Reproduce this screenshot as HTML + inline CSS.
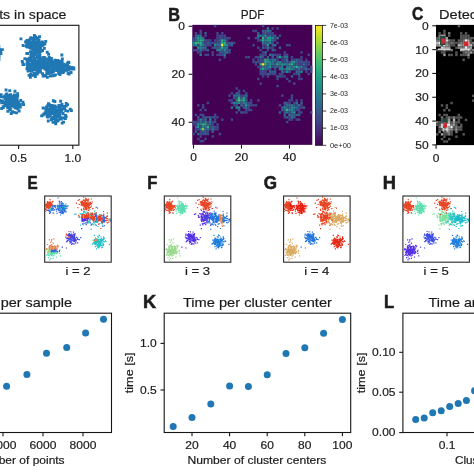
<!DOCTYPE html><html><head><meta charset="utf-8"><style>html,body{margin:0;padding:0;background:#fff;width:474px;height:474px;overflow:hidden}svg{display:block;filter:blur(0.35px);font-family:"Liberation Sans",sans-serif}text{fill:#1c1c1c}</style></head><body><svg width="474" height="474" viewBox="0 0 474 474">
<rect width="474" height="474" fill="#fff"/>
<clipPath id="clipA"><rect x="-40.3" y="25.3" width="119.20" height="119.90"/></clipPath>
<path clip-path="url(#clipA)" fill="#1f77b4" d="M-30.7 49.9h2.9v2.9h-2.9zM-29.4 47.1h2.9v2.9h-2.9zM-31.9 49.0h2.9v2.9h-2.9zM-34.7 41.4h2.9v2.9h-2.9zM-32.8 44.9h2.9v2.9h-2.9zM-35.2 51.0h2.9v2.9h-2.9zM-30.4 40.9h2.9v2.9h-2.9zM-24.7 52.9h2.9v2.9h-2.9zM-32.9 42.4h2.9v2.9h-2.9zM-33.5 52.6h2.9v2.9h-2.9zM-28.5 46.1h2.9v2.9h-2.9zM-29.1 52.7h2.9v2.9h-2.9zM-30.2 50.0h2.9v2.9h-2.9zM-34.9 43.3h2.9v2.9h-2.9zM-30.8 54.6h2.9v2.9h-2.9zM-27.6 55.3h2.9v2.9h-2.9zM-36.8 49.2h2.9v2.9h-2.9zM-32.8 48.4h2.9v2.9h-2.9zM-39.3 48.8h2.9v2.9h-2.9zM-36.5 45.5h2.9v2.9h-2.9zM-39.0 54.0h2.9v2.9h-2.9zM-31.8 47.3h2.9v2.9h-2.9zM-36.4 49.3h2.9v2.9h-2.9zM-29.5 46.3h2.9v2.9h-2.9zM-30.0 47.0h2.9v2.9h-2.9zM-31.6 44.3h2.9v2.9h-2.9zM-33.1 48.9h2.9v2.9h-2.9zM-30.9 53.4h2.9v2.9h-2.9zM-30.2 49.6h2.9v2.9h-2.9zM-37.6 46.7h2.9v2.9h-2.9zM-32.9 48.2h2.9v2.9h-2.9zM-35.1 47.2h2.9v2.9h-2.9zM-34.4 49.5h2.9v2.9h-2.9zM-25.9 48.0h2.9v2.9h-2.9zM-34.4 48.3h2.9v2.9h-2.9zM-30.9 43.9h2.9v2.9h-2.9zM-26.7 46.2h2.9v2.9h-2.9zM-33.3 56.2h2.9v2.9h-2.9zM-31.2 46.8h2.9v2.9h-2.9zM-30.2 45.2h2.9v2.9h-2.9zM-30.4 50.9h2.9v2.9h-2.9zM-36.2 55.2h2.9v2.9h-2.9zM-30.4 43.6h2.9v2.9h-2.9zM-24.6 48.7h2.9v2.9h-2.9zM-37.7 46.9h2.9v2.9h-2.9zM-26.8 42.4h2.9v2.9h-2.9zM-30.2 52.5h2.9v2.9h-2.9zM-33.6 49.4h2.9v2.9h-2.9zM-21.7 49.8h2.9v2.9h-2.9zM-27.3 46.4h2.9v2.9h-2.9zM-36.1 51.3h2.9v2.9h-2.9zM-30.4 47.3h2.9v2.9h-2.9zM-28.1 48.9h2.9v2.9h-2.9zM-31.6 45.0h2.9v2.9h-2.9zM-27.6 44.6h2.9v2.9h-2.9zM-31.0 54.9h2.9v2.9h-2.9zM-27.7 47.4h2.9v2.9h-2.9zM-24.2 50.7h2.9v2.9h-2.9zM-33.8 49.4h2.9v2.9h-2.9zM-29.8 47.7h2.9v2.9h-2.9zM-32.8 47.4h2.9v2.9h-2.9zM-30.1 52.1h2.9v2.9h-2.9zM-36.1 48.3h2.9v2.9h-2.9zM-33.3 48.9h2.9v2.9h-2.9zM-31.6 49.6h2.9v2.9h-2.9zM-26.7 54.3h2.9v2.9h-2.9zM-25.5 52.3h2.9v2.9h-2.9zM-36.7 51.0h2.9v2.9h-2.9zM-34.3 47.2h2.9v2.9h-2.9zM-27.8 43.9h2.9v2.9h-2.9zM-39.7 53.4h2.9v2.9h-2.9zM-32.8 53.4h2.9v2.9h-2.9zM-31.2 48.9h2.9v2.9h-2.9zM-25.0 51.7h2.9v2.9h-2.9zM-27.6 52.7h2.9v2.9h-2.9zM-32.2 52.9h2.9v2.9h-2.9zM-32.4 53.2h2.9v2.9h-2.9zM-31.8 47.6h2.9v2.9h-2.9zM-23.8 55.6h2.9v2.9h-2.9zM-32.6 44.4h2.9v2.9h-2.9zM-32.1 53.0h2.9v2.9h-2.9zM-29.1 51.5h2.9v2.9h-2.9zM-31.3 53.0h2.9v2.9h-2.9zM-31.6 57.1h2.9v2.9h-2.9zM-35.7 55.5h2.9v2.9h-2.9zM-30.8 44.8h2.9v2.9h-2.9zM-32.7 42.6h2.9v2.9h-2.9zM-25.5 52.8h2.9v2.9h-2.9zM-27.8 45.4h2.9v2.9h-2.9zM-30.8 49.4h2.9v2.9h-2.9zM-27.7 52.9h2.9v2.9h-2.9zM-32.2 42.8h2.9v2.9h-2.9zM-26.0 40.9h2.9v2.9h-2.9zM-30.7 50.5h2.9v2.9h-2.9zM-28.1 49.7h2.9v2.9h-2.9zM-36.5 48.5h2.9v2.9h-2.9zM-29.1 49.7h2.9v2.9h-2.9zM-38.3 46.0h2.9v2.9h-2.9zM-39.9 43.4h2.9v2.9h-2.9zM-32.1 48.8h2.9v2.9h-2.9zM-34.8 45.6h2.9v2.9h-2.9zM-30.0 42.8h2.9v2.9h-2.9zM-20.6 51.5h2.9v2.9h-2.9zM-34.5 49.2h2.9v2.9h-2.9zM-33.5 51.1h2.9v2.9h-2.9zM-29.8 45.5h2.9v2.9h-2.9zM-28.5 46.8h2.9v2.9h-2.9zM-31.5 45.4h2.9v2.9h-2.9zM-31.6 45.9h2.9v2.9h-2.9zM-27.5 50.3h2.9v2.9h-2.9zM-28.4 46.3h2.9v2.9h-2.9zM-35.4 50.9h2.9v2.9h-2.9zM-31.1 50.9h2.9v2.9h-2.9zM-30.6 57.7h2.9v2.9h-2.9zM-35.5 43.8h2.9v2.9h-2.9zM-29.5 53.1h2.9v2.9h-2.9zM-34.6 49.1h2.9v2.9h-2.9zM-26.3 49.4h2.9v2.9h-2.9zM-29.8 43.6h2.9v2.9h-2.9zM-34.0 49.4h2.9v2.9h-2.9zM-25.4 40.9h2.9v2.9h-2.9zM-30.1 59.0h2.9v2.9h-2.9zM-32.8 46.5h2.9v2.9h-2.9zM-22.4 54.5h2.9v2.9h-2.9zM-30.9 52.0h2.9v2.9h-2.9zM-35.7 51.1h2.9v2.9h-2.9zM-34.5 42.5h2.9v2.9h-2.9zM-21.1 47.7h2.9v2.9h-2.9zM-30.4 48.3h2.9v2.9h-2.9zM-39.2 57.2h2.9v2.9h-2.9zM-37.5 51.7h2.9v2.9h-2.9zM-22.6 49.5h2.9v2.9h-2.9zM-29.6 59.4h2.9v2.9h-2.9zM-30.4 45.9h2.9v2.9h-2.9zM-31.1 47.0h2.9v2.9h-2.9zM-26.7 55.8h2.9v2.9h-2.9zM-29.2 55.5h2.9v2.9h-2.9zM-38.2 53.8h2.9v2.9h-2.9zM-27.0 50.2h2.9v2.9h-2.9zM-35.6 50.9h2.9v2.9h-2.9zM-22.8 47.9h2.9v2.9h-2.9zM-39.9 48.2h2.9v2.9h-2.9zM-31.7 49.8h2.9v2.9h-2.9zM-2.5 58.2h2.9v2.9h-2.9zM-6.8 50.8h2.9v2.9h-2.9zM-9.6 51.2h2.9v2.9h-2.9zM-11.9 47.7h2.9v2.9h-2.9zM-12.2 63.3h2.9v2.9h-2.9zM-2.1 51.7h2.9v2.9h-2.9zM-7.0 59.3h2.9v2.9h-2.9zM-9.0 49.7h2.9v2.9h-2.9zM-10.9 53.2h2.9v2.9h-2.9zM-14.3 45.3h2.9v2.9h-2.9zM-9.6 50.9h2.9v2.9h-2.9zM-5.4 56.7h2.9v2.9h-2.9zM-11.1 47.1h2.9v2.9h-2.9zM-10.3 57.1h2.9v2.9h-2.9zM-10.3 53.9h2.9v2.9h-2.9zM-8.8 48.0h2.9v2.9h-2.9zM-16.5 50.3h2.9v2.9h-2.9zM-10.4 50.5h2.9v2.9h-2.9zM-13.2 52.3h2.9v2.9h-2.9zM-5.3 50.2h2.9v2.9h-2.9zM-12.8 49.0h2.9v2.9h-2.9zM-6.7 51.2h2.9v2.9h-2.9zM-2.4 48.1h2.9v2.9h-2.9zM-10.7 47.0h2.9v2.9h-2.9zM-12.0 52.3h2.9v2.9h-2.9zM-8.4 56.3h2.9v2.9h-2.9zM-9.3 46.0h2.9v2.9h-2.9zM-13.8 52.5h2.9v2.9h-2.9zM-7.2 49.7h2.9v2.9h-2.9zM-0.2 48.3h2.9v2.9h-2.9zM-10.5 56.1h2.9v2.9h-2.9zM-10.2 50.3h2.9v2.9h-2.9zM-14.0 58.9h2.9v2.9h-2.9zM-7.9 49.2h2.9v2.9h-2.9zM-14.9 54.1h2.9v2.9h-2.9zM-14.3 51.5h2.9v2.9h-2.9zM-3.5 49.3h2.9v2.9h-2.9zM-13.4 55.0h2.9v2.9h-2.9zM-4.4 51.8h2.9v2.9h-2.9zM-2.4 55.1h2.9v2.9h-2.9zM-8.1 52.3h2.9v2.9h-2.9zM-6.8 47.8h2.9v2.9h-2.9zM-0.5 52.1h2.9v2.9h-2.9zM-10.2 52.7h2.9v2.9h-2.9zM-12.0 56.6h2.9v2.9h-2.9zM-15.4 48.6h2.9v2.9h-2.9zM-9.1 52.3h2.9v2.9h-2.9zM-2.6 45.1h2.9v2.9h-2.9zM-5.0 55.3h2.9v2.9h-2.9zM-13.5 47.9h2.9v2.9h-2.9zM-13.2 44.8h2.9v2.9h-2.9zM-11.6 52.2h2.9v2.9h-2.9zM-8.0 57.2h2.9v2.9h-2.9zM-10.2 46.0h2.9v2.9h-2.9zM-8.3 47.8h2.9v2.9h-2.9zM-8.0 49.3h2.9v2.9h-2.9zM-10.6 47.7h2.9v2.9h-2.9zM-9.5 54.1h2.9v2.9h-2.9zM-8.4 49.0h2.9v2.9h-2.9zM-9.7 49.4h2.9v2.9h-2.9zM-7.0 55.0h2.9v2.9h-2.9zM-0.9 49.3h2.9v2.9h-2.9zM-6.6 54.3h2.9v2.9h-2.9zM-9.0 48.3h2.9v2.9h-2.9zM-16.9 47.3h2.9v2.9h-2.9zM-7.5 44.6h2.9v2.9h-2.9zM-18.1 60.4h2.9v2.9h-2.9zM-15.7 51.1h2.9v2.9h-2.9zM-5.4 53.5h2.9v2.9h-2.9zM-6.1 52.4h2.9v2.9h-2.9zM-10.0 53.2h2.9v2.9h-2.9zM-17.0 52.7h2.9v2.9h-2.9zM-11.0 60.6h2.9v2.9h-2.9zM-12.4 48.0h2.9v2.9h-2.9zM-6.4 45.8h2.9v2.9h-2.9zM0.9 48.2h2.9v2.9h-2.9zM-8.3 46.8h2.9v2.9h-2.9zM-12.8 55.7h2.9v2.9h-2.9zM-14.6 56.0h2.9v2.9h-2.9zM-9.6 48.4h2.9v2.9h-2.9zM-10.1 46.5h2.9v2.9h-2.9zM-14.5 51.0h2.9v2.9h-2.9zM-8.8 58.4h2.9v2.9h-2.9zM-4.3 54.7h2.9v2.9h-2.9zM-4.5 47.9h2.9v2.9h-2.9zM-4.4 56.9h2.9v2.9h-2.9zM-11.4 47.9h2.9v2.9h-2.9zM-7.0 51.3h2.9v2.9h-2.9zM-9.9 46.1h2.9v2.9h-2.9zM-11.1 48.3h2.9v2.9h-2.9zM-10.8 58.4h2.9v2.9h-2.9zM-15.2 56.0h2.9v2.9h-2.9zM-15.8 50.8h2.9v2.9h-2.9zM-5.7 48.8h2.9v2.9h-2.9zM-10.2 44.4h2.9v2.9h-2.9zM-8.3 50.8h2.9v2.9h-2.9zM-4.8 52.4h2.9v2.9h-2.9zM-17.1 52.1h2.9v2.9h-2.9zM-12.8 52.1h2.9v2.9h-2.9zM-8.5 47.7h2.9v2.9h-2.9zM-7.5 52.2h2.9v2.9h-2.9zM-11.0 52.3h2.9v2.9h-2.9zM-4.7 58.0h2.9v2.9h-2.9zM-8.4 60.5h2.9v2.9h-2.9zM-14.8 51.9h2.9v2.9h-2.9zM-13.5 49.2h2.9v2.9h-2.9zM-5.7 52.2h2.9v2.9h-2.9zM-7.2 49.9h2.9v2.9h-2.9zM-17.9 49.3h2.9v2.9h-2.9zM-3.2 52.2h2.9v2.9h-2.9zM-6.6 48.0h2.9v2.9h-2.9zM-4.9 51.5h2.9v2.9h-2.9zM-10.0 49.5h2.9v2.9h-2.9zM-7.5 56.3h2.9v2.9h-2.9zM-10.6 41.1h2.9v2.9h-2.9zM-14.5 55.6h2.9v2.9h-2.9zM-16.1 54.1h2.9v2.9h-2.9zM-11.0 54.4h2.9v2.9h-2.9zM-13.3 55.1h2.9v2.9h-2.9zM-7.6 48.0h2.9v2.9h-2.9zM-9.3 50.7h2.9v2.9h-2.9zM-19.1 56.8h2.9v2.9h-2.9zM-8.8 55.4h2.9v2.9h-2.9zM-19.0 53.9h2.9v2.9h-2.9zM-13.7 42.1h2.9v2.9h-2.9zM-11.4 56.2h2.9v2.9h-2.9zM-8.6 59.4h2.9v2.9h-2.9zM-8.2 54.1h2.9v2.9h-2.9zM-10.4 41.8h2.9v2.9h-2.9zM-12.4 58.9h2.9v2.9h-2.9zM-12.0 51.5h2.9v2.9h-2.9zM-16.3 35.2h2.9v2.9h-2.9zM-11.2 55.1h2.9v2.9h-2.9zM-13.3 42.3h2.9v2.9h-2.9zM-8.6 43.6h2.9v2.9h-2.9zM-18.0 48.1h2.9v2.9h-2.9zM-7.6 61.2h2.9v2.9h-2.9zM-8.3 50.0h2.9v2.9h-2.9zM34.5 42.9h2.9v2.9h-2.9zM41.9 42.3h2.9v2.9h-2.9zM41.1 49.0h2.9v2.9h-2.9zM32.7 46.0h2.9v2.9h-2.9zM32.0 46.7h2.9v2.9h-2.9zM26.9 41.7h2.9v2.9h-2.9zM29.8 52.1h2.9v2.9h-2.9zM35.3 51.2h2.9v2.9h-2.9zM35.2 46.3h2.9v2.9h-2.9zM33.7 46.8h2.9v2.9h-2.9zM38.1 35.2h2.9v2.9h-2.9zM29.4 46.6h2.9v2.9h-2.9zM32.9 43.0h2.9v2.9h-2.9zM36.8 45.7h2.9v2.9h-2.9zM36.1 46.8h2.9v2.9h-2.9zM38.5 42.4h2.9v2.9h-2.9zM35.2 36.6h2.9v2.9h-2.9zM31.7 45.4h2.9v2.9h-2.9zM35.0 40.7h2.9v2.9h-2.9zM28.2 42.4h2.9v2.9h-2.9zM25.1 41.3h2.9v2.9h-2.9zM36.1 42.4h2.9v2.9h-2.9zM32.9 34.0h2.9v2.9h-2.9zM34.7 49.1h2.9v2.9h-2.9zM24.8 44.9h2.9v2.9h-2.9zM31.4 48.6h2.9v2.9h-2.9zM30.2 52.3h2.9v2.9h-2.9zM28.9 43.9h2.9v2.9h-2.9zM31.5 40.0h2.9v2.9h-2.9zM37.6 38.7h2.9v2.9h-2.9zM35.1 41.7h2.9v2.9h-2.9zM30.2 44.2h2.9v2.9h-2.9zM33.1 35.3h2.9v2.9h-2.9zM37.0 45.3h2.9v2.9h-2.9zM19.5 37.4h2.9v2.9h-2.9zM32.6 45.1h2.9v2.9h-2.9zM35.9 43.4h2.9v2.9h-2.9zM36.6 42.5h2.9v2.9h-2.9zM41.6 43.5h2.9v2.9h-2.9zM38.8 41.5h2.9v2.9h-2.9zM34.8 41.2h2.9v2.9h-2.9zM34.7 36.7h2.9v2.9h-2.9zM37.1 43.7h2.9v2.9h-2.9zM30.5 51.7h2.9v2.9h-2.9zM33.0 52.3h2.9v2.9h-2.9zM37.7 49.5h2.9v2.9h-2.9zM42.9 46.9h2.9v2.9h-2.9zM32.4 41.0h2.9v2.9h-2.9zM33.0 50.0h2.9v2.9h-2.9zM34.2 43.6h2.9v2.9h-2.9zM39.9 43.6h2.9v2.9h-2.9zM33.0 42.6h2.9v2.9h-2.9zM40.5 44.2h2.9v2.9h-2.9zM28.4 42.0h2.9v2.9h-2.9zM32.3 43.5h2.9v2.9h-2.9zM32.2 39.2h2.9v2.9h-2.9zM37.1 42.3h2.9v2.9h-2.9zM38.4 53.6h2.9v2.9h-2.9zM25.7 43.6h2.9v2.9h-2.9zM28.7 42.8h2.9v2.9h-2.9zM34.9 46.1h2.9v2.9h-2.9zM29.9 46.9h2.9v2.9h-2.9zM25.7 39.1h2.9v2.9h-2.9zM38.3 43.0h2.9v2.9h-2.9zM35.6 47.8h2.9v2.9h-2.9zM35.6 45.0h2.9v2.9h-2.9zM30.8 44.4h2.9v2.9h-2.9zM38.3 50.5h2.9v2.9h-2.9zM32.0 41.0h2.9v2.9h-2.9zM38.6 44.2h2.9v2.9h-2.9zM28.7 41.6h2.9v2.9h-2.9zM29.0 50.2h2.9v2.9h-2.9zM34.2 35.5h2.9v2.9h-2.9zM29.7 41.0h2.9v2.9h-2.9zM36.5 41.6h2.9v2.9h-2.9zM34.5 46.7h2.9v2.9h-2.9zM28.6 46.4h2.9v2.9h-2.9zM33.6 49.8h2.9v2.9h-2.9zM31.5 37.1h2.9v2.9h-2.9zM37.7 47.1h2.9v2.9h-2.9zM30.1 42.6h2.9v2.9h-2.9zM31.0 41.0h2.9v2.9h-2.9zM39.2 46.2h2.9v2.9h-2.9zM44.3 39.9h2.9v2.9h-2.9zM33.5 42.3h2.9v2.9h-2.9zM34.3 37.5h2.9v2.9h-2.9zM40.8 41.1h2.9v2.9h-2.9zM32.6 45.4h2.9v2.9h-2.9zM28.4 45.2h2.9v2.9h-2.9zM33.8 50.6h2.9v2.9h-2.9zM35.4 43.0h2.9v2.9h-2.9zM29.1 37.3h2.9v2.9h-2.9zM25.0 40.6h2.9v2.9h-2.9zM26.1 39.9h2.9v2.9h-2.9zM36.5 38.6h2.9v2.9h-2.9zM29.4 45.7h2.9v2.9h-2.9zM32.5 41.1h2.9v2.9h-2.9zM34.3 35.4h2.9v2.9h-2.9zM36.3 46.8h2.9v2.9h-2.9zM31.5 43.4h2.9v2.9h-2.9zM35.7 45.4h2.9v2.9h-2.9zM28.8 44.3h2.9v2.9h-2.9zM31.4 46.6h2.9v2.9h-2.9zM28.1 44.0h2.9v2.9h-2.9zM38.8 49.1h2.9v2.9h-2.9zM33.1 45.7h2.9v2.9h-2.9zM29.5 45.5h2.9v2.9h-2.9zM31.5 45.6h2.9v2.9h-2.9zM32.1 37.6h2.9v2.9h-2.9zM36.7 43.1h2.9v2.9h-2.9zM25.3 42.7h2.9v2.9h-2.9zM28.1 44.7h2.9v2.9h-2.9zM31.3 38.0h2.9v2.9h-2.9zM45.8 50.8h2.9v2.9h-2.9zM37.9 44.3h2.9v2.9h-2.9zM32.6 38.7h2.9v2.9h-2.9zM36.7 36.6h2.9v2.9h-2.9zM43.4 42.7h2.9v2.9h-2.9zM32.5 48.2h2.9v2.9h-2.9zM27.5 39.9h2.9v2.9h-2.9zM33.9 35.9h2.9v2.9h-2.9zM28.1 38.4h2.9v2.9h-2.9zM37.6 53.8h2.9v2.9h-2.9zM27.5 45.4h2.9v2.9h-2.9zM32.9 51.8h2.9v2.9h-2.9zM41.0 40.6h2.9v2.9h-2.9zM25.2 39.7h2.9v2.9h-2.9zM29.5 42.8h2.9v2.9h-2.9zM39.4 49.1h2.9v2.9h-2.9zM24.1 40.4h2.9v2.9h-2.9zM29.4 43.3h2.9v2.9h-2.9zM33.0 46.1h2.9v2.9h-2.9zM25.4 52.1h2.9v2.9h-2.9zM25.6 40.5h2.9v2.9h-2.9zM21.7 44.0h2.9v2.9h-2.9zM29.9 44.6h2.9v2.9h-2.9zM34.4 52.9h2.9v2.9h-2.9zM31.7 46.0h2.9v2.9h-2.9zM29.5 36.3h2.9v2.9h-2.9zM39.5 49.8h2.9v2.9h-2.9zM32.6 49.1h2.9v2.9h-2.9zM26.2 45.6h2.9v2.9h-2.9zM32.8 66.0h2.9v2.9h-2.9zM40.9 66.1h2.9v2.9h-2.9zM27.5 62.3h2.9v2.9h-2.9zM31.5 73.8h2.9v2.9h-2.9zM34.3 66.0h2.9v2.9h-2.9zM35.7 72.6h2.9v2.9h-2.9zM29.9 68.8h2.9v2.9h-2.9zM33.6 61.2h2.9v2.9h-2.9zM30.7 62.5h2.9v2.9h-2.9zM32.6 66.3h2.9v2.9h-2.9zM31.4 64.6h2.9v2.9h-2.9zM26.4 64.5h2.9v2.9h-2.9zM31.9 62.9h2.9v2.9h-2.9zM36.4 55.8h2.9v2.9h-2.9zM27.3 63.2h2.9v2.9h-2.9zM30.9 53.9h2.9v2.9h-2.9zM35.3 66.0h2.9v2.9h-2.9zM26.7 60.9h2.9v2.9h-2.9zM33.0 60.9h2.9v2.9h-2.9zM26.8 63.3h2.9v2.9h-2.9zM37.7 65.6h2.9v2.9h-2.9zM42.1 56.1h2.9v2.9h-2.9zM31.0 59.3h2.9v2.9h-2.9zM35.7 54.7h2.9v2.9h-2.9zM32.6 59.8h2.9v2.9h-2.9zM32.6 71.8h2.9v2.9h-2.9zM39.7 59.3h2.9v2.9h-2.9zM25.5 67.4h2.9v2.9h-2.9zM37.3 57.8h2.9v2.9h-2.9zM31.8 65.7h2.9v2.9h-2.9zM39.0 62.8h2.9v2.9h-2.9zM33.0 64.0h2.9v2.9h-2.9zM28.7 67.0h2.9v2.9h-2.9zM33.4 72.5h2.9v2.9h-2.9zM35.7 65.2h2.9v2.9h-2.9zM32.2 64.9h2.9v2.9h-2.9zM34.5 59.7h2.9v2.9h-2.9zM29.5 67.0h2.9v2.9h-2.9zM21.5 63.1h2.9v2.9h-2.9zM36.5 68.2h2.9v2.9h-2.9zM35.5 64.1h2.9v2.9h-2.9zM32.8 72.5h2.9v2.9h-2.9zM32.4 55.0h2.9v2.9h-2.9zM37.2 62.9h2.9v2.9h-2.9zM29.8 68.4h2.9v2.9h-2.9zM28.5 62.6h2.9v2.9h-2.9zM31.1 60.6h2.9v2.9h-2.9zM37.9 63.0h2.9v2.9h-2.9zM25.2 57.8h2.9v2.9h-2.9zM38.0 64.9h2.9v2.9h-2.9zM28.9 75.8h2.9v2.9h-2.9zM26.6 69.7h2.9v2.9h-2.9zM38.3 59.1h2.9v2.9h-2.9zM31.6 60.2h2.9v2.9h-2.9zM25.6 62.4h2.9v2.9h-2.9zM30.3 69.0h2.9v2.9h-2.9zM36.7 60.4h2.9v2.9h-2.9zM38.0 61.1h2.9v2.9h-2.9zM29.9 68.5h2.9v2.9h-2.9zM34.1 68.4h2.9v2.9h-2.9zM35.6 62.5h2.9v2.9h-2.9zM28.9 59.0h2.9v2.9h-2.9zM33.8 57.0h2.9v2.9h-2.9zM31.9 61.0h2.9v2.9h-2.9zM29.4 53.8h2.9v2.9h-2.9zM29.6 67.8h2.9v2.9h-2.9zM32.4 61.3h2.9v2.9h-2.9zM32.2 66.6h2.9v2.9h-2.9zM29.2 73.1h2.9v2.9h-2.9zM29.9 69.8h2.9v2.9h-2.9zM37.6 58.9h2.9v2.9h-2.9zM33.1 68.4h2.9v2.9h-2.9zM36.4 69.7h2.9v2.9h-2.9zM38.0 60.8h2.9v2.9h-2.9zM35.0 59.8h2.9v2.9h-2.9zM43.3 63.8h2.9v2.9h-2.9zM28.0 56.8h2.9v2.9h-2.9zM36.1 71.2h2.9v2.9h-2.9zM30.5 53.0h2.9v2.9h-2.9zM41.3 59.1h2.9v2.9h-2.9zM40.5 63.0h2.9v2.9h-2.9zM22.4 63.2h2.9v2.9h-2.9zM27.2 65.1h2.9v2.9h-2.9zM35.3 65.6h2.9v2.9h-2.9zM36.0 63.3h2.9v2.9h-2.9zM35.7 69.6h2.9v2.9h-2.9zM31.7 54.2h2.9v2.9h-2.9zM34.3 64.3h2.9v2.9h-2.9zM35.3 60.9h2.9v2.9h-2.9zM31.7 64.9h2.9v2.9h-2.9zM37.1 65.3h2.9v2.9h-2.9zM20.8 60.0h2.9v2.9h-2.9zM35.2 61.3h2.9v2.9h-2.9zM26.9 68.0h2.9v2.9h-2.9zM36.8 65.9h2.9v2.9h-2.9zM30.9 61.1h2.9v2.9h-2.9zM27.6 73.9h2.9v2.9h-2.9zM33.9 75.1h2.9v2.9h-2.9zM27.5 57.4h2.9v2.9h-2.9zM27.5 65.7h2.9v2.9h-2.9zM31.9 68.0h2.9v2.9h-2.9zM34.5 65.3h2.9v2.9h-2.9zM37.1 63.3h2.9v2.9h-2.9zM31.3 61.8h2.9v2.9h-2.9zM37.2 63.3h2.9v2.9h-2.9zM32.1 61.7h2.9v2.9h-2.9zM31.6 67.8h2.9v2.9h-2.9zM34.9 62.4h2.9v2.9h-2.9zM37.3 62.2h2.9v2.9h-2.9zM30.4 58.6h2.9v2.9h-2.9zM30.8 64.1h2.9v2.9h-2.9zM31.3 60.1h2.9v2.9h-2.9zM32.5 63.4h2.9v2.9h-2.9zM27.6 69.2h2.9v2.9h-2.9zM37.1 66.0h2.9v2.9h-2.9zM30.1 66.7h2.9v2.9h-2.9zM34.3 66.0h2.9v2.9h-2.9zM28.0 64.6h2.9v2.9h-2.9zM31.0 59.7h2.9v2.9h-2.9zM29.6 56.3h2.9v2.9h-2.9zM38.1 64.7h2.9v2.9h-2.9zM23.4 57.2h2.9v2.9h-2.9zM42.7 63.8h2.9v2.9h-2.9zM32.3 65.0h2.9v2.9h-2.9zM28.2 57.9h2.9v2.9h-2.9zM26.7 63.4h2.9v2.9h-2.9zM33.3 63.1h2.9v2.9h-2.9zM26.4 67.6h2.9v2.9h-2.9zM41.1 72.2h2.9v2.9h-2.9zM25.8 60.6h2.9v2.9h-2.9zM26.2 52.0h2.9v2.9h-2.9zM31.7 68.3h2.9v2.9h-2.9zM40.5 64.6h2.9v2.9h-2.9zM37.2 56.7h2.9v2.9h-2.9zM21.4 61.5h2.9v2.9h-2.9zM26.0 64.5h2.9v2.9h-2.9zM34.6 59.8h2.9v2.9h-2.9zM32.1 62.4h2.9v2.9h-2.9zM33.2 47.8h2.9v2.9h-2.9zM34.9 61.8h2.9v2.9h-2.9zM36.9 65.9h2.9v2.9h-2.9zM44.2 61.2h2.9v2.9h-2.9zM42.2 65.3h2.9v2.9h-2.9zM45.6 63.5h2.9v2.9h-2.9zM45.9 75.9h2.9v2.9h-2.9zM45.5 60.8h2.9v2.9h-2.9zM37.4 69.8h2.9v2.9h-2.9zM45.2 63.6h2.9v2.9h-2.9zM42.0 63.3h2.9v2.9h-2.9zM43.4 66.9h2.9v2.9h-2.9zM46.9 67.7h2.9v2.9h-2.9zM48.8 69.3h2.9v2.9h-2.9zM49.9 65.3h2.9v2.9h-2.9zM43.6 61.3h2.9v2.9h-2.9zM50.0 61.6h2.9v2.9h-2.9zM51.2 66.0h2.9v2.9h-2.9zM51.0 66.3h2.9v2.9h-2.9zM52.1 69.8h2.9v2.9h-2.9zM45.2 65.7h2.9v2.9h-2.9zM45.1 68.4h2.9v2.9h-2.9zM49.6 70.3h2.9v2.9h-2.9zM39.7 64.6h2.9v2.9h-2.9zM46.8 57.5h2.9v2.9h-2.9zM43.5 58.8h2.9v2.9h-2.9zM44.2 57.7h2.9v2.9h-2.9zM38.0 70.7h2.9v2.9h-2.9zM41.9 60.2h2.9v2.9h-2.9zM45.8 69.1h2.9v2.9h-2.9zM49.9 66.4h2.9v2.9h-2.9zM50.3 71.2h2.9v2.9h-2.9zM45.5 68.2h2.9v2.9h-2.9zM45.0 63.4h2.9v2.9h-2.9zM42.1 63.0h2.9v2.9h-2.9zM47.7 64.2h2.9v2.9h-2.9zM44.8 64.6h2.9v2.9h-2.9zM48.6 61.6h2.9v2.9h-2.9zM53.8 63.7h2.9v2.9h-2.9zM45.7 70.7h2.9v2.9h-2.9zM39.1 56.6h2.9v2.9h-2.9zM42.0 65.0h2.9v2.9h-2.9zM39.3 60.0h2.9v2.9h-2.9zM40.5 64.7h2.9v2.9h-2.9zM51.8 67.5h2.9v2.9h-2.9zM46.9 63.6h2.9v2.9h-2.9zM39.0 67.2h2.9v2.9h-2.9zM48.8 57.1h2.9v2.9h-2.9zM51.6 68.6h2.9v2.9h-2.9zM44.3 61.3h2.9v2.9h-2.9zM42.8 66.5h2.9v2.9h-2.9zM44.4 64.6h2.9v2.9h-2.9zM47.2 52.8h2.9v2.9h-2.9zM48.8 60.6h2.9v2.9h-2.9zM51.2 64.8h2.9v2.9h-2.9zM51.3 70.5h2.9v2.9h-2.9zM51.2 65.1h2.9v2.9h-2.9zM52.0 65.0h2.9v2.9h-2.9zM48.9 57.8h2.9v2.9h-2.9zM39.0 70.0h2.9v2.9h-2.9zM45.3 71.6h2.9v2.9h-2.9zM47.3 64.0h2.9v2.9h-2.9zM44.1 62.9h2.9v2.9h-2.9zM50.0 57.0h2.9v2.9h-2.9zM44.3 67.6h2.9v2.9h-2.9zM52.4 66.9h2.9v2.9h-2.9zM48.9 69.3h2.9v2.9h-2.9zM46.9 66.2h2.9v2.9h-2.9zM50.1 59.7h2.9v2.9h-2.9zM50.7 69.6h2.9v2.9h-2.9zM47.4 58.6h2.9v2.9h-2.9zM34.8 63.0h2.9v2.9h-2.9zM42.8 65.1h2.9v2.9h-2.9zM43.8 67.6h2.9v2.9h-2.9zM41.4 65.6h2.9v2.9h-2.9zM46.8 65.5h2.9v2.9h-2.9zM51.2 60.6h2.9v2.9h-2.9zM43.7 58.4h2.9v2.9h-2.9zM40.8 64.1h2.9v2.9h-2.9zM55.0 60.8h2.9v2.9h-2.9zM43.8 58.3h2.9v2.9h-2.9zM40.3 58.5h2.9v2.9h-2.9zM46.9 61.8h2.9v2.9h-2.9zM47.8 56.0h2.9v2.9h-2.9zM42.7 58.1h2.9v2.9h-2.9zM49.4 56.9h2.9v2.9h-2.9zM43.7 64.6h2.9v2.9h-2.9zM41.7 65.6h2.9v2.9h-2.9zM46.7 72.4h2.9v2.9h-2.9zM49.3 57.5h2.9v2.9h-2.9zM41.0 61.9h2.9v2.9h-2.9zM52.5 69.0h2.9v2.9h-2.9zM44.3 74.7h2.9v2.9h-2.9zM43.4 56.2h2.9v2.9h-2.9zM37.5 70.4h2.9v2.9h-2.9zM48.3 70.6h2.9v2.9h-2.9zM48.1 64.9h2.9v2.9h-2.9zM36.0 55.9h2.9v2.9h-2.9zM38.8 68.1h2.9v2.9h-2.9zM49.7 59.0h2.9v2.9h-2.9zM50.4 68.7h2.9v2.9h-2.9zM33.0 57.6h2.9v2.9h-2.9zM43.6 73.9h2.9v2.9h-2.9zM48.9 74.7h2.9v2.9h-2.9zM41.7 74.5h2.9v2.9h-2.9zM30.4 63.7h2.9v2.9h-2.9zM51.5 68.9h2.9v2.9h-2.9zM57.1 71.4h2.9v2.9h-2.9zM46.1 65.1h2.9v2.9h-2.9zM48.8 68.6h2.9v2.9h-2.9zM52.7 61.6h2.9v2.9h-2.9zM57.1 70.3h2.9v2.9h-2.9zM57.4 72.2h2.9v2.9h-2.9zM68.5 67.5h2.9v2.9h-2.9zM65.0 68.8h2.9v2.9h-2.9zM57.8 70.6h2.9v2.9h-2.9zM64.6 63.6h2.9v2.9h-2.9zM53.8 67.5h2.9v2.9h-2.9zM56.2 62.8h2.9v2.9h-2.9zM62.9 63.5h2.9v2.9h-2.9zM51.3 63.7h2.9v2.9h-2.9zM56.5 65.5h2.9v2.9h-2.9zM50.9 66.5h2.9v2.9h-2.9zM58.7 67.7h2.9v2.9h-2.9zM66.9 60.7h2.9v2.9h-2.9zM54.0 73.4h2.9v2.9h-2.9zM59.2 70.3h2.9v2.9h-2.9zM53.2 68.7h2.9v2.9h-2.9zM51.8 64.7h2.9v2.9h-2.9zM51.3 65.7h2.9v2.9h-2.9zM65.9 68.0h2.9v2.9h-2.9zM70.8 67.5h2.9v2.9h-2.9zM60.6 59.8h2.9v2.9h-2.9zM54.2 68.8h2.9v2.9h-2.9zM56.2 59.1h2.9v2.9h-2.9zM62.4 69.7h2.9v2.9h-2.9zM59.6 67.4h2.9v2.9h-2.9zM59.5 65.6h2.9v2.9h-2.9zM61.3 71.1h2.9v2.9h-2.9zM54.9 61.6h2.9v2.9h-2.9zM55.8 66.6h2.9v2.9h-2.9zM48.7 71.5h2.9v2.9h-2.9zM55.6 65.3h2.9v2.9h-2.9zM50.3 64.4h2.9v2.9h-2.9zM57.2 66.4h2.9v2.9h-2.9zM52.8 64.3h2.9v2.9h-2.9zM58.6 71.8h2.9v2.9h-2.9zM60.5 62.6h2.9v2.9h-2.9zM50.3 69.3h2.9v2.9h-2.9zM53.6 61.3h2.9v2.9h-2.9zM52.9 68.5h2.9v2.9h-2.9zM62.1 65.6h2.9v2.9h-2.9zM62.6 66.0h2.9v2.9h-2.9zM56.1 62.0h2.9v2.9h-2.9zM66.0 64.3h2.9v2.9h-2.9zM49.8 71.7h2.9v2.9h-2.9zM66.1 61.8h2.9v2.9h-2.9zM54.5 62.0h2.9v2.9h-2.9zM72.4 66.4h2.9v2.9h-2.9zM66.6 71.8h2.9v2.9h-2.9zM52.4 67.2h2.9v2.9h-2.9zM58.9 62.7h2.9v2.9h-2.9zM56.9 65.8h2.9v2.9h-2.9zM58.6 70.6h2.9v2.9h-2.9zM50.0 69.5h2.9v2.9h-2.9zM54.3 66.0h2.9v2.9h-2.9zM60.6 66.2h2.9v2.9h-2.9zM59.2 65.6h2.9v2.9h-2.9zM64.5 63.8h2.9v2.9h-2.9zM58.5 73.2h2.9v2.9h-2.9zM70.7 66.0h2.9v2.9h-2.9zM54.2 61.8h2.9v2.9h-2.9zM59.4 64.2h2.9v2.9h-2.9zM47.7 68.7h2.9v2.9h-2.9zM51.2 68.4h2.9v2.9h-2.9zM65.2 65.5h2.9v2.9h-2.9zM52.9 63.5h2.9v2.9h-2.9zM60.9 66.1h2.9v2.9h-2.9zM57.7 59.8h2.9v2.9h-2.9zM52.4 61.1h2.9v2.9h-2.9zM56.1 69.0h2.9v2.9h-2.9zM55.2 64.2h2.9v2.9h-2.9zM55.4 67.4h2.9v2.9h-2.9zM62.1 70.6h2.9v2.9h-2.9zM61.6 68.4h2.9v2.9h-2.9zM54.9 66.1h2.9v2.9h-2.9zM53.1 73.9h2.9v2.9h-2.9zM59.6 68.5h2.9v2.9h-2.9zM57.5 64.7h2.9v2.9h-2.9zM63.6 68.7h2.9v2.9h-2.9zM72.4 67.5h2.9v2.9h-2.9zM62.6 62.8h2.9v2.9h-2.9zM57.8 66.3h2.9v2.9h-2.9zM57.1 65.4h2.9v2.9h-2.9zM53.4 58.7h2.9v2.9h-2.9zM53.1 65.4h2.9v2.9h-2.9zM52.6 64.9h2.9v2.9h-2.9zM55.9 64.4h2.9v2.9h-2.9zM55.7 59.9h2.9v2.9h-2.9zM62.0 64.7h2.9v2.9h-2.9zM55.9 65.9h2.9v2.9h-2.9zM57.0 66.4h2.9v2.9h-2.9zM51.4 61.8h2.9v2.9h-2.9zM66.9 68.4h2.9v2.9h-2.9zM60.8 61.5h2.9v2.9h-2.9zM67.7 65.2h2.9v2.9h-2.9zM69.6 71.1h2.9v2.9h-2.9zM51.9 61.1h2.9v2.9h-2.9zM53.5 64.8h2.9v2.9h-2.9zM67.6 72.6h2.9v2.9h-2.9zM54.6 63.0h2.9v2.9h-2.9zM55.4 67.1h2.9v2.9h-2.9zM60.0 59.9h2.9v2.9h-2.9zM67.4 61.1h2.9v2.9h-2.9zM49.1 63.6h2.9v2.9h-2.9zM48.4 62.9h2.9v2.9h-2.9zM50.4 62.7h2.9v2.9h-2.9zM50.6 65.0h2.9v2.9h-2.9zM60.7 69.8h2.9v2.9h-2.9zM50.1 67.1h2.9v2.9h-2.9zM61.6 67.2h2.9v2.9h-2.9zM51.6 74.4h2.9v2.9h-2.9zM59.2 67.6h2.9v2.9h-2.9zM60.9 57.6h2.9v2.9h-2.9zM52.4 65.3h2.9v2.9h-2.9zM57.5 65.6h2.9v2.9h-2.9zM49.9 64.6h2.9v2.9h-2.9zM60.4 53.5h2.9v2.9h-2.9zM14.7 94.1h2.9v2.9h-2.9zM8.4 102.3h2.9v2.9h-2.9zM8.2 107.5h2.9v2.9h-2.9zM9.1 97.9h2.9v2.9h-2.9zM9.2 96.4h2.9v2.9h-2.9zM12.4 105.7h2.9v2.9h-2.9zM4.0 101.1h2.9v2.9h-2.9zM5.7 94.7h2.9v2.9h-2.9zM11.8 98.4h2.9v2.9h-2.9zM11.1 96.5h2.9v2.9h-2.9zM8.5 101.9h2.9v2.9h-2.9zM7.5 101.0h2.9v2.9h-2.9zM6.2 106.3h2.9v2.9h-2.9zM10.0 104.1h2.9v2.9h-2.9zM16.2 92.3h2.9v2.9h-2.9zM5.1 102.5h2.9v2.9h-2.9zM17.9 105.0h2.9v2.9h-2.9zM14.5 102.8h2.9v2.9h-2.9zM8.1 105.7h2.9v2.9h-2.9zM14.2 97.6h2.9v2.9h-2.9zM3.1 95.5h2.9v2.9h-2.9zM1.7 105.2h2.9v2.9h-2.9zM3.9 94.9h2.9v2.9h-2.9zM8.3 89.2h2.9v2.9h-2.9zM8.7 105.7h2.9v2.9h-2.9zM7.8 96.7h2.9v2.9h-2.9zM10.8 98.8h2.9v2.9h-2.9zM-0.3 93.2h2.9v2.9h-2.9zM12.8 93.6h2.9v2.9h-2.9zM3.3 94.4h2.9v2.9h-2.9zM7.1 98.5h2.9v2.9h-2.9zM8.3 102.3h2.9v2.9h-2.9zM4.6 88.5h2.9v2.9h-2.9zM3.5 104.3h2.9v2.9h-2.9zM5.3 94.3h2.9v2.9h-2.9zM10.3 94.9h2.9v2.9h-2.9zM13.3 103.9h2.9v2.9h-2.9zM13.1 100.0h2.9v2.9h-2.9zM5.4 92.5h2.9v2.9h-2.9zM6.4 109.9h2.9v2.9h-2.9zM5.8 96.0h2.9v2.9h-2.9zM12.6 101.7h2.9v2.9h-2.9zM0.2 101.4h2.9v2.9h-2.9zM16.5 107.7h2.9v2.9h-2.9zM7.9 98.0h2.9v2.9h-2.9zM6.4 105.6h2.9v2.9h-2.9zM12.0 96.6h2.9v2.9h-2.9zM15.5 106.2h2.9v2.9h-2.9zM12.0 96.5h2.9v2.9h-2.9zM15.6 98.5h2.9v2.9h-2.9zM11.0 110.2h2.9v2.9h-2.9zM16.4 102.0h2.9v2.9h-2.9zM16.5 101.0h2.9v2.9h-2.9zM9.8 112.0h2.9v2.9h-2.9zM17.5 102.3h2.9v2.9h-2.9zM11.1 96.2h2.9v2.9h-2.9zM10.8 104.2h2.9v2.9h-2.9zM5.8 94.3h2.9v2.9h-2.9zM8.9 106.2h2.9v2.9h-2.9zM14.2 106.6h2.9v2.9h-2.9zM3.8 97.4h2.9v2.9h-2.9zM13.6 97.2h2.9v2.9h-2.9zM12.1 101.3h2.9v2.9h-2.9zM11.7 100.5h2.9v2.9h-2.9zM-0.6 95.3h2.9v2.9h-2.9zM9.8 103.3h2.9v2.9h-2.9zM13.5 89.8h2.9v2.9h-2.9zM6.5 98.2h2.9v2.9h-2.9zM10.8 98.3h2.9v2.9h-2.9zM-1.5 99.0h2.9v2.9h-2.9zM13.7 102.0h2.9v2.9h-2.9zM7.0 94.1h2.9v2.9h-2.9zM14.7 103.4h2.9v2.9h-2.9zM1.2 99.5h2.9v2.9h-2.9zM13.8 97.0h2.9v2.9h-2.9zM9.2 93.3h2.9v2.9h-2.9zM14.3 94.3h2.9v2.9h-2.9zM5.7 102.3h2.9v2.9h-2.9zM7.3 95.4h2.9v2.9h-2.9zM21.5 100.7h2.9v2.9h-2.9zM6.2 105.9h2.9v2.9h-2.9zM6.8 105.7h2.9v2.9h-2.9zM9.0 108.5h2.9v2.9h-2.9zM5.3 98.9h2.9v2.9h-2.9zM16.2 94.8h2.9v2.9h-2.9zM18.9 105.7h2.9v2.9h-2.9zM6.8 102.0h2.9v2.9h-2.9zM1.8 106.2h2.9v2.9h-2.9zM16.1 100.5h2.9v2.9h-2.9zM15.8 106.6h2.9v2.9h-2.9zM14.4 104.8h2.9v2.9h-2.9zM16.1 104.1h2.9v2.9h-2.9zM6.0 103.0h2.9v2.9h-2.9zM9.5 102.5h2.9v2.9h-2.9zM3.5 101.6h2.9v2.9h-2.9zM3.3 101.6h2.9v2.9h-2.9zM15.2 105.5h2.9v2.9h-2.9zM7.0 97.8h2.9v2.9h-2.9zM10.7 99.9h2.9v2.9h-2.9zM7.2 105.5h2.9v2.9h-2.9zM14.3 99.9h2.9v2.9h-2.9zM19.3 99.1h2.9v2.9h-2.9zM12.7 110.9h2.9v2.9h-2.9zM7.9 96.1h2.9v2.9h-2.9zM0.2 107.1h2.9v2.9h-2.9zM4.7 98.4h2.9v2.9h-2.9zM7.8 99.9h2.9v2.9h-2.9zM12.0 100.4h2.9v2.9h-2.9zM17.7 109.6h2.9v2.9h-2.9zM2.4 101.4h2.9v2.9h-2.9zM13.1 99.1h2.9v2.9h-2.9zM15.7 98.1h2.9v2.9h-2.9zM4.8 93.0h2.9v2.9h-2.9zM15.1 96.2h2.9v2.9h-2.9zM12.7 100.0h2.9v2.9h-2.9zM2.2 95.7h2.9v2.9h-2.9zM10.2 99.4h2.9v2.9h-2.9zM8.2 95.4h2.9v2.9h-2.9zM15.1 111.4h2.9v2.9h-2.9zM14.6 104.1h2.9v2.9h-2.9zM6.8 100.0h2.9v2.9h-2.9zM22.1 103.1h2.9v2.9h-2.9zM12.4 99.7h2.9v2.9h-2.9zM18.4 102.9h2.9v2.9h-2.9zM21.5 102.9h2.9v2.9h-2.9zM62.3 116.6h2.9v2.9h-2.9zM53.8 107.7h2.9v2.9h-2.9zM66.4 109.7h2.9v2.9h-2.9zM48.7 110.7h2.9v2.9h-2.9zM58.0 112.7h2.9v2.9h-2.9zM48.0 103.3h2.9v2.9h-2.9zM64.7 115.2h2.9v2.9h-2.9zM52.0 117.0h2.9v2.9h-2.9zM53.6 105.1h2.9v2.9h-2.9zM59.4 104.1h2.9v2.9h-2.9zM61.4 112.3h2.9v2.9h-2.9zM47.4 107.5h2.9v2.9h-2.9zM51.9 99.3h2.9v2.9h-2.9zM45.7 114.5h2.9v2.9h-2.9zM54.8 111.4h2.9v2.9h-2.9zM53.3 108.4h2.9v2.9h-2.9zM51.9 120.8h2.9v2.9h-2.9zM49.9 111.3h2.9v2.9h-2.9zM51.7 107.0h2.9v2.9h-2.9zM49.5 111.1h2.9v2.9h-2.9zM57.1 105.7h2.9v2.9h-2.9zM62.9 107.0h2.9v2.9h-2.9zM42.5 112.5h2.9v2.9h-2.9zM53.3 108.0h2.9v2.9h-2.9zM51.5 108.5h2.9v2.9h-2.9zM56.9 118.7h2.9v2.9h-2.9zM48.3 114.8h2.9v2.9h-2.9zM53.1 114.5h2.9v2.9h-2.9zM47.8 113.2h2.9v2.9h-2.9zM58.1 113.0h2.9v2.9h-2.9zM54.5 117.7h2.9v2.9h-2.9zM53.0 110.6h2.9v2.9h-2.9zM56.1 119.6h2.9v2.9h-2.9zM52.5 106.1h2.9v2.9h-2.9zM44.7 109.4h2.9v2.9h-2.9zM57.5 104.0h2.9v2.9h-2.9zM55.6 109.0h2.9v2.9h-2.9zM53.0 113.1h2.9v2.9h-2.9zM59.8 117.6h2.9v2.9h-2.9zM61.1 107.5h2.9v2.9h-2.9zM47.5 110.7h2.9v2.9h-2.9zM49.3 108.9h2.9v2.9h-2.9zM63.1 107.1h2.9v2.9h-2.9zM62.3 104.9h2.9v2.9h-2.9zM49.6 110.9h2.9v2.9h-2.9zM47.0 102.3h2.9v2.9h-2.9zM50.2 111.2h2.9v2.9h-2.9zM51.0 110.8h2.9v2.9h-2.9zM44.6 107.5h2.9v2.9h-2.9zM54.1 105.8h2.9v2.9h-2.9zM46.4 104.0h2.9v2.9h-2.9zM46.8 119.6h2.9v2.9h-2.9zM59.4 104.2h2.9v2.9h-2.9zM49.9 118.1h2.9v2.9h-2.9zM53.5 113.5h2.9v2.9h-2.9zM57.7 108.9h2.9v2.9h-2.9zM58.8 105.1h2.9v2.9h-2.9zM51.9 115.7h2.9v2.9h-2.9zM54.2 119.0h2.9v2.9h-2.9zM49.1 106.2h2.9v2.9h-2.9zM64.3 109.2h2.9v2.9h-2.9zM57.8 115.7h2.9v2.9h-2.9zM47.4 112.3h2.9v2.9h-2.9zM54.0 120.3h2.9v2.9h-2.9zM58.2 107.9h2.9v2.9h-2.9zM56.8 113.3h2.9v2.9h-2.9zM64.8 104.6h2.9v2.9h-2.9zM62.1 120.7h2.9v2.9h-2.9zM50.7 107.1h2.9v2.9h-2.9zM53.4 100.0h2.9v2.9h-2.9zM46.4 110.0h2.9v2.9h-2.9zM55.4 110.0h2.9v2.9h-2.9zM54.8 119.9h2.9v2.9h-2.9zM69.9 109.0h2.9v2.9h-2.9zM54.5 110.6h2.9v2.9h-2.9zM41.6 113.5h2.9v2.9h-2.9zM50.0 118.3h2.9v2.9h-2.9zM54.6 110.3h2.9v2.9h-2.9zM46.5 115.6h2.9v2.9h-2.9zM48.8 113.1h2.9v2.9h-2.9zM51.8 109.2h2.9v2.9h-2.9zM56.0 111.0h2.9v2.9h-2.9zM53.0 110.8h2.9v2.9h-2.9zM48.7 106.2h2.9v2.9h-2.9zM58.6 116.5h2.9v2.9h-2.9zM50.7 104.0h2.9v2.9h-2.9zM51.0 116.3h2.9v2.9h-2.9zM45.8 115.2h2.9v2.9h-2.9zM49.3 110.2h2.9v2.9h-2.9zM57.8 107.0h2.9v2.9h-2.9zM44.4 109.6h2.9v2.9h-2.9zM53.5 112.9h2.9v2.9h-2.9zM58.2 114.2h2.9v2.9h-2.9zM51.7 112.0h2.9v2.9h-2.9zM55.4 115.4h2.9v2.9h-2.9zM47.3 108.0h2.9v2.9h-2.9zM61.7 111.8h2.9v2.9h-2.9zM60.5 103.1h2.9v2.9h-2.9zM55.3 114.3h2.9v2.9h-2.9zM43.6 111.4h2.9v2.9h-2.9zM47.8 108.7h2.9v2.9h-2.9zM59.7 116.2h2.9v2.9h-2.9zM64.1 114.0h2.9v2.9h-2.9zM54.3 122.3h2.9v2.9h-2.9zM40.2 114.4h2.9v2.9h-2.9zM64.0 117.2h2.9v2.9h-2.9zM51.6 120.5h2.9v2.9h-2.9zM57.3 108.6h2.9v2.9h-2.9zM60.0 108.5h2.9v2.9h-2.9zM66.1 103.2h2.9v2.9h-2.9zM68.8 107.7h2.9v2.9h-2.9zM45.1 105.4h2.9v2.9h-2.9zM56.6 114.5h2.9v2.9h-2.9zM60.7 121.7h2.9v2.9h-2.9zM45.1 112.7h2.9v2.9h-2.9zM47.3 108.7h2.9v2.9h-2.9zM49.6 105.2h2.9v2.9h-2.9zM53.5 104.6h2.9v2.9h-2.9zM64.8 102.0h2.9v2.9h-2.9zM41.7 106.5h2.9v2.9h-2.9zM58.4 110.7h2.9v2.9h-2.9zM59.7 109.3h2.9v2.9h-2.9zM59.2 99.8h2.9v2.9h-2.9zM58.4 108.6h2.9v2.9h-2.9zM-31.3 123.3h2.9v2.9h-2.9zM-26.1 122.5h2.9v2.9h-2.9zM-17.6 119.4h2.9v2.9h-2.9zM-28.4 122.8h2.9v2.9h-2.9zM-34.9 112.2h2.9v2.9h-2.9zM-33.9 123.6h2.9v2.9h-2.9zM-35.2 128.4h2.9v2.9h-2.9zM-23.3 123.8h2.9v2.9h-2.9zM-30.7 120.3h2.9v2.9h-2.9zM-26.6 121.4h2.9v2.9h-2.9zM-30.0 121.6h2.9v2.9h-2.9zM-26.4 119.4h2.9v2.9h-2.9zM-19.9 119.2h2.9v2.9h-2.9zM-30.3 117.4h2.9v2.9h-2.9zM-28.6 128.7h2.9v2.9h-2.9zM-30.9 122.3h2.9v2.9h-2.9zM-22.5 127.4h2.9v2.9h-2.9zM-32.0 121.0h2.9v2.9h-2.9zM-32.5 122.7h2.9v2.9h-2.9zM-33.8 121.4h2.9v2.9h-2.9zM-33.9 124.8h2.9v2.9h-2.9zM-24.5 126.7h2.9v2.9h-2.9zM-14.1 123.6h2.9v2.9h-2.9zM-31.8 118.7h2.9v2.9h-2.9zM-22.2 118.2h2.9v2.9h-2.9zM-25.6 131.2h2.9v2.9h-2.9zM-32.3 120.8h2.9v2.9h-2.9zM-28.3 120.8h2.9v2.9h-2.9zM-28.0 130.2h2.9v2.9h-2.9zM-30.3 128.1h2.9v2.9h-2.9zM-17.3 125.2h2.9v2.9h-2.9zM-36.3 120.2h2.9v2.9h-2.9zM-25.0 134.9h2.9v2.9h-2.9zM-25.2 124.4h2.9v2.9h-2.9zM-29.8 125.3h2.9v2.9h-2.9zM-26.1 121.4h2.9v2.9h-2.9zM-22.5 114.8h2.9v2.9h-2.9zM-26.1 115.2h2.9v2.9h-2.9zM-24.8 124.5h2.9v2.9h-2.9zM-23.4 124.4h2.9v2.9h-2.9zM-37.0 121.1h2.9v2.9h-2.9zM-19.5 116.1h2.9v2.9h-2.9zM-15.6 114.6h2.9v2.9h-2.9zM-22.0 120.6h2.9v2.9h-2.9zM-21.9 114.6h2.9v2.9h-2.9zM-33.9 127.1h2.9v2.9h-2.9zM-27.5 128.5h2.9v2.9h-2.9zM-29.8 127.0h2.9v2.9h-2.9zM-22.1 119.2h2.9v2.9h-2.9zM-30.9 117.7h2.9v2.9h-2.9zM-36.3 119.2h2.9v2.9h-2.9zM-27.7 121.4h2.9v2.9h-2.9zM-26.4 127.5h2.9v2.9h-2.9zM-30.4 125.6h2.9v2.9h-2.9zM-30.4 125.5h2.9v2.9h-2.9zM-17.5 123.5h2.9v2.9h-2.9zM-32.9 125.9h2.9v2.9h-2.9zM-32.1 130.1h2.9v2.9h-2.9zM-30.9 116.6h2.9v2.9h-2.9zM-20.9 119.9h2.9v2.9h-2.9zM-16.5 114.9h2.9v2.9h-2.9zM-25.2 131.0h2.9v2.9h-2.9zM-30.4 129.3h2.9v2.9h-2.9zM-29.0 126.4h2.9v2.9h-2.9zM-21.6 115.9h2.9v2.9h-2.9zM-31.4 123.3h2.9v2.9h-2.9zM-19.7 121.1h2.9v2.9h-2.9zM-19.9 122.8h2.9v2.9h-2.9zM-26.5 121.3h2.9v2.9h-2.9zM-23.7 125.1h2.9v2.9h-2.9zM-23.2 120.2h2.9v2.9h-2.9zM-19.2 126.9h2.9v2.9h-2.9zM-32.1 123.6h2.9v2.9h-2.9zM-21.0 120.8h2.9v2.9h-2.9zM-28.7 121.7h2.9v2.9h-2.9zM-30.7 120.0h2.9v2.9h-2.9zM-26.4 126.7h2.9v2.9h-2.9zM-27.9 120.9h2.9v2.9h-2.9zM-31.8 123.9h2.9v2.9h-2.9zM-34.8 120.2h2.9v2.9h-2.9zM-31.6 114.4h2.9v2.9h-2.9zM-19.7 127.2h2.9v2.9h-2.9zM-17.1 116.7h2.9v2.9h-2.9zM-23.7 126.0h2.9v2.9h-2.9zM-21.0 124.6h2.9v2.9h-2.9zM-29.4 113.5h2.9v2.9h-2.9zM-27.3 117.3h2.9v2.9h-2.9zM-25.5 119.6h2.9v2.9h-2.9zM-32.2 118.0h2.9v2.9h-2.9zM-31.8 116.0h2.9v2.9h-2.9zM-26.4 126.3h2.9v2.9h-2.9zM-28.5 121.1h2.9v2.9h-2.9zM-32.2 124.4h2.9v2.9h-2.9zM-25.0 120.0h2.9v2.9h-2.9zM-28.2 124.0h2.9v2.9h-2.9zM-21.8 118.3h2.9v2.9h-2.9zM-26.9 122.2h2.9v2.9h-2.9zM-28.4 125.4h2.9v2.9h-2.9zM-26.2 122.6h2.9v2.9h-2.9zM-27.7 119.9h2.9v2.9h-2.9zM-30.2 116.5h2.9v2.9h-2.9zM-28.9 123.2h2.9v2.9h-2.9zM-23.2 124.2h2.9v2.9h-2.9zM-23.7 121.0h2.9v2.9h-2.9zM-20.5 118.2h2.9v2.9h-2.9zM-35.3 125.2h2.9v2.9h-2.9zM-28.8 135.6h2.9v2.9h-2.9zM-28.9 120.7h2.9v2.9h-2.9zM-26.0 124.1h2.9v2.9h-2.9zM-29.1 124.4h2.9v2.9h-2.9zM-29.4 108.6h2.9v2.9h-2.9zM-23.0 123.0h2.9v2.9h-2.9zM-26.0 118.6h2.9v2.9h-2.9zM-32.7 129.7h2.9v2.9h-2.9zM-20.3 121.0h2.9v2.9h-2.9zM-21.9 118.2h2.9v2.9h-2.9zM-29.7 121.2h2.9v2.9h-2.9zM-22.8 123.2h2.9v2.9h-2.9zM-30.5 119.3h2.9v2.9h-2.9zM-21.3 122.1h2.9v2.9h-2.9zM-28.0 115.1h2.9v2.9h-2.9zM-30.9 121.1h2.9v2.9h-2.9zM-28.7 126.5h2.9v2.9h-2.9zM-30.7 132.9h2.9v2.9h-2.9zM-25.9 126.1h2.9v2.9h-2.9zM-24.7 109.9h2.9v2.9h-2.9zM-17.5 113.4h2.9v2.9h-2.9zM-18.8 127.3h2.9v2.9h-2.9zM-13.7 121.7h2.9v2.9h-2.9zM-18.3 125.6h2.9v2.9h-2.9zM-27.8 106.2h2.9v2.9h-2.9zM-24.8 115.6h2.9v2.9h-2.9zM-25.5 117.6h2.9v2.9h-2.9zM-24.5 122.6h2.9v2.9h-2.9zM-25.3 117.3h2.9v2.9h-2.9zM-33.1 130.3h2.9v2.9h-2.9zM-43.6 121.8h2.9v2.9h-2.9zM-32.2 122.5h2.9v2.9h-2.9zM-26.3 128.4h2.9v2.9h-2.9zM-26.8 118.3h2.9v2.9h-2.9zM-40.2 131.9h2.9v2.9h-2.9zM-21.4 126.3h2.9v2.9h-2.9zM-20.0 123.7h2.9v2.9h-2.9zM-26.1 122.7h2.9v2.9h-2.9zM-36.4 130.4h2.9v2.9h-2.9zM-18.7 125.5h2.9v2.9h-2.9zM-23.4 129.8h2.9v2.9h-2.9zM-23.6 123.3h2.9v2.9h-2.9zM-19.5 133.0h2.9v2.9h-2.9zM-32.6 122.1h2.9v2.9h-2.9zM-31.6 104.6h2.9v2.9h-2.9zM-33.4 133.8h2.9v2.9h-2.9zM-32.9 123.3h2.9v2.9h-2.9zM-27.7 112.3h2.9v2.9h-2.9z"/>
<rect x="-40.30" y="25.30" width="119.20" height="119.90" fill="none" stroke="#151515" stroke-width="1.1"/>
<line x1="-35.60" y1="145.20" x2="-35.60" y2="148.90" stroke="#151515" stroke-width="1.1"/>
<text x="-35.60" y="161.60" font-size="11.08" text-anchor="middle" textLength="16.70" lengthAdjust="spacingAndGlyphs" stroke="#1c1c1c" stroke-width="0.2">0.0</text>
<line x1="18.60" y1="145.20" x2="18.60" y2="148.90" stroke="#151515" stroke-width="1.1"/>
<text x="18.60" y="161.60" font-size="11.08" text-anchor="middle" textLength="16.70" lengthAdjust="spacingAndGlyphs" stroke="#1c1c1c" stroke-width="0.2">0.5</text>
<line x1="72.80" y1="145.20" x2="72.80" y2="148.90" stroke="#151515" stroke-width="1.1"/>
<text x="72.80" y="161.60" font-size="11.08" text-anchor="middle" textLength="16.70" lengthAdjust="spacingAndGlyphs" stroke="#1c1c1c" stroke-width="0.2">1.0</text>
<text x="18.70" y="18.90" font-size="13.45" text-anchor="middle" textLength="95.43" lengthAdjust="spacingAndGlyphs" stroke="#1c1c1c" stroke-width="0.2">Points in space</text>
<rect x="192.3" y="24.85" width="120.00" height="120.00" fill="#440154"/>
<rect x="192.3" y="36.9" width="2.45" height="2.45" fill="#3f4889"/>
<rect x="192.3" y="39.2" width="2.45" height="2.45" fill="#34608d"/>
<rect x="192.3" y="41.7" width="2.45" height="2.45" fill="#228b8d"/>
<rect x="192.3" y="44.0" width="2.45" height="2.45" fill="#2a768e"/>
<rect x="192.3" y="48.9" width="2.45" height="2.45" fill="#3f4889"/>
<rect x="192.3" y="120.8" width="2.45" height="2.45" fill="#34608d"/>
<rect x="192.3" y="123.2" width="2.45" height="2.45" fill="#3f4889"/>
<rect x="192.3" y="132.8" width="2.45" height="2.45" fill="#3f4889"/>
<rect x="194.7" y="32.0" width="2.45" height="2.45" fill="#3f4889"/>
<rect x="194.7" y="34.5" width="2.45" height="2.45" fill="#34608d"/>
<rect x="194.7" y="36.9" width="2.45" height="2.45" fill="#34608d"/>
<rect x="194.7" y="39.2" width="2.45" height="2.45" fill="#34608d"/>
<rect x="194.7" y="41.7" width="2.45" height="2.45" fill="#2fb47c"/>
<rect x="194.7" y="44.0" width="2.45" height="2.45" fill="#228b8d"/>
<rect x="194.7" y="48.9" width="2.45" height="2.45" fill="#3f4889"/>
<rect x="194.7" y="113.7" width="2.45" height="2.45" fill="#3f4889"/>
<rect x="194.7" y="120.8" width="2.45" height="2.45" fill="#3f4889"/>
<rect x="194.7" y="123.2" width="2.45" height="2.45" fill="#3f4889"/>
<rect x="194.7" y="125.7" width="2.45" height="2.45" fill="#34608d"/>
<rect x="194.7" y="128.1" width="2.45" height="2.45" fill="#3f4889"/>
<rect x="194.7" y="130.4" width="2.45" height="2.45" fill="#34608d"/>
<rect x="197.1" y="34.5" width="2.45" height="2.45" fill="#2a768e"/>
<rect x="197.1" y="36.9" width="2.45" height="2.45" fill="#1fa088"/>
<rect x="197.1" y="39.2" width="2.45" height="2.45" fill="#1fa088"/>
<rect x="197.1" y="41.7" width="2.45" height="2.45" fill="#2fb47c"/>
<rect x="197.1" y="44.0" width="2.45" height="2.45" fill="#3f4889"/>
<rect x="197.1" y="46.5" width="2.45" height="2.45" fill="#1fa088"/>
<rect x="197.1" y="48.9" width="2.45" height="2.45" fill="#3f4889"/>
<rect x="197.1" y="51.2" width="2.45" height="2.45" fill="#3f4889"/>
<rect x="197.1" y="104.1" width="2.45" height="2.45" fill="#3f4889"/>
<rect x="197.1" y="116.1" width="2.45" height="2.45" fill="#34608d"/>
<rect x="197.1" y="118.4" width="2.45" height="2.45" fill="#3f4889"/>
<rect x="197.1" y="120.8" width="2.45" height="2.45" fill="#3f4889"/>
<rect x="197.1" y="123.2" width="2.45" height="2.45" fill="#1fa088"/>
<rect x="197.1" y="125.7" width="2.45" height="2.45" fill="#1fa088"/>
<rect x="197.1" y="128.1" width="2.45" height="2.45" fill="#3f4889"/>
<rect x="197.1" y="132.8" width="2.45" height="2.45" fill="#2a768e"/>
<rect x="197.1" y="137.7" width="2.45" height="2.45" fill="#3f4889"/>
<rect x="199.5" y="29.7" width="2.45" height="2.45" fill="#3f4889"/>
<rect x="199.5" y="32.0" width="2.45" height="2.45" fill="#3f4889"/>
<rect x="199.5" y="34.5" width="2.45" height="2.45" fill="#2a768e"/>
<rect x="199.5" y="36.9" width="2.45" height="2.45" fill="#228b8d"/>
<rect x="199.5" y="39.2" width="2.45" height="2.45" fill="#2fb47c"/>
<rect x="199.5" y="41.7" width="2.45" height="2.45" fill="#2fb47c"/>
<rect x="199.5" y="44.0" width="2.45" height="2.45" fill="#1fa088"/>
<rect x="199.5" y="46.5" width="2.45" height="2.45" fill="#228b8d"/>
<rect x="199.5" y="48.9" width="2.45" height="2.45" fill="#2a768e"/>
<rect x="199.5" y="51.2" width="2.45" height="2.45" fill="#3f4889"/>
<rect x="199.5" y="53.6" width="2.45" height="2.45" fill="#2a768e"/>
<rect x="199.5" y="108.8" width="2.45" height="2.45" fill="#3f4889"/>
<rect x="199.5" y="113.7" width="2.45" height="2.45" fill="#3f4889"/>
<rect x="199.5" y="118.4" width="2.45" height="2.45" fill="#228b8d"/>
<rect x="199.5" y="120.8" width="2.45" height="2.45" fill="#2a768e"/>
<rect x="199.5" y="123.2" width="2.45" height="2.45" fill="#228b8d"/>
<rect x="199.5" y="125.7" width="2.45" height="2.45" fill="#3f4889"/>
<rect x="199.5" y="128.1" width="2.45" height="2.45" fill="#228b8d"/>
<rect x="199.5" y="130.4" width="2.45" height="2.45" fill="#3f4889"/>
<rect x="199.5" y="132.8" width="2.45" height="2.45" fill="#3f4889"/>
<rect x="199.5" y="135.2" width="2.45" height="2.45" fill="#3f4889"/>
<rect x="199.5" y="140.0" width="2.45" height="2.45" fill="#3f4889"/>
<rect x="201.9" y="36.9" width="2.45" height="2.45" fill="#2a768e"/>
<rect x="201.9" y="39.2" width="2.45" height="2.45" fill="#1fa088"/>
<rect x="201.9" y="41.7" width="2.45" height="2.45" fill="#34608d"/>
<rect x="201.9" y="44.0" width="2.45" height="2.45" fill="#2a768e"/>
<rect x="201.9" y="46.5" width="2.45" height="2.45" fill="#2a768e"/>
<rect x="201.9" y="48.9" width="2.45" height="2.45" fill="#3f4889"/>
<rect x="201.9" y="104.1" width="2.45" height="2.45" fill="#3f4889"/>
<rect x="201.9" y="106.4" width="2.45" height="2.45" fill="#3f4889"/>
<rect x="201.9" y="113.7" width="2.45" height="2.45" fill="#3f4889"/>
<rect x="201.9" y="116.1" width="2.45" height="2.45" fill="#3f4889"/>
<rect x="201.9" y="118.4" width="2.45" height="2.45" fill="#3f4889"/>
<rect x="201.9" y="120.8" width="2.45" height="2.45" fill="#3f4889"/>
<rect x="201.9" y="123.2" width="2.45" height="2.45" fill="#2fb47c"/>
<rect x="201.9" y="125.7" width="2.45" height="2.45" fill="#228b8d"/>
<rect x="201.9" y="128.1" width="2.45" height="2.45" fill="#8bd646"/>
<rect x="201.9" y="130.4" width="2.45" height="2.45" fill="#34608d"/>
<rect x="201.9" y="132.8" width="2.45" height="2.45" fill="#3f4889"/>
<rect x="201.9" y="140.0" width="2.45" height="2.45" fill="#3f4889"/>
<rect x="204.3" y="32.0" width="2.45" height="2.45" fill="#34608d"/>
<rect x="204.3" y="34.5" width="2.45" height="2.45" fill="#3f4889"/>
<rect x="204.3" y="39.2" width="2.45" height="2.45" fill="#34608d"/>
<rect x="204.3" y="41.7" width="2.45" height="2.45" fill="#3f4889"/>
<rect x="204.3" y="44.0" width="2.45" height="2.45" fill="#34608d"/>
<rect x="204.3" y="46.5" width="2.45" height="2.45" fill="#2a768e"/>
<rect x="204.3" y="48.9" width="2.45" height="2.45" fill="#3f4889"/>
<rect x="204.3" y="53.6" width="2.45" height="2.45" fill="#3f4889"/>
<rect x="204.3" y="108.8" width="2.45" height="2.45" fill="#3f4889"/>
<rect x="204.3" y="116.1" width="2.45" height="2.45" fill="#34608d"/>
<rect x="204.3" y="118.4" width="2.45" height="2.45" fill="#2a768e"/>
<rect x="204.3" y="120.8" width="2.45" height="2.45" fill="#228b8d"/>
<rect x="204.3" y="123.2" width="2.45" height="2.45" fill="#2fb47c"/>
<rect x="204.3" y="125.7" width="2.45" height="2.45" fill="#2a768e"/>
<rect x="204.3" y="128.1" width="2.45" height="2.45" fill="#2a768e"/>
<rect x="204.3" y="130.4" width="2.45" height="2.45" fill="#34608d"/>
<rect x="204.3" y="132.8" width="2.45" height="2.45" fill="#34608d"/>
<rect x="204.3" y="137.7" width="2.45" height="2.45" fill="#3f4889"/>
<rect x="206.7" y="39.2" width="2.45" height="2.45" fill="#3f4889"/>
<rect x="206.7" y="41.7" width="2.45" height="2.45" fill="#34608d"/>
<rect x="206.7" y="44.0" width="2.45" height="2.45" fill="#3f4889"/>
<rect x="206.7" y="48.9" width="2.45" height="2.45" fill="#34608d"/>
<rect x="206.7" y="53.6" width="2.45" height="2.45" fill="#3f4889"/>
<rect x="206.7" y="101.7" width="2.45" height="2.45" fill="#3f4889"/>
<rect x="206.7" y="116.1" width="2.45" height="2.45" fill="#3f4889"/>
<rect x="206.7" y="120.8" width="2.45" height="2.45" fill="#3f4889"/>
<rect x="206.7" y="123.2" width="2.45" height="2.45" fill="#34608d"/>
<rect x="206.7" y="125.7" width="2.45" height="2.45" fill="#2fb47c"/>
<rect x="206.7" y="128.1" width="2.45" height="2.45" fill="#2a768e"/>
<rect x="206.7" y="130.4" width="2.45" height="2.45" fill="#3f4889"/>
<rect x="206.7" y="132.8" width="2.45" height="2.45" fill="#3f4889"/>
<rect x="209.1" y="39.2" width="2.45" height="2.45" fill="#3f4889"/>
<rect x="209.1" y="41.7" width="2.45" height="2.45" fill="#3f4889"/>
<rect x="209.1" y="44.0" width="2.45" height="2.45" fill="#3f4889"/>
<rect x="209.1" y="116.1" width="2.45" height="2.45" fill="#34608d"/>
<rect x="209.1" y="118.4" width="2.45" height="2.45" fill="#228b8d"/>
<rect x="209.1" y="120.8" width="2.45" height="2.45" fill="#2a768e"/>
<rect x="209.1" y="123.2" width="2.45" height="2.45" fill="#2a768e"/>
<rect x="209.1" y="125.7" width="2.45" height="2.45" fill="#3f4889"/>
<rect x="209.1" y="128.1" width="2.45" height="2.45" fill="#3f4889"/>
<rect x="211.5" y="41.7" width="2.45" height="2.45" fill="#3f4889"/>
<rect x="211.5" y="46.5" width="2.45" height="2.45" fill="#3f4889"/>
<rect x="211.5" y="51.2" width="2.45" height="2.45" fill="#3f4889"/>
<rect x="211.5" y="53.6" width="2.45" height="2.45" fill="#3f4889"/>
<rect x="211.5" y="116.1" width="2.45" height="2.45" fill="#3f4889"/>
<rect x="211.5" y="120.8" width="2.45" height="2.45" fill="#3f4889"/>
<rect x="211.5" y="123.2" width="2.45" height="2.45" fill="#3f4889"/>
<rect x="211.5" y="125.7" width="2.45" height="2.45" fill="#34608d"/>
<rect x="211.5" y="128.1" width="2.45" height="2.45" fill="#2a768e"/>
<rect x="211.5" y="130.4" width="2.45" height="2.45" fill="#34608d"/>
<rect x="211.5" y="135.2" width="2.45" height="2.45" fill="#3f4889"/>
<rect x="213.9" y="24.9" width="2.45" height="2.45" fill="#3f4889"/>
<rect x="213.9" y="39.2" width="2.45" height="2.45" fill="#3f4889"/>
<rect x="213.9" y="41.7" width="2.45" height="2.45" fill="#3f4889"/>
<rect x="213.9" y="44.0" width="2.45" height="2.45" fill="#228b8d"/>
<rect x="213.9" y="46.5" width="2.45" height="2.45" fill="#34608d"/>
<rect x="213.9" y="113.7" width="2.45" height="2.45" fill="#3f4889"/>
<rect x="213.9" y="116.1" width="2.45" height="2.45" fill="#3f4889"/>
<rect x="213.9" y="118.4" width="2.45" height="2.45" fill="#3f4889"/>
<rect x="213.9" y="120.8" width="2.45" height="2.45" fill="#3f4889"/>
<rect x="213.9" y="125.7" width="2.45" height="2.45" fill="#3f4889"/>
<rect x="213.9" y="128.1" width="2.45" height="2.45" fill="#3f4889"/>
<rect x="216.3" y="32.0" width="2.45" height="2.45" fill="#3f4889"/>
<rect x="216.3" y="34.5" width="2.45" height="2.45" fill="#3f4889"/>
<rect x="216.3" y="36.9" width="2.45" height="2.45" fill="#3f4889"/>
<rect x="216.3" y="39.2" width="2.45" height="2.45" fill="#3f4889"/>
<rect x="216.3" y="41.7" width="2.45" height="2.45" fill="#34608d"/>
<rect x="216.3" y="44.0" width="2.45" height="2.45" fill="#2a768e"/>
<rect x="216.3" y="46.5" width="2.45" height="2.45" fill="#34608d"/>
<rect x="216.3" y="48.9" width="2.45" height="2.45" fill="#228b8d"/>
<rect x="216.3" y="53.6" width="2.45" height="2.45" fill="#3f4889"/>
<rect x="216.3" y="116.1" width="2.45" height="2.45" fill="#3f4889"/>
<rect x="216.3" y="123.2" width="2.45" height="2.45" fill="#3f4889"/>
<rect x="216.3" y="125.7" width="2.45" height="2.45" fill="#3f4889"/>
<rect x="216.3" y="128.1" width="2.45" height="2.45" fill="#3f4889"/>
<rect x="218.7" y="34.5" width="2.45" height="2.45" fill="#3f4889"/>
<rect x="218.7" y="36.9" width="2.45" height="2.45" fill="#3f4889"/>
<rect x="218.7" y="39.2" width="2.45" height="2.45" fill="#34608d"/>
<rect x="218.7" y="41.7" width="2.45" height="2.45" fill="#34608d"/>
<rect x="218.7" y="44.0" width="2.45" height="2.45" fill="#2a768e"/>
<rect x="218.7" y="46.5" width="2.45" height="2.45" fill="#34608d"/>
<rect x="218.7" y="48.9" width="2.45" height="2.45" fill="#228b8d"/>
<rect x="218.7" y="51.2" width="2.45" height="2.45" fill="#3f4889"/>
<rect x="218.7" y="53.6" width="2.45" height="2.45" fill="#3f4889"/>
<rect x="218.7" y="58.5" width="2.45" height="2.45" fill="#3f4889"/>
<rect x="218.7" y="132.8" width="2.45" height="2.45" fill="#3f4889"/>
<rect x="221.1" y="32.0" width="2.45" height="2.45" fill="#3f4889"/>
<rect x="221.1" y="34.5" width="2.45" height="2.45" fill="#3f4889"/>
<rect x="221.1" y="36.9" width="2.45" height="2.45" fill="#3f4889"/>
<rect x="221.1" y="39.2" width="2.45" height="2.45" fill="#2fb47c"/>
<rect x="221.1" y="41.7" width="2.45" height="2.45" fill="#2fb47c"/>
<rect x="221.1" y="44.0" width="2.45" height="2.45" fill="#fde725"/>
<rect x="221.1" y="46.5" width="2.45" height="2.45" fill="#2fb47c"/>
<rect x="221.1" y="48.9" width="2.45" height="2.45" fill="#34608d"/>
<rect x="221.1" y="51.2" width="2.45" height="2.45" fill="#34608d"/>
<rect x="221.1" y="53.6" width="2.45" height="2.45" fill="#3f4889"/>
<rect x="221.1" y="118.4" width="2.45" height="2.45" fill="#3f4889"/>
<rect x="223.5" y="34.5" width="2.45" height="2.45" fill="#3f4889"/>
<rect x="223.5" y="36.9" width="2.45" height="2.45" fill="#3f4889"/>
<rect x="223.5" y="39.2" width="2.45" height="2.45" fill="#228b8d"/>
<rect x="223.5" y="41.7" width="2.45" height="2.45" fill="#2fb47c"/>
<rect x="223.5" y="44.0" width="2.45" height="2.45" fill="#1fa088"/>
<rect x="223.5" y="46.5" width="2.45" height="2.45" fill="#2a768e"/>
<rect x="223.5" y="48.9" width="2.45" height="2.45" fill="#228b8d"/>
<rect x="223.5" y="51.2" width="2.45" height="2.45" fill="#34608d"/>
<rect x="223.5" y="53.6" width="2.45" height="2.45" fill="#2a768e"/>
<rect x="223.5" y="56.0" width="2.45" height="2.45" fill="#3f4889"/>
<rect x="225.9" y="36.9" width="2.45" height="2.45" fill="#3f4889"/>
<rect x="225.9" y="39.2" width="2.45" height="2.45" fill="#3f4889"/>
<rect x="225.9" y="41.7" width="2.45" height="2.45" fill="#3f4889"/>
<rect x="225.9" y="44.0" width="2.45" height="2.45" fill="#228b8d"/>
<rect x="225.9" y="46.5" width="2.45" height="2.45" fill="#2a768e"/>
<rect x="225.9" y="48.9" width="2.45" height="2.45" fill="#3f4889"/>
<rect x="225.9" y="51.2" width="2.45" height="2.45" fill="#2a768e"/>
<rect x="228.3" y="36.9" width="2.45" height="2.45" fill="#3f4889"/>
<rect x="228.3" y="41.7" width="2.45" height="2.45" fill="#34608d"/>
<rect x="228.3" y="44.0" width="2.45" height="2.45" fill="#3f4889"/>
<rect x="228.3" y="48.9" width="2.45" height="2.45" fill="#34608d"/>
<rect x="228.3" y="51.2" width="2.45" height="2.45" fill="#3f4889"/>
<rect x="228.3" y="94.4" width="2.45" height="2.45" fill="#3f4889"/>
<rect x="228.3" y="99.2" width="2.45" height="2.45" fill="#3f4889"/>
<rect x="230.7" y="41.7" width="2.45" height="2.45" fill="#34608d"/>
<rect x="230.7" y="44.0" width="2.45" height="2.45" fill="#34608d"/>
<rect x="230.7" y="92.1" width="2.45" height="2.45" fill="#3f4889"/>
<rect x="230.7" y="99.2" width="2.45" height="2.45" fill="#3f4889"/>
<rect x="230.7" y="101.7" width="2.45" height="2.45" fill="#3f4889"/>
<rect x="230.7" y="106.4" width="2.45" height="2.45" fill="#2a768e"/>
<rect x="230.7" y="118.4" width="2.45" height="2.45" fill="#3f4889"/>
<rect x="233.1" y="41.7" width="2.45" height="2.45" fill="#3f4889"/>
<rect x="233.1" y="94.4" width="2.45" height="2.45" fill="#2a768e"/>
<rect x="233.1" y="96.8" width="2.45" height="2.45" fill="#34608d"/>
<rect x="233.1" y="101.7" width="2.45" height="2.45" fill="#228b8d"/>
<rect x="233.1" y="104.1" width="2.45" height="2.45" fill="#3f4889"/>
<rect x="235.5" y="87.2" width="2.45" height="2.45" fill="#3f4889"/>
<rect x="235.5" y="92.1" width="2.45" height="2.45" fill="#34608d"/>
<rect x="235.5" y="94.4" width="2.45" height="2.45" fill="#2a768e"/>
<rect x="235.5" y="96.8" width="2.45" height="2.45" fill="#3f4889"/>
<rect x="235.5" y="99.2" width="2.45" height="2.45" fill="#228b8d"/>
<rect x="235.5" y="101.7" width="2.45" height="2.45" fill="#2a768e"/>
<rect x="235.5" y="104.1" width="2.45" height="2.45" fill="#3f4889"/>
<rect x="235.5" y="106.4" width="2.45" height="2.45" fill="#228b8d"/>
<rect x="235.5" y="111.2" width="2.45" height="2.45" fill="#3f4889"/>
<rect x="237.9" y="89.7" width="2.45" height="2.45" fill="#3f4889"/>
<rect x="237.9" y="92.1" width="2.45" height="2.45" fill="#3f4889"/>
<rect x="237.9" y="94.4" width="2.45" height="2.45" fill="#2a768e"/>
<rect x="237.9" y="96.8" width="2.45" height="2.45" fill="#2fb47c"/>
<rect x="237.9" y="99.2" width="2.45" height="2.45" fill="#58c765"/>
<rect x="237.9" y="101.7" width="2.45" height="2.45" fill="#228b8d"/>
<rect x="237.9" y="106.4" width="2.45" height="2.45" fill="#228b8d"/>
<rect x="237.9" y="108.8" width="2.45" height="2.45" fill="#34608d"/>
<rect x="240.3" y="94.4" width="2.45" height="2.45" fill="#3f4889"/>
<rect x="240.3" y="96.8" width="2.45" height="2.45" fill="#34608d"/>
<rect x="240.3" y="99.2" width="2.45" height="2.45" fill="#1fa088"/>
<rect x="240.3" y="101.7" width="2.45" height="2.45" fill="#34608d"/>
<rect x="240.3" y="104.1" width="2.45" height="2.45" fill="#2a768e"/>
<rect x="240.3" y="111.2" width="2.45" height="2.45" fill="#34608d"/>
<rect x="242.7" y="89.7" width="2.45" height="2.45" fill="#3f4889"/>
<rect x="242.7" y="94.4" width="2.45" height="2.45" fill="#3f4889"/>
<rect x="242.7" y="96.8" width="2.45" height="2.45" fill="#1fa088"/>
<rect x="242.7" y="99.2" width="2.45" height="2.45" fill="#2fb47c"/>
<rect x="242.7" y="101.7" width="2.45" height="2.45" fill="#2a768e"/>
<rect x="242.7" y="104.1" width="2.45" height="2.45" fill="#3f4889"/>
<rect x="242.7" y="106.4" width="2.45" height="2.45" fill="#34608d"/>
<rect x="242.7" y="111.2" width="2.45" height="2.45" fill="#3f4889"/>
<rect x="245.1" y="56.0" width="2.45" height="2.45" fill="#3f4889"/>
<rect x="245.1" y="92.1" width="2.45" height="2.45" fill="#3f4889"/>
<rect x="245.1" y="94.4" width="2.45" height="2.45" fill="#2a768e"/>
<rect x="245.1" y="96.8" width="2.45" height="2.45" fill="#3f4889"/>
<rect x="245.1" y="99.2" width="2.45" height="2.45" fill="#34608d"/>
<rect x="245.1" y="101.7" width="2.45" height="2.45" fill="#2a768e"/>
<rect x="245.1" y="104.1" width="2.45" height="2.45" fill="#1fa088"/>
<rect x="245.1" y="106.4" width="2.45" height="2.45" fill="#2a768e"/>
<rect x="245.1" y="108.8" width="2.45" height="2.45" fill="#3f4889"/>
<rect x="245.1" y="111.2" width="2.45" height="2.45" fill="#3f4889"/>
<rect x="247.5" y="36.9" width="2.45" height="2.45" fill="#3f4889"/>
<rect x="247.5" y="56.0" width="2.45" height="2.45" fill="#3f4889"/>
<rect x="247.5" y="101.7" width="2.45" height="2.45" fill="#3f4889"/>
<rect x="247.5" y="104.1" width="2.45" height="2.45" fill="#34608d"/>
<rect x="247.5" y="106.4" width="2.45" height="2.45" fill="#3f4889"/>
<rect x="247.5" y="108.8" width="2.45" height="2.45" fill="#3f4889"/>
<rect x="249.9" y="99.2" width="2.45" height="2.45" fill="#3f4889"/>
<rect x="249.9" y="101.7" width="2.45" height="2.45" fill="#3f4889"/>
<rect x="249.9" y="104.1" width="2.45" height="2.45" fill="#3f4889"/>
<rect x="249.9" y="108.8" width="2.45" height="2.45" fill="#3f4889"/>
<rect x="252.3" y="29.7" width="2.45" height="2.45" fill="#3f4889"/>
<rect x="252.3" y="44.0" width="2.45" height="2.45" fill="#3f4889"/>
<rect x="252.3" y="58.5" width="2.45" height="2.45" fill="#3f4889"/>
<rect x="252.3" y="60.9" width="2.45" height="2.45" fill="#3f4889"/>
<rect x="252.3" y="104.1" width="2.45" height="2.45" fill="#3f4889"/>
<rect x="254.7" y="29.7" width="2.45" height="2.45" fill="#3f4889"/>
<rect x="254.7" y="36.9" width="2.45" height="2.45" fill="#3f4889"/>
<rect x="254.7" y="56.0" width="2.45" height="2.45" fill="#3f4889"/>
<rect x="254.7" y="60.9" width="2.45" height="2.45" fill="#3f4889"/>
<rect x="254.7" y="63.2" width="2.45" height="2.45" fill="#3f4889"/>
<rect x="254.7" y="104.1" width="2.45" height="2.45" fill="#3f4889"/>
<rect x="257.1" y="32.0" width="2.45" height="2.45" fill="#34608d"/>
<rect x="257.1" y="34.5" width="2.45" height="2.45" fill="#228b8d"/>
<rect x="257.1" y="36.9" width="2.45" height="2.45" fill="#34608d"/>
<rect x="257.1" y="39.2" width="2.45" height="2.45" fill="#3f4889"/>
<rect x="257.1" y="46.5" width="2.45" height="2.45" fill="#3f4889"/>
<rect x="257.1" y="56.0" width="2.45" height="2.45" fill="#3f4889"/>
<rect x="257.1" y="58.5" width="2.45" height="2.45" fill="#3f4889"/>
<rect x="257.1" y="60.9" width="2.45" height="2.45" fill="#3f4889"/>
<rect x="257.1" y="65.7" width="2.45" height="2.45" fill="#3f4889"/>
<rect x="257.1" y="77.7" width="2.45" height="2.45" fill="#3f4889"/>
<rect x="257.1" y="99.2" width="2.45" height="2.45" fill="#3f4889"/>
<rect x="259.5" y="34.5" width="2.45" height="2.45" fill="#2a768e"/>
<rect x="259.5" y="39.2" width="2.45" height="2.45" fill="#34608d"/>
<rect x="259.5" y="48.9" width="2.45" height="2.45" fill="#3f4889"/>
<rect x="259.5" y="53.6" width="2.45" height="2.45" fill="#3f4889"/>
<rect x="259.5" y="56.0" width="2.45" height="2.45" fill="#2a768e"/>
<rect x="259.5" y="58.5" width="2.45" height="2.45" fill="#3f4889"/>
<rect x="259.5" y="60.9" width="2.45" height="2.45" fill="#3f4889"/>
<rect x="259.5" y="63.2" width="2.45" height="2.45" fill="#2fb47c"/>
<rect x="259.5" y="65.7" width="2.45" height="2.45" fill="#3f4889"/>
<rect x="259.5" y="68.0" width="2.45" height="2.45" fill="#2a768e"/>
<rect x="259.5" y="70.5" width="2.45" height="2.45" fill="#3f4889"/>
<rect x="259.5" y="72.8" width="2.45" height="2.45" fill="#3f4889"/>
<rect x="259.5" y="82.4" width="2.45" height="2.45" fill="#3f4889"/>
<rect x="261.9" y="24.9" width="2.45" height="2.45" fill="#3f4889"/>
<rect x="261.9" y="29.7" width="2.45" height="2.45" fill="#34608d"/>
<rect x="261.9" y="32.0" width="2.45" height="2.45" fill="#3f4889"/>
<rect x="261.9" y="34.5" width="2.45" height="2.45" fill="#34608d"/>
<rect x="261.9" y="36.9" width="2.45" height="2.45" fill="#2fb47c"/>
<rect x="261.9" y="39.2" width="2.45" height="2.45" fill="#2fb47c"/>
<rect x="261.9" y="41.7" width="2.45" height="2.45" fill="#2a768e"/>
<rect x="261.9" y="44.0" width="2.45" height="2.45" fill="#3f4889"/>
<rect x="261.9" y="46.5" width="2.45" height="2.45" fill="#34608d"/>
<rect x="261.9" y="51.2" width="2.45" height="2.45" fill="#3f4889"/>
<rect x="261.9" y="53.6" width="2.45" height="2.45" fill="#3f4889"/>
<rect x="261.9" y="56.0" width="2.45" height="2.45" fill="#3f4889"/>
<rect x="261.9" y="58.5" width="2.45" height="2.45" fill="#3f4889"/>
<rect x="261.9" y="60.9" width="2.45" height="2.45" fill="#3f4889"/>
<rect x="261.9" y="63.2" width="2.45" height="2.45" fill="#fde725"/>
<rect x="261.9" y="65.7" width="2.45" height="2.45" fill="#2a768e"/>
<rect x="261.9" y="68.0" width="2.45" height="2.45" fill="#1fa088"/>
<rect x="261.9" y="70.5" width="2.45" height="2.45" fill="#3f4889"/>
<rect x="261.9" y="72.8" width="2.45" height="2.45" fill="#3f4889"/>
<rect x="261.9" y="75.2" width="2.45" height="2.45" fill="#3f4889"/>
<rect x="264.3" y="29.7" width="2.45" height="2.45" fill="#34608d"/>
<rect x="264.3" y="32.0" width="2.45" height="2.45" fill="#34608d"/>
<rect x="264.3" y="34.5" width="2.45" height="2.45" fill="#1fa088"/>
<rect x="264.3" y="36.9" width="2.45" height="2.45" fill="#34608d"/>
<rect x="264.3" y="39.2" width="2.45" height="2.45" fill="#228b8d"/>
<rect x="264.3" y="41.7" width="2.45" height="2.45" fill="#2a768e"/>
<rect x="264.3" y="44.0" width="2.45" height="2.45" fill="#3f4889"/>
<rect x="264.3" y="46.5" width="2.45" height="2.45" fill="#3f4889"/>
<rect x="264.3" y="51.2" width="2.45" height="2.45" fill="#2a768e"/>
<rect x="264.3" y="53.6" width="2.45" height="2.45" fill="#3f4889"/>
<rect x="264.3" y="58.5" width="2.45" height="2.45" fill="#2fb47c"/>
<rect x="264.3" y="60.9" width="2.45" height="2.45" fill="#2fb47c"/>
<rect x="264.3" y="63.2" width="2.45" height="2.45" fill="#2fb47c"/>
<rect x="264.3" y="65.7" width="2.45" height="2.45" fill="#2a768e"/>
<rect x="264.3" y="68.0" width="2.45" height="2.45" fill="#2a768e"/>
<rect x="264.3" y="70.5" width="2.45" height="2.45" fill="#3f4889"/>
<rect x="264.3" y="72.8" width="2.45" height="2.45" fill="#3f4889"/>
<rect x="266.7" y="27.2" width="2.45" height="2.45" fill="#228b8d"/>
<rect x="266.7" y="29.7" width="2.45" height="2.45" fill="#2a768e"/>
<rect x="266.7" y="32.0" width="2.45" height="2.45" fill="#3f4889"/>
<rect x="266.7" y="34.5" width="2.45" height="2.45" fill="#3f4889"/>
<rect x="266.7" y="36.9" width="2.45" height="2.45" fill="#1fa088"/>
<rect x="266.7" y="39.2" width="2.45" height="2.45" fill="#1fa088"/>
<rect x="266.7" y="41.7" width="2.45" height="2.45" fill="#34608d"/>
<rect x="266.7" y="44.0" width="2.45" height="2.45" fill="#1fa088"/>
<rect x="266.7" y="46.5" width="2.45" height="2.45" fill="#2a768e"/>
<rect x="266.7" y="48.9" width="2.45" height="2.45" fill="#3f4889"/>
<rect x="266.7" y="56.0" width="2.45" height="2.45" fill="#34608d"/>
<rect x="266.7" y="58.5" width="2.45" height="2.45" fill="#228b8d"/>
<rect x="266.7" y="60.9" width="2.45" height="2.45" fill="#228b8d"/>
<rect x="266.7" y="63.2" width="2.45" height="2.45" fill="#2a768e"/>
<rect x="266.7" y="65.7" width="2.45" height="2.45" fill="#2a768e"/>
<rect x="266.7" y="68.0" width="2.45" height="2.45" fill="#34608d"/>
<rect x="266.7" y="72.8" width="2.45" height="2.45" fill="#34608d"/>
<rect x="266.7" y="75.2" width="2.45" height="2.45" fill="#3f4889"/>
<rect x="269.1" y="29.7" width="2.45" height="2.45" fill="#34608d"/>
<rect x="269.1" y="32.0" width="2.45" height="2.45" fill="#3f4889"/>
<rect x="269.1" y="34.5" width="2.45" height="2.45" fill="#2a768e"/>
<rect x="269.1" y="36.9" width="2.45" height="2.45" fill="#1fa088"/>
<rect x="269.1" y="39.2" width="2.45" height="2.45" fill="#1fa088"/>
<rect x="269.1" y="41.7" width="2.45" height="2.45" fill="#228b8d"/>
<rect x="269.1" y="46.5" width="2.45" height="2.45" fill="#3f4889"/>
<rect x="269.1" y="53.6" width="2.45" height="2.45" fill="#2a768e"/>
<rect x="269.1" y="58.5" width="2.45" height="2.45" fill="#34608d"/>
<rect x="269.1" y="60.9" width="2.45" height="2.45" fill="#228b8d"/>
<rect x="269.1" y="63.2" width="2.45" height="2.45" fill="#1fa088"/>
<rect x="269.1" y="65.7" width="2.45" height="2.45" fill="#1fa088"/>
<rect x="269.1" y="68.0" width="2.45" height="2.45" fill="#3f4889"/>
<rect x="269.1" y="70.5" width="2.45" height="2.45" fill="#2a768e"/>
<rect x="269.1" y="72.8" width="2.45" height="2.45" fill="#3f4889"/>
<rect x="271.5" y="27.2" width="2.45" height="2.45" fill="#3f4889"/>
<rect x="271.5" y="32.0" width="2.45" height="2.45" fill="#3f4889"/>
<rect x="271.5" y="34.5" width="2.45" height="2.45" fill="#3f4889"/>
<rect x="271.5" y="36.9" width="2.45" height="2.45" fill="#228b8d"/>
<rect x="271.5" y="39.2" width="2.45" height="2.45" fill="#2a768e"/>
<rect x="271.5" y="41.7" width="2.45" height="2.45" fill="#3f4889"/>
<rect x="271.5" y="44.0" width="2.45" height="2.45" fill="#34608d"/>
<rect x="271.5" y="46.5" width="2.45" height="2.45" fill="#3f4889"/>
<rect x="271.5" y="48.9" width="2.45" height="2.45" fill="#34608d"/>
<rect x="271.5" y="53.6" width="2.45" height="2.45" fill="#34608d"/>
<rect x="271.5" y="56.0" width="2.45" height="2.45" fill="#34608d"/>
<rect x="271.5" y="58.5" width="2.45" height="2.45" fill="#2a768e"/>
<rect x="271.5" y="60.9" width="2.45" height="2.45" fill="#2a768e"/>
<rect x="271.5" y="63.2" width="2.45" height="2.45" fill="#2a768e"/>
<rect x="271.5" y="65.7" width="2.45" height="2.45" fill="#3f4889"/>
<rect x="271.5" y="70.5" width="2.45" height="2.45" fill="#34608d"/>
<rect x="271.5" y="72.8" width="2.45" height="2.45" fill="#3f4889"/>
<rect x="273.9" y="34.5" width="2.45" height="2.45" fill="#34608d"/>
<rect x="273.9" y="36.9" width="2.45" height="2.45" fill="#3f4889"/>
<rect x="273.9" y="39.2" width="2.45" height="2.45" fill="#3f4889"/>
<rect x="273.9" y="44.0" width="2.45" height="2.45" fill="#2a768e"/>
<rect x="273.9" y="48.9" width="2.45" height="2.45" fill="#3f4889"/>
<rect x="273.9" y="53.6" width="2.45" height="2.45" fill="#3f4889"/>
<rect x="273.9" y="58.5" width="2.45" height="2.45" fill="#2a768e"/>
<rect x="273.9" y="60.9" width="2.45" height="2.45" fill="#3f4889"/>
<rect x="273.9" y="63.2" width="2.45" height="2.45" fill="#34608d"/>
<rect x="273.9" y="65.7" width="2.45" height="2.45" fill="#34608d"/>
<rect x="273.9" y="68.0" width="2.45" height="2.45" fill="#3f4889"/>
<rect x="273.9" y="70.5" width="2.45" height="2.45" fill="#34608d"/>
<rect x="273.9" y="72.8" width="2.45" height="2.45" fill="#3f4889"/>
<rect x="276.3" y="27.2" width="2.45" height="2.45" fill="#3f4889"/>
<rect x="276.3" y="36.9" width="2.45" height="2.45" fill="#2a768e"/>
<rect x="276.3" y="41.7" width="2.45" height="2.45" fill="#3f4889"/>
<rect x="276.3" y="53.6" width="2.45" height="2.45" fill="#3f4889"/>
<rect x="276.3" y="56.0" width="2.45" height="2.45" fill="#34608d"/>
<rect x="276.3" y="58.5" width="2.45" height="2.45" fill="#3f4889"/>
<rect x="276.3" y="60.9" width="2.45" height="2.45" fill="#2a768e"/>
<rect x="276.3" y="63.2" width="2.45" height="2.45" fill="#2fb47c"/>
<rect x="276.3" y="65.7" width="2.45" height="2.45" fill="#34608d"/>
<rect x="276.3" y="75.2" width="2.45" height="2.45" fill="#34608d"/>
<rect x="276.3" y="77.7" width="2.45" height="2.45" fill="#3f4889"/>
<rect x="276.3" y="84.8" width="2.45" height="2.45" fill="#3f4889"/>
<rect x="278.7" y="34.5" width="2.45" height="2.45" fill="#3f4889"/>
<rect x="278.7" y="46.5" width="2.45" height="2.45" fill="#34608d"/>
<rect x="278.7" y="53.6" width="2.45" height="2.45" fill="#3f4889"/>
<rect x="278.7" y="56.0" width="2.45" height="2.45" fill="#1fa088"/>
<rect x="278.7" y="60.9" width="2.45" height="2.45" fill="#228b8d"/>
<rect x="278.7" y="63.2" width="2.45" height="2.45" fill="#2a768e"/>
<rect x="278.7" y="65.7" width="2.45" height="2.45" fill="#34608d"/>
<rect x="278.7" y="68.0" width="2.45" height="2.45" fill="#2a768e"/>
<rect x="278.7" y="72.8" width="2.45" height="2.45" fill="#3f4889"/>
<rect x="278.7" y="75.2" width="2.45" height="2.45" fill="#3f4889"/>
<rect x="278.7" y="104.1" width="2.45" height="2.45" fill="#3f4889"/>
<rect x="278.7" y="111.2" width="2.45" height="2.45" fill="#34608d"/>
<rect x="281.1" y="56.0" width="2.45" height="2.45" fill="#3f4889"/>
<rect x="281.1" y="58.5" width="2.45" height="2.45" fill="#3f4889"/>
<rect x="281.1" y="60.9" width="2.45" height="2.45" fill="#3f4889"/>
<rect x="281.1" y="63.2" width="2.45" height="2.45" fill="#1fa088"/>
<rect x="281.1" y="65.7" width="2.45" height="2.45" fill="#2a768e"/>
<rect x="281.1" y="68.0" width="2.45" height="2.45" fill="#228b8d"/>
<rect x="281.1" y="70.5" width="2.45" height="2.45" fill="#2a768e"/>
<rect x="281.1" y="72.8" width="2.45" height="2.45" fill="#3f4889"/>
<rect x="281.1" y="75.2" width="2.45" height="2.45" fill="#3f4889"/>
<rect x="281.1" y="94.4" width="2.45" height="2.45" fill="#3f4889"/>
<rect x="281.1" y="106.4" width="2.45" height="2.45" fill="#34608d"/>
<rect x="281.1" y="108.8" width="2.45" height="2.45" fill="#34608d"/>
<rect x="283.5" y="51.2" width="2.45" height="2.45" fill="#3f4889"/>
<rect x="283.5" y="53.6" width="2.45" height="2.45" fill="#3f4889"/>
<rect x="283.5" y="56.0" width="2.45" height="2.45" fill="#2a768e"/>
<rect x="283.5" y="58.5" width="2.45" height="2.45" fill="#3f4889"/>
<rect x="283.5" y="60.9" width="2.45" height="2.45" fill="#3f4889"/>
<rect x="283.5" y="63.2" width="2.45" height="2.45" fill="#228b8d"/>
<rect x="283.5" y="68.0" width="2.45" height="2.45" fill="#34608d"/>
<rect x="283.5" y="70.5" width="2.45" height="2.45" fill="#3f4889"/>
<rect x="283.5" y="75.2" width="2.45" height="2.45" fill="#3f4889"/>
<rect x="283.5" y="101.7" width="2.45" height="2.45" fill="#34608d"/>
<rect x="283.5" y="104.1" width="2.45" height="2.45" fill="#3f4889"/>
<rect x="283.5" y="106.4" width="2.45" height="2.45" fill="#228b8d"/>
<rect x="283.5" y="108.8" width="2.45" height="2.45" fill="#34608d"/>
<rect x="283.5" y="111.2" width="2.45" height="2.45" fill="#34608d"/>
<rect x="283.5" y="113.7" width="2.45" height="2.45" fill="#34608d"/>
<rect x="283.5" y="116.1" width="2.45" height="2.45" fill="#3f4889"/>
<rect x="285.9" y="44.0" width="2.45" height="2.45" fill="#3f4889"/>
<rect x="285.9" y="53.6" width="2.45" height="2.45" fill="#3f4889"/>
<rect x="285.9" y="56.0" width="2.45" height="2.45" fill="#2a768e"/>
<rect x="285.9" y="58.5" width="2.45" height="2.45" fill="#2a768e"/>
<rect x="285.9" y="60.9" width="2.45" height="2.45" fill="#34608d"/>
<rect x="285.9" y="63.2" width="2.45" height="2.45" fill="#2a768e"/>
<rect x="285.9" y="65.7" width="2.45" height="2.45" fill="#2a768e"/>
<rect x="285.9" y="68.0" width="2.45" height="2.45" fill="#228b8d"/>
<rect x="285.9" y="70.5" width="2.45" height="2.45" fill="#228b8d"/>
<rect x="285.9" y="77.7" width="2.45" height="2.45" fill="#3f4889"/>
<rect x="285.9" y="101.7" width="2.45" height="2.45" fill="#3f4889"/>
<rect x="285.9" y="104.1" width="2.45" height="2.45" fill="#2a768e"/>
<rect x="285.9" y="106.4" width="2.45" height="2.45" fill="#34608d"/>
<rect x="285.9" y="108.8" width="2.45" height="2.45" fill="#2fb47c"/>
<rect x="285.9" y="111.2" width="2.45" height="2.45" fill="#2a768e"/>
<rect x="285.9" y="116.1" width="2.45" height="2.45" fill="#34608d"/>
<rect x="285.9" y="120.8" width="2.45" height="2.45" fill="#3f4889"/>
<rect x="288.3" y="44.0" width="2.45" height="2.45" fill="#3f4889"/>
<rect x="288.3" y="60.9" width="2.45" height="2.45" fill="#3f4889"/>
<rect x="288.3" y="63.2" width="2.45" height="2.45" fill="#1fa088"/>
<rect x="288.3" y="65.7" width="2.45" height="2.45" fill="#228b8d"/>
<rect x="288.3" y="68.0" width="2.45" height="2.45" fill="#1fa088"/>
<rect x="288.3" y="70.5" width="2.45" height="2.45" fill="#34608d"/>
<rect x="288.3" y="80.0" width="2.45" height="2.45" fill="#3f4889"/>
<rect x="288.3" y="99.2" width="2.45" height="2.45" fill="#3f4889"/>
<rect x="288.3" y="101.7" width="2.45" height="2.45" fill="#3f4889"/>
<rect x="288.3" y="104.1" width="2.45" height="2.45" fill="#2a768e"/>
<rect x="288.3" y="106.4" width="2.45" height="2.45" fill="#34608d"/>
<rect x="288.3" y="108.8" width="2.45" height="2.45" fill="#228b8d"/>
<rect x="288.3" y="111.2" width="2.45" height="2.45" fill="#34608d"/>
<rect x="288.3" y="113.7" width="2.45" height="2.45" fill="#2a768e"/>
<rect x="288.3" y="116.1" width="2.45" height="2.45" fill="#3f4889"/>
<rect x="288.3" y="118.4" width="2.45" height="2.45" fill="#3f4889"/>
<rect x="290.7" y="56.0" width="2.45" height="2.45" fill="#3f4889"/>
<rect x="290.7" y="58.5" width="2.45" height="2.45" fill="#3f4889"/>
<rect x="290.7" y="60.9" width="2.45" height="2.45" fill="#228b8d"/>
<rect x="290.7" y="63.2" width="2.45" height="2.45" fill="#2fb47c"/>
<rect x="290.7" y="65.7" width="2.45" height="2.45" fill="#34608d"/>
<rect x="290.7" y="68.0" width="2.45" height="2.45" fill="#2a768e"/>
<rect x="290.7" y="75.2" width="2.45" height="2.45" fill="#34608d"/>
<rect x="290.7" y="94.4" width="2.45" height="2.45" fill="#3f4889"/>
<rect x="290.7" y="96.8" width="2.45" height="2.45" fill="#3f4889"/>
<rect x="290.7" y="99.2" width="2.45" height="2.45" fill="#3f4889"/>
<rect x="290.7" y="104.1" width="2.45" height="2.45" fill="#2a768e"/>
<rect x="290.7" y="106.4" width="2.45" height="2.45" fill="#228b8d"/>
<rect x="290.7" y="108.8" width="2.45" height="2.45" fill="#228b8d"/>
<rect x="290.7" y="111.2" width="2.45" height="2.45" fill="#2a768e"/>
<rect x="290.7" y="113.7" width="2.45" height="2.45" fill="#34608d"/>
<rect x="290.7" y="116.1" width="2.45" height="2.45" fill="#2a768e"/>
<rect x="290.7" y="118.4" width="2.45" height="2.45" fill="#3f4889"/>
<rect x="293.1" y="58.5" width="2.45" height="2.45" fill="#3f4889"/>
<rect x="293.1" y="60.9" width="2.45" height="2.45" fill="#1fa088"/>
<rect x="293.1" y="63.2" width="2.45" height="2.45" fill="#34608d"/>
<rect x="293.1" y="65.7" width="2.45" height="2.45" fill="#228b8d"/>
<rect x="293.1" y="68.0" width="2.45" height="2.45" fill="#34608d"/>
<rect x="293.1" y="72.8" width="2.45" height="2.45" fill="#3f4889"/>
<rect x="293.1" y="82.4" width="2.45" height="2.45" fill="#3f4889"/>
<rect x="293.1" y="101.7" width="2.45" height="2.45" fill="#3f4889"/>
<rect x="293.1" y="104.1" width="2.45" height="2.45" fill="#34608d"/>
<rect x="293.1" y="106.4" width="2.45" height="2.45" fill="#228b8d"/>
<rect x="293.1" y="108.8" width="2.45" height="2.45" fill="#34608d"/>
<rect x="293.1" y="111.2" width="2.45" height="2.45" fill="#1fa088"/>
<rect x="293.1" y="113.7" width="2.45" height="2.45" fill="#34608d"/>
<rect x="293.1" y="116.1" width="2.45" height="2.45" fill="#34608d"/>
<rect x="295.5" y="58.5" width="2.45" height="2.45" fill="#34608d"/>
<rect x="295.5" y="60.9" width="2.45" height="2.45" fill="#34608d"/>
<rect x="295.5" y="63.2" width="2.45" height="2.45" fill="#34608d"/>
<rect x="295.5" y="65.7" width="2.45" height="2.45" fill="#2fb47c"/>
<rect x="295.5" y="68.0" width="2.45" height="2.45" fill="#3f4889"/>
<rect x="295.5" y="70.5" width="2.45" height="2.45" fill="#2a768e"/>
<rect x="295.5" y="72.8" width="2.45" height="2.45" fill="#3f4889"/>
<rect x="295.5" y="99.2" width="2.45" height="2.45" fill="#3f4889"/>
<rect x="295.5" y="101.7" width="2.45" height="2.45" fill="#2a768e"/>
<rect x="295.5" y="104.1" width="2.45" height="2.45" fill="#3f4889"/>
<rect x="295.5" y="106.4" width="2.45" height="2.45" fill="#2a768e"/>
<rect x="295.5" y="108.8" width="2.45" height="2.45" fill="#3f4889"/>
<rect x="295.5" y="113.7" width="2.45" height="2.45" fill="#34608d"/>
<rect x="295.5" y="118.4" width="2.45" height="2.45" fill="#3f4889"/>
<rect x="297.9" y="58.5" width="2.45" height="2.45" fill="#3f4889"/>
<rect x="297.9" y="60.9" width="2.45" height="2.45" fill="#3f4889"/>
<rect x="297.9" y="63.2" width="2.45" height="2.45" fill="#3f4889"/>
<rect x="297.9" y="65.7" width="2.45" height="2.45" fill="#2a768e"/>
<rect x="297.9" y="68.0" width="2.45" height="2.45" fill="#2a768e"/>
<rect x="297.9" y="70.5" width="2.45" height="2.45" fill="#34608d"/>
<rect x="297.9" y="72.8" width="2.45" height="2.45" fill="#34608d"/>
<rect x="297.9" y="75.2" width="2.45" height="2.45" fill="#3f4889"/>
<rect x="297.9" y="77.7" width="2.45" height="2.45" fill="#3f4889"/>
<rect x="297.9" y="104.1" width="2.45" height="2.45" fill="#2a768e"/>
<rect x="297.9" y="106.4" width="2.45" height="2.45" fill="#3f4889"/>
<rect x="297.9" y="108.8" width="2.45" height="2.45" fill="#3f4889"/>
<rect x="297.9" y="111.2" width="2.45" height="2.45" fill="#3f4889"/>
<rect x="297.9" y="113.7" width="2.45" height="2.45" fill="#34608d"/>
<rect x="297.9" y="118.4" width="2.45" height="2.45" fill="#3f4889"/>
<rect x="300.3" y="51.2" width="2.45" height="2.45" fill="#3f4889"/>
<rect x="300.3" y="56.0" width="2.45" height="2.45" fill="#3f4889"/>
<rect x="300.3" y="58.5" width="2.45" height="2.45" fill="#3f4889"/>
<rect x="300.3" y="60.9" width="2.45" height="2.45" fill="#34608d"/>
<rect x="300.3" y="63.2" width="2.45" height="2.45" fill="#3f4889"/>
<rect x="300.3" y="65.7" width="2.45" height="2.45" fill="#228b8d"/>
<rect x="300.3" y="68.0" width="2.45" height="2.45" fill="#3f4889"/>
<rect x="300.3" y="70.5" width="2.45" height="2.45" fill="#228b8d"/>
<rect x="300.3" y="77.7" width="2.45" height="2.45" fill="#3f4889"/>
<rect x="300.3" y="99.2" width="2.45" height="2.45" fill="#3f4889"/>
<rect x="300.3" y="101.7" width="2.45" height="2.45" fill="#34608d"/>
<rect x="300.3" y="104.1" width="2.45" height="2.45" fill="#3f4889"/>
<rect x="300.3" y="106.4" width="2.45" height="2.45" fill="#3f4889"/>
<rect x="300.3" y="111.2" width="2.45" height="2.45" fill="#3f4889"/>
<rect x="302.7" y="60.9" width="2.45" height="2.45" fill="#3f4889"/>
<rect x="302.7" y="63.2" width="2.45" height="2.45" fill="#2a768e"/>
<rect x="302.7" y="65.7" width="2.45" height="2.45" fill="#3f4889"/>
<rect x="302.7" y="68.0" width="2.45" height="2.45" fill="#3f4889"/>
<rect x="302.7" y="106.4" width="2.45" height="2.45" fill="#34608d"/>
<rect x="305.1" y="58.5" width="2.45" height="2.45" fill="#3f4889"/>
<rect x="305.1" y="60.9" width="2.45" height="2.45" fill="#3f4889"/>
<rect x="305.1" y="63.2" width="2.45" height="2.45" fill="#3f4889"/>
<rect x="305.1" y="65.7" width="2.45" height="2.45" fill="#3f4889"/>
<rect x="305.1" y="68.0" width="2.45" height="2.45" fill="#2a768e"/>
<rect x="305.1" y="70.5" width="2.45" height="2.45" fill="#3f4889"/>
<rect x="307.5" y="53.6" width="2.45" height="2.45" fill="#3f4889"/>
<rect x="307.5" y="60.9" width="2.45" height="2.45" fill="#3f4889"/>
<rect x="307.5" y="63.2" width="2.45" height="2.45" fill="#3f4889"/>
<rect x="307.5" y="68.0" width="2.45" height="2.45" fill="#3f4889"/>
<rect x="307.5" y="72.8" width="2.45" height="2.45" fill="#3f4889"/>
<rect x="309.9" y="65.7" width="2.45" height="2.45" fill="#3f4889"/>
<rect x="309.9" y="68.0" width="2.45" height="2.45" fill="#3f4889"/>
<rect x="309.9" y="70.5" width="2.45" height="2.45" fill="#3f4889"/>
<rect x="309.9" y="111.2" width="2.45" height="2.45" fill="#3f4889"/>
<line x1="188.60" y1="26.25" x2="192.30" y2="26.25" stroke="#151515" stroke-width="1.1"/>
<text x="184.90" y="30.13" font-size="11.08" text-anchor="end" textLength="6.68" lengthAdjust="spacingAndGlyphs" stroke="#1c1c1c" stroke-width="0.2">0</text>
<line x1="193.50" y1="144.85" x2="193.50" y2="148.55" stroke="#151515" stroke-width="1.1"/>
<text x="193.50" y="161.25" font-size="11.08" text-anchor="middle" textLength="6.68" lengthAdjust="spacingAndGlyphs" stroke="#1c1c1c" stroke-width="0.2">0</text>
<line x1="188.60" y1="74.25" x2="192.30" y2="74.25" stroke="#151515" stroke-width="1.1"/>
<text x="184.90" y="78.13" font-size="11.08" text-anchor="end" textLength="13.36" lengthAdjust="spacingAndGlyphs" stroke="#1c1c1c" stroke-width="0.2">20</text>
<line x1="241.50" y1="144.85" x2="241.50" y2="148.55" stroke="#151515" stroke-width="1.1"/>
<text x="241.50" y="161.25" font-size="11.08" text-anchor="middle" textLength="13.36" lengthAdjust="spacingAndGlyphs" stroke="#1c1c1c" stroke-width="0.2">20</text>
<line x1="188.60" y1="122.25" x2="192.30" y2="122.25" stroke="#151515" stroke-width="1.1"/>
<text x="184.90" y="126.13" font-size="11.08" text-anchor="end" textLength="13.36" lengthAdjust="spacingAndGlyphs" stroke="#1c1c1c" stroke-width="0.2">40</text>
<line x1="289.50" y1="144.85" x2="289.50" y2="148.55" stroke="#151515" stroke-width="1.1"/>
<text x="289.50" y="161.25" font-size="11.08" text-anchor="middle" textLength="13.36" lengthAdjust="spacingAndGlyphs" stroke="#1c1c1c" stroke-width="0.2">40</text>
<defs><linearGradient id="vir" x1="0" y1="1" x2="0" y2="0">
<stop offset="0.00" stop-color="#440154"/>
<stop offset="0.10" stop-color="#482475"/>
<stop offset="0.20" stop-color="#414487"/>
<stop offset="0.30" stop-color="#355f8d"/>
<stop offset="0.40" stop-color="#2a788e"/>
<stop offset="0.50" stop-color="#21918c"/>
<stop offset="0.60" stop-color="#22a884"/>
<stop offset="0.70" stop-color="#44bf70"/>
<stop offset="0.80" stop-color="#7ad151"/>
<stop offset="0.90" stop-color="#bddf26"/>
<stop offset="1.00" stop-color="#fde725"/>
</linearGradient></defs>
<rect x="315.5" y="25.4" width="7.00" height="119.90" fill="url(#vir)"/>
<rect x="315.50" y="25.40" width="7.00" height="119.90" fill="none" stroke="#151515" stroke-width="0.8"/>
<line x1="322.50" y1="145.30" x2="326.20" y2="145.30" stroke="#151515" stroke-width="0.8"/>
<text x="329.90" y="147.60" font-size="6.65" text-anchor="start" textLength="21.18" lengthAdjust="spacingAndGlyphs">0e+00</text>
<line x1="322.50" y1="128.17" x2="326.20" y2="128.17" stroke="#151515" stroke-width="0.8"/>
<text x="329.90" y="130.47" font-size="6.65" text-anchor="start" textLength="18.17" lengthAdjust="spacingAndGlyphs">1e-03</text>
<line x1="322.50" y1="111.04" x2="326.20" y2="111.04" stroke="#151515" stroke-width="0.8"/>
<text x="329.90" y="113.34" font-size="6.65" text-anchor="start" textLength="18.17" lengthAdjust="spacingAndGlyphs">2e-03</text>
<line x1="322.50" y1="93.91" x2="326.20" y2="93.91" stroke="#151515" stroke-width="0.8"/>
<text x="329.90" y="96.21" font-size="6.65" text-anchor="start" textLength="18.17" lengthAdjust="spacingAndGlyphs">3e-03</text>
<line x1="322.50" y1="76.79" x2="326.20" y2="76.79" stroke="#151515" stroke-width="0.8"/>
<text x="329.90" y="79.08" font-size="6.65" text-anchor="start" textLength="18.17" lengthAdjust="spacingAndGlyphs">4e-03</text>
<line x1="322.50" y1="59.66" x2="326.20" y2="59.66" stroke="#151515" stroke-width="0.8"/>
<text x="329.90" y="61.95" font-size="6.65" text-anchor="start" textLength="18.17" lengthAdjust="spacingAndGlyphs">5e-03</text>
<line x1="322.50" y1="42.53" x2="326.20" y2="42.53" stroke="#151515" stroke-width="0.8"/>
<text x="329.90" y="44.82" font-size="6.65" text-anchor="start" textLength="18.17" lengthAdjust="spacingAndGlyphs">6e-03</text>
<line x1="322.50" y1="25.40" x2="326.20" y2="25.40" stroke="#151515" stroke-width="0.8"/>
<text x="329.90" y="27.70" font-size="6.65" text-anchor="start" textLength="18.17" lengthAdjust="spacingAndGlyphs">7e-03</text>
<text x="168.21" y="20.50" font-size="17.48" font-weight="bold" stroke="#1c1c1c" stroke-width="0.55" textLength="11.72" lengthAdjust="spacingAndGlyphs">B</text>
<text x="252.60" y="18.80" font-size="13.45" text-anchor="middle" textLength="23.60" lengthAdjust="spacingAndGlyphs" stroke="#1c1c1c" stroke-width="0.2">PDF</text>
<rect x="436.0" y="24.9" width="120.20" height="120.20" fill="#000"/>
<rect x="436.0" y="36.9" width="2.45" height="2.45" fill="rgb(87,87,87)"/>
<rect x="436.0" y="39.3" width="2.45" height="2.45" fill="rgb(123,123,123)"/>
<rect x="436.0" y="41.7" width="2.45" height="2.45" fill="rgb(184,184,184)"/>
<rect x="436.0" y="44.1" width="2.45" height="2.45" fill="rgb(154,154,154)"/>
<rect x="436.0" y="48.9" width="2.45" height="2.45" fill="rgb(87,87,87)"/>
<rect x="436.0" y="121.1" width="2.45" height="2.45" fill="rgb(123,123,123)"/>
<rect x="436.0" y="123.5" width="2.45" height="2.45" fill="rgb(87,87,87)"/>
<rect x="436.0" y="133.1" width="2.45" height="2.45" fill="rgb(87,87,87)"/>
<rect x="438.4" y="32.1" width="2.45" height="2.45" fill="rgb(87,87,87)"/>
<rect x="438.4" y="34.5" width="2.45" height="2.45" fill="rgb(123,123,123)"/>
<rect x="438.4" y="36.9" width="2.45" height="2.45" fill="rgb(123,123,123)"/>
<rect x="438.4" y="39.3" width="2.45" height="2.45" fill="rgb(123,123,123)"/>
<rect x="438.4" y="41.7" width="2.45" height="2.45" fill="rgb(240,240,240)"/>
<rect x="438.4" y="44.1" width="2.45" height="2.45" fill="rgb(184,184,184)"/>
<rect x="438.4" y="48.9" width="2.45" height="2.45" fill="rgb(87,87,87)"/>
<rect x="438.4" y="113.8" width="2.45" height="2.45" fill="rgb(87,87,87)"/>
<rect x="438.4" y="121.1" width="2.45" height="2.45" fill="rgb(87,87,87)"/>
<rect x="438.4" y="123.5" width="2.45" height="2.45" fill="rgb(87,87,87)"/>
<rect x="438.4" y="125.9" width="2.45" height="2.45" fill="rgb(123,123,123)"/>
<rect x="438.4" y="128.3" width="2.45" height="2.45" fill="rgb(87,87,87)"/>
<rect x="438.4" y="130.7" width="2.45" height="2.45" fill="rgb(123,123,123)"/>
<rect x="440.8" y="34.5" width="2.45" height="2.45" fill="rgb(154,154,154)"/>
<rect x="440.8" y="36.9" width="2.45" height="2.45" fill="rgb(212,212,212)"/>
<rect x="440.8" y="39.3" width="2.45" height="2.45" fill="rgb(212,212,212)"/>
<rect x="440.8" y="41.7" width="2.45" height="2.45" fill="rgb(240,240,240)"/>
<rect x="440.8" y="44.1" width="2.45" height="2.45" fill="rgb(87,87,87)"/>
<rect x="440.8" y="46.5" width="2.45" height="2.45" fill="rgb(212,212,212)"/>
<rect x="440.8" y="48.9" width="2.45" height="2.45" fill="rgb(87,87,87)"/>
<rect x="440.8" y="51.3" width="2.45" height="2.45" fill="rgb(87,87,87)"/>
<rect x="440.8" y="104.2" width="2.45" height="2.45" fill="rgb(87,87,87)"/>
<rect x="440.8" y="116.3" width="2.45" height="2.45" fill="rgb(123,123,123)"/>
<rect x="440.8" y="118.7" width="2.45" height="2.45" fill="rgb(87,87,87)"/>
<rect x="440.8" y="121.1" width="2.45" height="2.45" fill="rgb(87,87,87)"/>
<rect x="440.8" y="123.5" width="2.45" height="2.45" fill="rgb(212,212,212)"/>
<rect x="440.8" y="125.9" width="2.45" height="2.45" fill="rgb(212,212,212)"/>
<rect x="440.8" y="128.3" width="2.45" height="2.45" fill="rgb(87,87,87)"/>
<rect x="440.8" y="133.1" width="2.45" height="2.45" fill="rgb(154,154,154)"/>
<rect x="440.8" y="137.9" width="2.45" height="2.45" fill="rgb(87,87,87)"/>
<rect x="443.2" y="29.7" width="2.45" height="2.45" fill="rgb(87,87,87)"/>
<rect x="443.2" y="32.1" width="2.45" height="2.45" fill="rgb(87,87,87)"/>
<rect x="443.2" y="34.5" width="2.45" height="2.45" fill="rgb(154,154,154)"/>
<rect x="443.2" y="36.9" width="2.45" height="2.45" fill="rgb(184,184,184)"/>
<rect x="443.2" y="39.3" width="2.45" height="2.45" fill="rgb(240,240,240)"/>
<rect x="443.2" y="41.7" width="2.45" height="2.45" fill="rgb(240,240,240)"/>
<rect x="443.2" y="44.1" width="2.45" height="2.45" fill="rgb(212,212,212)"/>
<rect x="443.2" y="46.5" width="2.45" height="2.45" fill="rgb(184,184,184)"/>
<rect x="443.2" y="48.9" width="2.45" height="2.45" fill="rgb(154,154,154)"/>
<rect x="443.2" y="51.3" width="2.45" height="2.45" fill="rgb(87,87,87)"/>
<rect x="443.2" y="53.7" width="2.45" height="2.45" fill="rgb(154,154,154)"/>
<rect x="443.2" y="109.0" width="2.45" height="2.45" fill="rgb(87,87,87)"/>
<rect x="443.2" y="113.8" width="2.45" height="2.45" fill="rgb(87,87,87)"/>
<rect x="443.2" y="118.7" width="2.45" height="2.45" fill="rgb(184,184,184)"/>
<rect x="443.2" y="121.1" width="2.45" height="2.45" fill="rgb(154,154,154)"/>
<rect x="443.2" y="123.5" width="2.45" height="2.45" fill="rgb(184,184,184)"/>
<rect x="443.2" y="125.9" width="2.45" height="2.45" fill="rgb(87,87,87)"/>
<rect x="443.2" y="128.3" width="2.45" height="2.45" fill="rgb(184,184,184)"/>
<rect x="443.2" y="130.7" width="2.45" height="2.45" fill="rgb(87,87,87)"/>
<rect x="443.2" y="133.1" width="2.45" height="2.45" fill="rgb(87,87,87)"/>
<rect x="443.2" y="135.5" width="2.45" height="2.45" fill="rgb(87,87,87)"/>
<rect x="443.2" y="140.3" width="2.45" height="2.45" fill="rgb(87,87,87)"/>
<rect x="445.6" y="36.9" width="2.45" height="2.45" fill="rgb(154,154,154)"/>
<rect x="445.6" y="39.3" width="2.45" height="2.45" fill="rgb(212,212,212)"/>
<rect x="445.6" y="41.7" width="2.45" height="2.45" fill="rgb(123,123,123)"/>
<rect x="445.6" y="44.1" width="2.45" height="2.45" fill="rgb(154,154,154)"/>
<rect x="445.6" y="46.5" width="2.45" height="2.45" fill="rgb(154,154,154)"/>
<rect x="445.6" y="48.9" width="2.45" height="2.45" fill="rgb(87,87,87)"/>
<rect x="445.6" y="104.2" width="2.45" height="2.45" fill="rgb(87,87,87)"/>
<rect x="445.6" y="106.6" width="2.45" height="2.45" fill="rgb(87,87,87)"/>
<rect x="445.6" y="113.8" width="2.45" height="2.45" fill="rgb(87,87,87)"/>
<rect x="445.6" y="116.3" width="2.45" height="2.45" fill="rgb(87,87,87)"/>
<rect x="445.6" y="118.7" width="2.45" height="2.45" fill="rgb(87,87,87)"/>
<rect x="445.6" y="121.1" width="2.45" height="2.45" fill="rgb(87,87,87)"/>
<rect x="445.6" y="123.5" width="2.45" height="2.45" fill="rgb(240,240,240)"/>
<rect x="445.6" y="125.9" width="2.45" height="2.45" fill="rgb(184,184,184)"/>
<rect x="445.6" y="128.3" width="2.45" height="2.45" fill="rgb(240,240,240)"/>
<rect x="445.6" y="130.7" width="2.45" height="2.45" fill="rgb(123,123,123)"/>
<rect x="445.6" y="133.1" width="2.45" height="2.45" fill="rgb(87,87,87)"/>
<rect x="445.6" y="140.3" width="2.45" height="2.45" fill="rgb(87,87,87)"/>
<rect x="448.0" y="32.1" width="2.45" height="2.45" fill="rgb(123,123,123)"/>
<rect x="448.0" y="34.5" width="2.45" height="2.45" fill="rgb(87,87,87)"/>
<rect x="448.0" y="39.3" width="2.45" height="2.45" fill="rgb(123,123,123)"/>
<rect x="448.0" y="41.7" width="2.45" height="2.45" fill="rgb(87,87,87)"/>
<rect x="448.0" y="44.1" width="2.45" height="2.45" fill="rgb(123,123,123)"/>
<rect x="448.0" y="46.5" width="2.45" height="2.45" fill="rgb(154,154,154)"/>
<rect x="448.0" y="48.9" width="2.45" height="2.45" fill="rgb(87,87,87)"/>
<rect x="448.0" y="53.7" width="2.45" height="2.45" fill="rgb(87,87,87)"/>
<rect x="448.0" y="109.0" width="2.45" height="2.45" fill="rgb(87,87,87)"/>
<rect x="448.0" y="116.3" width="2.45" height="2.45" fill="rgb(123,123,123)"/>
<rect x="448.0" y="118.7" width="2.45" height="2.45" fill="rgb(154,154,154)"/>
<rect x="448.0" y="121.1" width="2.45" height="2.45" fill="rgb(184,184,184)"/>
<rect x="448.0" y="123.5" width="2.45" height="2.45" fill="rgb(240,240,240)"/>
<rect x="448.0" y="125.9" width="2.45" height="2.45" fill="rgb(154,154,154)"/>
<rect x="448.0" y="128.3" width="2.45" height="2.45" fill="rgb(154,154,154)"/>
<rect x="448.0" y="130.7" width="2.45" height="2.45" fill="rgb(123,123,123)"/>
<rect x="448.0" y="133.1" width="2.45" height="2.45" fill="rgb(123,123,123)"/>
<rect x="448.0" y="137.9" width="2.45" height="2.45" fill="rgb(87,87,87)"/>
<rect x="450.4" y="39.3" width="2.45" height="2.45" fill="rgb(87,87,87)"/>
<rect x="450.4" y="41.7" width="2.45" height="2.45" fill="rgb(123,123,123)"/>
<rect x="450.4" y="44.1" width="2.45" height="2.45" fill="rgb(87,87,87)"/>
<rect x="450.4" y="48.9" width="2.45" height="2.45" fill="rgb(123,123,123)"/>
<rect x="450.4" y="53.7" width="2.45" height="2.45" fill="rgb(87,87,87)"/>
<rect x="450.4" y="101.8" width="2.45" height="2.45" fill="rgb(87,87,87)"/>
<rect x="450.4" y="116.3" width="2.45" height="2.45" fill="rgb(87,87,87)"/>
<rect x="450.4" y="121.1" width="2.45" height="2.45" fill="rgb(87,87,87)"/>
<rect x="450.4" y="123.5" width="2.45" height="2.45" fill="rgb(123,123,123)"/>
<rect x="450.4" y="125.9" width="2.45" height="2.45" fill="rgb(240,240,240)"/>
<rect x="450.4" y="128.3" width="2.45" height="2.45" fill="rgb(154,154,154)"/>
<rect x="450.4" y="130.7" width="2.45" height="2.45" fill="rgb(87,87,87)"/>
<rect x="450.4" y="133.1" width="2.45" height="2.45" fill="rgb(87,87,87)"/>
<rect x="452.8" y="39.3" width="2.45" height="2.45" fill="rgb(87,87,87)"/>
<rect x="452.8" y="41.7" width="2.45" height="2.45" fill="rgb(87,87,87)"/>
<rect x="452.8" y="44.1" width="2.45" height="2.45" fill="rgb(87,87,87)"/>
<rect x="452.8" y="116.3" width="2.45" height="2.45" fill="rgb(123,123,123)"/>
<rect x="452.8" y="118.7" width="2.45" height="2.45" fill="rgb(184,184,184)"/>
<rect x="452.8" y="121.1" width="2.45" height="2.45" fill="rgb(154,154,154)"/>
<rect x="452.8" y="123.5" width="2.45" height="2.45" fill="rgb(154,154,154)"/>
<rect x="452.8" y="125.9" width="2.45" height="2.45" fill="rgb(87,87,87)"/>
<rect x="452.8" y="128.3" width="2.45" height="2.45" fill="rgb(87,87,87)"/>
<rect x="455.2" y="41.7" width="2.45" height="2.45" fill="rgb(87,87,87)"/>
<rect x="455.2" y="46.5" width="2.45" height="2.45" fill="rgb(87,87,87)"/>
<rect x="455.2" y="51.3" width="2.45" height="2.45" fill="rgb(87,87,87)"/>
<rect x="455.2" y="53.7" width="2.45" height="2.45" fill="rgb(87,87,87)"/>
<rect x="455.2" y="116.3" width="2.45" height="2.45" fill="rgb(87,87,87)"/>
<rect x="455.2" y="121.1" width="2.45" height="2.45" fill="rgb(87,87,87)"/>
<rect x="455.2" y="123.5" width="2.45" height="2.45" fill="rgb(87,87,87)"/>
<rect x="455.2" y="125.9" width="2.45" height="2.45" fill="rgb(123,123,123)"/>
<rect x="455.2" y="128.3" width="2.45" height="2.45" fill="rgb(154,154,154)"/>
<rect x="455.2" y="130.7" width="2.45" height="2.45" fill="rgb(123,123,123)"/>
<rect x="455.2" y="135.5" width="2.45" height="2.45" fill="rgb(87,87,87)"/>
<rect x="457.6" y="24.9" width="2.45" height="2.45" fill="rgb(87,87,87)"/>
<rect x="457.6" y="39.3" width="2.45" height="2.45" fill="rgb(87,87,87)"/>
<rect x="457.6" y="41.7" width="2.45" height="2.45" fill="rgb(87,87,87)"/>
<rect x="457.6" y="44.1" width="2.45" height="2.45" fill="rgb(184,184,184)"/>
<rect x="457.6" y="46.5" width="2.45" height="2.45" fill="rgb(123,123,123)"/>
<rect x="457.6" y="113.8" width="2.45" height="2.45" fill="rgb(87,87,87)"/>
<rect x="457.6" y="116.3" width="2.45" height="2.45" fill="rgb(87,87,87)"/>
<rect x="457.6" y="118.7" width="2.45" height="2.45" fill="rgb(87,87,87)"/>
<rect x="457.6" y="121.1" width="2.45" height="2.45" fill="rgb(87,87,87)"/>
<rect x="457.6" y="125.9" width="2.45" height="2.45" fill="rgb(87,87,87)"/>
<rect x="457.6" y="128.3" width="2.45" height="2.45" fill="rgb(87,87,87)"/>
<rect x="460.0" y="32.1" width="2.45" height="2.45" fill="rgb(87,87,87)"/>
<rect x="460.0" y="34.5" width="2.45" height="2.45" fill="rgb(87,87,87)"/>
<rect x="460.0" y="36.9" width="2.45" height="2.45" fill="rgb(87,87,87)"/>
<rect x="460.0" y="39.3" width="2.45" height="2.45" fill="rgb(87,87,87)"/>
<rect x="460.0" y="41.7" width="2.45" height="2.45" fill="rgb(123,123,123)"/>
<rect x="460.0" y="44.1" width="2.45" height="2.45" fill="rgb(154,154,154)"/>
<rect x="460.0" y="46.5" width="2.45" height="2.45" fill="rgb(123,123,123)"/>
<rect x="460.0" y="48.9" width="2.45" height="2.45" fill="rgb(184,184,184)"/>
<rect x="460.0" y="53.7" width="2.45" height="2.45" fill="rgb(87,87,87)"/>
<rect x="460.0" y="116.3" width="2.45" height="2.45" fill="rgb(87,87,87)"/>
<rect x="460.0" y="123.5" width="2.45" height="2.45" fill="rgb(87,87,87)"/>
<rect x="460.0" y="125.9" width="2.45" height="2.45" fill="rgb(87,87,87)"/>
<rect x="460.0" y="128.3" width="2.45" height="2.45" fill="rgb(87,87,87)"/>
<rect x="462.4" y="34.5" width="2.45" height="2.45" fill="rgb(87,87,87)"/>
<rect x="462.4" y="36.9" width="2.45" height="2.45" fill="rgb(87,87,87)"/>
<rect x="462.4" y="39.3" width="2.45" height="2.45" fill="rgb(123,123,123)"/>
<rect x="462.4" y="41.7" width="2.45" height="2.45" fill="rgb(123,123,123)"/>
<rect x="462.4" y="44.1" width="2.45" height="2.45" fill="rgb(154,154,154)"/>
<rect x="462.4" y="46.5" width="2.45" height="2.45" fill="rgb(123,123,123)"/>
<rect x="462.4" y="48.9" width="2.45" height="2.45" fill="rgb(184,184,184)"/>
<rect x="462.4" y="51.3" width="2.45" height="2.45" fill="rgb(87,87,87)"/>
<rect x="462.4" y="53.7" width="2.45" height="2.45" fill="rgb(87,87,87)"/>
<rect x="462.4" y="58.6" width="2.45" height="2.45" fill="rgb(87,87,87)"/>
<rect x="462.4" y="133.1" width="2.45" height="2.45" fill="rgb(87,87,87)"/>
<rect x="464.8" y="32.1" width="2.45" height="2.45" fill="rgb(87,87,87)"/>
<rect x="464.8" y="34.5" width="2.45" height="2.45" fill="rgb(87,87,87)"/>
<rect x="464.8" y="36.9" width="2.45" height="2.45" fill="rgb(87,87,87)"/>
<rect x="464.8" y="39.3" width="2.45" height="2.45" fill="rgb(240,240,240)"/>
<rect x="464.8" y="41.7" width="2.45" height="2.45" fill="rgb(240,240,240)"/>
<rect x="464.8" y="44.1" width="2.45" height="2.45" fill="rgb(240,240,240)"/>
<rect x="464.8" y="46.5" width="2.45" height="2.45" fill="rgb(240,240,240)"/>
<rect x="464.8" y="48.9" width="2.45" height="2.45" fill="rgb(123,123,123)"/>
<rect x="464.8" y="51.3" width="2.45" height="2.45" fill="rgb(123,123,123)"/>
<rect x="464.8" y="53.7" width="2.45" height="2.45" fill="rgb(87,87,87)"/>
<rect x="464.8" y="118.7" width="2.45" height="2.45" fill="rgb(87,87,87)"/>
<rect x="467.3" y="34.5" width="2.45" height="2.45" fill="rgb(87,87,87)"/>
<rect x="467.3" y="36.9" width="2.45" height="2.45" fill="rgb(87,87,87)"/>
<rect x="467.3" y="39.3" width="2.45" height="2.45" fill="rgb(184,184,184)"/>
<rect x="467.3" y="41.7" width="2.45" height="2.45" fill="rgb(240,240,240)"/>
<rect x="467.3" y="44.1" width="2.45" height="2.45" fill="rgb(212,212,212)"/>
<rect x="467.3" y="46.5" width="2.45" height="2.45" fill="rgb(154,154,154)"/>
<rect x="467.3" y="48.9" width="2.45" height="2.45" fill="rgb(184,184,184)"/>
<rect x="467.3" y="51.3" width="2.45" height="2.45" fill="rgb(123,123,123)"/>
<rect x="467.3" y="53.7" width="2.45" height="2.45" fill="rgb(154,154,154)"/>
<rect x="467.3" y="56.2" width="2.45" height="2.45" fill="rgb(87,87,87)"/>
<rect x="469.7" y="36.9" width="2.45" height="2.45" fill="rgb(87,87,87)"/>
<rect x="469.7" y="39.3" width="2.45" height="2.45" fill="rgb(87,87,87)"/>
<rect x="469.7" y="41.7" width="2.45" height="2.45" fill="rgb(87,87,87)"/>
<rect x="469.7" y="44.1" width="2.45" height="2.45" fill="rgb(184,184,184)"/>
<rect x="469.7" y="46.5" width="2.45" height="2.45" fill="rgb(154,154,154)"/>
<rect x="469.7" y="48.9" width="2.45" height="2.45" fill="rgb(87,87,87)"/>
<rect x="469.7" y="51.3" width="2.45" height="2.45" fill="rgb(154,154,154)"/>
<rect x="472.1" y="36.9" width="2.45" height="2.45" fill="rgb(87,87,87)"/>
<rect x="472.1" y="41.7" width="2.45" height="2.45" fill="rgb(123,123,123)"/>
<rect x="472.1" y="44.1" width="2.45" height="2.45" fill="rgb(87,87,87)"/>
<rect x="472.1" y="48.9" width="2.45" height="2.45" fill="rgb(123,123,123)"/>
<rect x="472.1" y="51.3" width="2.45" height="2.45" fill="rgb(87,87,87)"/>
<rect x="472.1" y="94.6" width="2.45" height="2.45" fill="rgb(87,87,87)"/>
<rect x="472.1" y="99.4" width="2.45" height="2.45" fill="rgb(87,87,87)"/>
<rect x="474.5" y="41.7" width="2.45" height="2.45" fill="rgb(123,123,123)"/>
<rect x="474.5" y="44.1" width="2.45" height="2.45" fill="rgb(123,123,123)"/>
<rect x="474.5" y="92.2" width="2.45" height="2.45" fill="rgb(87,87,87)"/>
<rect x="474.5" y="99.4" width="2.45" height="2.45" fill="rgb(87,87,87)"/>
<rect x="474.5" y="101.8" width="2.45" height="2.45" fill="rgb(87,87,87)"/>
<rect x="474.5" y="106.6" width="2.45" height="2.45" fill="rgb(154,154,154)"/>
<rect x="474.5" y="118.7" width="2.45" height="2.45" fill="rgb(87,87,87)"/>
<rect x="440.0" y="36.0" width="5.50" height="9.00" fill="#28473f"/>
<rect x="441.3" y="38.5" width="3.50" height="5.00" fill="#d02a30"/>
<rect x="438.0" y="48.5" width="12.50" height="1.50" fill="#cfcfcf"/>
<rect x="464.0" y="41.5" width="4.50" height="4.50" fill="#d02a30"/>
<rect x="460.5" y="48.5" width="10.00" height="1.50" fill="#cfcfcf"/>
<rect x="442.5" y="119.0" width="4.50" height="3.50" fill="#28473f"/>
<rect x="443.5" y="123.0" width="3.50" height="4.50" fill="#d02a30"/>
<rect x="442.5" y="128.0" width="1.30" height="3.50" fill="#cfcfcf"/>
<rect x="447.0" y="128.0" width="1.30" height="3.50" fill="#cfcfcf"/>
<line x1="432.30" y1="25.80" x2="436.00" y2="25.80" stroke="#151515" stroke-width="1.1"/>
<text x="428.60" y="29.68" font-size="11.08" text-anchor="end" textLength="6.68" lengthAdjust="spacingAndGlyphs" stroke="#1c1c1c" stroke-width="0.2">0</text>
<line x1="432.30" y1="49.62" x2="436.00" y2="49.62" stroke="#151515" stroke-width="1.1"/>
<text x="428.60" y="53.50" font-size="11.08" text-anchor="end" textLength="13.36" lengthAdjust="spacingAndGlyphs" stroke="#1c1c1c" stroke-width="0.2">10</text>
<line x1="432.30" y1="73.44" x2="436.00" y2="73.44" stroke="#151515" stroke-width="1.1"/>
<text x="428.60" y="77.32" font-size="11.08" text-anchor="end" textLength="13.36" lengthAdjust="spacingAndGlyphs" stroke="#1c1c1c" stroke-width="0.2">20</text>
<line x1="432.30" y1="97.26" x2="436.00" y2="97.26" stroke="#151515" stroke-width="1.1"/>
<text x="428.60" y="101.14" font-size="11.08" text-anchor="end" textLength="13.36" lengthAdjust="spacingAndGlyphs" stroke="#1c1c1c" stroke-width="0.2">30</text>
<line x1="432.30" y1="121.08" x2="436.00" y2="121.08" stroke="#151515" stroke-width="1.1"/>
<text x="428.60" y="124.96" font-size="11.08" text-anchor="end" textLength="13.36" lengthAdjust="spacingAndGlyphs" stroke="#1c1c1c" stroke-width="0.2">40</text>
<line x1="432.30" y1="144.90" x2="436.00" y2="144.90" stroke="#151515" stroke-width="1.1"/>
<text x="428.60" y="148.78" font-size="11.08" text-anchor="end" textLength="13.36" lengthAdjust="spacingAndGlyphs" stroke="#1c1c1c" stroke-width="0.2">50</text>
<line x1="436.10" y1="145.10" x2="436.10" y2="148.80" stroke="#151515" stroke-width="1.1"/>
<text x="436.10" y="161.50" font-size="11.08" text-anchor="middle" textLength="6.68" lengthAdjust="spacingAndGlyphs" stroke="#1c1c1c" stroke-width="0.2">0</text>
<text x="412.09" y="20.35" font-size="17.54" font-weight="bold" stroke="#1c1c1c" stroke-width="0.55" textLength="11.30" lengthAdjust="spacingAndGlyphs">C</text>
<text x="439.00" y="18.80" font-size="13.45" text-anchor="start" textLength="110.17" lengthAdjust="spacingAndGlyphs" stroke="#1c1c1c" stroke-width="0.2">Detected centers</text>
<clipPath id="clipE"><rect x="44.7" y="196.0" width="66.5" height="66.20"/></clipPath><g clip-path="url(#clipE)">
<path fill="#542fe4" d="M84.9 218.4h1.2v1.2h-1.2zM85.8 218.5h1.2v1.2h-1.2zM86.6 222.4h1.2v1.2h-1.2zM83.3 220.1h1.2v1.2h-1.2zM84.8 218.6h1.2v1.2h-1.2zM84.1 217.6h1.2v1.2h-1.2zM81.3 217.5h1.2v1.2h-1.2zM86.4 218.5h1.2v1.2h-1.2zM87.7 218.2h1.2v1.2h-1.2zM84.4 218.2h1.2v1.2h-1.2zM82.6 219.0h1.2v1.2h-1.2zM85.3 222.4h1.2v1.2h-1.2zM86.6 218.0h1.2v1.2h-1.2zM84.6 217.8h1.2v1.2h-1.2zM83.0 219.1h1.2v1.2h-1.2zM87.0 219.8h1.2v1.2h-1.2zM83.2 219.9h1.2v1.2h-1.2zM87.9 217.7h1.2v1.2h-1.2zM81.4 220.7h1.2v1.2h-1.2zM83.5 220.3h1.2v1.2h-1.2zM83.3 219.9h1.2v1.2h-1.2zM85.6 219.9h1.2v1.2h-1.2zM83.1 219.5h1.2v1.2h-1.2zM84.6 218.8h1.2v1.2h-1.2zM83.3 220.7h1.2v1.2h-1.2zM85.1 219.9h1.2v1.2h-1.2zM86.8 221.6h1.2v1.2h-1.2zM81.8 217.9h1.2v1.2h-1.2zM86.4 218.2h1.2v1.2h-1.2zM86.6 220.6h1.2v1.2h-1.2zM84.3 217.8h1.2v1.2h-1.2zM87.4 218.0h1.2v1.2h-1.2zM81.6 219.7h1.2v1.2h-1.2zM87.2 218.4h1.2v1.2h-1.2zM82.0 223.2h1.2v1.2h-1.2zM85.6 224.0h1.2v1.2h-1.2zM81.9 218.3h1.2v1.2h-1.2zM84.4 219.6h1.2v1.2h-1.2zM85.9 218.0h1.2v1.2h-1.2zM84.2 219.5h1.2v1.2h-1.2zM82.0 220.4h1.2v1.2h-1.2zM87.4 218.4h1.2v1.2h-1.2zM83.4 218.8h1.2v1.2h-1.2zM85.8 218.4h1.2v1.2h-1.2zM82.2 217.6h1.2v1.2h-1.2zM87.9 217.6h1.2v1.2h-1.2zM84.7 217.8h1.2v1.2h-1.2zM81.1 228.0h1.2v1.2h-1.2zM81.3 219.4h1.2v1.2h-1.2zM89.7 222.2h1.2v1.2h-1.2zM84.3 219.8h1.2v1.2h-1.2zM81.1 217.5h1.2v1.2h-1.2zM87.3 218.4h1.2v1.2h-1.2z"/>
<path fill="#4644e3" d="M73.5 234.0h1.2v1.2h-1.2zM70.3 238.5h1.2v1.2h-1.2zM70.2 241.3h1.2v1.2h-1.2zM70.6 236.0h1.2v1.2h-1.2zM70.7 235.2h1.2v1.2h-1.2zM72.3 240.3h1.2v1.2h-1.2zM68.0 237.8h1.2v1.2h-1.2zM68.9 234.3h1.2v1.2h-1.2zM72.0 236.3h1.2v1.2h-1.2zM71.7 235.3h1.2v1.2h-1.2zM70.3 238.3h1.2v1.2h-1.2zM69.8 237.7h1.2v1.2h-1.2zM69.1 240.7h1.2v1.2h-1.2zM71.1 239.4h1.2v1.2h-1.2zM74.3 233.0h1.2v1.2h-1.2zM68.6 238.6h1.2v1.2h-1.2zM75.2 240.0h1.2v1.2h-1.2zM73.4 238.7h1.2v1.2h-1.2zM70.1 240.3h1.2v1.2h-1.2zM73.3 235.8h1.2v1.2h-1.2zM67.5 234.7h1.2v1.2h-1.2zM66.8 240.1h1.2v1.2h-1.2zM68.0 234.4h1.2v1.2h-1.2zM70.2 231.3h1.2v1.2h-1.2zM70.4 240.3h1.2v1.2h-1.2zM70.0 235.4h1.2v1.2h-1.2zM71.5 236.5h1.2v1.2h-1.2zM72.6 233.6h1.2v1.2h-1.2zM67.6 234.1h1.2v1.2h-1.2zM69.6 236.4h1.2v1.2h-1.2zM70.2 238.5h1.2v1.2h-1.2zM67.8 239.5h1.2v1.2h-1.2zM68.7 234.1h1.2v1.2h-1.2zM71.3 234.4h1.2v1.2h-1.2zM72.8 239.3h1.2v1.2h-1.2zM72.7 237.2h1.2v1.2h-1.2zM68.7 233.0h1.2v1.2h-1.2zM69.3 242.6h1.2v1.2h-1.2zM68.9 235.0h1.2v1.2h-1.2zM72.4 238.1h1.2v1.2h-1.2zM66.1 238.0h1.2v1.2h-1.2zM74.5 241.4h1.2v1.2h-1.2zM70.0 236.1h1.2v1.2h-1.2zM69.3 240.3h1.2v1.2h-1.2zM72.2 235.3h1.2v1.2h-1.2zM73.9 240.6h1.2v1.2h-1.2zM72.2 235.2h1.2v1.2h-1.2zM74.0 236.4h1.2v1.2h-1.2zM71.6 242.8h1.2v1.2h-1.2zM74.4 238.3h1.2v1.2h-1.2zM74.5 237.7h1.2v1.2h-1.2zM71.0 243.8h1.2v1.2h-1.2zM75.0 238.4h1.2v1.2h-1.2zM71.7 235.1h1.2v1.2h-1.2zM71.5 239.5h1.2v1.2h-1.2zM68.9 234.1h1.2v1.2h-1.2zM70.5 240.6h1.2v1.2h-1.2zM73.3 240.8h1.2v1.2h-1.2zM67.9 235.8h1.2v1.2h-1.2zM72.9 235.6h1.2v1.2h-1.2zM72.2 237.9h1.2v1.2h-1.2zM72.0 237.4h1.2v1.2h-1.2zM71.0 239.0h1.2v1.2h-1.2zM72.9 231.6h1.2v1.2h-1.2zM71.5 236.3h1.2v1.2h-1.2zM65.2 236.6h1.2v1.2h-1.2zM73.0 238.3h1.2v1.2h-1.2zM69.6 233.9h1.2v1.2h-1.2zM73.5 239.1h1.2v1.2h-1.2zM73.1 235.6h1.2v1.2h-1.2zM70.7 233.5h1.2v1.2h-1.2zM73.4 234.0h1.2v1.2h-1.2zM68.9 238.4h1.2v1.2h-1.2zM69.7 234.7h1.2v1.2h-1.2zM77.0 237.6h1.2v1.2h-1.2zM69.2 240.4h1.2v1.2h-1.2zM69.5 240.3h1.2v1.2h-1.2zM70.6 241.8h1.2v1.2h-1.2zM74.3 234.3h1.2v1.2h-1.2zM75.7 240.3h1.2v1.2h-1.2zM69.5 238.3h1.2v1.2h-1.2zM66.9 240.6h1.2v1.2h-1.2zM74.3 237.4h1.2v1.2h-1.2zM74.1 240.8h1.2v1.2h-1.2zM73.4 239.8h1.2v1.2h-1.2zM74.3 239.4h1.2v1.2h-1.2zM69.1 238.8h1.2v1.2h-1.2zM70.8 238.5h1.2v1.2h-1.2zM67.7 238.1h1.2v1.2h-1.2zM67.6 238.1h1.2v1.2h-1.2zM73.8 240.2h1.2v1.2h-1.2zM69.6 236.0h1.2v1.2h-1.2zM77.1 242.3h1.2v1.2h-1.2zM71.5 237.1h1.2v1.2h-1.2zM69.6 240.2h1.2v1.2h-1.2zM73.3 237.2h1.2v1.2h-1.2zM75.9 236.7h1.2v1.2h-1.2zM72.5 243.2h1.2v1.2h-1.2zM70.0 235.0h1.2v1.2h-1.2zM66.0 241.1h1.2v1.2h-1.2zM70.0 237.1h1.2v1.2h-1.2zM80.1 237.0h1.2v1.2h-1.2zM72.1 237.4h1.2v1.2h-1.2zM75.1 242.5h1.2v1.2h-1.2zM67.2 238.0h1.2v1.2h-1.2zM72.7 236.7h1.2v1.2h-1.2zM74.0 236.2h1.2v1.2h-1.2zM78.7 239.0h1.2v1.2h-1.2zM68.4 233.3h1.2v1.2h-1.2zM73.8 235.1h1.2v1.2h-1.2zM72.5 237.2h1.2v1.2h-1.2zM67.1 234.8h1.2v1.2h-1.2zM71.2 236.9h1.2v1.2h-1.2zM70.2 234.6h1.2v1.2h-1.2zM61.7 246.5h1.2v1.2h-1.2zM73.7 243.4h1.2v1.2h-1.2zM73.5 239.5h1.2v1.2h-1.2zM69.5 237.2h1.2v1.2h-1.2zM65.8 247.4h1.2v1.2h-1.2zM77.4 238.9h1.2v1.2h-1.2zM72.4 237.0h1.2v1.2h-1.2zM75.5 238.8h1.2v1.2h-1.2zM77.1 238.8h1.2v1.2h-1.2z"/>
<path fill="#2e65df" d="M52.8 208.1h1.2v1.2h-1.2zM50.3 208.0h1.2v1.2h-1.2zM51.1 209.6h1.2v1.2h-1.2zM52.1 205.1h1.2v1.2h-1.2zM47.8 210.1h1.2v1.2h-1.2zM49.5 206.9h1.2v1.2h-1.2zM52.8 205.5h1.2v1.2h-1.2zM49.6 207.8h1.2v1.2h-1.2zM54.5 206.2h1.2v1.2h-1.2zM49.2 209.3h1.2v1.2h-1.2zM49.7 207.6h1.2v1.2h-1.2zM51.6 208.9h1.2v1.2h-1.2zM52.3 207.7h1.2v1.2h-1.2zM48.1 208.4h1.2v1.2h-1.2zM52.6 207.4h1.2v1.2h-1.2zM51.1 208.0h1.2v1.2h-1.2zM48.5 208.1h1.2v1.2h-1.2zM48.4 208.3h1.2v1.2h-1.2zM53.2 209.8h1.2v1.2h-1.2zM48.6 208.2h1.2v1.2h-1.2zM49.0 208.2h1.2v1.2h-1.2zM48.8 210.6h1.2v1.2h-1.2zM46.5 209.7h1.2v1.2h-1.2zM52.3 208.0h1.2v1.2h-1.2zM51.1 208.1h1.2v1.2h-1.2zM50.8 206.1h1.2v1.2h-1.2zM50.2 206.1h1.2v1.2h-1.2zM55.1 207.3h1.2v1.2h-1.2zM49.4 211.0h1.2v1.2h-1.2zM51.8 206.0h1.2v1.2h-1.2zM49.0 212.8h1.2v1.2h-1.2zM49.7 211.8h1.2v1.2h-1.2zM54.1 209.1h1.2v1.2h-1.2zM54.8 205.0h1.2v1.2h-1.2zM54.0 206.0h1.2v1.2h-1.2zM50.0 212.0h1.2v1.2h-1.2zM52.6 212.2h1.2v1.2h-1.2zM51.6 209.8h1.2v1.2h-1.2zM50.2 209.6h1.2v1.2h-1.2zM51.4 206.5h1.2v1.2h-1.2zM53.8 205.1h1.2v1.2h-1.2zM65.4 211.3h1.2v1.2h-1.2zM63.0 206.9h1.2v1.2h-1.2zM61.4 207.1h1.2v1.2h-1.2zM60.0 204.9h1.2v1.2h-1.2zM59.9 214.4h1.2v1.2h-1.2zM65.6 207.4h1.2v1.2h-1.2zM62.8 211.9h1.2v1.2h-1.2zM61.7 206.2h1.2v1.2h-1.2zM60.6 208.3h1.2v1.2h-1.2zM58.7 203.5h1.2v1.2h-1.2zM61.4 206.9h1.2v1.2h-1.2zM63.8 210.4h1.2v1.2h-1.2zM60.5 204.6h1.2v1.2h-1.2zM60.9 210.6h1.2v1.2h-1.2zM61.8 205.2h1.2v1.2h-1.2zM57.4 206.6h1.2v1.2h-1.2zM60.9 206.7h1.2v1.2h-1.2zM59.3 207.7h1.2v1.2h-1.2zM63.8 206.5h1.2v1.2h-1.2zM59.6 205.7h1.2v1.2h-1.2zM63.0 207.1h1.2v1.2h-1.2zM65.4 205.2h1.2v1.2h-1.2zM60.7 204.5h1.2v1.2h-1.2zM60.0 207.7h1.2v1.2h-1.2zM62.0 210.1h1.2v1.2h-1.2zM59.0 207.9h1.2v1.2h-1.2zM62.7 206.2h1.2v1.2h-1.2zM60.9 210.1h1.2v1.2h-1.2zM61.0 206.5h1.2v1.2h-1.2zM58.8 211.7h1.2v1.2h-1.2zM62.3 205.8h1.2v1.2h-1.2zM58.3 208.8h1.2v1.2h-1.2zM58.7 207.3h1.2v1.2h-1.2zM64.8 205.9h1.2v1.2h-1.2zM59.2 209.4h1.2v1.2h-1.2zM64.3 207.4h1.2v1.2h-1.2zM62.2 207.7h1.2v1.2h-1.2zM62.9 205.0h1.2v1.2h-1.2zM66.5 207.6h1.2v1.2h-1.2zM60.0 210.3h1.2v1.2h-1.2zM58.1 205.5h1.2v1.2h-1.2zM61.6 207.7h1.2v1.2h-1.2zM65.3 203.4h1.2v1.2h-1.2zM64.0 209.5h1.2v1.2h-1.2zM59.1 205.1h1.2v1.2h-1.2zM59.3 203.2h1.2v1.2h-1.2zM60.2 207.7h1.2v1.2h-1.2zM62.3 210.7h1.2v1.2h-1.2zM61.0 203.9h1.2v1.2h-1.2zM62.1 205.0h1.2v1.2h-1.2zM62.3 205.9h1.2v1.2h-1.2zM60.8 204.9h1.2v1.2h-1.2zM61.4 208.8h1.2v1.2h-1.2zM62.1 205.8h1.2v1.2h-1.2zM61.3 206.0h1.2v1.2h-1.2zM66.3 205.9h1.2v1.2h-1.2zM63.0 209.0h1.2v1.2h-1.2zM61.7 205.3h1.2v1.2h-1.2zM57.2 204.7h1.2v1.2h-1.2zM62.5 203.1h1.2v1.2h-1.2zM56.5 212.7h1.2v1.2h-1.2zM57.9 207.0h1.2v1.2h-1.2zM63.7 208.5h1.2v1.2h-1.2zM63.3 207.8h1.2v1.2h-1.2zM61.1 208.3h1.2v1.2h-1.2zM57.1 208.0h1.2v1.2h-1.2zM60.6 212.8h1.2v1.2h-1.2zM59.8 205.2h1.2v1.2h-1.2zM67.3 205.2h1.2v1.2h-1.2zM62.1 204.4h1.2v1.2h-1.2zM59.5 209.8h1.2v1.2h-1.2zM58.5 210.0h1.2v1.2h-1.2zM61.4 205.4h1.2v1.2h-1.2zM61.1 204.3h1.2v1.2h-1.2zM58.6 206.9h1.2v1.2h-1.2zM61.8 211.4h1.2v1.2h-1.2zM58.6 200.6h1.2v1.2h-1.2zM64.4 209.2h1.2v1.2h-1.2zM64.3 205.1h1.2v1.2h-1.2zM64.3 210.5h1.2v1.2h-1.2zM60.3 205.1h1.2v1.2h-1.2zM62.8 207.1h1.2v1.2h-1.2zM61.2 204.0h1.2v1.2h-1.2zM60.5 205.3h1.2v1.2h-1.2zM60.7 211.4h1.2v1.2h-1.2zM58.2 210.0h1.2v1.2h-1.2zM61.0 203.0h1.2v1.2h-1.2zM62.1 206.8h1.2v1.2h-1.2zM64.1 207.8h1.2v1.2h-1.2zM57.1 207.6h1.2v1.2h-1.2zM62.0 205.0h1.2v1.2h-1.2zM62.5 207.7h1.2v1.2h-1.2zM60.6 207.7h1.2v1.2h-1.2zM64.2 211.2h1.2v1.2h-1.2zM62.1 212.7h1.2v1.2h-1.2zM58.4 207.5h1.2v1.2h-1.2zM59.1 205.9h1.2v1.2h-1.2zM63.6 207.7h1.2v1.2h-1.2zM62.7 206.3h1.2v1.2h-1.2zM56.7 205.9h1.2v1.2h-1.2zM65.0 207.7h1.2v1.2h-1.2zM63.1 205.2h1.2v1.2h-1.2zM61.1 206.0h1.2v1.2h-1.2zM62.6 210.1h1.2v1.2h-1.2zM60.8 201.0h1.2v1.2h-1.2zM58.5 209.7h1.2v1.2h-1.2zM57.6 208.9h1.2v1.2h-1.2zM60.6 209.0h1.2v1.2h-1.2zM59.3 209.4h1.2v1.2h-1.2zM62.5 205.1h1.2v1.2h-1.2zM61.5 206.8h1.2v1.2h-1.2zM55.9 210.5h1.2v1.2h-1.2zM61.8 209.6h1.2v1.2h-1.2zM56.0 208.7h1.2v1.2h-1.2zM59.0 201.6h1.2v1.2h-1.2zM61.9 212.0h1.2v1.2h-1.2zM62.1 208.8h1.2v1.2h-1.2zM60.9 201.4h1.2v1.2h-1.2zM59.8 211.7h1.2v1.2h-1.2zM60.0 207.2h1.2v1.2h-1.2zM57.5 197.4h1.2v1.2h-1.2zM60.4 209.4h1.2v1.2h-1.2zM59.3 201.7h1.2v1.2h-1.2zM61.9 202.5h1.2v1.2h-1.2zM56.6 205.2h1.2v1.2h-1.2zM62.5 213.1h1.2v1.2h-1.2zM94.9 220.4h1.2v1.2h-1.2zM95.5 218.0h1.2v1.2h-1.2zM95.6 215.8h1.2v1.2h-1.2zM96.2 218.5h1.2v1.2h-1.2zM96.1 218.6h1.2v1.2h-1.2zM96.8 220.8h1.2v1.2h-1.2zM95.3 221.1h1.2v1.2h-1.2zM89.7 217.6h1.2v1.2h-1.2zM95.5 218.7h1.2v1.2h-1.2zM94.3 217.4h1.2v1.2h-1.2zM94.8 215.8h1.2v1.2h-1.2zM96.6 219.3h1.2v1.2h-1.2zM89.3 219.1h1.2v1.2h-1.2zM94.9 213.0h1.2v1.2h-1.2zM96.5 220.0h1.2v1.2h-1.2zM94.9 215.2h1.2v1.2h-1.2zM96.3 217.7h1.2v1.2h-1.2zM96.3 217.9h1.2v1.2h-1.2zM96.7 217.8h1.2v1.2h-1.2zM94.9 213.5h1.2v1.2h-1.2zM94.0 217.2h1.2v1.2h-1.2zM95.6 213.0h1.2v1.2h-1.2zM96.9 219.0h1.2v1.2h-1.2zM94.9 220.4h1.2v1.2h-1.2zM95.6 214.6h1.2v1.2h-1.2zM96.0 220.6h1.2v1.2h-1.2zM94.1 214.0h1.2v1.2h-1.2zM86.9 216.6h1.2v1.2h-1.2zM96.3 215.2h1.2v1.2h-1.2zM97.0 220.2h1.2v1.2h-1.2zM88.5 221.1h1.2v1.2h-1.2zM94.6 221.2h1.2v1.2h-1.2zM94.5 217.8h1.2v1.2h-1.2zM95.4 214.2h1.2v1.2h-1.2zM95.6 206.7h1.2v1.2h-1.2zM95.8 220.1h1.2v1.2h-1.2zM95.6 224.7h1.2v1.2h-1.2zM105.3 217.0h1.2v1.2h-1.2zM104.4 216.9h1.2v1.2h-1.2zM97.5 218.8h1.2v1.2h-1.2zM101.9 219.4h1.2v1.2h-1.2zM102.3 221.0h1.2v1.2h-1.2zM103.1 214.7h1.2v1.2h-1.2zM103.7 225.0h1.2v1.2h-1.2zM104.0 220.7h1.2v1.2h-1.2zM102.5 219.3h1.2v1.2h-1.2zM102.4 218.2h1.2v1.2h-1.2zM103.4 221.5h1.2v1.2h-1.2zM101.9 221.9h1.2v1.2h-1.2zM103.0 216.4h1.2v1.2h-1.2zM97.2 220.4h1.2v1.2h-1.2zM103.9 218.2h1.2v1.2h-1.2zM104.2 218.4h1.2v1.2h-1.2zM102.1 216.4h1.2v1.2h-1.2zM101.9 221.2h1.2v1.2h-1.2zM103.0 218.5h1.2v1.2h-1.2zM102.3 218.2h1.2v1.2h-1.2zM105.3 217.1h1.2v1.2h-1.2zM102.4 217.4h1.2v1.2h-1.2zM95.7 220.1h1.2v1.2h-1.2zM103.2 218.5h1.2v1.2h-1.2zM103.9 221.2h1.2v1.2h-1.2zM103.6 219.9h1.2v1.2h-1.2zM102.4 219.9h1.2v1.2h-1.2zM104.7 220.1h1.2v1.2h-1.2zM104.2 216.5h1.2v1.2h-1.2zM103.9 217.6h1.2v1.2h-1.2zM103.1 215.7h1.2v1.2h-1.2zM102.7 214.8h1.2v1.2h-1.2zM96.5 217.0h1.2v1.2h-1.2zM96.1 216.6h1.2v1.2h-1.2zM103.1 220.7h1.2v1.2h-1.2zM102.2 225.7h1.2v1.2h-1.2zM103.6 219.2h1.2v1.2h-1.2zM102.2 219.4h1.2v1.2h-1.2zM109.8 220.6h1.2v1.2h-1.2zM103.2 213.4h1.2v1.2h-1.2zM96.9 217.6h1.2v1.2h-1.2zM102.9 210.9h1.2v1.2h-1.2zM52.0 250.2h1.2v1.2h-1.2zM50.6 250.4h1.2v1.2h-1.2zM53.6 250.9h1.2v1.2h-1.2zM51.7 249.5h1.2v1.2h-1.2zM58.8 250.8h1.2v1.2h-1.2zM50.7 249.1h1.2v1.2h-1.2zM57.0 251.8h1.2v1.2h-1.2zM52.5 251.3h1.2v1.2h-1.2zM51.9 249.5h1.2v1.2h-1.2zM52.7 251.4h1.2v1.2h-1.2zM53.5 251.3h1.2v1.2h-1.2zM54.3 249.0h1.2v1.2h-1.2zM51.1 249.5h1.2v1.2h-1.2zM56.8 250.7h1.2v1.2h-1.2zM55.6 249.3h1.2v1.2h-1.2zM55.5 250.3h1.2v1.2h-1.2zM51.7 249.5h1.2v1.2h-1.2zM53.3 251.7h1.2v1.2h-1.2zM53.6 248.8h1.2v1.2h-1.2zM54.9 249.1h1.2v1.2h-1.2zM50.5 249.7h1.2v1.2h-1.2zM50.9 249.2h1.2v1.2h-1.2zM54.9 251.4h1.2v1.2h-1.2zM50.6 249.3h1.2v1.2h-1.2zM50.8 251.0h1.2v1.2h-1.2zM51.5 250.0h1.2v1.2h-1.2zM50.7 251.9h1.2v1.2h-1.2zM51.9 250.2h1.2v1.2h-1.2zM50.4 250.6h1.2v1.2h-1.2zM53.6 251.2h1.2v1.2h-1.2zM53.3 249.2h1.2v1.2h-1.2zM50.3 249.1h1.2v1.2h-1.2zM52.0 251.1h1.2v1.2h-1.2zM50.2 251.3h1.2v1.2h-1.2zM53.7 250.5h1.2v1.2h-1.2zM55.3 249.2h1.2v1.2h-1.2zM53.9 250.6h1.2v1.2h-1.2zM54.7 249.9h1.2v1.2h-1.2zM59.0 249.7h1.2v1.2h-1.2zM52.9 250.2h1.2v1.2h-1.2zM55.4 250.9h1.2v1.2h-1.2zM52.0 250.3h1.2v1.2h-1.2zM53.4 250.7h1.2v1.2h-1.2z"/>
<path fill="#24c1c7" d="M61.0 208.7h1.2v1.2h-1.2zM61.5 203.9h1.2v1.2h-1.2zM66.7 205.3h1.2v1.2h-1.2zM65.4 209.4h1.2v1.2h-1.2zM61.0 208.0h1.2v1.2h-1.2zM62.8 209.4h1.2v1.2h-1.2zM63.2 203.8h1.2v1.2h-1.2zM57.8 206.8h1.2v1.2h-1.2zM63.6 205.6h1.2v1.2h-1.2zM59.5 207.6h1.2v1.2h-1.2zM64.0 207.3h1.2v1.2h-1.2zM60.3 210.1h1.2v1.2h-1.2zM53.0 212.7h1.2v1.2h-1.2zM62.1 206.3h1.2v1.2h-1.2zM89.5 218.5h1.2v1.2h-1.2zM84.2 223.1h1.2v1.2h-1.2zM87.0 212.3h1.2v1.2h-1.2zM83.8 211.1h1.2v1.2h-1.2zM86.6 211.6h1.2v1.2h-1.2zM84.8 221.9h1.2v1.2h-1.2zM80.8 219.2h1.2v1.2h-1.2zM87.5 213.5h1.2v1.2h-1.2zM78.5 216.7h1.2v1.2h-1.2zM84.9 222.3h1.2v1.2h-1.2zM84.7 211.8h1.2v1.2h-1.2zM80.6 213.5h1.2v1.2h-1.2zM82.7 224.3h1.2v1.2h-1.2zM85.5 213.0h1.2v1.2h-1.2zM83.0 211.1h1.2v1.2h-1.2zM82.9 222.7h1.2v1.2h-1.2zM87.0 220.7h1.2v1.2h-1.2zM90.9 217.1h1.2v1.2h-1.2zM82.2 212.9h1.2v1.2h-1.2zM83.6 210.6h1.2v1.2h-1.2zM89.7 214.3h1.2v1.2h-1.2zM79.0 216.8h1.2v1.2h-1.2zM84.3 211.3h1.2v1.2h-1.2zM81.9 213.2h1.2v1.2h-1.2zM80.1 224.5h1.2v1.2h-1.2zM83.1 212.6h1.2v1.2h-1.2zM79.6 213.1h1.2v1.2h-1.2zM90.6 217.1h1.2v1.2h-1.2zM82.3 213.5h1.2v1.2h-1.2zM81.0 215.2h1.2v1.2h-1.2zM74.2 213.7h1.2v1.2h-1.2zM75.4 213.2h1.2v1.2h-1.2zM89.3 217.6h1.2v1.2h-1.2zM92.5 219.7h1.2v1.2h-1.2zM89.3 209.1h1.2v1.2h-1.2zM90.4 224.8h1.2v1.2h-1.2zM85.1 207.5h1.2v1.2h-1.2zM93.2 224.4h1.2v1.2h-1.2zM88.4 220.7h1.2v1.2h-1.2zM88.8 221.3h1.2v1.2h-1.2zM95.8 221.6h1.2v1.2h-1.2zM97.7 217.1h1.2v1.2h-1.2zM93.1 221.3h1.2v1.2h-1.2zM89.4 212.7h1.2v1.2h-1.2zM89.5 214.8h1.2v1.2h-1.2zM94.0 210.5h1.2v1.2h-1.2zM96.3 221.2h1.2v1.2h-1.2zM89.3 220.8h1.2v1.2h-1.2zM92.9 221.8h1.2v1.2h-1.2zM94.3 212.4h1.2v1.2h-1.2zM95.3 212.9h1.2v1.2h-1.2zM93.7 222.3h1.2v1.2h-1.2zM95.2 213.3h1.2v1.2h-1.2zM92.3 223.7h1.2v1.2h-1.2zM87.8 222.2h1.2v1.2h-1.2zM87.6 212.3h1.2v1.2h-1.2zM89.2 219.7h1.2v1.2h-1.2zM90.6 228.8h1.2v1.2h-1.2zM91.9 223.2h1.2v1.2h-1.2zM94.9 223.7h1.2v1.2h-1.2zM90.9 223.6h1.2v1.2h-1.2zM94.8 217.9h1.2v1.2h-1.2zM96.3 220.0h1.2v1.2h-1.2zM101.9 224.4h1.2v1.2h-1.2zM106.6 215.2h1.2v1.2h-1.2zM99.3 222.9h1.2v1.2h-1.2zM100.5 214.3h1.2v1.2h-1.2zM96.3 221.7h1.2v1.2h-1.2zM97.2 217.5h1.2v1.2h-1.2zM96.9 221.9h1.2v1.2h-1.2zM93.0 221.7h1.2v1.2h-1.2zM109.7 218.7h1.2v1.2h-1.2zM97.0 220.6h1.2v1.2h-1.2zM101.8 222.8h1.2v1.2h-1.2zM108.8 218.4h1.2v1.2h-1.2zM97.7 219.9h1.2v1.2h-1.2zM98.8 223.2h1.2v1.2h-1.2zM109.8 219.4h1.2v1.2h-1.2zM98.9 214.0h1.2v1.2h-1.2zM106.6 219.9h1.2v1.2h-1.2zM97.4 226.1h1.2v1.2h-1.2zM97.2 216.5h1.2v1.2h-1.2zM97.3 217.9h1.2v1.2h-1.2zM97.1 219.1h1.2v1.2h-1.2zM101.9 244.6h1.2v1.2h-1.2zM98.1 240.3h1.2v1.2h-1.2zM103.8 241.2h1.2v1.2h-1.2zM95.7 241.7h1.2v1.2h-1.2zM100.0 242.7h1.2v1.2h-1.2zM95.4 238.1h1.2v1.2h-1.2zM103.0 243.9h1.2v1.2h-1.2zM97.2 244.7h1.2v1.2h-1.2zM97.9 239.0h1.2v1.2h-1.2zM100.6 238.5h1.2v1.2h-1.2zM101.5 242.5h1.2v1.2h-1.2zM97.2 236.2h1.2v1.2h-1.2zM94.3 243.5h1.2v1.2h-1.2zM98.5 242.0h1.2v1.2h-1.2zM97.8 240.6h1.2v1.2h-1.2zM97.2 246.6h1.2v1.2h-1.2zM96.3 242.0h1.2v1.2h-1.2zM97.1 239.9h1.2v1.2h-1.2zM96.1 241.9h1.2v1.2h-1.2zM99.5 239.3h1.2v1.2h-1.2zM102.2 239.9h1.2v1.2h-1.2zM92.9 242.6h1.2v1.2h-1.2zM97.8 240.4h1.2v1.2h-1.2zM97.0 240.6h1.2v1.2h-1.2zM99.4 245.5h1.2v1.2h-1.2zM95.5 243.7h1.2v1.2h-1.2zM97.7 243.5h1.2v1.2h-1.2zM95.3 242.9h1.2v1.2h-1.2zM100.0 242.8h1.2v1.2h-1.2zM98.4 245.1h1.2v1.2h-1.2zM97.7 241.6h1.2v1.2h-1.2zM99.1 246.0h1.2v1.2h-1.2zM97.4 239.5h1.2v1.2h-1.2zM93.9 241.1h1.2v1.2h-1.2zM99.7 238.5h1.2v1.2h-1.2zM98.9 240.9h1.2v1.2h-1.2zM97.7 242.9h1.2v1.2h-1.2zM100.8 245.0h1.2v1.2h-1.2zM101.4 240.1h1.2v1.2h-1.2zM95.2 241.7h1.2v1.2h-1.2zM96.0 240.8h1.2v1.2h-1.2zM102.3 240.0h1.2v1.2h-1.2zM101.9 238.9h1.2v1.2h-1.2zM96.1 241.8h1.2v1.2h-1.2zM96.4 241.9h1.2v1.2h-1.2zM96.8 241.7h1.2v1.2h-1.2zM98.2 239.3h1.2v1.2h-1.2zM94.8 246.0h1.2v1.2h-1.2zM100.6 238.6h1.2v1.2h-1.2zM96.3 245.3h1.2v1.2h-1.2zM97.9 243.1h1.2v1.2h-1.2zM99.8 240.8h1.2v1.2h-1.2zM100.3 239.0h1.2v1.2h-1.2zM97.2 244.1h1.2v1.2h-1.2zM98.2 245.7h1.2v1.2h-1.2zM95.9 239.5h1.2v1.2h-1.2zM102.8 241.0h1.2v1.2h-1.2zM99.9 244.1h1.2v1.2h-1.2zM95.1 242.4h1.2v1.2h-1.2zM98.1 246.3h1.2v1.2h-1.2zM100.0 240.3h1.2v1.2h-1.2zM99.4 242.9h1.2v1.2h-1.2zM103.0 238.8h1.2v1.2h-1.2zM101.8 246.5h1.2v1.2h-1.2zM97.9 236.5h1.2v1.2h-1.2zM94.7 241.4h1.2v1.2h-1.2zM98.8 241.3h1.2v1.2h-1.2zM98.5 246.1h1.2v1.2h-1.2zM105.4 240.9h1.2v1.2h-1.2zM98.4 241.6h1.2v1.2h-1.2zM92.5 243.0h1.2v1.2h-1.2zM96.3 245.4h1.2v1.2h-1.2zM98.4 241.5h1.2v1.2h-1.2zM94.7 244.1h1.2v1.2h-1.2zM95.8 242.9h1.2v1.2h-1.2zM97.1 241.0h1.2v1.2h-1.2zM99.0 241.8h1.2v1.2h-1.2zM97.7 241.7h1.2v1.2h-1.2zM100.2 244.5h1.2v1.2h-1.2zM96.7 238.4h1.2v1.2h-1.2zM96.8 244.4h1.2v1.2h-1.2zM94.4 243.9h1.2v1.2h-1.2zM96.0 241.5h1.2v1.2h-1.2zM99.9 239.9h1.2v1.2h-1.2zM93.7 241.1h1.2v1.2h-1.2zM97.9 242.8h1.2v1.2h-1.2zM100.0 243.4h1.2v1.2h-1.2zM97.1 242.3h1.2v1.2h-1.2zM98.8 244.0h1.2v1.2h-1.2zM95.1 240.4h1.2v1.2h-1.2zM101.6 242.2h1.2v1.2h-1.2zM101.1 238.0h1.2v1.2h-1.2zM98.7 243.4h1.2v1.2h-1.2zM93.4 242.0h1.2v1.2h-1.2zM95.3 240.7h1.2v1.2h-1.2zM100.7 244.4h1.2v1.2h-1.2zM102.7 243.3h1.2v1.2h-1.2zM98.9 235.1h1.2v1.2h-1.2zM98.3 247.3h1.2v1.2h-1.2zM91.8 243.5h1.2v1.2h-1.2zM102.7 244.9h1.2v1.2h-1.2zM108.8 243.8h1.2v1.2h-1.2zM95.9 248.3h1.2v1.2h-1.2zM98.4 234.6h1.2v1.2h-1.2zM97.0 246.4h1.2v1.2h-1.2zM99.6 240.7h1.2v1.2h-1.2zM100.9 240.6h1.2v1.2h-1.2zM103.7 238.1h1.2v1.2h-1.2zM93.8 234.7h1.2v1.2h-1.2zM104.9 240.2h1.2v1.2h-1.2zM94.1 239.1h1.2v1.2h-1.2zM99.3 243.5h1.2v1.2h-1.2zM103.1 236.2h1.2v1.2h-1.2zM101.2 247.0h1.2v1.2h-1.2zM94.1 242.7h1.2v1.2h-1.2zM95.1 240.7h1.2v1.2h-1.2zM97.9 238.7h1.2v1.2h-1.2zM103.1 237.5h1.2v1.2h-1.2zM92.5 239.6h1.2v1.2h-1.2zM100.1 241.7h1.2v1.2h-1.2zM100.7 241.0h1.2v1.2h-1.2zM100.5 236.4h1.2v1.2h-1.2zM100.1 240.7h1.2v1.2h-1.2z"/>
<path fill="#4ed9b5" d="M49.3 209.1h1.2v1.2h-1.2zM49.2 208.4h1.2v1.2h-1.2zM50.8 205.7h1.2v1.2h-1.2zM53.0 206.8h1.2v1.2h-1.2zM50.2 207.3h1.2v1.2h-1.2zM51.1 206.5h1.2v1.2h-1.2zM50.0 208.2h1.2v1.2h-1.2zM49.2 207.5h1.2v1.2h-1.2z"/>
<path fill="#5cdeae" d="M46.8 253.7h1.2v1.2h-1.2zM50.6 253.9h1.2v1.2h-1.2zM54.0 253.1h1.2v1.2h-1.2zM52.8 252.7h1.2v1.2h-1.2zM52.2 255.4h1.2v1.2h-1.2zM50.9 254.8h1.2v1.2h-1.2zM49.6 253.6h1.2v1.2h-1.2zM52.6 257.7h1.2v1.2h-1.2zM47.5 253.0h1.2v1.2h-1.2zM51.2 253.8h1.2v1.2h-1.2zM49.2 259.2h1.2v1.2h-1.2zM49.9 252.9h1.2v1.2h-1.2zM51.8 253.2h1.2v1.2h-1.2zM49.5 252.0h1.2v1.2h-1.2zM48.1 252.2h1.2v1.2h-1.2zM48.6 254.7h1.2v1.2h-1.2zM52.5 255.3h1.2v1.2h-1.2zM49.5 254.2h1.2v1.2h-1.2zM50.3 252.5h1.2v1.2h-1.2zM55.9 252.8h1.2v1.2h-1.2zM51.8 252.7h1.2v1.2h-1.2zM55.6 253.0h1.2v1.2h-1.2zM53.4 252.3h1.2v1.2h-1.2zM51.8 252.4h1.2v1.2h-1.2zM50.4 258.1h1.2v1.2h-1.2zM48.2 254.5h1.2v1.2h-1.2zM50.5 252.6h1.2v1.2h-1.2zM49.4 256.4h1.2v1.2h-1.2zM52.1 252.3h1.2v1.2h-1.2zM56.1 253.0h1.2v1.2h-1.2zM56.4 252.0h1.2v1.2h-1.2zM48.0 254.9h1.2v1.2h-1.2zM51.8 253.7h1.2v1.2h-1.2zM43.9 255.9h1.2v1.2h-1.2zM54.6 252.4h1.2v1.2h-1.2zM59.1 252.7h1.2v1.2h-1.2zM60.0 255.3h1.2v1.2h-1.2zM46.1 254.9h1.2v1.2h-1.2zM56.2 252.0h1.2v1.2h-1.2zM53.5 254.6h1.2v1.2h-1.2zM55.7 256.5h1.2v1.2h-1.2zM47.8 257.0h1.2v1.2h-1.2z"/>
<path fill="#a1d587" d="M49.0 250.6h1.2v1.2h-1.2zM47.5 250.8h1.2v1.2h-1.2zM49.4 248.8h1.2v1.2h-1.2zM49.8 249.6h1.2v1.2h-1.2zM49.2 250.0h1.2v1.2h-1.2zM48.6 249.3h1.2v1.2h-1.2zM48.3 250.3h1.2v1.2h-1.2zM47.6 249.5h1.2v1.2h-1.2zM47.5 251.6h1.2v1.2h-1.2zM48.4 249.2h1.2v1.2h-1.2zM46.1 248.8h1.2v1.2h-1.2zM49.9 251.8h1.2v1.2h-1.2zM45.8 249.3h1.2v1.2h-1.2zM49.5 252.0h1.2v1.2h-1.2zM48.9 250.6h1.2v1.2h-1.2zM48.5 250.8h1.2v1.2h-1.2zM48.7 251.0h1.2v1.2h-1.2zM47.0 248.8h1.2v1.2h-1.2zM48.5 251.3h1.2v1.2h-1.2zM46.7 251.8h1.2v1.2h-1.2zM49.9 249.4h1.2v1.2h-1.2zM49.3 249.3h1.2v1.2h-1.2zM42.0 249.8h1.2v1.2h-1.2zM48.5 250.1h1.2v1.2h-1.2zM42.4 250.1h1.2v1.2h-1.2zM48.3 249.9h1.2v1.2h-1.2zM48.1 250.6h1.2v1.2h-1.2z"/>
<path fill="#e68447" d="M95.1 240.1h1.2v1.2h-1.2zM94.9 237.6h1.2v1.2h-1.2zM93.8 240.1h1.2v1.2h-1.2zM94.7 238.5h1.2v1.2h-1.2zM96.7 240.0h1.2v1.2h-1.2zM95.7 239.5h1.2v1.2h-1.2zM96.1 239.0h1.2v1.2h-1.2z"/>
<path fill="#e67840" d="M56.8 248.3h1.2v1.2h-1.2zM53.3 238.2h1.2v1.2h-1.2zM46.9 243.9h1.2v1.2h-1.2zM51.8 248.3h1.2v1.2h-1.2zM55.5 248.2h1.2v1.2h-1.2zM49.6 247.1h1.2v1.2h-1.2zM48.7 247.9h1.2v1.2h-1.2zM54.2 247.5h1.2v1.2h-1.2zM54.0 245.5h1.2v1.2h-1.2zM51.9 245.8h1.2v1.2h-1.2zM55.7 246.3h1.2v1.2h-1.2zM58.0 245.4h1.2v1.2h-1.2zM54.4 245.4h1.2v1.2h-1.2zM54.2 248.1h1.2v1.2h-1.2zM49.2 247.2h1.2v1.2h-1.2zM51.1 238.9h1.2v1.2h-1.2zM46.1 248.1h1.2v1.2h-1.2zM49.2 246.6h1.2v1.2h-1.2zM54.9 248.6h1.2v1.2h-1.2zM57.5 245.6h1.2v1.2h-1.2zM54.5 246.2h1.2v1.2h-1.2zM49.3 248.6h1.2v1.2h-1.2zM48.9 245.3h1.2v1.2h-1.2zM57.1 246.6h1.2v1.2h-1.2zM50.1 244.7h1.2v1.2h-1.2zM51.3 247.0h1.2v1.2h-1.2zM52.3 248.4h1.2v1.2h-1.2zM48.5 247.4h1.2v1.2h-1.2zM48.7 246.2h1.2v1.2h-1.2zM52.6 248.7h1.2v1.2h-1.2zM54.4 247.6h1.2v1.2h-1.2zM51.0 248.6h1.2v1.2h-1.2zM49.6 246.6h1.2v1.2h-1.2zM55.1 247.6h1.2v1.2h-1.2zM50.1 241.8h1.2v1.2h-1.2zM52.0 247.8h1.2v1.2h-1.2zM54.3 247.6h1.2v1.2h-1.2zM49.4 248.3h1.2v1.2h-1.2zM50.9 245.7h1.2v1.2h-1.2zM52.7 242.6h1.2v1.2h-1.2zM56.9 244.7h1.2v1.2h-1.2zM51.0 240.3h1.2v1.2h-1.2zM52.7 246.0h1.2v1.2h-1.2zM52.3 247.2h1.2v1.2h-1.2zM52.4 247.0h1.2v1.2h-1.2zM51.5 247.6h1.2v1.2h-1.2zM48.8 239.3h1.2v1.2h-1.2zM51.1 244.0h1.2v1.2h-1.2z"/>
<path fill="#e64423" d="M49.3 206.3h1.2v1.2h-1.2zM50.1 204.6h1.2v1.2h-1.2zM48.6 205.7h1.2v1.2h-1.2zM47.0 201.1h1.2v1.2h-1.2zM48.2 203.3h1.2v1.2h-1.2zM46.8 206.9h1.2v1.2h-1.2zM49.5 200.8h1.2v1.2h-1.2zM48.1 201.8h1.2v1.2h-1.2zM47.7 207.9h1.2v1.2h-1.2zM50.6 204.0h1.2v1.2h-1.2zM49.6 206.4h1.2v1.2h-1.2zM46.9 202.3h1.2v1.2h-1.2zM45.9 205.9h1.2v1.2h-1.2zM48.2 205.4h1.2v1.2h-1.2zM44.5 205.6h1.2v1.2h-1.2zM46.0 203.6h1.2v1.2h-1.2zM44.6 208.7h1.2v1.2h-1.2zM48.7 204.7h1.2v1.2h-1.2zM46.1 205.9h1.2v1.2h-1.2zM50.0 204.1h1.2v1.2h-1.2zM49.7 204.5h1.2v1.2h-1.2zM48.9 202.9h1.2v1.2h-1.2zM42.9 209.1h1.2v1.2h-1.2zM48.0 205.7h1.2v1.2h-1.2zM49.6 206.1h1.2v1.2h-1.2zM45.4 204.3h1.2v1.2h-1.2zM48.1 205.2h1.2v1.2h-1.2zM46.8 204.7h1.2v1.2h-1.2zM47.3 206.1h1.2v1.2h-1.2zM47.3 205.3h1.2v1.2h-1.2zM49.3 202.7h1.2v1.2h-1.2zM51.6 204.1h1.2v1.2h-1.2zM49.0 204.4h1.2v1.2h-1.2zM49.6 203.5h1.2v1.2h-1.2zM46.2 209.5h1.2v1.2h-1.2zM49.5 202.5h1.2v1.2h-1.2zM45.4 204.5h1.2v1.2h-1.2zM51.5 201.7h1.2v1.2h-1.2zM47.7 206.0h1.2v1.2h-1.2zM51.3 204.2h1.2v1.2h-1.2zM46.3 207.2h1.2v1.2h-1.2zM49.5 204.7h1.2v1.2h-1.2zM48.9 203.3h1.2v1.2h-1.2zM51.1 203.1h1.2v1.2h-1.2zM51.0 204.8h1.2v1.2h-1.2zM47.6 206.0h1.2v1.2h-1.2zM49.9 205.0h1.2v1.2h-1.2zM48.1 204.8h1.2v1.2h-1.2zM46.3 205.3h1.2v1.2h-1.2zM47.8 205.7h1.2v1.2h-1.2zM48.8 206.1h1.2v1.2h-1.2zM45.9 207.0h1.2v1.2h-1.2zM47.3 204.7h1.2v1.2h-1.2zM51.0 202.7h1.2v1.2h-1.2zM44.2 208.4h1.2v1.2h-1.2zM49.1 205.7h1.2v1.2h-1.2zM48.7 204.9h1.2v1.2h-1.2zM48.2 203.0h1.2v1.2h-1.2zM49.3 203.2h1.2v1.2h-1.2zM48.2 201.9h1.2v1.2h-1.2zM51.0 203.6h1.2v1.2h-1.2zM49.3 206.0h1.2v1.2h-1.2zM48.5 202.0h1.2v1.2h-1.2zM52.0 200.9h1.2v1.2h-1.2zM49.3 206.7h1.2v1.2h-1.2zM46.0 205.4h1.2v1.2h-1.2zM45.0 203.9h1.2v1.2h-1.2zM44.1 202.3h1.2v1.2h-1.2zM48.6 205.6h1.2v1.2h-1.2zM47.0 203.7h1.2v1.2h-1.2zM49.8 202.0h1.2v1.2h-1.2zM47.2 205.9h1.2v1.2h-1.2zM47.7 207.0h1.2v1.2h-1.2zM49.9 203.6h1.2v1.2h-1.2zM50.6 204.4h1.2v1.2h-1.2zM48.9 203.6h1.2v1.2h-1.2zM48.8 203.9h1.2v1.2h-1.2zM50.7 204.1h1.2v1.2h-1.2zM46.7 206.9h1.2v1.2h-1.2zM49.1 206.9h1.2v1.2h-1.2zM46.6 202.6h1.2v1.2h-1.2zM47.1 205.8h1.2v1.2h-1.2zM49.8 202.5h1.2v1.2h-1.2zM47.4 206.0h1.2v1.2h-1.2zM52.4 200.8h1.2v1.2h-1.2zM48.1 204.2h1.2v1.2h-1.2zM40.3 195.8h1.2v1.2h-1.2zM46.5 207.0h1.2v1.2h-1.2zM41.2 205.8h1.2v1.2h-1.2zM36.0 206.4h1.2v1.2h-1.2zM47.2 201.8h1.2v1.2h-1.2zM49.5 205.3h1.2v1.2h-1.2zM44.5 210.7h1.2v1.2h-1.2zM45.5 207.4h1.2v1.2h-1.2zM49.5 203.9h1.2v1.2h-1.2zM49.1 204.5h1.2v1.2h-1.2zM49.5 198.9h1.2v1.2h-1.2zM45.1 208.7h1.2v1.2h-1.2zM46.5 206.9h1.2v1.2h-1.2zM44.1 205.2h1.2v1.2h-1.2zM48.8 206.3h1.2v1.2h-1.2zM86.0 203.1h1.2v1.2h-1.2zM90.2 202.8h1.2v1.2h-1.2zM89.8 206.8h1.2v1.2h-1.2zM85.0 205.0h1.2v1.2h-1.2zM84.6 205.4h1.2v1.2h-1.2zM81.7 202.4h1.2v1.2h-1.2zM83.3 208.7h1.2v1.2h-1.2zM86.5 208.1h1.2v1.2h-1.2zM86.4 205.2h1.2v1.2h-1.2zM85.6 205.5h1.2v1.2h-1.2zM88.1 198.5h1.2v1.2h-1.2zM83.1 205.4h1.2v1.2h-1.2zM85.1 203.2h1.2v1.2h-1.2zM87.3 204.8h1.2v1.2h-1.2zM86.9 205.5h1.2v1.2h-1.2zM88.3 202.8h1.2v1.2h-1.2zM86.4 199.4h1.2v1.2h-1.2zM84.4 204.7h1.2v1.2h-1.2zM86.3 201.8h1.2v1.2h-1.2zM82.4 202.9h1.2v1.2h-1.2zM80.6 202.2h1.2v1.2h-1.2zM86.9 202.8h1.2v1.2h-1.2zM85.1 197.8h1.2v1.2h-1.2zM86.1 206.9h1.2v1.2h-1.2zM80.5 204.4h1.2v1.2h-1.2zM84.2 206.6h1.2v1.2h-1.2zM83.6 208.8h1.2v1.2h-1.2zM82.8 203.8h1.2v1.2h-1.2zM78.9 199.1h1.2v1.2h-1.2zM84.3 201.4h1.2v1.2h-1.2zM87.8 200.6h1.2v1.2h-1.2zM86.3 202.4h1.2v1.2h-1.2zM83.6 203.9h1.2v1.2h-1.2zM85.2 198.5h1.2v1.2h-1.2zM87.4 204.6h1.2v1.2h-1.2zM77.5 199.8h1.2v1.2h-1.2zM84.9 204.5h1.2v1.2h-1.2zM86.8 203.4h1.2v1.2h-1.2zM87.2 202.9h1.2v1.2h-1.2zM90.1 203.5h1.2v1.2h-1.2zM88.5 202.3h1.2v1.2h-1.2zM86.2 202.1h1.2v1.2h-1.2zM86.1 199.4h1.2v1.2h-1.2zM87.5 203.6h1.2v1.2h-1.2zM83.7 208.5h1.2v1.2h-1.2zM85.2 208.8h1.2v1.2h-1.2zM87.8 207.1h1.2v1.2h-1.2zM90.8 205.5h1.2v1.2h-1.2zM84.8 202.0h1.2v1.2h-1.2zM85.1 207.4h1.2v1.2h-1.2zM85.8 203.6h1.2v1.2h-1.2zM89.1 203.5h1.2v1.2h-1.2zM85.2 203.0h1.2v1.2h-1.2zM89.4 204.0h1.2v1.2h-1.2zM82.5 202.6h1.2v1.2h-1.2zM84.7 203.5h1.2v1.2h-1.2zM84.7 200.9h1.2v1.2h-1.2zM87.5 202.8h1.2v1.2h-1.2zM88.2 209.6h1.2v1.2h-1.2zM81.0 203.5h1.2v1.2h-1.2zM82.7 203.1h1.2v1.2h-1.2zM86.2 205.1h1.2v1.2h-1.2zM83.4 205.5h1.2v1.2h-1.2zM81.0 200.8h1.2v1.2h-1.2zM88.2 203.2h1.2v1.2h-1.2zM86.7 206.1h1.2v1.2h-1.2zM86.7 204.4h1.2v1.2h-1.2zM83.9 204.0h1.2v1.2h-1.2zM88.2 207.7h1.2v1.2h-1.2zM84.6 202.0h1.2v1.2h-1.2zM88.4 203.9h1.2v1.2h-1.2zM82.7 202.4h1.2v1.2h-1.2zM82.9 207.6h1.2v1.2h-1.2zM85.8 198.7h1.2v1.2h-1.2zM83.3 202.0h1.2v1.2h-1.2zM87.2 202.4h1.2v1.2h-1.2zM86.0 205.4h1.2v1.2h-1.2zM82.7 205.3h1.2v1.2h-1.2zM85.5 207.3h1.2v1.2h-1.2zM84.3 199.7h1.2v1.2h-1.2zM87.9 205.7h1.2v1.2h-1.2zM83.5 203.0h1.2v1.2h-1.2zM84.0 202.0h1.2v1.2h-1.2zM88.7 205.1h1.2v1.2h-1.2zM91.6 201.3h1.2v1.2h-1.2zM90.9 198.4h1.2v1.2h-1.2zM85.5 202.8h1.2v1.2h-1.2zM85.9 199.8h1.2v1.2h-1.2zM89.6 202.0h1.2v1.2h-1.2zM84.9 204.7h1.2v1.2h-1.2zM82.5 204.5h1.2v1.2h-1.2zM85.6 207.8h1.2v1.2h-1.2zM86.5 203.2h1.2v1.2h-1.2zM82.9 199.8h1.2v1.2h-1.2zM80.6 201.8h1.2v1.2h-1.2zM81.2 201.3h1.2v1.2h-1.2zM87.2 200.6h1.2v1.2h-1.2zM83.1 204.8h1.2v1.2h-1.2zM84.9 202.1h1.2v1.2h-1.2zM85.9 198.6h1.2v1.2h-1.2zM87.0 205.5h1.2v1.2h-1.2zM84.3 203.4h1.2v1.2h-1.2zM86.7 204.6h1.2v1.2h-1.2zM82.8 204.0h1.2v1.2h-1.2zM84.3 205.3h1.2v1.2h-1.2zM82.4 203.8h1.2v1.2h-1.2zM88.5 206.9h1.2v1.2h-1.2zM85.2 204.8h1.2v1.2h-1.2zM83.2 204.7h1.2v1.2h-1.2zM84.3 204.8h1.2v1.2h-1.2zM84.6 200.0h1.2v1.2h-1.2zM87.2 203.3h1.2v1.2h-1.2zM80.8 203.0h1.2v1.2h-1.2zM82.3 204.3h1.2v1.2h-1.2zM84.2 200.2h1.2v1.2h-1.2zM92.4 207.9h1.2v1.2h-1.2zM88.0 204.0h1.2v1.2h-1.2zM85.0 200.6h1.2v1.2h-1.2zM87.3 199.3h1.2v1.2h-1.2zM91.1 203.0h1.2v1.2h-1.2zM84.9 206.3h1.2v1.2h-1.2zM82.0 201.3h1.2v1.2h-1.2zM85.7 198.9h1.2v1.2h-1.2zM82.4 200.4h1.2v1.2h-1.2zM87.8 209.7h1.2v1.2h-1.2zM82.0 204.6h1.2v1.2h-1.2zM85.1 208.5h1.2v1.2h-1.2zM89.7 201.7h1.2v1.2h-1.2zM96.9 207.6h1.2v1.2h-1.2zM80.7 201.2h1.2v1.2h-1.2zM83.2 203.1h1.2v1.2h-1.2zM81.5 214.0h1.2v1.2h-1.2zM88.8 206.9h1.2v1.2h-1.2zM80.1 201.6h1.2v1.2h-1.2zM83.1 203.4h1.2v1.2h-1.2zM85.1 205.1h1.2v1.2h-1.2zM80.9 208.7h1.2v1.2h-1.2zM80.9 201.7h1.2v1.2h-1.2zM83.1 196.5h1.2v1.2h-1.2zM75.8 202.6h1.2v1.2h-1.2zM78.7 203.8h1.2v1.2h-1.2zM83.4 204.2h1.2v1.2h-1.2zM85.9 209.2h1.2v1.2h-1.2zM84.4 205.0h1.2v1.2h-1.2zM77.3 207.1h1.2v1.2h-1.2zM83.2 199.2h1.2v1.2h-1.2zM88.9 207.3h1.2v1.2h-1.2zM87.8 212.4h1.2v1.2h-1.2zM84.9 206.9h1.2v1.2h-1.2zM81.3 204.8h1.2v1.2h-1.2zM81.9 216.2h1.2v1.2h-1.2zM85.4 215.5h1.2v1.2h-1.2zM83.7 216.3h1.2v1.2h-1.2zM84.4 216.6h1.2v1.2h-1.2zM81.8 216.8h1.2v1.2h-1.2zM81.5 215.3h1.2v1.2h-1.2zM85.0 215.4h1.2v1.2h-1.2zM81.5 216.8h1.2v1.2h-1.2zM91.0 213.3h1.2v1.2h-1.2zM90.2 212.4h1.2v1.2h-1.2zM83.9 214.4h1.2v1.2h-1.2zM84.8 214.7h1.2v1.2h-1.2zM88.9 214.4h1.2v1.2h-1.2zM88.5 216.5h1.2v1.2h-1.2zM85.0 217.2h1.2v1.2h-1.2zM85.9 214.6h1.2v1.2h-1.2zM86.5 217.3h1.2v1.2h-1.2zM87.4 216.6h1.2v1.2h-1.2zM82.5 216.4h1.2v1.2h-1.2zM84.0 215.2h1.2v1.2h-1.2zM87.9 216.6h1.2v1.2h-1.2zM88.1 214.3h1.2v1.2h-1.2zM84.2 214.9h1.2v1.2h-1.2zM80.8 216.3h1.2v1.2h-1.2zM87.1 215.1h1.2v1.2h-1.2zM87.9 215.4h1.2v1.2h-1.2zM86.5 216.3h1.2v1.2h-1.2zM82.7 214.2h1.2v1.2h-1.2zM84.4 215.4h1.2v1.2h-1.2zM84.7 215.6h1.2v1.2h-1.2zM87.6 214.1h1.2v1.2h-1.2zM87.9 215.3h1.2v1.2h-1.2zM86.2 214.7h1.2v1.2h-1.2zM89.3 216.6h1.2v1.2h-1.2zM86.7 216.8h1.2v1.2h-1.2zM85.8 217.4h1.2v1.2h-1.2zM86.3 215.4h1.2v1.2h-1.2zM78.1 214.8h1.2v1.2h-1.2zM86.3 215.6h1.2v1.2h-1.2zM83.9 215.5h1.2v1.2h-1.2zM87.4 216.8h1.2v1.2h-1.2zM84.1 215.9h1.2v1.2h-1.2zM87.5 216.8h1.2v1.2h-1.2zM84.6 215.8h1.2v1.2h-1.2zM86.1 216.3h1.2v1.2h-1.2zM87.5 216.1h1.2v1.2h-1.2zM83.5 214.0h1.2v1.2h-1.2zM83.8 217.3h1.2v1.2h-1.2zM84.0 214.9h1.2v1.2h-1.2zM84.7 216.9h1.2v1.2h-1.2zM83.9 214.6h1.2v1.2h-1.2zM81.4 216.8h1.2v1.2h-1.2zM85.2 216.7h1.2v1.2h-1.2zM81.2 209.9h1.2v1.2h-1.2zM87.4 212.8h1.2v1.2h-1.2zM78.5 215.7h1.2v1.2h-1.2zM85.9 214.7h1.2v1.2h-1.2zM84.5 216.3h1.2v1.2h-1.2zM95.6 212.2h1.2v1.2h-1.2zM86.1 215.9h1.2v1.2h-1.2zM92.3 215.5h1.2v1.2h-1.2zM91.2 218.0h1.2v1.2h-1.2zM93.1 216.9h1.2v1.2h-1.2zM93.0 215.3h1.2v1.2h-1.2zM92.9 217.0h1.2v1.2h-1.2zM91.0 216.8h1.2v1.2h-1.2zM91.8 219.0h1.2v1.2h-1.2zM93.8 219.4h1.2v1.2h-1.2zM92.0 215.6h1.2v1.2h-1.2zM92.9 218.2h1.2v1.2h-1.2zM92.8 219.9h1.2v1.2h-1.2zM93.8 213.3h1.2v1.2h-1.2zM91.9 214.1h1.2v1.2h-1.2zM92.3 213.4h1.2v1.2h-1.2zM90.9 215.0h1.2v1.2h-1.2zM93.2 220.3h1.2v1.2h-1.2zM93.0 219.7h1.2v1.2h-1.2zM92.7 216.9h1.2v1.2h-1.2zM91.1 216.6h1.2v1.2h-1.2zM92.6 217.6h1.2v1.2h-1.2zM91.0 217.8h1.2v1.2h-1.2zM90.2 217.6h1.2v1.2h-1.2zM93.8 217.0h1.2v1.2h-1.2zM92.3 215.6h1.2v1.2h-1.2zM91.5 218.7h1.2v1.2h-1.2zM92.4 217.6h1.2v1.2h-1.2zM92.2 216.6h1.2v1.2h-1.2zM92.3 219.4h1.2v1.2h-1.2zM90.9 224.1h1.2v1.2h-1.2zM93.8 218.5h1.2v1.2h-1.2zM91.5 217.9h1.2v1.2h-1.2zM92.1 219.4h1.2v1.2h-1.2zM90.7 218.2h1.2v1.2h-1.2zM93.7 218.1h1.2v1.2h-1.2zM92.0 213.8h1.2v1.2h-1.2zM90.3 217.3h1.2v1.2h-1.2zM98.4 215.3h1.2v1.2h-1.2zM92.1 213.8h1.2v1.2h-1.2zM90.1 213.9h1.2v1.2h-1.2zM93.8 215.9h1.2v1.2h-1.2zM91.4 213.7h1.2v1.2h-1.2zM92.0 217.6h1.2v1.2h-1.2zM90.9 218.2h1.2v1.2h-1.2zM90.4 216.0h1.2v1.2h-1.2zM91.9 208.1h1.2v1.2h-1.2zM100.2 227.9h1.2v1.2h-1.2zM91.8 212.5h1.2v1.2h-1.2zM85.9 213.4h1.2v1.2h-1.2zM84.4 217.1h1.2v1.2h-1.2zM97.9 220.2h1.2v1.2h-1.2zM101.0 221.7h1.2v1.2h-1.2zM98.5 215.7h1.2v1.2h-1.2zM101.1 221.0h1.2v1.2h-1.2zM101.2 222.2h1.2v1.2h-1.2zM107.5 219.4h1.2v1.2h-1.2zM105.6 220.1h1.2v1.2h-1.2zM101.4 221.2h1.2v1.2h-1.2zM99.2 219.3h1.2v1.2h-1.2zM100.5 216.5h1.2v1.2h-1.2zM97.7 217.0h1.2v1.2h-1.2zM100.7 218.1h1.2v1.2h-1.2zM98.8 220.1h1.2v1.2h-1.2zM98.0 217.6h1.2v1.2h-1.2zM97.8 218.2h1.2v1.2h-1.2zM106.1 219.7h1.2v1.2h-1.2zM108.8 219.4h1.2v1.2h-1.2zM99.4 220.1h1.2v1.2h-1.2zM99.8 215.8h1.2v1.2h-1.2zM100.3 218.8h1.2v1.2h-1.2zM100.2 218.0h1.2v1.2h-1.2zM101.1 218.7h1.2v1.2h-1.2zM98.6 217.4h1.2v1.2h-1.2zM99.1 215.6h1.2v1.2h-1.2zM98.7 219.9h1.2v1.2h-1.2zM106.8 212.6h1.2v1.2h-1.2zM100.5 216.0h1.2v1.2h-1.2zM106.1 217.4h1.2v1.2h-1.2zM106.2 215.9h1.2v1.2h-1.2zM99.6 216.0h1.2v1.2h-1.2zM106.4 221.9h1.2v1.2h-1.2zM98.4 219.2h1.2v1.2h-1.2zM100.9 218.3h1.2v1.2h-1.2zM99.5 218.4h1.2v1.2h-1.2zM99.4 215.9h1.2v1.2h-1.2zM105.7 218.1h1.2v1.2h-1.2zM98.7 216.9h1.2v1.2h-1.2zM101.4 214.7h1.2v1.2h-1.2zM98.4 215.5h1.2v1.2h-1.2zM100.5 220.2h1.2v1.2h-1.2zM100.0 217.4h1.2v1.2h-1.2zM100.1 219.3h1.2v1.2h-1.2zM99.8 218.5h1.2v1.2h-1.2zM101.3 217.6h1.2v1.2h-1.2zM101.5 218.6h1.2v1.2h-1.2zM101.0 218.1h1.2v1.2h-1.2zM98.8 218.0h1.2v1.2h-1.2zM98.5 217.8h1.2v1.2h-1.2zM100.4 217.4h1.2v1.2h-1.2zM100.3 214.7h1.2v1.2h-1.2zM100.3 218.3h1.2v1.2h-1.2zM101.0 218.7h1.2v1.2h-1.2zM97.8 215.9h1.2v1.2h-1.2zM107.1 217.9h1.2v1.2h-1.2zM108.2 221.5h1.2v1.2h-1.2zM98.1 215.5h1.2v1.2h-1.2zM99.0 217.7h1.2v1.2h-1.2zM107.0 222.4h1.2v1.2h-1.2zM99.6 216.6h1.2v1.2h-1.2zM100.1 219.1h1.2v1.2h-1.2zM106.9 215.5h1.2v1.2h-1.2zM90.4 216.6h1.2v1.2h-1.2zM97.9 223.5h1.2v1.2h-1.2zM98.4 218.0h1.2v1.2h-1.2zM101.2 218.2h1.2v1.2h-1.2zM65.8 233.4h1.2v1.2h-1.2zM68.3 230.9h1.2v1.2h-1.2zM65.6 234.6h1.2v1.2h-1.2zM69.3 236.2h1.2v1.2h-1.2zM66.6 236.9h1.2v1.2h-1.2zM68.7 236.6h1.2v1.2h-1.2zM68.3 236.3h1.2v1.2h-1.2z"/>
</g>
<rect x="44.70" y="196.00" width="66.50" height="66.20" fill="none" stroke="#2a2a2a" stroke-width="1.1"/>
<text x="27.61" y="189.00" font-size="17.48" font-weight="bold" stroke="#1c1c1c" stroke-width="0.55" textLength="10.16" lengthAdjust="spacingAndGlyphs">E</text>
<text x="77.95" y="275.00" font-size="11.08" text-anchor="middle" textLength="25.07" lengthAdjust="spacingAndGlyphs" stroke="#1c1c1c" stroke-width="0.2">i = 2</text>
<clipPath id="clipF"><rect x="164.3" y="196.0" width="66.5" height="66.20"/></clipPath><g clip-path="url(#clipF)">
<path fill="#542fe4" d="M204.5 218.4h1.2v1.2h-1.2zM209.1 218.5h1.2v1.2h-1.2zM201.5 216.2h1.2v1.2h-1.2zM203.8 223.1h1.2v1.2h-1.2zM205.4 218.5h1.2v1.2h-1.2zM206.2 222.4h1.2v1.2h-1.2zM202.9 220.1h1.2v1.2h-1.2zM205.0 215.5h1.2v1.2h-1.2zM203.3 216.3h1.2v1.2h-1.2zM204.4 218.6h1.2v1.2h-1.2zM203.7 217.6h1.2v1.2h-1.2zM200.9 217.5h1.2v1.2h-1.2zM204.0 216.6h1.2v1.2h-1.2zM206.6 212.3h1.2v1.2h-1.2zM201.4 216.8h1.2v1.2h-1.2zM203.4 211.1h1.2v1.2h-1.2zM206.0 218.5h1.2v1.2h-1.2zM201.1 215.3h1.2v1.2h-1.2zM204.6 215.4h1.2v1.2h-1.2zM201.1 216.8h1.2v1.2h-1.2zM207.3 218.2h1.2v1.2h-1.2zM210.6 213.3h1.2v1.2h-1.2zM209.8 212.4h1.2v1.2h-1.2zM203.5 214.4h1.2v1.2h-1.2zM206.2 211.6h1.2v1.2h-1.2zM204.4 214.7h1.2v1.2h-1.2zM204.4 221.9h1.2v1.2h-1.2zM208.5 214.4h1.2v1.2h-1.2zM200.4 219.2h1.2v1.2h-1.2zM207.1 213.5h1.2v1.2h-1.2zM204.0 218.2h1.2v1.2h-1.2zM208.1 216.5h1.2v1.2h-1.2zM204.6 217.2h1.2v1.2h-1.2zM202.2 219.0h1.2v1.2h-1.2zM204.9 222.4h1.2v1.2h-1.2zM206.2 218.0h1.2v1.2h-1.2zM204.2 217.8h1.2v1.2h-1.2zM205.5 214.6h1.2v1.2h-1.2zM202.6 219.1h1.2v1.2h-1.2zM198.1 216.7h1.2v1.2h-1.2zM206.6 219.8h1.2v1.2h-1.2zM206.1 217.3h1.2v1.2h-1.2zM204.5 222.3h1.2v1.2h-1.2zM204.3 211.8h1.2v1.2h-1.2zM207.0 216.6h1.2v1.2h-1.2zM202.8 219.9h1.2v1.2h-1.2zM202.1 216.4h1.2v1.2h-1.2zM203.6 215.2h1.2v1.2h-1.2zM207.5 216.6h1.2v1.2h-1.2zM200.2 213.5h1.2v1.2h-1.2zM207.5 217.7h1.2v1.2h-1.2zM202.3 224.3h1.2v1.2h-1.2zM201.0 220.7h1.2v1.2h-1.2zM207.7 214.3h1.2v1.2h-1.2zM203.8 214.9h1.2v1.2h-1.2zM200.4 216.3h1.2v1.2h-1.2zM203.1 220.3h1.2v1.2h-1.2zM206.7 215.1h1.2v1.2h-1.2zM207.5 215.4h1.2v1.2h-1.2zM202.9 219.9h1.2v1.2h-1.2zM205.2 219.9h1.2v1.2h-1.2zM206.1 216.3h1.2v1.2h-1.2zM202.3 214.2h1.2v1.2h-1.2zM205.1 213.0h1.2v1.2h-1.2zM204.0 215.4h1.2v1.2h-1.2zM202.6 211.1h1.2v1.2h-1.2zM202.7 219.5h1.2v1.2h-1.2zM204.3 215.6h1.2v1.2h-1.2zM204.2 218.8h1.2v1.2h-1.2zM202.5 222.7h1.2v1.2h-1.2zM202.9 220.7h1.2v1.2h-1.2zM207.2 214.1h1.2v1.2h-1.2zM204.7 219.9h1.2v1.2h-1.2zM206.6 220.7h1.2v1.2h-1.2zM207.5 215.3h1.2v1.2h-1.2zM205.8 214.7h1.2v1.2h-1.2zM210.5 217.1h1.2v1.2h-1.2zM201.8 212.9h1.2v1.2h-1.2zM206.4 221.6h1.2v1.2h-1.2zM203.2 210.6h1.2v1.2h-1.2zM209.3 214.3h1.2v1.2h-1.2zM208.9 216.6h1.2v1.2h-1.2zM198.6 216.8h1.2v1.2h-1.2zM201.4 217.9h1.2v1.2h-1.2zM206.0 218.2h1.2v1.2h-1.2zM206.3 216.8h1.2v1.2h-1.2zM206.2 220.6h1.2v1.2h-1.2zM203.9 211.3h1.2v1.2h-1.2zM205.4 217.4h1.2v1.2h-1.2zM205.9 215.4h1.2v1.2h-1.2zM203.9 217.8h1.2v1.2h-1.2zM207.0 218.0h1.2v1.2h-1.2zM197.7 214.8h1.2v1.2h-1.2zM205.9 215.6h1.2v1.2h-1.2zM201.2 219.7h1.2v1.2h-1.2zM206.8 218.4h1.2v1.2h-1.2zM203.5 215.5h1.2v1.2h-1.2zM201.6 223.2h1.2v1.2h-1.2zM205.2 224.0h1.2v1.2h-1.2zM201.5 213.2h1.2v1.2h-1.2zM201.5 218.3h1.2v1.2h-1.2zM199.7 224.5h1.2v1.2h-1.2zM204.0 219.6h1.2v1.2h-1.2zM205.5 218.0h1.2v1.2h-1.2zM207.0 216.8h1.2v1.2h-1.2zM203.7 215.9h1.2v1.2h-1.2zM207.1 216.8h1.2v1.2h-1.2zM204.2 215.8h1.2v1.2h-1.2zM203.8 219.5h1.2v1.2h-1.2zM205.7 216.3h1.2v1.2h-1.2zM207.1 216.1h1.2v1.2h-1.2zM203.1 214.0h1.2v1.2h-1.2zM203.4 217.3h1.2v1.2h-1.2zM203.6 214.9h1.2v1.2h-1.2zM204.3 216.9h1.2v1.2h-1.2zM201.6 220.4h1.2v1.2h-1.2zM207.0 218.4h1.2v1.2h-1.2zM203.0 218.8h1.2v1.2h-1.2zM205.4 218.4h1.2v1.2h-1.2zM201.8 217.6h1.2v1.2h-1.2zM203.5 214.6h1.2v1.2h-1.2zM202.7 212.6h1.2v1.2h-1.2zM207.5 217.6h1.2v1.2h-1.2zM199.2 213.1h1.2v1.2h-1.2zM210.2 217.1h1.2v1.2h-1.2zM204.3 217.8h1.2v1.2h-1.2zM200.7 228.0h1.2v1.2h-1.2zM201.9 213.5h1.2v1.2h-1.2zM201.0 216.8h1.2v1.2h-1.2zM204.8 216.7h1.2v1.2h-1.2zM200.9 219.4h1.2v1.2h-1.2zM209.3 222.2h1.2v1.2h-1.2zM200.6 215.2h1.2v1.2h-1.2zM193.8 213.7h1.2v1.2h-1.2zM200.8 209.9h1.2v1.2h-1.2zM195.0 213.2h1.2v1.2h-1.2zM203.9 219.8h1.2v1.2h-1.2zM208.9 217.6h1.2v1.2h-1.2zM207.0 212.8h1.2v1.2h-1.2zM198.1 215.7h1.2v1.2h-1.2zM200.7 217.5h1.2v1.2h-1.2zM212.1 219.7h1.2v1.2h-1.2zM205.5 214.7h1.2v1.2h-1.2zM204.1 216.3h1.2v1.2h-1.2zM208.9 209.1h1.2v1.2h-1.2zM215.2 212.2h1.2v1.2h-1.2zM210.0 224.8h1.2v1.2h-1.2zM204.7 207.5h1.2v1.2h-1.2zM205.7 215.9h1.2v1.2h-1.2zM206.9 218.4h1.2v1.2h-1.2zM193.1 234.0h1.2v1.2h-1.2zM189.9 238.5h1.2v1.2h-1.2zM189.8 241.3h1.2v1.2h-1.2zM190.2 236.0h1.2v1.2h-1.2zM190.3 235.2h1.2v1.2h-1.2zM191.9 240.3h1.2v1.2h-1.2zM187.6 237.8h1.2v1.2h-1.2zM188.5 234.3h1.2v1.2h-1.2zM191.6 236.3h1.2v1.2h-1.2zM191.3 235.3h1.2v1.2h-1.2zM189.9 238.3h1.2v1.2h-1.2zM189.4 237.7h1.2v1.2h-1.2zM188.7 240.7h1.2v1.2h-1.2zM190.7 239.4h1.2v1.2h-1.2zM193.9 233.0h1.2v1.2h-1.2zM188.2 238.6h1.2v1.2h-1.2zM194.8 240.0h1.2v1.2h-1.2zM193.0 238.7h1.2v1.2h-1.2zM189.7 240.3h1.2v1.2h-1.2zM192.9 235.8h1.2v1.2h-1.2zM187.1 234.7h1.2v1.2h-1.2zM186.4 240.1h1.2v1.2h-1.2zM187.6 234.4h1.2v1.2h-1.2zM189.8 231.3h1.2v1.2h-1.2zM190.0 240.3h1.2v1.2h-1.2zM189.6 235.4h1.2v1.2h-1.2zM191.1 236.5h1.2v1.2h-1.2zM185.4 233.4h1.2v1.2h-1.2zM192.2 233.6h1.2v1.2h-1.2zM187.2 234.1h1.2v1.2h-1.2zM189.2 236.4h1.2v1.2h-1.2zM189.8 238.5h1.2v1.2h-1.2zM187.9 230.9h1.2v1.2h-1.2zM187.4 239.5h1.2v1.2h-1.2zM188.3 234.1h1.2v1.2h-1.2zM190.9 234.4h1.2v1.2h-1.2zM192.4 239.3h1.2v1.2h-1.2zM192.3 237.2h1.2v1.2h-1.2zM188.3 233.0h1.2v1.2h-1.2zM188.9 242.6h1.2v1.2h-1.2zM188.5 235.0h1.2v1.2h-1.2zM192.0 238.1h1.2v1.2h-1.2zM185.7 238.0h1.2v1.2h-1.2zM194.1 241.4h1.2v1.2h-1.2zM189.6 236.1h1.2v1.2h-1.2zM188.9 240.3h1.2v1.2h-1.2zM191.8 235.3h1.2v1.2h-1.2zM193.5 240.6h1.2v1.2h-1.2zM191.8 235.2h1.2v1.2h-1.2zM193.6 236.4h1.2v1.2h-1.2zM191.2 242.8h1.2v1.2h-1.2zM194.0 238.3h1.2v1.2h-1.2zM194.1 237.7h1.2v1.2h-1.2zM190.6 243.8h1.2v1.2h-1.2zM194.6 238.4h1.2v1.2h-1.2zM191.3 235.1h1.2v1.2h-1.2zM191.1 239.5h1.2v1.2h-1.2zM188.5 234.1h1.2v1.2h-1.2zM190.1 240.6h1.2v1.2h-1.2zM192.9 240.8h1.2v1.2h-1.2zM187.5 235.8h1.2v1.2h-1.2zM192.5 235.6h1.2v1.2h-1.2zM191.8 237.9h1.2v1.2h-1.2zM191.6 237.4h1.2v1.2h-1.2zM185.2 234.6h1.2v1.2h-1.2zM190.6 239.0h1.2v1.2h-1.2zM192.5 231.6h1.2v1.2h-1.2zM188.9 236.2h1.2v1.2h-1.2zM191.1 236.3h1.2v1.2h-1.2zM184.8 236.6h1.2v1.2h-1.2zM192.6 238.3h1.2v1.2h-1.2zM189.2 233.9h1.2v1.2h-1.2zM193.1 239.1h1.2v1.2h-1.2zM186.2 236.9h1.2v1.2h-1.2zM192.7 235.6h1.2v1.2h-1.2zM190.3 233.5h1.2v1.2h-1.2zM193.0 234.0h1.2v1.2h-1.2zM188.5 238.4h1.2v1.2h-1.2zM189.3 234.7h1.2v1.2h-1.2zM196.6 237.6h1.2v1.2h-1.2zM188.8 240.4h1.2v1.2h-1.2zM189.1 240.3h1.2v1.2h-1.2zM190.2 241.8h1.2v1.2h-1.2zM188.3 236.6h1.2v1.2h-1.2zM193.9 234.3h1.2v1.2h-1.2zM195.3 240.3h1.2v1.2h-1.2zM189.1 238.3h1.2v1.2h-1.2zM186.5 240.6h1.2v1.2h-1.2zM193.9 237.4h1.2v1.2h-1.2zM193.7 240.8h1.2v1.2h-1.2zM193.0 239.8h1.2v1.2h-1.2zM193.9 239.4h1.2v1.2h-1.2zM188.7 238.8h1.2v1.2h-1.2zM190.4 238.5h1.2v1.2h-1.2zM187.3 238.1h1.2v1.2h-1.2zM187.2 238.1h1.2v1.2h-1.2zM193.4 240.2h1.2v1.2h-1.2zM189.2 236.0h1.2v1.2h-1.2zM196.7 242.3h1.2v1.2h-1.2zM191.1 237.1h1.2v1.2h-1.2zM189.2 240.2h1.2v1.2h-1.2zM192.9 237.2h1.2v1.2h-1.2zM195.5 236.7h1.2v1.2h-1.2zM192.1 243.2h1.2v1.2h-1.2zM189.6 235.0h1.2v1.2h-1.2zM185.6 241.1h1.2v1.2h-1.2zM187.9 236.3h1.2v1.2h-1.2zM189.6 237.1h1.2v1.2h-1.2zM199.7 237.0h1.2v1.2h-1.2zM191.7 237.4h1.2v1.2h-1.2zM194.7 242.5h1.2v1.2h-1.2zM186.8 238.0h1.2v1.2h-1.2zM192.3 236.7h1.2v1.2h-1.2zM193.6 236.2h1.2v1.2h-1.2zM198.3 239.0h1.2v1.2h-1.2zM188.0 233.3h1.2v1.2h-1.2zM193.4 235.1h1.2v1.2h-1.2zM192.1 237.2h1.2v1.2h-1.2zM186.7 234.8h1.2v1.2h-1.2zM190.8 236.9h1.2v1.2h-1.2zM189.8 234.6h1.2v1.2h-1.2zM181.3 246.5h1.2v1.2h-1.2zM193.3 243.4h1.2v1.2h-1.2zM193.1 239.5h1.2v1.2h-1.2zM189.1 237.2h1.2v1.2h-1.2zM185.4 247.4h1.2v1.2h-1.2zM197.0 238.9h1.2v1.2h-1.2zM192.0 237.0h1.2v1.2h-1.2zM195.1 238.8h1.2v1.2h-1.2zM196.7 238.8h1.2v1.2h-1.2z"/>
<path fill="#2078dc" d="M211.9 215.5h1.2v1.2h-1.2zM210.8 218.0h1.2v1.2h-1.2zM212.7 216.9h1.2v1.2h-1.2zM212.8 224.4h1.2v1.2h-1.2zM212.6 215.3h1.2v1.2h-1.2zM208.0 220.7h1.2v1.2h-1.2zM212.5 217.0h1.2v1.2h-1.2zM210.6 216.8h1.2v1.2h-1.2zM211.4 219.0h1.2v1.2h-1.2zM213.4 219.4h1.2v1.2h-1.2zM214.5 220.4h1.2v1.2h-1.2zM215.1 218.0h1.2v1.2h-1.2zM211.6 215.6h1.2v1.2h-1.2zM215.2 215.8h1.2v1.2h-1.2zM215.8 218.5h1.2v1.2h-1.2zM215.7 218.6h1.2v1.2h-1.2zM216.4 220.8h1.2v1.2h-1.2zM212.5 218.2h1.2v1.2h-1.2zM212.4 219.9h1.2v1.2h-1.2zM214.9 221.1h1.2v1.2h-1.2zM209.3 217.6h1.2v1.2h-1.2zM213.4 213.3h1.2v1.2h-1.2zM211.5 214.1h1.2v1.2h-1.2zM211.9 213.4h1.2v1.2h-1.2zM208.4 221.3h1.2v1.2h-1.2zM210.5 215.0h1.2v1.2h-1.2zM212.8 220.3h1.2v1.2h-1.2zM215.1 218.7h1.2v1.2h-1.2zM215.4 221.6h1.2v1.2h-1.2zM212.6 219.7h1.2v1.2h-1.2zM212.3 216.9h1.2v1.2h-1.2zM210.7 216.6h1.2v1.2h-1.2zM213.9 217.4h1.2v1.2h-1.2zM212.2 217.6h1.2v1.2h-1.2zM214.4 215.8h1.2v1.2h-1.2zM217.3 217.1h1.2v1.2h-1.2zM212.7 221.3h1.2v1.2h-1.2zM209.0 212.7h1.2v1.2h-1.2zM210.6 217.8h1.2v1.2h-1.2zM209.1 214.8h1.2v1.2h-1.2zM209.8 217.6h1.2v1.2h-1.2zM216.2 219.3h1.2v1.2h-1.2zM213.4 217.0h1.2v1.2h-1.2zM208.9 219.1h1.2v1.2h-1.2zM214.5 213.0h1.2v1.2h-1.2zM216.1 220.0h1.2v1.2h-1.2zM211.9 215.6h1.2v1.2h-1.2zM211.1 218.7h1.2v1.2h-1.2zM212.0 217.6h1.2v1.2h-1.2zM213.6 210.5h1.2v1.2h-1.2zM214.5 215.2h1.2v1.2h-1.2zM215.9 217.7h1.2v1.2h-1.2zM215.9 221.2h1.2v1.2h-1.2zM215.9 217.9h1.2v1.2h-1.2zM216.3 217.8h1.2v1.2h-1.2zM214.5 213.5h1.2v1.2h-1.2zM208.9 220.8h1.2v1.2h-1.2zM212.5 221.8h1.2v1.2h-1.2zM213.6 217.2h1.2v1.2h-1.2zM211.8 216.6h1.2v1.2h-1.2zM215.2 213.0h1.2v1.2h-1.2zM211.9 219.4h1.2v1.2h-1.2zM210.5 224.1h1.2v1.2h-1.2zM216.5 219.0h1.2v1.2h-1.2zM214.5 220.4h1.2v1.2h-1.2zM213.4 218.5h1.2v1.2h-1.2zM215.2 214.6h1.2v1.2h-1.2zM215.6 220.6h1.2v1.2h-1.2zM213.7 214.0h1.2v1.2h-1.2zM206.5 216.6h1.2v1.2h-1.2zM211.1 217.9h1.2v1.2h-1.2zM211.7 219.4h1.2v1.2h-1.2zM210.3 218.2h1.2v1.2h-1.2zM213.3 218.1h1.2v1.2h-1.2zM215.9 215.2h1.2v1.2h-1.2zM211.6 213.8h1.2v1.2h-1.2zM209.9 217.3h1.2v1.2h-1.2zM218.0 215.3h1.2v1.2h-1.2zM211.7 213.8h1.2v1.2h-1.2zM209.7 213.9h1.2v1.2h-1.2zM213.4 215.9h1.2v1.2h-1.2zM213.9 212.4h1.2v1.2h-1.2zM211.0 213.7h1.2v1.2h-1.2zM214.9 212.9h1.2v1.2h-1.2zM211.6 217.6h1.2v1.2h-1.2zM210.5 218.2h1.2v1.2h-1.2zM213.3 222.3h1.2v1.2h-1.2zM214.8 213.3h1.2v1.2h-1.2zM210.0 216.0h1.2v1.2h-1.2zM216.6 220.2h1.2v1.2h-1.2zM211.9 223.7h1.2v1.2h-1.2zM211.5 208.1h1.2v1.2h-1.2zM219.8 227.9h1.2v1.2h-1.2zM211.4 212.5h1.2v1.2h-1.2zM208.1 221.1h1.2v1.2h-1.2zM207.4 222.2h1.2v1.2h-1.2zM214.2 221.2h1.2v1.2h-1.2zM214.1 217.8h1.2v1.2h-1.2zM207.2 212.3h1.2v1.2h-1.2zM208.8 219.7h1.2v1.2h-1.2zM215.0 214.2h1.2v1.2h-1.2zM215.2 206.7h1.2v1.2h-1.2zM210.2 228.8h1.2v1.2h-1.2zM215.4 220.1h1.2v1.2h-1.2zM215.2 224.7h1.2v1.2h-1.2zM205.5 213.4h1.2v1.2h-1.2zM211.5 223.2h1.2v1.2h-1.2zM214.5 223.7h1.2v1.2h-1.2zM210.5 223.6h1.2v1.2h-1.2zM204.0 217.1h1.2v1.2h-1.2zM217.5 220.2h1.2v1.2h-1.2zM214.4 217.9h1.2v1.2h-1.2zM215.9 220.0h1.2v1.2h-1.2zM218.1 215.7h1.2v1.2h-1.2zM227.1 219.4h1.2v1.2h-1.2zM225.2 220.1h1.2v1.2h-1.2zM224.9 217.0h1.2v1.2h-1.2zM224.0 216.9h1.2v1.2h-1.2zM217.3 217.0h1.2v1.2h-1.2zM217.1 218.8h1.2v1.2h-1.2zM226.2 215.2h1.2v1.2h-1.2zM221.9 221.0h1.2v1.2h-1.2zM218.4 220.1h1.2v1.2h-1.2zM217.6 217.6h1.2v1.2h-1.2zM217.4 218.2h1.2v1.2h-1.2zM225.7 219.7h1.2v1.2h-1.2zM228.4 219.4h1.2v1.2h-1.2zM222.7 214.7h1.2v1.2h-1.2zM223.3 225.0h1.2v1.2h-1.2zM223.6 220.7h1.2v1.2h-1.2zM222.1 219.3h1.2v1.2h-1.2zM222.0 218.2h1.2v1.2h-1.2zM223.0 221.5h1.2v1.2h-1.2zM215.9 221.7h1.2v1.2h-1.2zM216.8 217.5h1.2v1.2h-1.2zM218.2 217.4h1.2v1.2h-1.2zM222.6 216.4h1.2v1.2h-1.2zM216.8 220.4h1.2v1.2h-1.2zM218.3 219.9h1.2v1.2h-1.2zM223.5 218.2h1.2v1.2h-1.2zM226.4 212.6h1.2v1.2h-1.2zM223.8 218.4h1.2v1.2h-1.2zM225.7 217.4h1.2v1.2h-1.2zM216.5 221.9h1.2v1.2h-1.2zM225.8 215.9h1.2v1.2h-1.2zM212.6 221.7h1.2v1.2h-1.2zM229.3 218.7h1.2v1.2h-1.2zM226.0 221.9h1.2v1.2h-1.2zM218.0 219.2h1.2v1.2h-1.2zM216.6 220.6h1.2v1.2h-1.2zM222.6 218.5h1.2v1.2h-1.2zM221.9 218.2h1.2v1.2h-1.2zM224.9 217.1h1.2v1.2h-1.2zM228.4 218.4h1.2v1.2h-1.2zM222.0 217.4h1.2v1.2h-1.2zM215.3 220.1h1.2v1.2h-1.2zM217.3 219.9h1.2v1.2h-1.2zM225.3 218.1h1.2v1.2h-1.2zM218.3 216.9h1.2v1.2h-1.2zM222.8 218.5h1.2v1.2h-1.2zM218.0 215.5h1.2v1.2h-1.2zM223.5 221.2h1.2v1.2h-1.2zM223.2 219.9h1.2v1.2h-1.2zM218.4 223.2h1.2v1.2h-1.2zM222.0 219.9h1.2v1.2h-1.2zM224.3 220.1h1.2v1.2h-1.2zM229.4 219.4h1.2v1.2h-1.2zM223.8 216.5h1.2v1.2h-1.2zM218.5 214.0h1.2v1.2h-1.2zM218.4 218.0h1.2v1.2h-1.2zM218.1 217.8h1.2v1.2h-1.2zM223.5 217.6h1.2v1.2h-1.2zM217.4 215.9h1.2v1.2h-1.2zM226.2 219.9h1.2v1.2h-1.2zM222.7 215.7h1.2v1.2h-1.2zM226.7 217.9h1.2v1.2h-1.2zM227.8 221.5h1.2v1.2h-1.2zM217.7 215.5h1.2v1.2h-1.2zM218.6 217.7h1.2v1.2h-1.2zM226.6 222.4h1.2v1.2h-1.2zM222.3 214.8h1.2v1.2h-1.2zM226.5 215.5h1.2v1.2h-1.2zM210.0 216.6h1.2v1.2h-1.2zM217.0 226.1h1.2v1.2h-1.2zM216.1 217.0h1.2v1.2h-1.2zM215.7 216.6h1.2v1.2h-1.2zM216.8 216.5h1.2v1.2h-1.2zM216.9 217.9h1.2v1.2h-1.2zM222.7 220.7h1.2v1.2h-1.2zM216.7 219.1h1.2v1.2h-1.2zM223.2 219.2h1.2v1.2h-1.2zM217.5 223.5h1.2v1.2h-1.2zM221.8 219.4h1.2v1.2h-1.2zM229.4 220.6h1.2v1.2h-1.2zM222.8 213.4h1.2v1.2h-1.2zM218.0 218.0h1.2v1.2h-1.2zM216.5 217.6h1.2v1.2h-1.2zM222.5 210.9h1.2v1.2h-1.2z"/>
<path fill="#1c7ddc" d="M221.5 244.6h1.2v1.2h-1.2zM217.7 240.3h1.2v1.2h-1.2zM223.4 241.2h1.2v1.2h-1.2zM215.3 241.7h1.2v1.2h-1.2zM219.6 242.7h1.2v1.2h-1.2zM215.0 238.1h1.2v1.2h-1.2zM222.6 243.9h1.2v1.2h-1.2zM216.8 244.7h1.2v1.2h-1.2zM217.5 239.0h1.2v1.2h-1.2zM220.2 238.5h1.2v1.2h-1.2zM221.1 242.5h1.2v1.2h-1.2zM214.7 240.1h1.2v1.2h-1.2zM216.8 236.2h1.2v1.2h-1.2zM213.9 243.5h1.2v1.2h-1.2zM218.1 242.0h1.2v1.2h-1.2zM217.4 240.6h1.2v1.2h-1.2zM216.8 246.6h1.2v1.2h-1.2zM215.9 242.0h1.2v1.2h-1.2zM216.7 239.9h1.2v1.2h-1.2zM215.7 241.9h1.2v1.2h-1.2zM219.1 239.3h1.2v1.2h-1.2zM221.8 239.9h1.2v1.2h-1.2zM212.5 242.6h1.2v1.2h-1.2zM217.4 240.4h1.2v1.2h-1.2zM216.6 240.6h1.2v1.2h-1.2zM219.0 245.5h1.2v1.2h-1.2zM215.1 243.7h1.2v1.2h-1.2zM217.3 243.5h1.2v1.2h-1.2zM214.9 242.9h1.2v1.2h-1.2zM219.6 242.8h1.2v1.2h-1.2zM218.0 245.1h1.2v1.2h-1.2zM217.3 241.6h1.2v1.2h-1.2zM218.7 246.0h1.2v1.2h-1.2zM217.0 239.5h1.2v1.2h-1.2zM213.5 241.1h1.2v1.2h-1.2zM219.3 238.5h1.2v1.2h-1.2zM218.5 240.9h1.2v1.2h-1.2zM217.3 242.9h1.2v1.2h-1.2zM220.4 245.0h1.2v1.2h-1.2zM221.0 240.1h1.2v1.2h-1.2zM214.8 241.7h1.2v1.2h-1.2zM215.6 240.8h1.2v1.2h-1.2zM221.9 240.0h1.2v1.2h-1.2zM221.5 238.9h1.2v1.2h-1.2zM215.7 241.8h1.2v1.2h-1.2zM214.5 237.6h1.2v1.2h-1.2zM216.0 241.9h1.2v1.2h-1.2zM216.4 241.7h1.2v1.2h-1.2zM213.4 240.1h1.2v1.2h-1.2zM217.8 239.3h1.2v1.2h-1.2zM214.3 238.5h1.2v1.2h-1.2zM214.4 246.0h1.2v1.2h-1.2zM220.2 238.6h1.2v1.2h-1.2zM215.9 245.3h1.2v1.2h-1.2zM217.5 243.1h1.2v1.2h-1.2zM219.4 240.8h1.2v1.2h-1.2zM219.9 239.0h1.2v1.2h-1.2zM216.8 244.1h1.2v1.2h-1.2zM217.8 245.7h1.2v1.2h-1.2zM215.5 239.5h1.2v1.2h-1.2zM222.4 241.0h1.2v1.2h-1.2zM219.5 244.1h1.2v1.2h-1.2zM214.7 242.4h1.2v1.2h-1.2zM217.7 246.3h1.2v1.2h-1.2zM219.6 240.3h1.2v1.2h-1.2zM219.0 242.9h1.2v1.2h-1.2zM222.6 238.8h1.2v1.2h-1.2zM221.4 246.5h1.2v1.2h-1.2zM216.3 240.0h1.2v1.2h-1.2zM217.5 236.5h1.2v1.2h-1.2zM214.3 241.4h1.2v1.2h-1.2zM218.4 241.3h1.2v1.2h-1.2zM218.1 246.1h1.2v1.2h-1.2zM225.0 240.9h1.2v1.2h-1.2zM218.0 241.6h1.2v1.2h-1.2zM212.1 243.0h1.2v1.2h-1.2zM215.9 245.4h1.2v1.2h-1.2zM218.0 241.5h1.2v1.2h-1.2zM214.3 244.1h1.2v1.2h-1.2zM215.4 242.9h1.2v1.2h-1.2zM216.7 241.0h1.2v1.2h-1.2zM218.6 241.8h1.2v1.2h-1.2zM217.3 241.7h1.2v1.2h-1.2zM215.3 239.5h1.2v1.2h-1.2zM219.8 244.5h1.2v1.2h-1.2zM216.3 238.4h1.2v1.2h-1.2zM216.4 244.4h1.2v1.2h-1.2zM214.0 243.9h1.2v1.2h-1.2zM215.6 241.5h1.2v1.2h-1.2zM219.5 239.9h1.2v1.2h-1.2zM213.3 241.1h1.2v1.2h-1.2zM217.5 242.8h1.2v1.2h-1.2zM219.6 243.4h1.2v1.2h-1.2zM216.7 242.3h1.2v1.2h-1.2zM218.4 244.0h1.2v1.2h-1.2zM214.7 240.4h1.2v1.2h-1.2zM221.2 242.2h1.2v1.2h-1.2zM220.7 238.0h1.2v1.2h-1.2zM218.3 243.4h1.2v1.2h-1.2zM213.0 242.0h1.2v1.2h-1.2zM214.9 240.7h1.2v1.2h-1.2zM220.3 244.4h1.2v1.2h-1.2zM222.3 243.3h1.2v1.2h-1.2zM218.5 235.1h1.2v1.2h-1.2zM217.9 247.3h1.2v1.2h-1.2zM211.4 243.5h1.2v1.2h-1.2zM222.3 244.9h1.2v1.2h-1.2zM228.4 243.8h1.2v1.2h-1.2zM215.5 248.3h1.2v1.2h-1.2zM218.0 234.6h1.2v1.2h-1.2zM216.6 246.4h1.2v1.2h-1.2zM219.2 240.7h1.2v1.2h-1.2zM220.5 240.6h1.2v1.2h-1.2zM223.3 238.1h1.2v1.2h-1.2zM213.4 234.7h1.2v1.2h-1.2zM224.5 240.2h1.2v1.2h-1.2zM213.7 239.1h1.2v1.2h-1.2zM218.9 243.5h1.2v1.2h-1.2zM222.7 236.2h1.2v1.2h-1.2zM220.8 247.0h1.2v1.2h-1.2zM213.7 242.7h1.2v1.2h-1.2zM214.7 240.7h1.2v1.2h-1.2zM215.7 239.0h1.2v1.2h-1.2zM217.5 238.7h1.2v1.2h-1.2zM222.7 237.5h1.2v1.2h-1.2zM212.1 239.6h1.2v1.2h-1.2zM219.7 241.7h1.2v1.2h-1.2zM220.3 241.0h1.2v1.2h-1.2zM220.1 236.4h1.2v1.2h-1.2zM219.7 240.7h1.2v1.2h-1.2z"/>
<path fill="#5cdeae" d="M185.0 211.3h1.2v1.2h-1.2zM182.6 206.9h1.2v1.2h-1.2zM181.0 207.1h1.2v1.2h-1.2zM179.6 204.9h1.2v1.2h-1.2zM179.5 214.4h1.2v1.2h-1.2zM185.2 207.4h1.2v1.2h-1.2zM182.4 211.9h1.2v1.2h-1.2zM181.3 206.2h1.2v1.2h-1.2zM180.2 208.3h1.2v1.2h-1.2zM178.3 203.5h1.2v1.2h-1.2zM181.0 206.9h1.2v1.2h-1.2zM183.4 210.4h1.2v1.2h-1.2zM180.1 204.6h1.2v1.2h-1.2zM180.5 210.6h1.2v1.2h-1.2zM180.6 208.7h1.2v1.2h-1.2zM181.4 205.2h1.2v1.2h-1.2zM177.0 206.6h1.2v1.2h-1.2zM180.5 206.7h1.2v1.2h-1.2zM178.9 207.7h1.2v1.2h-1.2zM183.4 206.5h1.2v1.2h-1.2zM179.2 205.7h1.2v1.2h-1.2zM182.6 207.1h1.2v1.2h-1.2zM185.0 205.2h1.2v1.2h-1.2zM180.3 204.5h1.2v1.2h-1.2zM179.6 207.7h1.2v1.2h-1.2zM181.6 210.1h1.2v1.2h-1.2zM181.1 203.9h1.2v1.2h-1.2zM178.6 207.9h1.2v1.2h-1.2zM182.3 206.2h1.2v1.2h-1.2zM186.3 205.3h1.2v1.2h-1.2zM180.5 210.1h1.2v1.2h-1.2zM180.6 206.5h1.2v1.2h-1.2zM178.4 211.7h1.2v1.2h-1.2zM181.9 205.8h1.2v1.2h-1.2zM177.9 208.8h1.2v1.2h-1.2zM178.3 207.3h1.2v1.2h-1.2zM184.4 205.9h1.2v1.2h-1.2zM178.8 209.4h1.2v1.2h-1.2zM183.9 207.4h1.2v1.2h-1.2zM185.0 209.4h1.2v1.2h-1.2zM181.8 207.7h1.2v1.2h-1.2zM182.5 205.0h1.2v1.2h-1.2zM186.1 207.6h1.2v1.2h-1.2zM180.6 208.0h1.2v1.2h-1.2zM179.6 210.3h1.2v1.2h-1.2zM177.7 205.5h1.2v1.2h-1.2zM181.2 207.7h1.2v1.2h-1.2zM184.9 203.4h1.2v1.2h-1.2zM183.6 209.5h1.2v1.2h-1.2zM178.7 205.1h1.2v1.2h-1.2zM178.9 203.2h1.2v1.2h-1.2zM179.8 207.7h1.2v1.2h-1.2zM181.9 210.7h1.2v1.2h-1.2zM180.6 203.9h1.2v1.2h-1.2zM181.7 205.0h1.2v1.2h-1.2zM181.9 205.9h1.2v1.2h-1.2zM180.4 204.9h1.2v1.2h-1.2zM181.0 208.8h1.2v1.2h-1.2zM181.7 205.8h1.2v1.2h-1.2zM180.9 206.0h1.2v1.2h-1.2zM182.4 209.4h1.2v1.2h-1.2zM185.9 205.9h1.2v1.2h-1.2zM182.6 209.0h1.2v1.2h-1.2zM181.3 205.3h1.2v1.2h-1.2zM176.8 204.7h1.2v1.2h-1.2zM182.1 203.1h1.2v1.2h-1.2zM176.1 212.7h1.2v1.2h-1.2zM177.5 207.0h1.2v1.2h-1.2zM183.3 208.5h1.2v1.2h-1.2zM182.9 207.8h1.2v1.2h-1.2zM180.7 208.3h1.2v1.2h-1.2zM176.7 208.0h1.2v1.2h-1.2zM180.2 212.8h1.2v1.2h-1.2zM179.4 205.2h1.2v1.2h-1.2zM182.8 203.8h1.2v1.2h-1.2zM186.9 205.2h1.2v1.2h-1.2zM181.7 204.4h1.2v1.2h-1.2zM179.1 209.8h1.2v1.2h-1.2zM178.1 210.0h1.2v1.2h-1.2zM181.0 205.4h1.2v1.2h-1.2zM180.7 204.3h1.2v1.2h-1.2zM178.2 206.9h1.2v1.2h-1.2zM181.4 211.4h1.2v1.2h-1.2zM178.2 200.6h1.2v1.2h-1.2zM184.0 209.2h1.2v1.2h-1.2zM183.9 205.1h1.2v1.2h-1.2zM183.9 210.5h1.2v1.2h-1.2zM179.9 205.1h1.2v1.2h-1.2zM182.4 207.1h1.2v1.2h-1.2zM180.8 204.0h1.2v1.2h-1.2zM180.1 205.3h1.2v1.2h-1.2zM180.3 211.4h1.2v1.2h-1.2zM177.8 210.0h1.2v1.2h-1.2zM177.4 206.8h1.2v1.2h-1.2zM183.2 205.6h1.2v1.2h-1.2zM180.6 203.0h1.2v1.2h-1.2zM181.7 206.8h1.2v1.2h-1.2zM183.7 207.8h1.2v1.2h-1.2zM176.7 207.6h1.2v1.2h-1.2zM179.1 207.6h1.2v1.2h-1.2zM181.6 205.0h1.2v1.2h-1.2zM182.1 207.7h1.2v1.2h-1.2zM180.2 207.7h1.2v1.2h-1.2zM183.8 211.2h1.2v1.2h-1.2zM181.7 212.7h1.2v1.2h-1.2zM178.0 207.5h1.2v1.2h-1.2zM178.7 205.9h1.2v1.2h-1.2zM183.2 207.7h1.2v1.2h-1.2zM182.3 206.3h1.2v1.2h-1.2zM176.3 205.9h1.2v1.2h-1.2zM184.6 207.7h1.2v1.2h-1.2zM182.7 205.2h1.2v1.2h-1.2zM183.6 207.3h1.2v1.2h-1.2zM180.7 206.0h1.2v1.2h-1.2zM182.2 210.1h1.2v1.2h-1.2zM180.4 201.0h1.2v1.2h-1.2zM178.1 209.7h1.2v1.2h-1.2zM177.2 208.9h1.2v1.2h-1.2zM180.2 209.0h1.2v1.2h-1.2zM178.9 209.4h1.2v1.2h-1.2zM182.1 205.1h1.2v1.2h-1.2zM181.1 206.8h1.2v1.2h-1.2zM175.5 210.5h1.2v1.2h-1.2zM181.4 209.6h1.2v1.2h-1.2zM175.6 208.7h1.2v1.2h-1.2zM178.6 201.6h1.2v1.2h-1.2zM179.9 210.1h1.2v1.2h-1.2zM172.6 212.7h1.2v1.2h-1.2zM181.5 212.0h1.2v1.2h-1.2zM181.7 208.8h1.2v1.2h-1.2zM180.5 201.4h1.2v1.2h-1.2zM179.4 211.7h1.2v1.2h-1.2zM179.6 207.2h1.2v1.2h-1.2zM177.1 197.4h1.2v1.2h-1.2zM180.0 209.4h1.2v1.2h-1.2zM178.9 201.7h1.2v1.2h-1.2zM181.5 202.5h1.2v1.2h-1.2zM176.2 205.2h1.2v1.2h-1.2zM182.1 213.1h1.2v1.2h-1.2zM181.7 206.3h1.2v1.2h-1.2z"/>
<path fill="#99d98b" d="M168.6 250.6h1.2v1.2h-1.2zM171.6 250.2h1.2v1.2h-1.2zM176.4 248.3h1.2v1.2h-1.2zM172.9 238.2h1.2v1.2h-1.2zM170.2 250.4h1.2v1.2h-1.2zM166.5 243.9h1.2v1.2h-1.2zM167.1 250.8h1.2v1.2h-1.2zM166.4 253.7h1.2v1.2h-1.2zM173.2 250.9h1.2v1.2h-1.2zM169.0 248.8h1.2v1.2h-1.2zM171.3 249.5h1.2v1.2h-1.2zM169.4 249.6h1.2v1.2h-1.2zM171.4 248.3h1.2v1.2h-1.2zM175.1 248.2h1.2v1.2h-1.2zM169.2 247.1h1.2v1.2h-1.2zM170.2 253.9h1.2v1.2h-1.2zM168.8 250.0h1.2v1.2h-1.2zM173.6 253.1h1.2v1.2h-1.2zM168.2 249.3h1.2v1.2h-1.2zM167.9 250.3h1.2v1.2h-1.2zM167.2 249.5h1.2v1.2h-1.2zM167.1 251.6h1.2v1.2h-1.2zM172.4 252.7h1.2v1.2h-1.2zM178.4 250.8h1.2v1.2h-1.2zM168.3 247.9h1.2v1.2h-1.2zM173.8 247.5h1.2v1.2h-1.2zM171.8 255.4h1.2v1.2h-1.2zM168.0 249.2h1.2v1.2h-1.2zM170.3 249.1h1.2v1.2h-1.2zM170.5 254.8h1.2v1.2h-1.2zM169.2 253.6h1.2v1.2h-1.2zM176.6 251.8h1.2v1.2h-1.2zM165.7 248.8h1.2v1.2h-1.2zM172.2 257.7h1.2v1.2h-1.2zM172.1 251.3h1.2v1.2h-1.2zM169.5 251.8h1.2v1.2h-1.2zM171.5 249.5h1.2v1.2h-1.2zM173.6 245.5h1.2v1.2h-1.2zM171.5 245.8h1.2v1.2h-1.2zM172.3 251.4h1.2v1.2h-1.2zM173.1 251.3h1.2v1.2h-1.2zM165.4 249.3h1.2v1.2h-1.2zM175.3 246.3h1.2v1.2h-1.2zM177.6 245.4h1.2v1.2h-1.2zM173.9 249.0h1.2v1.2h-1.2zM174.0 245.4h1.2v1.2h-1.2zM167.1 253.0h1.2v1.2h-1.2zM170.8 253.8h1.2v1.2h-1.2zM168.8 259.2h1.2v1.2h-1.2zM169.5 252.9h1.2v1.2h-1.2zM173.8 248.1h1.2v1.2h-1.2zM168.8 247.2h1.2v1.2h-1.2zM170.7 238.9h1.2v1.2h-1.2zM165.7 248.1h1.2v1.2h-1.2zM170.7 249.5h1.2v1.2h-1.2zM171.4 253.2h1.2v1.2h-1.2zM169.1 252.0h1.2v1.2h-1.2zM169.1 252.0h1.2v1.2h-1.2zM176.4 250.7h1.2v1.2h-1.2zM167.7 252.2h1.2v1.2h-1.2zM168.2 254.7h1.2v1.2h-1.2zM168.8 246.6h1.2v1.2h-1.2zM174.5 248.6h1.2v1.2h-1.2zM177.1 245.6h1.2v1.2h-1.2zM172.1 255.3h1.2v1.2h-1.2zM169.1 254.2h1.2v1.2h-1.2zM169.9 252.5h1.2v1.2h-1.2zM174.1 246.2h1.2v1.2h-1.2zM168.5 250.6h1.2v1.2h-1.2zM175.2 249.3h1.2v1.2h-1.2zM175.1 250.3h1.2v1.2h-1.2zM171.3 249.5h1.2v1.2h-1.2zM172.9 251.7h1.2v1.2h-1.2zM173.2 248.8h1.2v1.2h-1.2zM175.5 252.8h1.2v1.2h-1.2zM168.1 250.8h1.2v1.2h-1.2zM174.5 249.1h1.2v1.2h-1.2zM170.1 249.7h1.2v1.2h-1.2zM168.9 248.6h1.2v1.2h-1.2zM171.4 252.7h1.2v1.2h-1.2zM170.5 249.2h1.2v1.2h-1.2zM168.3 251.0h1.2v1.2h-1.2zM166.6 248.8h1.2v1.2h-1.2zM168.5 245.3h1.2v1.2h-1.2zM175.2 253.0h1.2v1.2h-1.2zM176.7 246.6h1.2v1.2h-1.2zM173.0 252.3h1.2v1.2h-1.2zM174.5 251.4h1.2v1.2h-1.2zM169.7 244.7h1.2v1.2h-1.2zM170.9 247.0h1.2v1.2h-1.2zM171.9 248.4h1.2v1.2h-1.2zM168.1 247.4h1.2v1.2h-1.2zM168.3 246.2h1.2v1.2h-1.2zM171.4 252.4h1.2v1.2h-1.2zM170.2 249.3h1.2v1.2h-1.2zM168.1 251.3h1.2v1.2h-1.2zM172.2 248.7h1.2v1.2h-1.2zM170.4 251.0h1.2v1.2h-1.2zM174.0 247.6h1.2v1.2h-1.2zM171.1 250.0h1.2v1.2h-1.2zM170.3 251.9h1.2v1.2h-1.2zM171.5 250.2h1.2v1.2h-1.2zM170.6 248.6h1.2v1.2h-1.2zM169.2 246.6h1.2v1.2h-1.2zM170.0 250.6h1.2v1.2h-1.2zM173.2 251.2h1.2v1.2h-1.2zM172.9 249.2h1.2v1.2h-1.2zM174.7 247.6h1.2v1.2h-1.2zM166.3 251.8h1.2v1.2h-1.2zM170.0 258.1h1.2v1.2h-1.2zM169.9 249.1h1.2v1.2h-1.2zM171.6 251.1h1.2v1.2h-1.2zM169.8 251.3h1.2v1.2h-1.2zM169.7 241.8h1.2v1.2h-1.2zM173.3 250.5h1.2v1.2h-1.2zM171.6 247.8h1.2v1.2h-1.2zM167.8 254.5h1.2v1.2h-1.2zM174.9 249.2h1.2v1.2h-1.2zM173.9 247.6h1.2v1.2h-1.2zM169.5 249.4h1.2v1.2h-1.2zM173.5 250.6h1.2v1.2h-1.2zM169.0 248.3h1.2v1.2h-1.2zM174.3 249.9h1.2v1.2h-1.2zM170.5 245.7h1.2v1.2h-1.2zM168.9 249.3h1.2v1.2h-1.2zM170.1 252.6h1.2v1.2h-1.2zM169.0 256.4h1.2v1.2h-1.2zM171.7 252.3h1.2v1.2h-1.2zM172.3 242.6h1.2v1.2h-1.2zM176.5 244.7h1.2v1.2h-1.2zM175.7 253.0h1.2v1.2h-1.2zM178.6 249.7h1.2v1.2h-1.2zM176.0 252.0h1.2v1.2h-1.2zM170.6 240.3h1.2v1.2h-1.2zM172.3 246.0h1.2v1.2h-1.2zM171.9 247.2h1.2v1.2h-1.2zM172.5 250.2h1.2v1.2h-1.2zM172.0 247.0h1.2v1.2h-1.2zM167.6 254.9h1.2v1.2h-1.2zM161.6 249.8h1.2v1.2h-1.2zM168.1 250.1h1.2v1.2h-1.2zM162.0 250.1h1.2v1.2h-1.2zM171.4 253.7h1.2v1.2h-1.2zM171.1 247.6h1.2v1.2h-1.2zM163.5 255.9h1.2v1.2h-1.2zM174.2 252.4h1.2v1.2h-1.2zM175.0 250.9h1.2v1.2h-1.2zM171.6 250.3h1.2v1.2h-1.2zM178.7 252.7h1.2v1.2h-1.2zM179.6 255.3h1.2v1.2h-1.2zM165.7 254.9h1.2v1.2h-1.2zM175.8 252.0h1.2v1.2h-1.2zM173.1 254.6h1.2v1.2h-1.2zM173.0 250.7h1.2v1.2h-1.2zM175.3 256.5h1.2v1.2h-1.2zM167.9 249.9h1.2v1.2h-1.2zM168.4 239.3h1.2v1.2h-1.2zM167.4 257.0h1.2v1.2h-1.2zM167.7 250.6h1.2v1.2h-1.2zM170.7 244.0h1.2v1.2h-1.2z"/>
<path fill="#e68447" d="M220.6 221.7h1.2v1.2h-1.2zM221.5 224.4h1.2v1.2h-1.2zM220.7 221.0h1.2v1.2h-1.2zM220.8 222.2h1.2v1.2h-1.2zM221.0 221.2h1.2v1.2h-1.2zM218.8 219.3h1.2v1.2h-1.2zM220.1 216.5h1.2v1.2h-1.2zM220.3 218.1h1.2v1.2h-1.2zM221.5 219.4h1.2v1.2h-1.2zM218.9 222.9h1.2v1.2h-1.2zM219.0 220.1h1.2v1.2h-1.2zM220.1 214.3h1.2v1.2h-1.2zM219.4 215.8h1.2v1.2h-1.2zM219.9 218.8h1.2v1.2h-1.2zM219.8 218.0h1.2v1.2h-1.2zM220.7 218.7h1.2v1.2h-1.2zM221.5 221.9h1.2v1.2h-1.2zM218.7 215.6h1.2v1.2h-1.2zM220.1 216.0h1.2v1.2h-1.2zM219.2 216.0h1.2v1.2h-1.2zM221.7 216.4h1.2v1.2h-1.2zM220.5 218.3h1.2v1.2h-1.2zM221.5 221.2h1.2v1.2h-1.2zM219.1 218.4h1.2v1.2h-1.2zM221.4 222.8h1.2v1.2h-1.2zM219.0 215.9h1.2v1.2h-1.2zM221.0 214.7h1.2v1.2h-1.2zM220.1 220.2h1.2v1.2h-1.2zM219.6 217.4h1.2v1.2h-1.2zM219.7 219.3h1.2v1.2h-1.2zM219.4 218.5h1.2v1.2h-1.2zM220.9 217.6h1.2v1.2h-1.2zM221.1 218.6h1.2v1.2h-1.2zM220.6 218.1h1.2v1.2h-1.2zM220.0 217.4h1.2v1.2h-1.2zM219.9 214.7h1.2v1.2h-1.2zM219.9 218.3h1.2v1.2h-1.2zM220.6 218.7h1.2v1.2h-1.2zM219.2 216.6h1.2v1.2h-1.2zM219.7 219.1h1.2v1.2h-1.2zM221.8 225.7h1.2v1.2h-1.2zM220.8 218.2h1.2v1.2h-1.2z"/>
<path fill="#e64423" d="M168.9 206.3h1.2v1.2h-1.2zM169.7 204.6h1.2v1.2h-1.2zM168.2 205.7h1.2v1.2h-1.2zM166.6 201.1h1.2v1.2h-1.2zM167.8 203.3h1.2v1.2h-1.2zM166.4 206.9h1.2v1.2h-1.2zM169.1 200.8h1.2v1.2h-1.2zM172.4 208.1h1.2v1.2h-1.2zM167.7 201.8h1.2v1.2h-1.2zM167.3 207.9h1.2v1.2h-1.2zM170.2 204.0h1.2v1.2h-1.2zM169.9 208.0h1.2v1.2h-1.2zM169.2 206.4h1.2v1.2h-1.2zM166.5 202.3h1.2v1.2h-1.2zM168.9 209.1h1.2v1.2h-1.2zM170.7 209.6h1.2v1.2h-1.2zM165.5 205.9h1.2v1.2h-1.2zM167.8 205.4h1.2v1.2h-1.2zM164.1 205.6h1.2v1.2h-1.2zM165.6 203.6h1.2v1.2h-1.2zM164.2 208.7h1.2v1.2h-1.2zM168.3 204.7h1.2v1.2h-1.2zM165.7 205.9h1.2v1.2h-1.2zM169.6 204.1h1.2v1.2h-1.2zM169.3 204.5h1.2v1.2h-1.2zM168.5 202.9h1.2v1.2h-1.2zM162.5 209.1h1.2v1.2h-1.2zM167.6 205.7h1.2v1.2h-1.2zM168.8 208.4h1.2v1.2h-1.2zM169.2 206.1h1.2v1.2h-1.2zM165.0 204.3h1.2v1.2h-1.2zM167.7 205.2h1.2v1.2h-1.2zM166.4 204.7h1.2v1.2h-1.2zM166.9 206.1h1.2v1.2h-1.2zM171.7 205.1h1.2v1.2h-1.2zM166.9 205.3h1.2v1.2h-1.2zM168.9 202.7h1.2v1.2h-1.2zM171.2 204.1h1.2v1.2h-1.2zM167.4 210.1h1.2v1.2h-1.2zM168.6 204.4h1.2v1.2h-1.2zM169.2 203.5h1.2v1.2h-1.2zM169.1 206.9h1.2v1.2h-1.2zM165.8 209.5h1.2v1.2h-1.2zM169.1 202.5h1.2v1.2h-1.2zM172.4 205.5h1.2v1.2h-1.2zM165.0 204.5h1.2v1.2h-1.2zM171.1 201.7h1.2v1.2h-1.2zM169.2 207.8h1.2v1.2h-1.2zM167.3 206.0h1.2v1.2h-1.2zM174.1 206.2h1.2v1.2h-1.2zM170.9 204.2h1.2v1.2h-1.2zM165.9 207.2h1.2v1.2h-1.2zM169.1 204.7h1.2v1.2h-1.2zM170.4 205.7h1.2v1.2h-1.2zM168.5 203.3h1.2v1.2h-1.2zM170.7 203.1h1.2v1.2h-1.2zM168.8 209.3h1.2v1.2h-1.2zM170.6 204.8h1.2v1.2h-1.2zM172.6 206.8h1.2v1.2h-1.2zM167.2 206.0h1.2v1.2h-1.2zM169.5 205.0h1.2v1.2h-1.2zM167.7 204.8h1.2v1.2h-1.2zM169.3 207.6h1.2v1.2h-1.2zM165.9 205.3h1.2v1.2h-1.2zM167.4 205.7h1.2v1.2h-1.2zM168.4 206.1h1.2v1.2h-1.2zM171.2 208.9h1.2v1.2h-1.2zM171.9 207.7h1.2v1.2h-1.2zM165.5 207.0h1.2v1.2h-1.2zM166.9 204.7h1.2v1.2h-1.2zM170.6 202.7h1.2v1.2h-1.2zM163.8 208.4h1.2v1.2h-1.2zM167.7 208.4h1.2v1.2h-1.2zM168.7 205.7h1.2v1.2h-1.2zM172.2 207.4h1.2v1.2h-1.2zM170.7 208.0h1.2v1.2h-1.2zM168.1 208.1h1.2v1.2h-1.2zM168.0 208.3h1.2v1.2h-1.2zM168.3 204.9h1.2v1.2h-1.2zM172.8 209.8h1.2v1.2h-1.2zM167.8 203.0h1.2v1.2h-1.2zM168.2 208.2h1.2v1.2h-1.2zM169.8 207.3h1.2v1.2h-1.2zM168.6 208.2h1.2v1.2h-1.2zM168.4 210.6h1.2v1.2h-1.2zM166.1 209.7h1.2v1.2h-1.2zM168.9 203.2h1.2v1.2h-1.2zM167.8 201.9h1.2v1.2h-1.2zM171.9 208.0h1.2v1.2h-1.2zM170.6 203.6h1.2v1.2h-1.2zM168.9 206.0h1.2v1.2h-1.2zM170.7 208.1h1.2v1.2h-1.2zM168.1 202.0h1.2v1.2h-1.2zM171.6 200.9h1.2v1.2h-1.2zM168.9 206.7h1.2v1.2h-1.2zM170.4 206.1h1.2v1.2h-1.2zM165.6 205.4h1.2v1.2h-1.2zM169.8 206.1h1.2v1.2h-1.2zM164.6 203.9h1.2v1.2h-1.2zM163.7 202.3h1.2v1.2h-1.2zM168.2 205.6h1.2v1.2h-1.2zM166.6 203.7h1.2v1.2h-1.2zM169.4 202.0h1.2v1.2h-1.2zM174.7 207.3h1.2v1.2h-1.2zM166.8 205.9h1.2v1.2h-1.2zM167.3 207.0h1.2v1.2h-1.2zM169.5 203.6h1.2v1.2h-1.2zM170.2 204.4h1.2v1.2h-1.2zM168.5 203.6h1.2v1.2h-1.2zM168.4 203.9h1.2v1.2h-1.2zM170.7 206.5h1.2v1.2h-1.2zM170.3 204.1h1.2v1.2h-1.2zM166.3 206.9h1.2v1.2h-1.2zM168.7 206.9h1.2v1.2h-1.2zM169.0 211.0h1.2v1.2h-1.2zM166.2 202.6h1.2v1.2h-1.2zM169.6 208.2h1.2v1.2h-1.2zM166.7 205.8h1.2v1.2h-1.2zM171.4 206.0h1.2v1.2h-1.2zM169.4 202.5h1.2v1.2h-1.2zM167.0 206.0h1.2v1.2h-1.2zM172.0 200.8h1.2v1.2h-1.2zM168.6 212.8h1.2v1.2h-1.2zM169.3 211.8h1.2v1.2h-1.2zM167.7 204.2h1.2v1.2h-1.2zM173.7 209.1h1.2v1.2h-1.2zM168.8 207.5h1.2v1.2h-1.2zM159.9 195.8h1.2v1.2h-1.2zM166.1 207.0h1.2v1.2h-1.2zM160.8 205.8h1.2v1.2h-1.2zM155.6 206.4h1.2v1.2h-1.2zM166.8 201.8h1.2v1.2h-1.2zM174.4 205.0h1.2v1.2h-1.2zM169.1 205.3h1.2v1.2h-1.2zM164.1 210.7h1.2v1.2h-1.2zM165.1 207.4h1.2v1.2h-1.2zM173.6 206.0h1.2v1.2h-1.2zM169.6 212.0h1.2v1.2h-1.2zM169.1 203.9h1.2v1.2h-1.2zM168.7 204.5h1.2v1.2h-1.2zM169.1 198.9h1.2v1.2h-1.2zM172.2 212.2h1.2v1.2h-1.2zM171.2 209.8h1.2v1.2h-1.2zM169.8 209.6h1.2v1.2h-1.2zM164.7 208.7h1.2v1.2h-1.2zM171.0 206.5h1.2v1.2h-1.2zM166.1 206.9h1.2v1.2h-1.2zM173.4 205.1h1.2v1.2h-1.2zM163.7 205.2h1.2v1.2h-1.2zM168.4 206.3h1.2v1.2h-1.2zM205.6 203.1h1.2v1.2h-1.2zM209.8 202.8h1.2v1.2h-1.2zM209.4 206.8h1.2v1.2h-1.2zM204.6 205.0h1.2v1.2h-1.2zM204.2 205.4h1.2v1.2h-1.2zM201.3 202.4h1.2v1.2h-1.2zM202.9 208.7h1.2v1.2h-1.2zM206.1 208.1h1.2v1.2h-1.2zM206.0 205.2h1.2v1.2h-1.2zM205.2 205.5h1.2v1.2h-1.2zM207.7 198.5h1.2v1.2h-1.2zM202.7 205.4h1.2v1.2h-1.2zM204.7 203.2h1.2v1.2h-1.2zM206.9 204.8h1.2v1.2h-1.2zM206.5 205.5h1.2v1.2h-1.2zM207.9 202.8h1.2v1.2h-1.2zM206.0 199.4h1.2v1.2h-1.2zM204.0 204.7h1.2v1.2h-1.2zM205.9 201.8h1.2v1.2h-1.2zM202.0 202.9h1.2v1.2h-1.2zM200.2 202.2h1.2v1.2h-1.2zM206.5 202.8h1.2v1.2h-1.2zM204.7 197.8h1.2v1.2h-1.2zM205.7 206.9h1.2v1.2h-1.2zM200.1 204.4h1.2v1.2h-1.2zM203.8 206.6h1.2v1.2h-1.2zM203.2 208.8h1.2v1.2h-1.2zM202.4 203.8h1.2v1.2h-1.2zM198.5 199.1h1.2v1.2h-1.2zM203.9 201.4h1.2v1.2h-1.2zM207.4 200.6h1.2v1.2h-1.2zM205.9 202.4h1.2v1.2h-1.2zM203.2 203.9h1.2v1.2h-1.2zM204.8 198.5h1.2v1.2h-1.2zM207.0 204.6h1.2v1.2h-1.2zM197.1 199.8h1.2v1.2h-1.2zM204.5 204.5h1.2v1.2h-1.2zM206.4 203.4h1.2v1.2h-1.2zM206.8 202.9h1.2v1.2h-1.2zM209.7 203.5h1.2v1.2h-1.2zM208.1 202.3h1.2v1.2h-1.2zM205.8 202.1h1.2v1.2h-1.2zM205.7 199.4h1.2v1.2h-1.2zM207.1 203.6h1.2v1.2h-1.2zM203.3 208.5h1.2v1.2h-1.2zM204.8 208.8h1.2v1.2h-1.2zM207.4 207.1h1.2v1.2h-1.2zM210.4 205.5h1.2v1.2h-1.2zM204.4 202.0h1.2v1.2h-1.2zM204.7 207.4h1.2v1.2h-1.2zM205.4 203.6h1.2v1.2h-1.2zM208.7 203.5h1.2v1.2h-1.2zM204.8 203.0h1.2v1.2h-1.2zM209.0 204.0h1.2v1.2h-1.2zM202.1 202.6h1.2v1.2h-1.2zM204.3 203.5h1.2v1.2h-1.2zM204.3 200.9h1.2v1.2h-1.2zM207.1 202.8h1.2v1.2h-1.2zM207.8 209.6h1.2v1.2h-1.2zM200.6 203.5h1.2v1.2h-1.2zM202.3 203.1h1.2v1.2h-1.2zM205.8 205.1h1.2v1.2h-1.2zM203.0 205.5h1.2v1.2h-1.2zM200.6 200.8h1.2v1.2h-1.2zM207.8 203.2h1.2v1.2h-1.2zM206.3 206.1h1.2v1.2h-1.2zM206.3 204.4h1.2v1.2h-1.2zM203.5 204.0h1.2v1.2h-1.2zM207.8 207.7h1.2v1.2h-1.2zM204.2 202.0h1.2v1.2h-1.2zM208.0 203.9h1.2v1.2h-1.2zM202.3 202.4h1.2v1.2h-1.2zM202.5 207.6h1.2v1.2h-1.2zM205.4 198.7h1.2v1.2h-1.2zM202.9 202.0h1.2v1.2h-1.2zM206.8 202.4h1.2v1.2h-1.2zM205.6 205.4h1.2v1.2h-1.2zM202.3 205.3h1.2v1.2h-1.2zM205.1 207.3h1.2v1.2h-1.2zM203.9 199.7h1.2v1.2h-1.2zM207.5 205.7h1.2v1.2h-1.2zM203.1 203.0h1.2v1.2h-1.2zM203.6 202.0h1.2v1.2h-1.2zM208.3 205.1h1.2v1.2h-1.2zM211.2 201.3h1.2v1.2h-1.2zM210.5 198.4h1.2v1.2h-1.2zM205.1 202.8h1.2v1.2h-1.2zM205.5 199.8h1.2v1.2h-1.2zM209.2 202.0h1.2v1.2h-1.2zM204.5 204.7h1.2v1.2h-1.2zM202.1 204.5h1.2v1.2h-1.2zM205.2 207.8h1.2v1.2h-1.2zM206.1 203.2h1.2v1.2h-1.2zM202.5 199.8h1.2v1.2h-1.2zM200.2 201.8h1.2v1.2h-1.2zM200.8 201.3h1.2v1.2h-1.2zM206.8 200.6h1.2v1.2h-1.2zM202.7 204.8h1.2v1.2h-1.2zM204.5 202.1h1.2v1.2h-1.2zM205.5 198.6h1.2v1.2h-1.2zM206.6 205.5h1.2v1.2h-1.2zM203.9 203.4h1.2v1.2h-1.2zM206.3 204.6h1.2v1.2h-1.2zM202.4 204.0h1.2v1.2h-1.2zM203.9 205.3h1.2v1.2h-1.2zM202.0 203.8h1.2v1.2h-1.2zM208.1 206.9h1.2v1.2h-1.2zM204.8 204.8h1.2v1.2h-1.2zM202.8 204.7h1.2v1.2h-1.2zM203.9 204.8h1.2v1.2h-1.2zM204.2 200.0h1.2v1.2h-1.2zM206.8 203.3h1.2v1.2h-1.2zM200.4 203.0h1.2v1.2h-1.2zM201.9 204.3h1.2v1.2h-1.2zM203.8 200.2h1.2v1.2h-1.2zM212.0 207.9h1.2v1.2h-1.2zM207.6 204.0h1.2v1.2h-1.2zM204.6 200.6h1.2v1.2h-1.2zM206.9 199.3h1.2v1.2h-1.2zM210.7 203.0h1.2v1.2h-1.2zM204.5 206.3h1.2v1.2h-1.2zM201.6 201.3h1.2v1.2h-1.2zM205.3 198.9h1.2v1.2h-1.2zM202.0 200.4h1.2v1.2h-1.2zM207.4 209.7h1.2v1.2h-1.2zM201.6 204.6h1.2v1.2h-1.2zM204.7 208.5h1.2v1.2h-1.2zM209.3 201.7h1.2v1.2h-1.2zM216.5 207.6h1.2v1.2h-1.2zM200.3 201.2h1.2v1.2h-1.2zM202.8 203.1h1.2v1.2h-1.2zM201.1 214.0h1.2v1.2h-1.2zM208.4 206.9h1.2v1.2h-1.2zM199.7 201.6h1.2v1.2h-1.2zM202.7 203.4h1.2v1.2h-1.2zM204.7 205.1h1.2v1.2h-1.2zM200.5 208.7h1.2v1.2h-1.2zM200.5 201.7h1.2v1.2h-1.2zM202.7 196.5h1.2v1.2h-1.2zM195.4 202.6h1.2v1.2h-1.2zM198.3 203.8h1.2v1.2h-1.2zM203.0 204.2h1.2v1.2h-1.2zM205.5 209.2h1.2v1.2h-1.2zM204.0 205.0h1.2v1.2h-1.2zM196.9 207.1h1.2v1.2h-1.2zM202.8 199.2h1.2v1.2h-1.2zM208.5 207.3h1.2v1.2h-1.2zM207.4 212.4h1.2v1.2h-1.2zM204.5 206.9h1.2v1.2h-1.2zM200.9 204.8h1.2v1.2h-1.2z"/>
</g>
<rect x="164.30" y="196.00" width="66.50" height="66.20" fill="none" stroke="#2a2a2a" stroke-width="1.1"/>
<text x="147.16" y="189.00" font-size="17.48" font-weight="bold" stroke="#1c1c1c" stroke-width="0.55" textLength="10.08" lengthAdjust="spacingAndGlyphs">F</text>
<text x="197.55" y="275.00" font-size="11.08" text-anchor="middle" textLength="25.07" lengthAdjust="spacingAndGlyphs" stroke="#1c1c1c" stroke-width="0.2">i = 3</text>
<clipPath id="clipG"><rect x="283.6" y="196.0" width="66.5" height="66.20"/></clipPath><g clip-path="url(#clipG)">
<path fill="#2474dd" d="M312.4 234.0h1.2v1.2h-1.2zM309.2 238.5h1.2v1.2h-1.2zM309.1 241.3h1.2v1.2h-1.2zM309.5 236.0h1.2v1.2h-1.2zM309.6 235.2h1.2v1.2h-1.2zM311.2 240.3h1.2v1.2h-1.2zM306.9 237.8h1.2v1.2h-1.2zM307.8 234.3h1.2v1.2h-1.2zM310.9 236.3h1.2v1.2h-1.2zM310.6 235.3h1.2v1.2h-1.2zM309.2 238.3h1.2v1.2h-1.2zM308.7 237.7h1.2v1.2h-1.2zM308.0 240.7h1.2v1.2h-1.2zM310.0 239.4h1.2v1.2h-1.2zM313.2 233.0h1.2v1.2h-1.2zM307.5 238.6h1.2v1.2h-1.2zM314.1 240.0h1.2v1.2h-1.2zM312.3 238.7h1.2v1.2h-1.2zM309.0 240.3h1.2v1.2h-1.2zM312.2 235.8h1.2v1.2h-1.2zM306.4 234.7h1.2v1.2h-1.2zM305.7 240.1h1.2v1.2h-1.2zM306.9 234.4h1.2v1.2h-1.2zM309.1 231.3h1.2v1.2h-1.2zM309.3 240.3h1.2v1.2h-1.2zM308.9 235.4h1.2v1.2h-1.2zM310.4 236.5h1.2v1.2h-1.2zM304.7 233.4h1.2v1.2h-1.2zM311.5 233.6h1.2v1.2h-1.2zM306.5 234.1h1.2v1.2h-1.2zM308.5 236.4h1.2v1.2h-1.2zM309.1 238.5h1.2v1.2h-1.2zM307.2 230.9h1.2v1.2h-1.2zM306.7 239.5h1.2v1.2h-1.2zM307.6 234.1h1.2v1.2h-1.2zM310.2 234.4h1.2v1.2h-1.2zM311.7 239.3h1.2v1.2h-1.2zM311.6 237.2h1.2v1.2h-1.2zM307.6 233.0h1.2v1.2h-1.2zM308.2 242.6h1.2v1.2h-1.2zM307.8 235.0h1.2v1.2h-1.2zM311.3 238.1h1.2v1.2h-1.2zM305.0 238.0h1.2v1.2h-1.2zM313.4 241.4h1.2v1.2h-1.2zM308.9 236.1h1.2v1.2h-1.2zM308.2 240.3h1.2v1.2h-1.2zM311.1 235.3h1.2v1.2h-1.2zM312.8 240.6h1.2v1.2h-1.2zM311.1 235.2h1.2v1.2h-1.2zM312.9 236.4h1.2v1.2h-1.2zM310.5 242.8h1.2v1.2h-1.2zM313.3 238.3h1.2v1.2h-1.2zM313.4 237.7h1.2v1.2h-1.2zM309.9 243.8h1.2v1.2h-1.2zM313.9 238.4h1.2v1.2h-1.2zM310.6 235.1h1.2v1.2h-1.2zM310.4 239.5h1.2v1.2h-1.2zM307.8 234.1h1.2v1.2h-1.2zM309.4 240.6h1.2v1.2h-1.2zM312.2 240.8h1.2v1.2h-1.2zM306.8 235.8h1.2v1.2h-1.2zM311.8 235.6h1.2v1.2h-1.2zM311.1 237.9h1.2v1.2h-1.2zM310.9 237.4h1.2v1.2h-1.2zM304.5 234.6h1.2v1.2h-1.2zM309.9 239.0h1.2v1.2h-1.2zM311.8 231.6h1.2v1.2h-1.2zM308.2 236.2h1.2v1.2h-1.2zM310.4 236.3h1.2v1.2h-1.2zM304.1 236.6h1.2v1.2h-1.2zM311.9 238.3h1.2v1.2h-1.2zM308.5 233.9h1.2v1.2h-1.2zM312.4 239.1h1.2v1.2h-1.2zM305.5 236.9h1.2v1.2h-1.2zM312.0 235.6h1.2v1.2h-1.2zM309.6 233.5h1.2v1.2h-1.2zM312.3 234.0h1.2v1.2h-1.2zM307.8 238.4h1.2v1.2h-1.2zM308.6 234.7h1.2v1.2h-1.2zM315.9 237.6h1.2v1.2h-1.2zM308.1 240.4h1.2v1.2h-1.2zM308.4 240.3h1.2v1.2h-1.2zM309.5 241.8h1.2v1.2h-1.2zM307.6 236.6h1.2v1.2h-1.2zM313.2 234.3h1.2v1.2h-1.2zM314.6 240.3h1.2v1.2h-1.2zM308.4 238.3h1.2v1.2h-1.2zM305.8 240.6h1.2v1.2h-1.2zM313.2 237.4h1.2v1.2h-1.2zM313.0 240.8h1.2v1.2h-1.2zM312.3 239.8h1.2v1.2h-1.2zM313.2 239.4h1.2v1.2h-1.2zM308.0 238.8h1.2v1.2h-1.2zM309.7 238.5h1.2v1.2h-1.2zM306.6 238.1h1.2v1.2h-1.2zM306.5 238.1h1.2v1.2h-1.2zM312.7 240.2h1.2v1.2h-1.2zM308.5 236.0h1.2v1.2h-1.2zM316.0 242.3h1.2v1.2h-1.2zM310.4 237.1h1.2v1.2h-1.2zM308.5 240.2h1.2v1.2h-1.2zM312.2 237.2h1.2v1.2h-1.2zM314.8 236.7h1.2v1.2h-1.2zM311.4 243.2h1.2v1.2h-1.2zM308.9 235.0h1.2v1.2h-1.2zM304.9 241.1h1.2v1.2h-1.2zM307.2 236.3h1.2v1.2h-1.2zM308.9 237.1h1.2v1.2h-1.2zM319.0 237.0h1.2v1.2h-1.2zM311.0 237.4h1.2v1.2h-1.2zM314.0 242.5h1.2v1.2h-1.2zM306.1 238.0h1.2v1.2h-1.2zM311.6 236.7h1.2v1.2h-1.2zM312.9 236.2h1.2v1.2h-1.2zM317.6 239.0h1.2v1.2h-1.2zM307.3 233.3h1.2v1.2h-1.2zM312.7 235.1h1.2v1.2h-1.2zM311.4 237.2h1.2v1.2h-1.2zM306.0 234.8h1.2v1.2h-1.2zM310.1 236.9h1.2v1.2h-1.2zM309.1 234.6h1.2v1.2h-1.2zM300.6 246.5h1.2v1.2h-1.2zM312.6 243.4h1.2v1.2h-1.2zM312.4 239.5h1.2v1.2h-1.2zM308.4 237.2h1.2v1.2h-1.2zM304.7 247.4h1.2v1.2h-1.2zM316.3 238.9h1.2v1.2h-1.2zM311.3 237.0h1.2v1.2h-1.2zM314.4 238.8h1.2v1.2h-1.2zM316.0 238.8h1.2v1.2h-1.2z"/>
<path fill="#daaa60" d="M331.2 215.5h1.2v1.2h-1.2zM330.1 218.0h1.2v1.2h-1.2zM332.0 216.9h1.2v1.2h-1.2zM332.1 224.4h1.2v1.2h-1.2zM331.9 215.3h1.2v1.2h-1.2zM327.3 220.7h1.2v1.2h-1.2zM331.8 217.0h1.2v1.2h-1.2zM329.9 216.8h1.2v1.2h-1.2zM330.7 219.0h1.2v1.2h-1.2zM332.7 219.4h1.2v1.2h-1.2zM333.8 220.4h1.2v1.2h-1.2zM334.4 218.0h1.2v1.2h-1.2zM330.9 215.6h1.2v1.2h-1.2zM334.5 215.8h1.2v1.2h-1.2zM335.1 218.5h1.2v1.2h-1.2zM335.0 218.6h1.2v1.2h-1.2zM335.7 220.8h1.2v1.2h-1.2zM331.8 218.2h1.2v1.2h-1.2zM331.7 219.9h1.2v1.2h-1.2zM334.2 221.1h1.2v1.2h-1.2zM328.6 217.6h1.2v1.2h-1.2zM332.7 213.3h1.2v1.2h-1.2zM330.8 214.1h1.2v1.2h-1.2zM331.2 213.4h1.2v1.2h-1.2zM327.7 221.3h1.2v1.2h-1.2zM329.8 215.0h1.2v1.2h-1.2zM332.1 220.3h1.2v1.2h-1.2zM334.4 218.7h1.2v1.2h-1.2zM334.7 221.6h1.2v1.2h-1.2zM331.9 219.7h1.2v1.2h-1.2zM331.6 216.9h1.2v1.2h-1.2zM330.0 216.6h1.2v1.2h-1.2zM333.2 217.4h1.2v1.2h-1.2zM331.5 217.6h1.2v1.2h-1.2zM333.7 215.8h1.2v1.2h-1.2zM336.6 217.1h1.2v1.2h-1.2zM332.0 221.3h1.2v1.2h-1.2zM328.3 212.7h1.2v1.2h-1.2zM329.9 217.8h1.2v1.2h-1.2zM328.4 214.8h1.2v1.2h-1.2zM329.1 217.6h1.2v1.2h-1.2zM335.5 219.3h1.2v1.2h-1.2zM332.7 217.0h1.2v1.2h-1.2zM328.2 219.1h1.2v1.2h-1.2zM333.8 213.0h1.2v1.2h-1.2zM335.4 220.0h1.2v1.2h-1.2zM331.2 215.6h1.2v1.2h-1.2zM330.4 218.7h1.2v1.2h-1.2zM331.3 217.6h1.2v1.2h-1.2zM332.9 210.5h1.2v1.2h-1.2zM333.8 215.2h1.2v1.2h-1.2zM335.2 217.7h1.2v1.2h-1.2zM335.2 221.2h1.2v1.2h-1.2zM335.2 217.9h1.2v1.2h-1.2zM335.6 217.8h1.2v1.2h-1.2zM333.8 213.5h1.2v1.2h-1.2zM328.2 220.8h1.2v1.2h-1.2zM331.8 221.8h1.2v1.2h-1.2zM332.9 217.2h1.2v1.2h-1.2zM331.1 216.6h1.2v1.2h-1.2zM334.5 213.0h1.2v1.2h-1.2zM331.2 219.4h1.2v1.2h-1.2zM329.8 224.1h1.2v1.2h-1.2zM335.8 219.0h1.2v1.2h-1.2zM333.8 220.4h1.2v1.2h-1.2zM332.7 218.5h1.2v1.2h-1.2zM334.5 214.6h1.2v1.2h-1.2zM334.9 220.6h1.2v1.2h-1.2zM333.0 214.0h1.2v1.2h-1.2zM325.8 216.6h1.2v1.2h-1.2zM330.4 217.9h1.2v1.2h-1.2zM331.0 219.4h1.2v1.2h-1.2zM329.6 218.2h1.2v1.2h-1.2zM332.6 218.1h1.2v1.2h-1.2zM335.2 215.2h1.2v1.2h-1.2zM330.9 213.8h1.2v1.2h-1.2zM329.2 217.3h1.2v1.2h-1.2zM337.3 215.3h1.2v1.2h-1.2zM331.0 213.8h1.2v1.2h-1.2zM329.0 213.9h1.2v1.2h-1.2zM332.7 215.9h1.2v1.2h-1.2zM333.2 212.4h1.2v1.2h-1.2zM330.3 213.7h1.2v1.2h-1.2zM334.2 212.9h1.2v1.2h-1.2zM330.9 217.6h1.2v1.2h-1.2zM329.8 218.2h1.2v1.2h-1.2zM332.6 222.3h1.2v1.2h-1.2zM334.1 213.3h1.2v1.2h-1.2zM329.3 216.0h1.2v1.2h-1.2zM335.9 220.2h1.2v1.2h-1.2zM331.2 223.7h1.2v1.2h-1.2zM330.8 208.1h1.2v1.2h-1.2zM339.1 227.9h1.2v1.2h-1.2zM330.7 212.5h1.2v1.2h-1.2zM327.4 221.1h1.2v1.2h-1.2zM326.7 222.2h1.2v1.2h-1.2zM333.5 221.2h1.2v1.2h-1.2zM333.4 217.8h1.2v1.2h-1.2zM326.5 212.3h1.2v1.2h-1.2zM328.1 219.7h1.2v1.2h-1.2zM334.3 214.2h1.2v1.2h-1.2zM334.5 206.7h1.2v1.2h-1.2zM329.5 228.8h1.2v1.2h-1.2zM334.7 220.1h1.2v1.2h-1.2zM334.5 224.7h1.2v1.2h-1.2zM324.8 213.4h1.2v1.2h-1.2zM330.8 223.2h1.2v1.2h-1.2zM333.8 223.7h1.2v1.2h-1.2zM329.8 223.6h1.2v1.2h-1.2zM323.3 217.1h1.2v1.2h-1.2zM336.8 220.2h1.2v1.2h-1.2zM339.9 221.7h1.2v1.2h-1.2zM333.7 217.9h1.2v1.2h-1.2zM335.2 220.0h1.2v1.2h-1.2zM340.8 224.4h1.2v1.2h-1.2zM337.4 215.7h1.2v1.2h-1.2zM340.0 221.0h1.2v1.2h-1.2zM340.1 222.2h1.2v1.2h-1.2zM346.4 219.4h1.2v1.2h-1.2zM344.5 220.1h1.2v1.2h-1.2zM340.3 221.2h1.2v1.2h-1.2zM344.2 217.0h1.2v1.2h-1.2zM338.1 219.3h1.2v1.2h-1.2zM339.4 216.5h1.2v1.2h-1.2zM343.3 216.9h1.2v1.2h-1.2zM336.6 217.0h1.2v1.2h-1.2zM339.6 218.1h1.2v1.2h-1.2zM336.4 218.8h1.2v1.2h-1.2zM340.8 219.4h1.2v1.2h-1.2zM345.5 215.2h1.2v1.2h-1.2zM338.2 222.9h1.2v1.2h-1.2zM341.2 221.0h1.2v1.2h-1.2zM337.7 220.1h1.2v1.2h-1.2zM336.9 217.6h1.2v1.2h-1.2zM336.7 218.2h1.2v1.2h-1.2zM345.0 219.7h1.2v1.2h-1.2zM347.7 219.4h1.2v1.2h-1.2zM342.0 214.7h1.2v1.2h-1.2zM338.3 220.1h1.2v1.2h-1.2zM342.6 225.0h1.2v1.2h-1.2zM339.4 214.3h1.2v1.2h-1.2zM342.9 220.7h1.2v1.2h-1.2zM341.4 219.3h1.2v1.2h-1.2zM341.3 218.2h1.2v1.2h-1.2zM342.3 221.5h1.2v1.2h-1.2zM338.7 215.8h1.2v1.2h-1.2zM339.2 218.8h1.2v1.2h-1.2zM335.2 221.7h1.2v1.2h-1.2zM339.1 218.0h1.2v1.2h-1.2zM336.1 217.5h1.2v1.2h-1.2zM340.0 218.7h1.2v1.2h-1.2zM337.5 217.4h1.2v1.2h-1.2zM340.8 221.9h1.2v1.2h-1.2zM341.9 216.4h1.2v1.2h-1.2zM336.1 220.4h1.2v1.2h-1.2zM338.0 215.6h1.2v1.2h-1.2zM337.6 219.9h1.2v1.2h-1.2zM342.8 218.2h1.2v1.2h-1.2zM345.7 212.6h1.2v1.2h-1.2zM343.1 218.4h1.2v1.2h-1.2zM339.4 216.0h1.2v1.2h-1.2zM345.0 217.4h1.2v1.2h-1.2zM335.8 221.9h1.2v1.2h-1.2zM345.1 215.9h1.2v1.2h-1.2zM338.5 216.0h1.2v1.2h-1.2zM331.9 221.7h1.2v1.2h-1.2zM348.6 218.7h1.2v1.2h-1.2zM345.3 221.9h1.2v1.2h-1.2zM337.3 219.2h1.2v1.2h-1.2zM341.0 216.4h1.2v1.2h-1.2zM339.8 218.3h1.2v1.2h-1.2zM340.8 221.2h1.2v1.2h-1.2zM335.9 220.6h1.2v1.2h-1.2zM338.4 218.4h1.2v1.2h-1.2zM341.9 218.5h1.2v1.2h-1.2zM341.2 218.2h1.2v1.2h-1.2zM344.2 217.1h1.2v1.2h-1.2zM340.7 222.8h1.2v1.2h-1.2zM347.7 218.4h1.2v1.2h-1.2zM338.3 215.9h1.2v1.2h-1.2zM341.3 217.4h1.2v1.2h-1.2zM334.6 220.1h1.2v1.2h-1.2zM336.6 219.9h1.2v1.2h-1.2zM344.6 218.1h1.2v1.2h-1.2zM337.6 216.9h1.2v1.2h-1.2zM342.1 218.5h1.2v1.2h-1.2zM340.3 214.7h1.2v1.2h-1.2zM337.3 215.5h1.2v1.2h-1.2zM339.4 220.2h1.2v1.2h-1.2zM338.9 217.4h1.2v1.2h-1.2zM339.0 219.3h1.2v1.2h-1.2zM342.8 221.2h1.2v1.2h-1.2zM342.5 219.9h1.2v1.2h-1.2zM338.7 218.5h1.2v1.2h-1.2zM337.7 223.2h1.2v1.2h-1.2zM341.3 219.9h1.2v1.2h-1.2zM340.2 217.6h1.2v1.2h-1.2zM343.6 220.1h1.2v1.2h-1.2zM348.7 219.4h1.2v1.2h-1.2zM343.1 216.5h1.2v1.2h-1.2zM340.4 218.6h1.2v1.2h-1.2zM339.9 218.1h1.2v1.2h-1.2zM337.8 214.0h1.2v1.2h-1.2zM337.7 218.0h1.2v1.2h-1.2zM337.4 217.8h1.2v1.2h-1.2zM339.3 217.4h1.2v1.2h-1.2zM339.2 214.7h1.2v1.2h-1.2zM342.8 217.6h1.2v1.2h-1.2zM339.2 218.3h1.2v1.2h-1.2zM339.9 218.7h1.2v1.2h-1.2zM336.7 215.9h1.2v1.2h-1.2zM345.5 219.9h1.2v1.2h-1.2zM342.0 215.7h1.2v1.2h-1.2zM346.0 217.9h1.2v1.2h-1.2zM347.1 221.5h1.2v1.2h-1.2zM337.0 215.5h1.2v1.2h-1.2zM337.9 217.7h1.2v1.2h-1.2zM345.9 222.4h1.2v1.2h-1.2zM338.5 216.6h1.2v1.2h-1.2zM339.0 219.1h1.2v1.2h-1.2zM341.6 214.8h1.2v1.2h-1.2zM345.8 215.5h1.2v1.2h-1.2zM329.3 216.6h1.2v1.2h-1.2zM336.3 226.1h1.2v1.2h-1.2zM335.4 217.0h1.2v1.2h-1.2zM335.0 216.6h1.2v1.2h-1.2zM336.1 216.5h1.2v1.2h-1.2zM336.2 217.9h1.2v1.2h-1.2zM342.0 220.7h1.2v1.2h-1.2zM336.0 219.1h1.2v1.2h-1.2zM341.1 225.7h1.2v1.2h-1.2zM342.5 219.2h1.2v1.2h-1.2zM336.8 223.5h1.2v1.2h-1.2zM341.1 219.4h1.2v1.2h-1.2zM348.7 220.6h1.2v1.2h-1.2zM342.1 213.4h1.2v1.2h-1.2zM337.3 218.0h1.2v1.2h-1.2zM340.1 218.2h1.2v1.2h-1.2zM335.8 217.6h1.2v1.2h-1.2zM341.8 210.9h1.2v1.2h-1.2zM287.9 250.6h1.2v1.2h-1.2zM290.9 250.2h1.2v1.2h-1.2zM295.7 248.3h1.2v1.2h-1.2zM292.2 238.2h1.2v1.2h-1.2zM289.5 250.4h1.2v1.2h-1.2zM285.8 243.9h1.2v1.2h-1.2zM286.4 250.8h1.2v1.2h-1.2zM285.7 253.7h1.2v1.2h-1.2zM292.5 250.9h1.2v1.2h-1.2zM288.3 248.8h1.2v1.2h-1.2zM290.6 249.5h1.2v1.2h-1.2zM288.7 249.6h1.2v1.2h-1.2zM290.7 248.3h1.2v1.2h-1.2zM294.4 248.2h1.2v1.2h-1.2zM288.5 247.1h1.2v1.2h-1.2zM289.5 253.9h1.2v1.2h-1.2zM288.1 250.0h1.2v1.2h-1.2zM292.9 253.1h1.2v1.2h-1.2zM287.5 249.3h1.2v1.2h-1.2zM287.2 250.3h1.2v1.2h-1.2zM286.5 249.5h1.2v1.2h-1.2zM286.4 251.6h1.2v1.2h-1.2zM291.7 252.7h1.2v1.2h-1.2zM297.7 250.8h1.2v1.2h-1.2zM287.6 247.9h1.2v1.2h-1.2zM293.1 247.5h1.2v1.2h-1.2zM291.1 255.4h1.2v1.2h-1.2zM287.3 249.2h1.2v1.2h-1.2zM289.6 249.1h1.2v1.2h-1.2zM289.8 254.8h1.2v1.2h-1.2zM288.5 253.6h1.2v1.2h-1.2zM295.9 251.8h1.2v1.2h-1.2zM285.0 248.8h1.2v1.2h-1.2zM291.5 257.7h1.2v1.2h-1.2zM291.4 251.3h1.2v1.2h-1.2zM288.8 251.8h1.2v1.2h-1.2zM290.8 249.5h1.2v1.2h-1.2zM292.9 245.5h1.2v1.2h-1.2zM290.8 245.8h1.2v1.2h-1.2zM291.6 251.4h1.2v1.2h-1.2zM292.4 251.3h1.2v1.2h-1.2zM284.7 249.3h1.2v1.2h-1.2zM294.6 246.3h1.2v1.2h-1.2zM296.9 245.4h1.2v1.2h-1.2zM293.2 249.0h1.2v1.2h-1.2zM293.3 245.4h1.2v1.2h-1.2zM286.4 253.0h1.2v1.2h-1.2zM290.1 253.8h1.2v1.2h-1.2zM288.1 259.2h1.2v1.2h-1.2zM288.8 252.9h1.2v1.2h-1.2zM293.1 248.1h1.2v1.2h-1.2zM288.1 247.2h1.2v1.2h-1.2zM290.0 238.9h1.2v1.2h-1.2zM285.0 248.1h1.2v1.2h-1.2zM290.0 249.5h1.2v1.2h-1.2zM290.7 253.2h1.2v1.2h-1.2zM288.4 252.0h1.2v1.2h-1.2zM288.4 252.0h1.2v1.2h-1.2zM295.7 250.7h1.2v1.2h-1.2zM287.0 252.2h1.2v1.2h-1.2zM287.5 254.7h1.2v1.2h-1.2zM288.1 246.6h1.2v1.2h-1.2zM293.8 248.6h1.2v1.2h-1.2zM296.4 245.6h1.2v1.2h-1.2zM291.4 255.3h1.2v1.2h-1.2zM288.4 254.2h1.2v1.2h-1.2zM289.2 252.5h1.2v1.2h-1.2zM293.4 246.2h1.2v1.2h-1.2zM287.8 250.6h1.2v1.2h-1.2zM294.5 249.3h1.2v1.2h-1.2zM294.4 250.3h1.2v1.2h-1.2zM290.6 249.5h1.2v1.2h-1.2zM292.2 251.7h1.2v1.2h-1.2zM292.5 248.8h1.2v1.2h-1.2zM294.8 252.8h1.2v1.2h-1.2zM287.4 250.8h1.2v1.2h-1.2zM293.8 249.1h1.2v1.2h-1.2zM289.4 249.7h1.2v1.2h-1.2zM288.2 248.6h1.2v1.2h-1.2zM290.7 252.7h1.2v1.2h-1.2zM289.8 249.2h1.2v1.2h-1.2zM287.6 251.0h1.2v1.2h-1.2zM285.9 248.8h1.2v1.2h-1.2zM287.8 245.3h1.2v1.2h-1.2zM294.5 253.0h1.2v1.2h-1.2zM296.0 246.6h1.2v1.2h-1.2zM292.3 252.3h1.2v1.2h-1.2zM293.8 251.4h1.2v1.2h-1.2zM289.0 244.7h1.2v1.2h-1.2zM290.2 247.0h1.2v1.2h-1.2zM291.2 248.4h1.2v1.2h-1.2zM287.4 247.4h1.2v1.2h-1.2zM287.6 246.2h1.2v1.2h-1.2zM290.7 252.4h1.2v1.2h-1.2zM289.5 249.3h1.2v1.2h-1.2zM287.4 251.3h1.2v1.2h-1.2zM291.5 248.7h1.2v1.2h-1.2zM289.7 251.0h1.2v1.2h-1.2zM293.3 247.6h1.2v1.2h-1.2zM290.4 250.0h1.2v1.2h-1.2zM289.6 251.9h1.2v1.2h-1.2zM290.8 250.2h1.2v1.2h-1.2zM289.9 248.6h1.2v1.2h-1.2zM288.5 246.6h1.2v1.2h-1.2zM289.3 250.6h1.2v1.2h-1.2zM292.5 251.2h1.2v1.2h-1.2zM292.2 249.2h1.2v1.2h-1.2zM294.0 247.6h1.2v1.2h-1.2zM285.6 251.8h1.2v1.2h-1.2zM289.3 258.1h1.2v1.2h-1.2zM289.2 249.1h1.2v1.2h-1.2zM290.9 251.1h1.2v1.2h-1.2zM289.1 251.3h1.2v1.2h-1.2zM289.0 241.8h1.2v1.2h-1.2zM292.6 250.5h1.2v1.2h-1.2zM290.9 247.8h1.2v1.2h-1.2zM287.1 254.5h1.2v1.2h-1.2zM294.2 249.2h1.2v1.2h-1.2zM293.2 247.6h1.2v1.2h-1.2zM288.8 249.4h1.2v1.2h-1.2zM292.8 250.6h1.2v1.2h-1.2zM288.3 248.3h1.2v1.2h-1.2zM293.6 249.9h1.2v1.2h-1.2zM289.8 245.7h1.2v1.2h-1.2zM288.2 249.3h1.2v1.2h-1.2zM289.4 252.6h1.2v1.2h-1.2zM288.3 256.4h1.2v1.2h-1.2zM291.0 252.3h1.2v1.2h-1.2zM291.6 242.6h1.2v1.2h-1.2zM295.8 244.7h1.2v1.2h-1.2zM295.0 253.0h1.2v1.2h-1.2zM297.9 249.7h1.2v1.2h-1.2zM295.3 252.0h1.2v1.2h-1.2zM289.9 240.3h1.2v1.2h-1.2zM291.6 246.0h1.2v1.2h-1.2zM291.2 247.2h1.2v1.2h-1.2zM291.8 250.2h1.2v1.2h-1.2zM291.3 247.0h1.2v1.2h-1.2zM286.9 254.9h1.2v1.2h-1.2zM280.9 249.8h1.2v1.2h-1.2zM287.4 250.1h1.2v1.2h-1.2zM281.3 250.1h1.2v1.2h-1.2zM290.7 253.7h1.2v1.2h-1.2zM290.4 247.6h1.2v1.2h-1.2zM282.8 255.9h1.2v1.2h-1.2zM293.5 252.4h1.2v1.2h-1.2zM294.3 250.9h1.2v1.2h-1.2zM290.9 250.3h1.2v1.2h-1.2zM298.0 252.7h1.2v1.2h-1.2zM298.9 255.3h1.2v1.2h-1.2zM285.0 254.9h1.2v1.2h-1.2zM295.1 252.0h1.2v1.2h-1.2zM292.4 254.6h1.2v1.2h-1.2zM292.3 250.7h1.2v1.2h-1.2zM294.6 256.5h1.2v1.2h-1.2zM287.2 249.9h1.2v1.2h-1.2zM287.7 239.3h1.2v1.2h-1.2zM286.7 257.0h1.2v1.2h-1.2zM287.0 250.6h1.2v1.2h-1.2zM290.0 244.0h1.2v1.2h-1.2z"/>
<path fill="#e64423" d="M288.2 206.3h1.2v1.2h-1.2zM289.0 204.6h1.2v1.2h-1.2zM287.5 205.7h1.2v1.2h-1.2zM285.9 201.1h1.2v1.2h-1.2zM287.1 203.3h1.2v1.2h-1.2zM285.7 206.9h1.2v1.2h-1.2zM288.4 200.8h1.2v1.2h-1.2zM287.0 201.8h1.2v1.2h-1.2zM286.6 207.9h1.2v1.2h-1.2zM289.5 204.0h1.2v1.2h-1.2zM289.2 208.0h1.2v1.2h-1.2zM288.5 206.4h1.2v1.2h-1.2zM285.8 202.3h1.2v1.2h-1.2zM288.2 209.1h1.2v1.2h-1.2zM284.8 205.9h1.2v1.2h-1.2zM287.1 205.4h1.2v1.2h-1.2zM283.4 205.6h1.2v1.2h-1.2zM284.9 203.6h1.2v1.2h-1.2zM283.5 208.7h1.2v1.2h-1.2zM287.6 204.7h1.2v1.2h-1.2zM285.0 205.9h1.2v1.2h-1.2zM288.9 204.1h1.2v1.2h-1.2zM288.6 204.5h1.2v1.2h-1.2zM287.8 202.9h1.2v1.2h-1.2zM281.8 209.1h1.2v1.2h-1.2zM286.9 205.7h1.2v1.2h-1.2zM288.1 208.4h1.2v1.2h-1.2zM288.5 206.1h1.2v1.2h-1.2zM284.3 204.3h1.2v1.2h-1.2zM287.0 205.2h1.2v1.2h-1.2zM285.7 204.7h1.2v1.2h-1.2zM286.2 206.1h1.2v1.2h-1.2zM286.2 205.3h1.2v1.2h-1.2zM288.2 202.7h1.2v1.2h-1.2zM286.7 210.1h1.2v1.2h-1.2zM287.9 204.4h1.2v1.2h-1.2zM288.5 203.5h1.2v1.2h-1.2zM288.4 206.9h1.2v1.2h-1.2zM285.1 209.5h1.2v1.2h-1.2zM288.4 202.5h1.2v1.2h-1.2zM284.3 204.5h1.2v1.2h-1.2zM288.5 207.8h1.2v1.2h-1.2zM286.6 206.0h1.2v1.2h-1.2zM285.2 207.2h1.2v1.2h-1.2zM288.4 204.7h1.2v1.2h-1.2zM287.8 203.3h1.2v1.2h-1.2zM288.1 209.3h1.2v1.2h-1.2zM286.5 206.0h1.2v1.2h-1.2zM288.8 205.0h1.2v1.2h-1.2zM287.0 204.8h1.2v1.2h-1.2zM288.6 207.6h1.2v1.2h-1.2zM285.2 205.3h1.2v1.2h-1.2zM286.7 205.7h1.2v1.2h-1.2zM287.7 206.1h1.2v1.2h-1.2zM284.8 207.0h1.2v1.2h-1.2zM286.2 204.7h1.2v1.2h-1.2zM283.1 208.4h1.2v1.2h-1.2zM287.0 208.4h1.2v1.2h-1.2zM288.0 205.7h1.2v1.2h-1.2zM287.4 208.1h1.2v1.2h-1.2zM287.3 208.3h1.2v1.2h-1.2zM287.6 204.9h1.2v1.2h-1.2zM287.1 203.0h1.2v1.2h-1.2zM287.5 208.2h1.2v1.2h-1.2zM289.1 207.3h1.2v1.2h-1.2zM287.9 208.2h1.2v1.2h-1.2zM287.7 210.6h1.2v1.2h-1.2zM285.4 209.7h1.2v1.2h-1.2zM288.2 203.2h1.2v1.2h-1.2zM287.1 201.9h1.2v1.2h-1.2zM288.2 206.0h1.2v1.2h-1.2zM287.4 202.0h1.2v1.2h-1.2zM288.2 206.7h1.2v1.2h-1.2zM284.9 205.4h1.2v1.2h-1.2zM289.1 206.1h1.2v1.2h-1.2zM283.9 203.9h1.2v1.2h-1.2zM283.0 202.3h1.2v1.2h-1.2zM287.5 205.6h1.2v1.2h-1.2zM285.9 203.7h1.2v1.2h-1.2zM288.7 202.0h1.2v1.2h-1.2zM286.1 205.9h1.2v1.2h-1.2zM286.6 207.0h1.2v1.2h-1.2zM288.8 203.6h1.2v1.2h-1.2zM289.5 204.4h1.2v1.2h-1.2zM287.8 203.6h1.2v1.2h-1.2zM287.7 203.9h1.2v1.2h-1.2zM285.6 206.9h1.2v1.2h-1.2zM288.0 206.9h1.2v1.2h-1.2zM288.3 211.0h1.2v1.2h-1.2zM285.5 202.6h1.2v1.2h-1.2zM288.9 208.2h1.2v1.2h-1.2zM286.0 205.8h1.2v1.2h-1.2zM288.7 202.5h1.2v1.2h-1.2zM286.3 206.0h1.2v1.2h-1.2zM287.9 212.8h1.2v1.2h-1.2zM288.6 211.8h1.2v1.2h-1.2zM287.0 204.2h1.2v1.2h-1.2zM288.1 207.5h1.2v1.2h-1.2zM279.2 195.8h1.2v1.2h-1.2zM285.4 207.0h1.2v1.2h-1.2zM280.1 205.8h1.2v1.2h-1.2zM274.9 206.4h1.2v1.2h-1.2zM286.1 201.8h1.2v1.2h-1.2zM288.4 205.3h1.2v1.2h-1.2zM283.4 210.7h1.2v1.2h-1.2zM284.4 207.4h1.2v1.2h-1.2zM288.9 212.0h1.2v1.2h-1.2zM288.4 203.9h1.2v1.2h-1.2zM288.0 204.5h1.2v1.2h-1.2zM288.4 198.9h1.2v1.2h-1.2zM289.1 209.6h1.2v1.2h-1.2zM284.0 208.7h1.2v1.2h-1.2zM285.4 206.9h1.2v1.2h-1.2zM283.0 205.2h1.2v1.2h-1.2zM287.7 206.3h1.2v1.2h-1.2zM324.9 203.1h1.2v1.2h-1.2zM329.1 202.8h1.2v1.2h-1.2zM328.7 206.8h1.2v1.2h-1.2zM323.9 205.0h1.2v1.2h-1.2zM323.5 205.4h1.2v1.2h-1.2zM320.6 202.4h1.2v1.2h-1.2zM322.2 208.7h1.2v1.2h-1.2zM325.4 208.1h1.2v1.2h-1.2zM325.3 205.2h1.2v1.2h-1.2zM324.5 205.5h1.2v1.2h-1.2zM327.0 198.5h1.2v1.2h-1.2zM322.0 205.4h1.2v1.2h-1.2zM324.0 203.2h1.2v1.2h-1.2zM326.2 204.8h1.2v1.2h-1.2zM325.8 205.5h1.2v1.2h-1.2zM327.2 202.8h1.2v1.2h-1.2zM325.3 199.4h1.2v1.2h-1.2zM323.3 204.7h1.2v1.2h-1.2zM325.2 201.8h1.2v1.2h-1.2zM321.3 202.9h1.2v1.2h-1.2zM319.5 202.2h1.2v1.2h-1.2zM325.8 202.8h1.2v1.2h-1.2zM324.0 197.8h1.2v1.2h-1.2zM325.0 206.9h1.2v1.2h-1.2zM319.4 204.4h1.2v1.2h-1.2zM323.1 206.6h1.2v1.2h-1.2zM322.5 208.8h1.2v1.2h-1.2zM321.7 203.8h1.2v1.2h-1.2zM317.8 199.1h1.2v1.2h-1.2zM323.2 201.4h1.2v1.2h-1.2zM326.7 200.6h1.2v1.2h-1.2zM325.2 202.4h1.2v1.2h-1.2zM322.5 203.9h1.2v1.2h-1.2zM324.1 198.5h1.2v1.2h-1.2zM326.3 204.6h1.2v1.2h-1.2zM316.4 199.8h1.2v1.2h-1.2zM323.8 204.5h1.2v1.2h-1.2zM325.7 203.4h1.2v1.2h-1.2zM326.1 202.9h1.2v1.2h-1.2zM329.0 203.5h1.2v1.2h-1.2zM327.4 202.3h1.2v1.2h-1.2zM325.1 202.1h1.2v1.2h-1.2zM325.0 199.4h1.2v1.2h-1.2zM326.4 203.6h1.2v1.2h-1.2zM322.6 208.5h1.2v1.2h-1.2zM324.1 208.8h1.2v1.2h-1.2zM326.7 207.1h1.2v1.2h-1.2zM329.7 205.5h1.2v1.2h-1.2zM323.7 202.0h1.2v1.2h-1.2zM324.0 207.4h1.2v1.2h-1.2zM324.7 203.6h1.2v1.2h-1.2zM328.0 203.5h1.2v1.2h-1.2zM324.1 203.0h1.2v1.2h-1.2zM328.3 204.0h1.2v1.2h-1.2zM321.4 202.6h1.2v1.2h-1.2zM323.6 203.5h1.2v1.2h-1.2zM323.6 200.9h1.2v1.2h-1.2zM326.4 202.8h1.2v1.2h-1.2zM327.1 209.6h1.2v1.2h-1.2zM319.9 203.5h1.2v1.2h-1.2zM321.6 203.1h1.2v1.2h-1.2zM325.1 205.1h1.2v1.2h-1.2zM322.3 205.5h1.2v1.2h-1.2zM319.9 200.8h1.2v1.2h-1.2zM327.1 203.2h1.2v1.2h-1.2zM325.6 206.1h1.2v1.2h-1.2zM325.6 204.4h1.2v1.2h-1.2zM322.8 204.0h1.2v1.2h-1.2zM327.1 207.7h1.2v1.2h-1.2zM323.5 202.0h1.2v1.2h-1.2zM327.3 203.9h1.2v1.2h-1.2zM321.6 202.4h1.2v1.2h-1.2zM321.8 207.6h1.2v1.2h-1.2zM324.7 198.7h1.2v1.2h-1.2zM322.2 202.0h1.2v1.2h-1.2zM326.1 202.4h1.2v1.2h-1.2zM324.9 205.4h1.2v1.2h-1.2zM321.6 205.3h1.2v1.2h-1.2zM324.4 207.3h1.2v1.2h-1.2zM323.2 199.7h1.2v1.2h-1.2zM326.8 205.7h1.2v1.2h-1.2zM322.4 203.0h1.2v1.2h-1.2zM322.9 202.0h1.2v1.2h-1.2zM327.6 205.1h1.2v1.2h-1.2zM330.5 201.3h1.2v1.2h-1.2zM329.8 198.4h1.2v1.2h-1.2zM324.4 202.8h1.2v1.2h-1.2zM324.8 199.8h1.2v1.2h-1.2zM328.5 202.0h1.2v1.2h-1.2zM323.8 204.7h1.2v1.2h-1.2zM321.4 204.5h1.2v1.2h-1.2zM324.5 207.8h1.2v1.2h-1.2zM325.4 203.2h1.2v1.2h-1.2zM321.8 199.8h1.2v1.2h-1.2zM319.5 201.8h1.2v1.2h-1.2zM320.1 201.3h1.2v1.2h-1.2zM326.1 200.6h1.2v1.2h-1.2zM322.0 204.8h1.2v1.2h-1.2zM323.8 202.1h1.2v1.2h-1.2zM324.8 198.6h1.2v1.2h-1.2zM325.9 205.5h1.2v1.2h-1.2zM323.2 203.4h1.2v1.2h-1.2zM325.6 204.6h1.2v1.2h-1.2zM321.7 204.0h1.2v1.2h-1.2zM323.2 205.3h1.2v1.2h-1.2zM321.3 203.8h1.2v1.2h-1.2zM327.4 206.9h1.2v1.2h-1.2zM324.1 204.8h1.2v1.2h-1.2zM322.1 204.7h1.2v1.2h-1.2zM323.2 204.8h1.2v1.2h-1.2zM323.5 200.0h1.2v1.2h-1.2zM326.1 203.3h1.2v1.2h-1.2zM319.7 203.0h1.2v1.2h-1.2zM321.2 204.3h1.2v1.2h-1.2zM323.1 200.2h1.2v1.2h-1.2zM331.3 207.9h1.2v1.2h-1.2zM326.9 204.0h1.2v1.2h-1.2zM323.9 200.6h1.2v1.2h-1.2zM326.2 199.3h1.2v1.2h-1.2zM330.0 203.0h1.2v1.2h-1.2zM323.8 206.3h1.2v1.2h-1.2zM320.9 201.3h1.2v1.2h-1.2zM324.6 198.9h1.2v1.2h-1.2zM321.3 200.4h1.2v1.2h-1.2zM326.7 209.7h1.2v1.2h-1.2zM320.9 204.6h1.2v1.2h-1.2zM324.0 208.5h1.2v1.2h-1.2zM328.6 201.7h1.2v1.2h-1.2zM335.8 207.6h1.2v1.2h-1.2zM319.6 201.2h1.2v1.2h-1.2zM322.1 203.1h1.2v1.2h-1.2zM320.4 214.0h1.2v1.2h-1.2zM327.7 206.9h1.2v1.2h-1.2zM319.0 201.6h1.2v1.2h-1.2zM322.0 203.4h1.2v1.2h-1.2zM324.0 205.1h1.2v1.2h-1.2zM319.8 208.7h1.2v1.2h-1.2zM319.8 201.7h1.2v1.2h-1.2zM322.0 196.5h1.2v1.2h-1.2zM314.7 202.6h1.2v1.2h-1.2zM317.6 203.8h1.2v1.2h-1.2zM322.3 204.2h1.2v1.2h-1.2zM324.8 209.2h1.2v1.2h-1.2zM323.3 205.0h1.2v1.2h-1.2zM316.2 207.1h1.2v1.2h-1.2zM322.1 199.2h1.2v1.2h-1.2zM327.8 207.3h1.2v1.2h-1.2zM326.7 212.4h1.2v1.2h-1.2zM323.8 206.9h1.2v1.2h-1.2zM320.2 204.8h1.2v1.2h-1.2zM323.8 218.4h1.2v1.2h-1.2zM328.4 218.5h1.2v1.2h-1.2zM320.8 216.2h1.2v1.2h-1.2zM323.1 223.1h1.2v1.2h-1.2zM324.7 218.5h1.2v1.2h-1.2zM325.5 222.4h1.2v1.2h-1.2zM322.2 220.1h1.2v1.2h-1.2zM324.3 215.5h1.2v1.2h-1.2zM322.6 216.3h1.2v1.2h-1.2zM323.7 218.6h1.2v1.2h-1.2zM323.0 217.6h1.2v1.2h-1.2zM320.2 217.5h1.2v1.2h-1.2zM323.3 216.6h1.2v1.2h-1.2zM325.9 212.3h1.2v1.2h-1.2zM320.7 216.8h1.2v1.2h-1.2zM322.7 211.1h1.2v1.2h-1.2zM325.3 218.5h1.2v1.2h-1.2zM320.4 215.3h1.2v1.2h-1.2zM323.9 215.4h1.2v1.2h-1.2zM320.4 216.8h1.2v1.2h-1.2zM326.6 218.2h1.2v1.2h-1.2zM329.9 213.3h1.2v1.2h-1.2zM329.1 212.4h1.2v1.2h-1.2zM322.8 214.4h1.2v1.2h-1.2zM325.5 211.6h1.2v1.2h-1.2zM323.7 214.7h1.2v1.2h-1.2zM323.7 221.9h1.2v1.2h-1.2zM327.8 214.4h1.2v1.2h-1.2zM319.7 219.2h1.2v1.2h-1.2zM326.4 213.5h1.2v1.2h-1.2zM323.3 218.2h1.2v1.2h-1.2zM327.4 216.5h1.2v1.2h-1.2zM323.9 217.2h1.2v1.2h-1.2zM321.5 219.0h1.2v1.2h-1.2zM324.2 222.4h1.2v1.2h-1.2zM325.5 218.0h1.2v1.2h-1.2zM323.5 217.8h1.2v1.2h-1.2zM324.8 214.6h1.2v1.2h-1.2zM321.9 219.1h1.2v1.2h-1.2zM317.4 216.7h1.2v1.2h-1.2zM325.9 219.8h1.2v1.2h-1.2zM325.4 217.3h1.2v1.2h-1.2zM323.8 222.3h1.2v1.2h-1.2zM323.6 211.8h1.2v1.2h-1.2zM326.3 216.6h1.2v1.2h-1.2zM322.1 219.9h1.2v1.2h-1.2zM321.4 216.4h1.2v1.2h-1.2zM322.9 215.2h1.2v1.2h-1.2zM326.8 216.6h1.2v1.2h-1.2zM319.5 213.5h1.2v1.2h-1.2zM326.8 217.7h1.2v1.2h-1.2zM321.6 224.3h1.2v1.2h-1.2zM320.3 220.7h1.2v1.2h-1.2zM327.0 214.3h1.2v1.2h-1.2zM323.1 214.9h1.2v1.2h-1.2zM319.7 216.3h1.2v1.2h-1.2zM322.4 220.3h1.2v1.2h-1.2zM326.0 215.1h1.2v1.2h-1.2zM326.8 215.4h1.2v1.2h-1.2zM322.2 219.9h1.2v1.2h-1.2zM324.5 219.9h1.2v1.2h-1.2zM325.4 216.3h1.2v1.2h-1.2zM321.6 214.2h1.2v1.2h-1.2zM324.4 213.0h1.2v1.2h-1.2zM323.3 215.4h1.2v1.2h-1.2zM321.9 211.1h1.2v1.2h-1.2zM322.0 219.5h1.2v1.2h-1.2zM323.6 215.6h1.2v1.2h-1.2zM323.5 218.8h1.2v1.2h-1.2zM321.8 222.7h1.2v1.2h-1.2zM322.2 220.7h1.2v1.2h-1.2zM326.5 214.1h1.2v1.2h-1.2zM324.0 219.9h1.2v1.2h-1.2zM325.9 220.7h1.2v1.2h-1.2zM326.8 215.3h1.2v1.2h-1.2zM325.1 214.7h1.2v1.2h-1.2zM329.8 217.1h1.2v1.2h-1.2zM321.1 212.9h1.2v1.2h-1.2zM325.7 221.6h1.2v1.2h-1.2zM322.5 210.6h1.2v1.2h-1.2zM328.6 214.3h1.2v1.2h-1.2zM328.2 216.6h1.2v1.2h-1.2zM317.9 216.8h1.2v1.2h-1.2zM320.7 217.9h1.2v1.2h-1.2zM325.3 218.2h1.2v1.2h-1.2zM325.6 216.8h1.2v1.2h-1.2zM325.5 220.6h1.2v1.2h-1.2zM323.2 211.3h1.2v1.2h-1.2zM324.7 217.4h1.2v1.2h-1.2zM325.2 215.4h1.2v1.2h-1.2zM323.2 217.8h1.2v1.2h-1.2zM326.3 218.0h1.2v1.2h-1.2zM317.0 214.8h1.2v1.2h-1.2zM325.2 215.6h1.2v1.2h-1.2zM320.5 219.7h1.2v1.2h-1.2zM326.1 218.4h1.2v1.2h-1.2zM322.8 215.5h1.2v1.2h-1.2zM320.9 223.2h1.2v1.2h-1.2zM324.5 224.0h1.2v1.2h-1.2zM320.8 213.2h1.2v1.2h-1.2zM320.8 218.3h1.2v1.2h-1.2zM319.0 224.5h1.2v1.2h-1.2zM323.3 219.6h1.2v1.2h-1.2zM324.8 218.0h1.2v1.2h-1.2zM326.3 216.8h1.2v1.2h-1.2zM323.0 215.9h1.2v1.2h-1.2zM326.4 216.8h1.2v1.2h-1.2zM323.5 215.8h1.2v1.2h-1.2zM323.1 219.5h1.2v1.2h-1.2zM325.0 216.3h1.2v1.2h-1.2zM326.4 216.1h1.2v1.2h-1.2zM322.4 214.0h1.2v1.2h-1.2zM322.7 217.3h1.2v1.2h-1.2zM322.9 214.9h1.2v1.2h-1.2zM323.6 216.9h1.2v1.2h-1.2zM320.9 220.4h1.2v1.2h-1.2zM326.3 218.4h1.2v1.2h-1.2zM322.3 218.8h1.2v1.2h-1.2zM324.7 218.4h1.2v1.2h-1.2zM321.1 217.6h1.2v1.2h-1.2zM322.8 214.6h1.2v1.2h-1.2zM322.0 212.6h1.2v1.2h-1.2zM326.8 217.6h1.2v1.2h-1.2zM318.5 213.1h1.2v1.2h-1.2zM329.5 217.1h1.2v1.2h-1.2zM323.6 217.8h1.2v1.2h-1.2zM320.0 228.0h1.2v1.2h-1.2zM321.2 213.5h1.2v1.2h-1.2zM320.3 216.8h1.2v1.2h-1.2zM324.1 216.7h1.2v1.2h-1.2zM320.2 219.4h1.2v1.2h-1.2zM328.6 222.2h1.2v1.2h-1.2zM319.9 215.2h1.2v1.2h-1.2zM313.1 213.7h1.2v1.2h-1.2zM320.1 209.9h1.2v1.2h-1.2zM314.3 213.2h1.2v1.2h-1.2zM323.2 219.8h1.2v1.2h-1.2zM328.2 217.6h1.2v1.2h-1.2zM326.3 212.8h1.2v1.2h-1.2zM317.4 215.7h1.2v1.2h-1.2zM320.0 217.5h1.2v1.2h-1.2zM331.4 219.7h1.2v1.2h-1.2zM324.8 214.7h1.2v1.2h-1.2zM323.4 216.3h1.2v1.2h-1.2zM328.2 209.1h1.2v1.2h-1.2zM334.5 212.2h1.2v1.2h-1.2zM329.3 224.8h1.2v1.2h-1.2zM324.0 207.5h1.2v1.2h-1.2zM325.0 215.9h1.2v1.2h-1.2zM326.2 218.4h1.2v1.2h-1.2z"/>
<path fill="#e62915" d="M340.8 244.6h1.2v1.2h-1.2zM337.0 240.3h1.2v1.2h-1.2zM342.7 241.2h1.2v1.2h-1.2zM334.6 241.7h1.2v1.2h-1.2zM338.9 242.7h1.2v1.2h-1.2zM334.3 238.1h1.2v1.2h-1.2zM341.9 243.9h1.2v1.2h-1.2zM336.1 244.7h1.2v1.2h-1.2zM336.8 239.0h1.2v1.2h-1.2zM339.5 238.5h1.2v1.2h-1.2zM340.4 242.5h1.2v1.2h-1.2zM334.0 240.1h1.2v1.2h-1.2zM336.1 236.2h1.2v1.2h-1.2zM333.2 243.5h1.2v1.2h-1.2zM337.4 242.0h1.2v1.2h-1.2zM336.7 240.6h1.2v1.2h-1.2zM336.1 246.6h1.2v1.2h-1.2zM335.2 242.0h1.2v1.2h-1.2zM336.0 239.9h1.2v1.2h-1.2zM335.0 241.9h1.2v1.2h-1.2zM338.4 239.3h1.2v1.2h-1.2zM341.1 239.9h1.2v1.2h-1.2zM331.8 242.6h1.2v1.2h-1.2zM336.7 240.4h1.2v1.2h-1.2zM335.9 240.6h1.2v1.2h-1.2zM338.3 245.5h1.2v1.2h-1.2zM334.4 243.7h1.2v1.2h-1.2zM336.6 243.5h1.2v1.2h-1.2zM334.2 242.9h1.2v1.2h-1.2zM338.9 242.8h1.2v1.2h-1.2zM337.3 245.1h1.2v1.2h-1.2zM336.6 241.6h1.2v1.2h-1.2zM338.0 246.0h1.2v1.2h-1.2zM336.3 239.5h1.2v1.2h-1.2zM332.8 241.1h1.2v1.2h-1.2zM338.6 238.5h1.2v1.2h-1.2zM337.8 240.9h1.2v1.2h-1.2zM336.6 242.9h1.2v1.2h-1.2zM339.7 245.0h1.2v1.2h-1.2zM340.3 240.1h1.2v1.2h-1.2zM334.1 241.7h1.2v1.2h-1.2zM334.9 240.8h1.2v1.2h-1.2zM341.2 240.0h1.2v1.2h-1.2zM340.8 238.9h1.2v1.2h-1.2zM335.0 241.8h1.2v1.2h-1.2zM333.8 237.6h1.2v1.2h-1.2zM335.3 241.9h1.2v1.2h-1.2zM335.7 241.7h1.2v1.2h-1.2zM332.7 240.1h1.2v1.2h-1.2zM337.1 239.3h1.2v1.2h-1.2zM333.6 238.5h1.2v1.2h-1.2zM333.7 246.0h1.2v1.2h-1.2zM339.5 238.6h1.2v1.2h-1.2zM335.2 245.3h1.2v1.2h-1.2zM336.8 243.1h1.2v1.2h-1.2zM338.7 240.8h1.2v1.2h-1.2zM339.2 239.0h1.2v1.2h-1.2zM336.1 244.1h1.2v1.2h-1.2zM337.1 245.7h1.2v1.2h-1.2zM334.8 239.5h1.2v1.2h-1.2zM341.7 241.0h1.2v1.2h-1.2zM338.8 244.1h1.2v1.2h-1.2zM334.0 242.4h1.2v1.2h-1.2zM337.0 246.3h1.2v1.2h-1.2zM338.9 240.3h1.2v1.2h-1.2zM338.3 242.9h1.2v1.2h-1.2zM341.9 238.8h1.2v1.2h-1.2zM340.7 246.5h1.2v1.2h-1.2zM335.6 240.0h1.2v1.2h-1.2zM336.8 236.5h1.2v1.2h-1.2zM333.6 241.4h1.2v1.2h-1.2zM337.7 241.3h1.2v1.2h-1.2zM337.4 246.1h1.2v1.2h-1.2zM344.3 240.9h1.2v1.2h-1.2zM337.3 241.6h1.2v1.2h-1.2zM331.4 243.0h1.2v1.2h-1.2zM335.2 245.4h1.2v1.2h-1.2zM337.3 241.5h1.2v1.2h-1.2zM333.6 244.1h1.2v1.2h-1.2zM334.7 242.9h1.2v1.2h-1.2zM336.0 241.0h1.2v1.2h-1.2zM337.9 241.8h1.2v1.2h-1.2zM336.6 241.7h1.2v1.2h-1.2zM334.6 239.5h1.2v1.2h-1.2zM339.1 244.5h1.2v1.2h-1.2zM335.6 238.4h1.2v1.2h-1.2zM335.7 244.4h1.2v1.2h-1.2zM333.3 243.9h1.2v1.2h-1.2zM334.9 241.5h1.2v1.2h-1.2zM338.8 239.9h1.2v1.2h-1.2zM332.6 241.1h1.2v1.2h-1.2zM336.8 242.8h1.2v1.2h-1.2zM338.9 243.4h1.2v1.2h-1.2zM336.0 242.3h1.2v1.2h-1.2zM337.7 244.0h1.2v1.2h-1.2zM334.0 240.4h1.2v1.2h-1.2zM340.5 242.2h1.2v1.2h-1.2zM340.0 238.0h1.2v1.2h-1.2zM337.6 243.4h1.2v1.2h-1.2zM332.3 242.0h1.2v1.2h-1.2zM334.2 240.7h1.2v1.2h-1.2zM339.6 244.4h1.2v1.2h-1.2zM341.6 243.3h1.2v1.2h-1.2zM337.8 235.1h1.2v1.2h-1.2zM337.2 247.3h1.2v1.2h-1.2zM330.7 243.5h1.2v1.2h-1.2zM341.6 244.9h1.2v1.2h-1.2zM347.7 243.8h1.2v1.2h-1.2zM334.8 248.3h1.2v1.2h-1.2zM337.3 234.6h1.2v1.2h-1.2zM335.9 246.4h1.2v1.2h-1.2zM338.5 240.7h1.2v1.2h-1.2zM339.8 240.6h1.2v1.2h-1.2zM342.6 238.1h1.2v1.2h-1.2zM332.7 234.7h1.2v1.2h-1.2zM343.8 240.2h1.2v1.2h-1.2zM333.0 239.1h1.2v1.2h-1.2zM338.2 243.5h1.2v1.2h-1.2zM342.0 236.2h1.2v1.2h-1.2zM340.1 247.0h1.2v1.2h-1.2zM333.0 242.7h1.2v1.2h-1.2zM334.0 240.7h1.2v1.2h-1.2zM335.0 239.0h1.2v1.2h-1.2zM336.8 238.7h1.2v1.2h-1.2zM342.0 237.5h1.2v1.2h-1.2zM331.4 239.6h1.2v1.2h-1.2zM339.0 241.7h1.2v1.2h-1.2zM339.6 241.0h1.2v1.2h-1.2zM339.4 236.4h1.2v1.2h-1.2zM339.0 240.7h1.2v1.2h-1.2z"/>
<path fill="#e62111" d="M291.7 208.1h1.2v1.2h-1.2zM290.0 209.6h1.2v1.2h-1.2zM291.0 205.1h1.2v1.2h-1.2zM290.5 204.1h1.2v1.2h-1.2zM291.7 205.5h1.2v1.2h-1.2zM290.4 201.7h1.2v1.2h-1.2zM293.4 206.2h1.2v1.2h-1.2zM290.2 204.2h1.2v1.2h-1.2zM289.7 205.7h1.2v1.2h-1.2zM290.0 203.1h1.2v1.2h-1.2zM289.9 204.8h1.2v1.2h-1.2zM291.9 206.8h1.2v1.2h-1.2zM290.5 208.9h1.2v1.2h-1.2zM291.2 207.7h1.2v1.2h-1.2zM289.9 202.7h1.2v1.2h-1.2zM291.5 207.4h1.2v1.2h-1.2zM290.0 208.0h1.2v1.2h-1.2zM292.1 209.8h1.2v1.2h-1.2zM291.2 208.0h1.2v1.2h-1.2zM289.9 203.6h1.2v1.2h-1.2zM290.0 208.1h1.2v1.2h-1.2zM290.9 200.9h1.2v1.2h-1.2zM289.7 206.1h1.2v1.2h-1.2zM294.0 207.3h1.2v1.2h-1.2zM290.0 206.5h1.2v1.2h-1.2zM289.6 204.1h1.2v1.2h-1.2zM290.7 206.0h1.2v1.2h-1.2zM291.3 200.8h1.2v1.2h-1.2zM293.0 209.1h1.2v1.2h-1.2zM293.7 205.0h1.2v1.2h-1.2zM292.9 206.0h1.2v1.2h-1.2zM291.5 212.2h1.2v1.2h-1.2zM290.5 209.8h1.2v1.2h-1.2zM290.3 206.5h1.2v1.2h-1.2zM292.7 205.1h1.2v1.2h-1.2zM304.3 211.3h1.2v1.2h-1.2zM301.9 206.9h1.2v1.2h-1.2zM300.3 207.1h1.2v1.2h-1.2zM298.9 204.9h1.2v1.2h-1.2zM298.8 214.4h1.2v1.2h-1.2zM304.5 207.4h1.2v1.2h-1.2zM301.7 211.9h1.2v1.2h-1.2zM300.6 206.2h1.2v1.2h-1.2zM299.5 208.3h1.2v1.2h-1.2zM297.6 203.5h1.2v1.2h-1.2zM300.3 206.9h1.2v1.2h-1.2zM302.7 210.4h1.2v1.2h-1.2zM299.4 204.6h1.2v1.2h-1.2zM299.8 210.6h1.2v1.2h-1.2zM299.9 208.7h1.2v1.2h-1.2zM300.7 205.2h1.2v1.2h-1.2zM296.3 206.6h1.2v1.2h-1.2zM299.8 206.7h1.2v1.2h-1.2zM298.2 207.7h1.2v1.2h-1.2zM302.7 206.5h1.2v1.2h-1.2zM298.5 205.7h1.2v1.2h-1.2zM301.9 207.1h1.2v1.2h-1.2zM304.3 205.2h1.2v1.2h-1.2zM299.6 204.5h1.2v1.2h-1.2zM298.9 207.7h1.2v1.2h-1.2zM300.9 210.1h1.2v1.2h-1.2zM300.4 203.9h1.2v1.2h-1.2zM297.9 207.9h1.2v1.2h-1.2zM301.6 206.2h1.2v1.2h-1.2zM305.6 205.3h1.2v1.2h-1.2zM299.8 210.1h1.2v1.2h-1.2zM299.9 206.5h1.2v1.2h-1.2zM297.7 211.7h1.2v1.2h-1.2zM301.2 205.8h1.2v1.2h-1.2zM297.2 208.8h1.2v1.2h-1.2zM297.6 207.3h1.2v1.2h-1.2zM303.7 205.9h1.2v1.2h-1.2zM298.1 209.4h1.2v1.2h-1.2zM303.2 207.4h1.2v1.2h-1.2zM304.3 209.4h1.2v1.2h-1.2zM301.1 207.7h1.2v1.2h-1.2zM301.8 205.0h1.2v1.2h-1.2zM305.4 207.6h1.2v1.2h-1.2zM299.9 208.0h1.2v1.2h-1.2zM298.9 210.3h1.2v1.2h-1.2zM297.0 205.5h1.2v1.2h-1.2zM300.5 207.7h1.2v1.2h-1.2zM304.2 203.4h1.2v1.2h-1.2zM302.9 209.5h1.2v1.2h-1.2zM298.0 205.1h1.2v1.2h-1.2zM298.2 203.2h1.2v1.2h-1.2zM299.1 207.7h1.2v1.2h-1.2zM301.2 210.7h1.2v1.2h-1.2zM299.9 203.9h1.2v1.2h-1.2zM301.0 205.0h1.2v1.2h-1.2zM301.2 205.9h1.2v1.2h-1.2zM299.7 204.9h1.2v1.2h-1.2zM300.3 208.8h1.2v1.2h-1.2zM301.0 205.8h1.2v1.2h-1.2zM300.2 206.0h1.2v1.2h-1.2zM301.7 209.4h1.2v1.2h-1.2zM305.2 205.9h1.2v1.2h-1.2zM301.9 209.0h1.2v1.2h-1.2zM300.6 205.3h1.2v1.2h-1.2zM296.1 204.7h1.2v1.2h-1.2zM301.4 203.1h1.2v1.2h-1.2zM295.4 212.7h1.2v1.2h-1.2zM296.8 207.0h1.2v1.2h-1.2zM302.6 208.5h1.2v1.2h-1.2zM302.2 207.8h1.2v1.2h-1.2zM300.0 208.3h1.2v1.2h-1.2zM296.0 208.0h1.2v1.2h-1.2zM299.5 212.8h1.2v1.2h-1.2zM298.7 205.2h1.2v1.2h-1.2zM302.1 203.8h1.2v1.2h-1.2zM306.2 205.2h1.2v1.2h-1.2zM301.0 204.4h1.2v1.2h-1.2zM298.4 209.8h1.2v1.2h-1.2zM297.4 210.0h1.2v1.2h-1.2zM300.3 205.4h1.2v1.2h-1.2zM300.0 204.3h1.2v1.2h-1.2zM297.5 206.9h1.2v1.2h-1.2zM300.7 211.4h1.2v1.2h-1.2zM297.5 200.6h1.2v1.2h-1.2zM303.3 209.2h1.2v1.2h-1.2zM303.2 205.1h1.2v1.2h-1.2zM303.2 210.5h1.2v1.2h-1.2zM299.2 205.1h1.2v1.2h-1.2zM301.7 207.1h1.2v1.2h-1.2zM300.1 204.0h1.2v1.2h-1.2zM299.4 205.3h1.2v1.2h-1.2zM299.6 211.4h1.2v1.2h-1.2zM297.1 210.0h1.2v1.2h-1.2zM296.7 206.8h1.2v1.2h-1.2zM302.5 205.6h1.2v1.2h-1.2zM299.9 203.0h1.2v1.2h-1.2zM301.0 206.8h1.2v1.2h-1.2zM303.0 207.8h1.2v1.2h-1.2zM296.0 207.6h1.2v1.2h-1.2zM298.4 207.6h1.2v1.2h-1.2zM300.9 205.0h1.2v1.2h-1.2zM301.4 207.7h1.2v1.2h-1.2zM299.5 207.7h1.2v1.2h-1.2zM303.1 211.2h1.2v1.2h-1.2zM301.0 212.7h1.2v1.2h-1.2zM297.3 207.5h1.2v1.2h-1.2zM298.0 205.9h1.2v1.2h-1.2zM302.5 207.7h1.2v1.2h-1.2zM301.6 206.3h1.2v1.2h-1.2zM295.6 205.9h1.2v1.2h-1.2zM303.9 207.7h1.2v1.2h-1.2zM302.0 205.2h1.2v1.2h-1.2zM302.9 207.3h1.2v1.2h-1.2zM300.0 206.0h1.2v1.2h-1.2zM301.5 210.1h1.2v1.2h-1.2zM299.7 201.0h1.2v1.2h-1.2zM297.4 209.7h1.2v1.2h-1.2zM296.5 208.9h1.2v1.2h-1.2zM299.5 209.0h1.2v1.2h-1.2zM298.2 209.4h1.2v1.2h-1.2zM301.4 205.1h1.2v1.2h-1.2zM300.4 206.8h1.2v1.2h-1.2zM294.8 210.5h1.2v1.2h-1.2zM300.7 209.6h1.2v1.2h-1.2zM294.9 208.7h1.2v1.2h-1.2zM297.9 201.6h1.2v1.2h-1.2zM299.2 210.1h1.2v1.2h-1.2zM291.9 212.7h1.2v1.2h-1.2zM300.8 212.0h1.2v1.2h-1.2zM301.0 208.8h1.2v1.2h-1.2zM299.8 201.4h1.2v1.2h-1.2zM298.7 211.7h1.2v1.2h-1.2zM298.9 207.2h1.2v1.2h-1.2zM296.4 197.4h1.2v1.2h-1.2zM299.3 209.4h1.2v1.2h-1.2zM298.2 201.7h1.2v1.2h-1.2zM300.8 202.5h1.2v1.2h-1.2zM295.5 205.2h1.2v1.2h-1.2zM301.4 213.1h1.2v1.2h-1.2zM301.0 206.3h1.2v1.2h-1.2z"/>
</g>
<rect x="283.60" y="196.00" width="66.50" height="66.20" fill="none" stroke="#2a2a2a" stroke-width="1.1"/>
<text x="263.85" y="189.00" font-size="17.54" font-weight="bold" stroke="#1c1c1c" stroke-width="0.55" textLength="13.25" lengthAdjust="spacingAndGlyphs">G</text>
<text x="316.85" y="275.00" font-size="11.08" text-anchor="middle" textLength="25.07" lengthAdjust="spacingAndGlyphs" stroke="#1c1c1c" stroke-width="0.2">i = 4</text>
<clipPath id="clipH"><rect x="402.9" y="196.0" width="66.5" height="66.20"/></clipPath><g clip-path="url(#clipH)">
<path fill="#542fe4" d="M407.2 250.6h1.2v1.2h-1.2zM410.2 250.2h1.2v1.2h-1.2zM415.0 248.3h1.2v1.2h-1.2zM411.5 238.2h1.2v1.2h-1.2zM408.8 250.4h1.2v1.2h-1.2zM405.1 243.9h1.2v1.2h-1.2zM405.7 250.8h1.2v1.2h-1.2zM405.0 253.7h1.2v1.2h-1.2zM411.8 250.9h1.2v1.2h-1.2zM407.6 248.8h1.2v1.2h-1.2zM409.9 249.5h1.2v1.2h-1.2zM408.0 249.6h1.2v1.2h-1.2zM410.0 248.3h1.2v1.2h-1.2zM413.7 248.2h1.2v1.2h-1.2zM407.8 247.1h1.2v1.2h-1.2zM408.8 253.9h1.2v1.2h-1.2zM407.4 250.0h1.2v1.2h-1.2zM412.2 253.1h1.2v1.2h-1.2zM406.8 249.3h1.2v1.2h-1.2zM406.5 250.3h1.2v1.2h-1.2zM405.8 249.5h1.2v1.2h-1.2zM405.7 251.6h1.2v1.2h-1.2zM411.0 252.7h1.2v1.2h-1.2zM417.0 250.8h1.2v1.2h-1.2zM406.9 247.9h1.2v1.2h-1.2zM412.4 247.5h1.2v1.2h-1.2zM410.4 255.4h1.2v1.2h-1.2zM406.6 249.2h1.2v1.2h-1.2zM408.9 249.1h1.2v1.2h-1.2zM409.1 254.8h1.2v1.2h-1.2zM407.8 253.6h1.2v1.2h-1.2zM415.2 251.8h1.2v1.2h-1.2zM404.3 248.8h1.2v1.2h-1.2zM410.8 257.7h1.2v1.2h-1.2zM410.7 251.3h1.2v1.2h-1.2zM408.1 251.8h1.2v1.2h-1.2zM410.1 249.5h1.2v1.2h-1.2zM412.2 245.5h1.2v1.2h-1.2zM410.1 245.8h1.2v1.2h-1.2zM410.9 251.4h1.2v1.2h-1.2zM411.7 251.3h1.2v1.2h-1.2zM404.0 249.3h1.2v1.2h-1.2zM413.9 246.3h1.2v1.2h-1.2zM416.2 245.4h1.2v1.2h-1.2zM412.5 249.0h1.2v1.2h-1.2zM412.6 245.4h1.2v1.2h-1.2zM405.7 253.0h1.2v1.2h-1.2zM409.4 253.8h1.2v1.2h-1.2zM407.4 259.2h1.2v1.2h-1.2zM408.1 252.9h1.2v1.2h-1.2zM412.4 248.1h1.2v1.2h-1.2zM407.4 247.2h1.2v1.2h-1.2zM409.3 238.9h1.2v1.2h-1.2zM404.3 248.1h1.2v1.2h-1.2zM409.3 249.5h1.2v1.2h-1.2zM410.0 253.2h1.2v1.2h-1.2zM407.7 252.0h1.2v1.2h-1.2zM407.7 252.0h1.2v1.2h-1.2zM415.0 250.7h1.2v1.2h-1.2zM406.3 252.2h1.2v1.2h-1.2zM406.8 254.7h1.2v1.2h-1.2zM407.4 246.6h1.2v1.2h-1.2zM413.1 248.6h1.2v1.2h-1.2zM415.7 245.6h1.2v1.2h-1.2zM410.7 255.3h1.2v1.2h-1.2zM407.7 254.2h1.2v1.2h-1.2zM408.5 252.5h1.2v1.2h-1.2zM412.7 246.2h1.2v1.2h-1.2zM407.1 250.6h1.2v1.2h-1.2zM413.8 249.3h1.2v1.2h-1.2zM413.7 250.3h1.2v1.2h-1.2zM409.9 249.5h1.2v1.2h-1.2zM411.5 251.7h1.2v1.2h-1.2zM411.8 248.8h1.2v1.2h-1.2zM414.1 252.8h1.2v1.2h-1.2zM406.7 250.8h1.2v1.2h-1.2zM413.1 249.1h1.2v1.2h-1.2zM408.7 249.7h1.2v1.2h-1.2zM407.5 248.6h1.2v1.2h-1.2zM410.0 252.7h1.2v1.2h-1.2zM409.1 249.2h1.2v1.2h-1.2zM406.9 251.0h1.2v1.2h-1.2zM405.2 248.8h1.2v1.2h-1.2zM407.1 245.3h1.2v1.2h-1.2zM413.8 253.0h1.2v1.2h-1.2zM415.3 246.6h1.2v1.2h-1.2zM411.6 252.3h1.2v1.2h-1.2zM413.1 251.4h1.2v1.2h-1.2zM408.3 244.7h1.2v1.2h-1.2zM409.5 247.0h1.2v1.2h-1.2zM410.5 248.4h1.2v1.2h-1.2zM406.7 247.4h1.2v1.2h-1.2zM406.9 246.2h1.2v1.2h-1.2zM410.0 252.4h1.2v1.2h-1.2zM408.8 249.3h1.2v1.2h-1.2zM406.7 251.3h1.2v1.2h-1.2zM410.8 248.7h1.2v1.2h-1.2zM409.0 251.0h1.2v1.2h-1.2zM412.6 247.6h1.2v1.2h-1.2zM409.7 250.0h1.2v1.2h-1.2zM408.9 251.9h1.2v1.2h-1.2zM410.1 250.2h1.2v1.2h-1.2zM409.2 248.6h1.2v1.2h-1.2zM407.8 246.6h1.2v1.2h-1.2zM408.6 250.6h1.2v1.2h-1.2zM411.8 251.2h1.2v1.2h-1.2zM411.5 249.2h1.2v1.2h-1.2zM413.3 247.6h1.2v1.2h-1.2zM404.9 251.8h1.2v1.2h-1.2zM408.6 258.1h1.2v1.2h-1.2zM408.5 249.1h1.2v1.2h-1.2zM410.2 251.1h1.2v1.2h-1.2zM408.4 251.3h1.2v1.2h-1.2zM408.3 241.8h1.2v1.2h-1.2zM411.9 250.5h1.2v1.2h-1.2zM410.2 247.8h1.2v1.2h-1.2zM406.4 254.5h1.2v1.2h-1.2zM413.5 249.2h1.2v1.2h-1.2zM412.5 247.6h1.2v1.2h-1.2zM408.1 249.4h1.2v1.2h-1.2zM412.1 250.6h1.2v1.2h-1.2zM407.6 248.3h1.2v1.2h-1.2zM412.9 249.9h1.2v1.2h-1.2zM409.1 245.7h1.2v1.2h-1.2zM407.5 249.3h1.2v1.2h-1.2zM408.7 252.6h1.2v1.2h-1.2zM407.6 256.4h1.2v1.2h-1.2zM410.3 252.3h1.2v1.2h-1.2zM410.9 242.6h1.2v1.2h-1.2zM415.1 244.7h1.2v1.2h-1.2zM414.3 253.0h1.2v1.2h-1.2zM417.2 249.7h1.2v1.2h-1.2zM414.6 252.0h1.2v1.2h-1.2zM409.2 240.3h1.2v1.2h-1.2zM410.9 246.0h1.2v1.2h-1.2zM410.5 247.2h1.2v1.2h-1.2zM411.1 250.2h1.2v1.2h-1.2zM410.6 247.0h1.2v1.2h-1.2zM406.2 254.9h1.2v1.2h-1.2zM400.2 249.8h1.2v1.2h-1.2zM406.7 250.1h1.2v1.2h-1.2zM400.6 250.1h1.2v1.2h-1.2zM410.0 253.7h1.2v1.2h-1.2zM409.7 247.6h1.2v1.2h-1.2zM402.1 255.9h1.2v1.2h-1.2zM412.8 252.4h1.2v1.2h-1.2zM413.6 250.9h1.2v1.2h-1.2zM410.2 250.3h1.2v1.2h-1.2zM417.3 252.7h1.2v1.2h-1.2zM418.2 255.3h1.2v1.2h-1.2zM404.3 254.9h1.2v1.2h-1.2zM414.4 252.0h1.2v1.2h-1.2zM411.7 254.6h1.2v1.2h-1.2zM411.6 250.7h1.2v1.2h-1.2zM413.9 256.5h1.2v1.2h-1.2zM406.5 249.9h1.2v1.2h-1.2zM407.0 239.3h1.2v1.2h-1.2zM406.0 257.0h1.2v1.2h-1.2zM406.3 250.6h1.2v1.2h-1.2zM409.3 244.0h1.2v1.2h-1.2z"/>
<path fill="#3f4ee2" d="M431.7 234.0h1.2v1.2h-1.2zM428.5 238.5h1.2v1.2h-1.2zM428.4 241.3h1.2v1.2h-1.2zM428.8 236.0h1.2v1.2h-1.2zM428.9 235.2h1.2v1.2h-1.2zM430.5 240.3h1.2v1.2h-1.2zM426.2 237.8h1.2v1.2h-1.2zM427.1 234.3h1.2v1.2h-1.2zM430.2 236.3h1.2v1.2h-1.2zM429.9 235.3h1.2v1.2h-1.2zM428.5 238.3h1.2v1.2h-1.2zM428.0 237.7h1.2v1.2h-1.2zM427.3 240.7h1.2v1.2h-1.2zM429.3 239.4h1.2v1.2h-1.2zM432.5 233.0h1.2v1.2h-1.2zM426.8 238.6h1.2v1.2h-1.2zM433.4 240.0h1.2v1.2h-1.2zM431.6 238.7h1.2v1.2h-1.2zM428.3 240.3h1.2v1.2h-1.2zM431.5 235.8h1.2v1.2h-1.2zM425.7 234.7h1.2v1.2h-1.2zM425.0 240.1h1.2v1.2h-1.2zM426.2 234.4h1.2v1.2h-1.2zM428.4 231.3h1.2v1.2h-1.2zM428.6 240.3h1.2v1.2h-1.2zM428.2 235.4h1.2v1.2h-1.2zM429.7 236.5h1.2v1.2h-1.2zM424.0 233.4h1.2v1.2h-1.2zM430.8 233.6h1.2v1.2h-1.2zM425.8 234.1h1.2v1.2h-1.2zM427.8 236.4h1.2v1.2h-1.2zM428.4 238.5h1.2v1.2h-1.2zM426.5 230.9h1.2v1.2h-1.2zM426.0 239.5h1.2v1.2h-1.2zM426.9 234.1h1.2v1.2h-1.2zM429.5 234.4h1.2v1.2h-1.2zM431.0 239.3h1.2v1.2h-1.2zM430.9 237.2h1.2v1.2h-1.2zM426.9 233.0h1.2v1.2h-1.2zM427.5 242.6h1.2v1.2h-1.2zM427.1 235.0h1.2v1.2h-1.2zM430.6 238.1h1.2v1.2h-1.2zM424.3 238.0h1.2v1.2h-1.2zM432.7 241.4h1.2v1.2h-1.2zM428.2 236.1h1.2v1.2h-1.2zM427.5 240.3h1.2v1.2h-1.2zM430.4 235.3h1.2v1.2h-1.2zM432.1 240.6h1.2v1.2h-1.2zM430.4 235.2h1.2v1.2h-1.2zM432.2 236.4h1.2v1.2h-1.2zM429.8 242.8h1.2v1.2h-1.2zM432.6 238.3h1.2v1.2h-1.2zM432.7 237.7h1.2v1.2h-1.2zM429.2 243.8h1.2v1.2h-1.2zM433.2 238.4h1.2v1.2h-1.2zM429.9 235.1h1.2v1.2h-1.2zM429.7 239.5h1.2v1.2h-1.2zM427.1 234.1h1.2v1.2h-1.2zM428.7 240.6h1.2v1.2h-1.2zM431.5 240.8h1.2v1.2h-1.2zM426.1 235.8h1.2v1.2h-1.2zM431.1 235.6h1.2v1.2h-1.2zM430.4 237.9h1.2v1.2h-1.2zM430.2 237.4h1.2v1.2h-1.2zM423.8 234.6h1.2v1.2h-1.2zM429.2 239.0h1.2v1.2h-1.2zM431.1 231.6h1.2v1.2h-1.2zM427.5 236.2h1.2v1.2h-1.2zM429.7 236.3h1.2v1.2h-1.2zM423.4 236.6h1.2v1.2h-1.2zM431.2 238.3h1.2v1.2h-1.2zM427.8 233.9h1.2v1.2h-1.2zM431.7 239.1h1.2v1.2h-1.2zM424.8 236.9h1.2v1.2h-1.2zM431.3 235.6h1.2v1.2h-1.2zM428.9 233.5h1.2v1.2h-1.2zM431.6 234.0h1.2v1.2h-1.2zM427.1 238.4h1.2v1.2h-1.2zM427.9 234.7h1.2v1.2h-1.2zM435.2 237.6h1.2v1.2h-1.2zM427.4 240.4h1.2v1.2h-1.2zM427.7 240.3h1.2v1.2h-1.2zM428.8 241.8h1.2v1.2h-1.2zM426.9 236.6h1.2v1.2h-1.2zM432.5 234.3h1.2v1.2h-1.2zM433.9 240.3h1.2v1.2h-1.2zM427.7 238.3h1.2v1.2h-1.2zM425.1 240.6h1.2v1.2h-1.2zM432.5 237.4h1.2v1.2h-1.2zM432.3 240.8h1.2v1.2h-1.2zM431.6 239.8h1.2v1.2h-1.2zM432.5 239.4h1.2v1.2h-1.2zM427.3 238.8h1.2v1.2h-1.2zM429.0 238.5h1.2v1.2h-1.2zM425.9 238.1h1.2v1.2h-1.2zM425.8 238.1h1.2v1.2h-1.2zM432.0 240.2h1.2v1.2h-1.2zM427.8 236.0h1.2v1.2h-1.2zM435.3 242.3h1.2v1.2h-1.2zM429.7 237.1h1.2v1.2h-1.2zM427.8 240.2h1.2v1.2h-1.2zM431.5 237.2h1.2v1.2h-1.2zM434.1 236.7h1.2v1.2h-1.2zM430.7 243.2h1.2v1.2h-1.2zM428.2 235.0h1.2v1.2h-1.2zM424.2 241.1h1.2v1.2h-1.2zM426.5 236.3h1.2v1.2h-1.2zM428.2 237.1h1.2v1.2h-1.2zM438.3 237.0h1.2v1.2h-1.2zM430.3 237.4h1.2v1.2h-1.2zM433.3 242.5h1.2v1.2h-1.2zM425.4 238.0h1.2v1.2h-1.2zM430.9 236.7h1.2v1.2h-1.2zM432.2 236.2h1.2v1.2h-1.2zM436.9 239.0h1.2v1.2h-1.2zM426.6 233.3h1.2v1.2h-1.2zM432.0 235.1h1.2v1.2h-1.2zM430.7 237.2h1.2v1.2h-1.2zM425.3 234.8h1.2v1.2h-1.2zM429.4 236.9h1.2v1.2h-1.2zM428.4 234.6h1.2v1.2h-1.2zM419.9 246.5h1.2v1.2h-1.2zM431.9 243.4h1.2v1.2h-1.2zM431.7 239.5h1.2v1.2h-1.2zM427.7 237.2h1.2v1.2h-1.2zM424.0 247.4h1.2v1.2h-1.2zM435.6 238.9h1.2v1.2h-1.2zM430.6 237.0h1.2v1.2h-1.2zM433.7 238.8h1.2v1.2h-1.2zM435.3 238.8h1.2v1.2h-1.2z"/>
<path fill="#1c7ddc" d="M460.1 244.6h1.2v1.2h-1.2zM456.3 240.3h1.2v1.2h-1.2zM462.0 241.2h1.2v1.2h-1.2zM453.9 241.7h1.2v1.2h-1.2zM458.2 242.7h1.2v1.2h-1.2zM453.6 238.1h1.2v1.2h-1.2zM461.2 243.9h1.2v1.2h-1.2zM455.4 244.7h1.2v1.2h-1.2zM456.1 239.0h1.2v1.2h-1.2zM458.8 238.5h1.2v1.2h-1.2zM459.7 242.5h1.2v1.2h-1.2zM453.3 240.1h1.2v1.2h-1.2zM455.4 236.2h1.2v1.2h-1.2zM452.5 243.5h1.2v1.2h-1.2zM456.7 242.0h1.2v1.2h-1.2zM456.0 240.6h1.2v1.2h-1.2zM455.4 246.6h1.2v1.2h-1.2zM454.5 242.0h1.2v1.2h-1.2zM455.3 239.9h1.2v1.2h-1.2zM454.3 241.9h1.2v1.2h-1.2zM457.7 239.3h1.2v1.2h-1.2zM460.4 239.9h1.2v1.2h-1.2zM451.1 242.6h1.2v1.2h-1.2zM456.0 240.4h1.2v1.2h-1.2zM455.2 240.6h1.2v1.2h-1.2zM457.6 245.5h1.2v1.2h-1.2zM453.7 243.7h1.2v1.2h-1.2zM455.9 243.5h1.2v1.2h-1.2zM453.5 242.9h1.2v1.2h-1.2zM458.2 242.8h1.2v1.2h-1.2zM456.6 245.1h1.2v1.2h-1.2zM455.9 241.6h1.2v1.2h-1.2zM457.3 246.0h1.2v1.2h-1.2zM455.6 239.5h1.2v1.2h-1.2zM452.1 241.1h1.2v1.2h-1.2zM457.9 238.5h1.2v1.2h-1.2zM457.1 240.9h1.2v1.2h-1.2zM455.9 242.9h1.2v1.2h-1.2zM459.0 245.0h1.2v1.2h-1.2zM459.6 240.1h1.2v1.2h-1.2zM453.4 241.7h1.2v1.2h-1.2zM454.2 240.8h1.2v1.2h-1.2zM460.5 240.0h1.2v1.2h-1.2zM460.1 238.9h1.2v1.2h-1.2zM454.3 241.8h1.2v1.2h-1.2zM453.1 237.6h1.2v1.2h-1.2zM454.6 241.9h1.2v1.2h-1.2zM455.0 241.7h1.2v1.2h-1.2zM452.0 240.1h1.2v1.2h-1.2zM456.4 239.3h1.2v1.2h-1.2zM452.9 238.5h1.2v1.2h-1.2zM453.0 246.0h1.2v1.2h-1.2zM458.8 238.6h1.2v1.2h-1.2zM454.5 245.3h1.2v1.2h-1.2zM456.1 243.1h1.2v1.2h-1.2zM458.0 240.8h1.2v1.2h-1.2zM458.5 239.0h1.2v1.2h-1.2zM455.4 244.1h1.2v1.2h-1.2zM456.4 245.7h1.2v1.2h-1.2zM454.1 239.5h1.2v1.2h-1.2zM461.0 241.0h1.2v1.2h-1.2zM458.1 244.1h1.2v1.2h-1.2zM453.3 242.4h1.2v1.2h-1.2zM456.3 246.3h1.2v1.2h-1.2zM458.2 240.3h1.2v1.2h-1.2zM457.6 242.9h1.2v1.2h-1.2zM461.2 238.8h1.2v1.2h-1.2zM460.0 246.5h1.2v1.2h-1.2zM454.9 240.0h1.2v1.2h-1.2zM456.1 236.5h1.2v1.2h-1.2zM452.9 241.4h1.2v1.2h-1.2zM457.0 241.3h1.2v1.2h-1.2zM456.7 246.1h1.2v1.2h-1.2zM463.6 240.9h1.2v1.2h-1.2zM456.6 241.6h1.2v1.2h-1.2zM450.7 243.0h1.2v1.2h-1.2zM454.5 245.4h1.2v1.2h-1.2zM456.6 241.5h1.2v1.2h-1.2zM452.9 244.1h1.2v1.2h-1.2zM454.0 242.9h1.2v1.2h-1.2zM455.3 241.0h1.2v1.2h-1.2zM457.2 241.8h1.2v1.2h-1.2zM455.9 241.7h1.2v1.2h-1.2zM453.9 239.5h1.2v1.2h-1.2zM458.4 244.5h1.2v1.2h-1.2zM454.9 238.4h1.2v1.2h-1.2zM455.0 244.4h1.2v1.2h-1.2zM452.6 243.9h1.2v1.2h-1.2zM454.2 241.5h1.2v1.2h-1.2zM458.1 239.9h1.2v1.2h-1.2zM451.9 241.1h1.2v1.2h-1.2zM456.1 242.8h1.2v1.2h-1.2zM458.2 243.4h1.2v1.2h-1.2zM455.3 242.3h1.2v1.2h-1.2zM457.0 244.0h1.2v1.2h-1.2zM453.3 240.4h1.2v1.2h-1.2zM459.8 242.2h1.2v1.2h-1.2zM459.3 238.0h1.2v1.2h-1.2zM456.9 243.4h1.2v1.2h-1.2zM451.6 242.0h1.2v1.2h-1.2zM453.5 240.7h1.2v1.2h-1.2zM458.9 244.4h1.2v1.2h-1.2zM460.9 243.3h1.2v1.2h-1.2zM457.1 235.1h1.2v1.2h-1.2zM456.5 247.3h1.2v1.2h-1.2zM450.0 243.5h1.2v1.2h-1.2zM460.9 244.9h1.2v1.2h-1.2zM467.0 243.8h1.2v1.2h-1.2zM454.1 248.3h1.2v1.2h-1.2zM456.6 234.6h1.2v1.2h-1.2zM455.2 246.4h1.2v1.2h-1.2zM457.8 240.7h1.2v1.2h-1.2zM459.1 240.6h1.2v1.2h-1.2zM461.9 238.1h1.2v1.2h-1.2zM452.0 234.7h1.2v1.2h-1.2zM463.1 240.2h1.2v1.2h-1.2zM452.3 239.1h1.2v1.2h-1.2zM457.5 243.5h1.2v1.2h-1.2zM461.3 236.2h1.2v1.2h-1.2zM459.4 247.0h1.2v1.2h-1.2zM452.3 242.7h1.2v1.2h-1.2zM453.3 240.7h1.2v1.2h-1.2zM454.3 239.0h1.2v1.2h-1.2zM456.1 238.7h1.2v1.2h-1.2zM461.3 237.5h1.2v1.2h-1.2zM450.7 239.6h1.2v1.2h-1.2zM458.3 241.7h1.2v1.2h-1.2zM458.9 241.0h1.2v1.2h-1.2zM458.7 236.4h1.2v1.2h-1.2zM458.3 240.7h1.2v1.2h-1.2z"/>
<path fill="#1bbacb" d="M456.1 220.2h1.2v1.2h-1.2zM459.2 221.7h1.2v1.2h-1.2zM453.0 217.9h1.2v1.2h-1.2zM454.5 220.0h1.2v1.2h-1.2zM460.1 224.4h1.2v1.2h-1.2zM456.7 215.7h1.2v1.2h-1.2zM459.3 221.0h1.2v1.2h-1.2zM459.4 222.2h1.2v1.2h-1.2zM465.7 219.4h1.2v1.2h-1.2zM463.8 220.1h1.2v1.2h-1.2zM459.6 221.2h1.2v1.2h-1.2zM463.5 217.0h1.2v1.2h-1.2zM457.4 219.3h1.2v1.2h-1.2zM458.7 216.5h1.2v1.2h-1.2zM462.6 216.9h1.2v1.2h-1.2zM455.9 217.0h1.2v1.2h-1.2zM458.9 218.1h1.2v1.2h-1.2zM455.7 218.8h1.2v1.2h-1.2zM460.1 219.4h1.2v1.2h-1.2zM464.8 215.2h1.2v1.2h-1.2zM457.5 222.9h1.2v1.2h-1.2zM460.5 221.0h1.2v1.2h-1.2zM457.0 220.1h1.2v1.2h-1.2zM456.2 217.6h1.2v1.2h-1.2zM456.0 218.2h1.2v1.2h-1.2zM464.3 219.7h1.2v1.2h-1.2zM467.0 219.4h1.2v1.2h-1.2zM461.3 214.7h1.2v1.2h-1.2zM457.6 220.1h1.2v1.2h-1.2zM461.9 225.0h1.2v1.2h-1.2zM458.7 214.3h1.2v1.2h-1.2zM462.2 220.7h1.2v1.2h-1.2zM460.7 219.3h1.2v1.2h-1.2zM460.6 218.2h1.2v1.2h-1.2zM461.6 221.5h1.2v1.2h-1.2zM458.0 215.8h1.2v1.2h-1.2zM458.5 218.8h1.2v1.2h-1.2zM454.5 221.7h1.2v1.2h-1.2zM458.4 218.0h1.2v1.2h-1.2zM455.4 217.5h1.2v1.2h-1.2zM459.3 218.7h1.2v1.2h-1.2zM456.8 217.4h1.2v1.2h-1.2zM460.1 221.9h1.2v1.2h-1.2zM461.2 216.4h1.2v1.2h-1.2zM455.4 220.4h1.2v1.2h-1.2zM457.3 215.6h1.2v1.2h-1.2zM456.9 219.9h1.2v1.2h-1.2zM462.1 218.2h1.2v1.2h-1.2zM465.0 212.6h1.2v1.2h-1.2zM462.4 218.4h1.2v1.2h-1.2zM458.7 216.0h1.2v1.2h-1.2zM464.3 217.4h1.2v1.2h-1.2zM455.1 221.9h1.2v1.2h-1.2zM464.4 215.9h1.2v1.2h-1.2zM457.8 216.0h1.2v1.2h-1.2zM451.2 221.7h1.2v1.2h-1.2zM467.9 218.7h1.2v1.2h-1.2zM464.6 221.9h1.2v1.2h-1.2zM456.6 219.2h1.2v1.2h-1.2zM460.3 216.4h1.2v1.2h-1.2zM459.1 218.3h1.2v1.2h-1.2zM460.1 221.2h1.2v1.2h-1.2zM455.2 220.6h1.2v1.2h-1.2zM457.7 218.4h1.2v1.2h-1.2zM461.2 218.5h1.2v1.2h-1.2zM460.5 218.2h1.2v1.2h-1.2zM463.5 217.1h1.2v1.2h-1.2zM460.0 222.8h1.2v1.2h-1.2zM467.0 218.4h1.2v1.2h-1.2zM457.6 215.9h1.2v1.2h-1.2zM460.6 217.4h1.2v1.2h-1.2zM453.9 220.1h1.2v1.2h-1.2zM455.9 219.9h1.2v1.2h-1.2zM463.9 218.1h1.2v1.2h-1.2zM456.9 216.9h1.2v1.2h-1.2zM461.4 218.5h1.2v1.2h-1.2zM459.6 214.7h1.2v1.2h-1.2zM456.6 215.5h1.2v1.2h-1.2zM458.7 220.2h1.2v1.2h-1.2zM458.2 217.4h1.2v1.2h-1.2zM458.3 219.3h1.2v1.2h-1.2zM462.1 221.2h1.2v1.2h-1.2zM461.8 219.9h1.2v1.2h-1.2zM458.0 218.5h1.2v1.2h-1.2zM457.0 223.2h1.2v1.2h-1.2zM460.6 219.9h1.2v1.2h-1.2zM459.5 217.6h1.2v1.2h-1.2zM462.9 220.1h1.2v1.2h-1.2zM468.0 219.4h1.2v1.2h-1.2zM462.4 216.5h1.2v1.2h-1.2zM459.7 218.6h1.2v1.2h-1.2zM459.2 218.1h1.2v1.2h-1.2zM457.1 214.0h1.2v1.2h-1.2zM457.0 218.0h1.2v1.2h-1.2zM456.7 217.8h1.2v1.2h-1.2zM458.6 217.4h1.2v1.2h-1.2zM458.5 214.7h1.2v1.2h-1.2zM462.1 217.6h1.2v1.2h-1.2zM458.5 218.3h1.2v1.2h-1.2zM459.2 218.7h1.2v1.2h-1.2zM456.0 215.9h1.2v1.2h-1.2zM464.8 219.9h1.2v1.2h-1.2zM461.3 215.7h1.2v1.2h-1.2zM465.3 217.9h1.2v1.2h-1.2zM466.4 221.5h1.2v1.2h-1.2zM456.3 215.5h1.2v1.2h-1.2zM457.2 217.7h1.2v1.2h-1.2zM465.2 222.4h1.2v1.2h-1.2zM457.8 216.6h1.2v1.2h-1.2zM458.3 219.1h1.2v1.2h-1.2zM460.9 214.8h1.2v1.2h-1.2zM465.1 215.5h1.2v1.2h-1.2zM448.6 216.6h1.2v1.2h-1.2zM455.6 226.1h1.2v1.2h-1.2zM454.7 217.0h1.2v1.2h-1.2zM454.3 216.6h1.2v1.2h-1.2zM455.4 216.5h1.2v1.2h-1.2zM455.5 217.9h1.2v1.2h-1.2zM461.3 220.7h1.2v1.2h-1.2zM455.3 219.1h1.2v1.2h-1.2zM460.4 225.7h1.2v1.2h-1.2zM461.8 219.2h1.2v1.2h-1.2zM456.1 223.5h1.2v1.2h-1.2zM460.4 219.4h1.2v1.2h-1.2zM468.0 220.6h1.2v1.2h-1.2zM461.4 213.4h1.2v1.2h-1.2zM456.6 218.0h1.2v1.2h-1.2zM459.4 218.2h1.2v1.2h-1.2zM455.1 217.6h1.2v1.2h-1.2zM461.1 210.9h1.2v1.2h-1.2z"/>
<path fill="#2ac5c5" d="M450.5 215.5h1.2v1.2h-1.2zM449.4 218.0h1.2v1.2h-1.2zM451.3 216.9h1.2v1.2h-1.2zM451.4 224.4h1.2v1.2h-1.2zM451.2 215.3h1.2v1.2h-1.2zM446.6 220.7h1.2v1.2h-1.2zM451.1 217.0h1.2v1.2h-1.2zM449.2 216.8h1.2v1.2h-1.2zM450.0 219.0h1.2v1.2h-1.2zM452.0 219.4h1.2v1.2h-1.2zM453.1 220.4h1.2v1.2h-1.2zM453.7 218.0h1.2v1.2h-1.2zM450.2 215.6h1.2v1.2h-1.2zM453.8 215.8h1.2v1.2h-1.2zM454.4 218.5h1.2v1.2h-1.2zM454.3 218.6h1.2v1.2h-1.2zM455.0 220.8h1.2v1.2h-1.2zM451.1 218.2h1.2v1.2h-1.2zM451.0 219.9h1.2v1.2h-1.2zM453.5 221.1h1.2v1.2h-1.2zM447.9 217.6h1.2v1.2h-1.2zM452.0 213.3h1.2v1.2h-1.2zM450.1 214.1h1.2v1.2h-1.2zM450.5 213.4h1.2v1.2h-1.2zM447.0 221.3h1.2v1.2h-1.2zM449.1 215.0h1.2v1.2h-1.2zM451.4 220.3h1.2v1.2h-1.2zM453.7 218.7h1.2v1.2h-1.2zM454.0 221.6h1.2v1.2h-1.2zM451.2 219.7h1.2v1.2h-1.2zM450.9 216.9h1.2v1.2h-1.2zM449.3 216.6h1.2v1.2h-1.2zM452.5 217.4h1.2v1.2h-1.2zM450.8 217.6h1.2v1.2h-1.2zM453.0 215.8h1.2v1.2h-1.2zM455.9 217.1h1.2v1.2h-1.2zM451.3 221.3h1.2v1.2h-1.2zM447.6 212.7h1.2v1.2h-1.2zM449.2 217.8h1.2v1.2h-1.2zM447.7 214.8h1.2v1.2h-1.2zM448.4 217.6h1.2v1.2h-1.2zM454.8 219.3h1.2v1.2h-1.2zM452.0 217.0h1.2v1.2h-1.2zM447.5 219.1h1.2v1.2h-1.2zM453.1 213.0h1.2v1.2h-1.2zM454.7 220.0h1.2v1.2h-1.2zM450.5 215.6h1.2v1.2h-1.2zM449.7 218.7h1.2v1.2h-1.2zM450.6 217.6h1.2v1.2h-1.2zM452.2 210.5h1.2v1.2h-1.2zM453.1 215.2h1.2v1.2h-1.2zM454.5 217.7h1.2v1.2h-1.2zM454.5 221.2h1.2v1.2h-1.2zM454.5 217.9h1.2v1.2h-1.2zM454.9 217.8h1.2v1.2h-1.2zM453.1 213.5h1.2v1.2h-1.2zM447.5 220.8h1.2v1.2h-1.2zM451.1 221.8h1.2v1.2h-1.2zM452.2 217.2h1.2v1.2h-1.2zM450.4 216.6h1.2v1.2h-1.2zM453.8 213.0h1.2v1.2h-1.2zM450.5 219.4h1.2v1.2h-1.2zM449.1 224.1h1.2v1.2h-1.2zM455.1 219.0h1.2v1.2h-1.2zM453.1 220.4h1.2v1.2h-1.2zM452.0 218.5h1.2v1.2h-1.2zM453.8 214.6h1.2v1.2h-1.2zM454.2 220.6h1.2v1.2h-1.2zM452.3 214.0h1.2v1.2h-1.2zM445.1 216.6h1.2v1.2h-1.2zM449.7 217.9h1.2v1.2h-1.2zM450.3 219.4h1.2v1.2h-1.2zM448.9 218.2h1.2v1.2h-1.2zM451.9 218.1h1.2v1.2h-1.2zM454.5 215.2h1.2v1.2h-1.2zM450.2 213.8h1.2v1.2h-1.2zM448.5 217.3h1.2v1.2h-1.2zM456.6 215.3h1.2v1.2h-1.2zM450.3 213.8h1.2v1.2h-1.2zM448.3 213.9h1.2v1.2h-1.2zM452.0 215.9h1.2v1.2h-1.2zM452.5 212.4h1.2v1.2h-1.2zM449.6 213.7h1.2v1.2h-1.2zM453.5 212.9h1.2v1.2h-1.2zM450.2 217.6h1.2v1.2h-1.2zM449.1 218.2h1.2v1.2h-1.2zM451.9 222.3h1.2v1.2h-1.2zM453.4 213.3h1.2v1.2h-1.2zM448.6 216.0h1.2v1.2h-1.2zM455.2 220.2h1.2v1.2h-1.2zM450.5 223.7h1.2v1.2h-1.2zM450.1 208.1h1.2v1.2h-1.2zM458.4 227.9h1.2v1.2h-1.2zM450.0 212.5h1.2v1.2h-1.2zM446.7 221.1h1.2v1.2h-1.2zM446.0 222.2h1.2v1.2h-1.2zM452.8 221.2h1.2v1.2h-1.2zM452.7 217.8h1.2v1.2h-1.2zM445.8 212.3h1.2v1.2h-1.2zM447.4 219.7h1.2v1.2h-1.2zM453.6 214.2h1.2v1.2h-1.2zM453.8 206.7h1.2v1.2h-1.2zM448.8 228.8h1.2v1.2h-1.2zM454.0 220.1h1.2v1.2h-1.2zM453.8 224.7h1.2v1.2h-1.2zM444.1 213.4h1.2v1.2h-1.2zM450.1 223.2h1.2v1.2h-1.2zM453.1 223.7h1.2v1.2h-1.2zM449.1 223.6h1.2v1.2h-1.2zM442.6 217.1h1.2v1.2h-1.2z"/>
<path fill="#5cdeae" d="M423.6 211.3h1.2v1.2h-1.2zM421.2 206.9h1.2v1.2h-1.2zM419.6 207.1h1.2v1.2h-1.2zM418.2 204.9h1.2v1.2h-1.2zM418.1 214.4h1.2v1.2h-1.2zM423.8 207.4h1.2v1.2h-1.2zM421.0 211.9h1.2v1.2h-1.2zM419.9 206.2h1.2v1.2h-1.2zM418.8 208.3h1.2v1.2h-1.2zM416.9 203.5h1.2v1.2h-1.2zM419.6 206.9h1.2v1.2h-1.2zM422.0 210.4h1.2v1.2h-1.2zM418.7 204.6h1.2v1.2h-1.2zM419.1 210.6h1.2v1.2h-1.2zM419.2 208.7h1.2v1.2h-1.2zM420.0 205.2h1.2v1.2h-1.2zM415.6 206.6h1.2v1.2h-1.2zM419.1 206.7h1.2v1.2h-1.2zM417.5 207.7h1.2v1.2h-1.2zM422.0 206.5h1.2v1.2h-1.2zM417.8 205.7h1.2v1.2h-1.2zM421.2 207.1h1.2v1.2h-1.2zM423.6 205.2h1.2v1.2h-1.2zM418.9 204.5h1.2v1.2h-1.2zM418.2 207.7h1.2v1.2h-1.2zM420.2 210.1h1.2v1.2h-1.2zM419.7 203.9h1.2v1.2h-1.2zM417.2 207.9h1.2v1.2h-1.2zM420.9 206.2h1.2v1.2h-1.2zM424.9 205.3h1.2v1.2h-1.2zM419.1 210.1h1.2v1.2h-1.2zM419.2 206.5h1.2v1.2h-1.2zM417.0 211.7h1.2v1.2h-1.2zM420.5 205.8h1.2v1.2h-1.2zM416.5 208.8h1.2v1.2h-1.2zM416.9 207.3h1.2v1.2h-1.2zM423.0 205.9h1.2v1.2h-1.2zM417.4 209.4h1.2v1.2h-1.2zM422.5 207.4h1.2v1.2h-1.2zM423.6 209.4h1.2v1.2h-1.2zM420.4 207.7h1.2v1.2h-1.2zM421.1 205.0h1.2v1.2h-1.2zM424.7 207.6h1.2v1.2h-1.2zM419.2 208.0h1.2v1.2h-1.2zM418.2 210.3h1.2v1.2h-1.2zM416.3 205.5h1.2v1.2h-1.2zM419.8 207.7h1.2v1.2h-1.2zM423.5 203.4h1.2v1.2h-1.2zM422.2 209.5h1.2v1.2h-1.2zM417.3 205.1h1.2v1.2h-1.2zM417.5 203.2h1.2v1.2h-1.2zM418.4 207.7h1.2v1.2h-1.2zM420.5 210.7h1.2v1.2h-1.2zM419.2 203.9h1.2v1.2h-1.2zM420.3 205.0h1.2v1.2h-1.2zM420.5 205.9h1.2v1.2h-1.2zM419.0 204.9h1.2v1.2h-1.2zM419.6 208.8h1.2v1.2h-1.2zM420.3 205.8h1.2v1.2h-1.2zM419.5 206.0h1.2v1.2h-1.2zM421.0 209.4h1.2v1.2h-1.2zM424.5 205.9h1.2v1.2h-1.2zM421.2 209.0h1.2v1.2h-1.2zM419.9 205.3h1.2v1.2h-1.2zM415.4 204.7h1.2v1.2h-1.2zM420.7 203.1h1.2v1.2h-1.2zM414.7 212.7h1.2v1.2h-1.2zM416.1 207.0h1.2v1.2h-1.2zM421.9 208.5h1.2v1.2h-1.2zM421.5 207.8h1.2v1.2h-1.2zM419.3 208.3h1.2v1.2h-1.2zM415.3 208.0h1.2v1.2h-1.2zM418.8 212.8h1.2v1.2h-1.2zM418.0 205.2h1.2v1.2h-1.2zM421.4 203.8h1.2v1.2h-1.2zM425.5 205.2h1.2v1.2h-1.2zM420.3 204.4h1.2v1.2h-1.2zM417.7 209.8h1.2v1.2h-1.2zM416.7 210.0h1.2v1.2h-1.2zM419.6 205.4h1.2v1.2h-1.2zM419.3 204.3h1.2v1.2h-1.2zM416.8 206.9h1.2v1.2h-1.2zM420.0 211.4h1.2v1.2h-1.2zM416.8 200.6h1.2v1.2h-1.2zM422.6 209.2h1.2v1.2h-1.2zM422.5 205.1h1.2v1.2h-1.2zM422.5 210.5h1.2v1.2h-1.2zM418.5 205.1h1.2v1.2h-1.2zM421.0 207.1h1.2v1.2h-1.2zM419.4 204.0h1.2v1.2h-1.2zM418.7 205.3h1.2v1.2h-1.2zM418.9 211.4h1.2v1.2h-1.2zM416.4 210.0h1.2v1.2h-1.2zM416.0 206.8h1.2v1.2h-1.2zM421.8 205.6h1.2v1.2h-1.2zM419.2 203.0h1.2v1.2h-1.2zM420.3 206.8h1.2v1.2h-1.2zM422.3 207.8h1.2v1.2h-1.2zM415.3 207.6h1.2v1.2h-1.2zM417.7 207.6h1.2v1.2h-1.2zM420.2 205.0h1.2v1.2h-1.2zM420.7 207.7h1.2v1.2h-1.2zM418.8 207.7h1.2v1.2h-1.2zM422.4 211.2h1.2v1.2h-1.2zM420.3 212.7h1.2v1.2h-1.2zM416.6 207.5h1.2v1.2h-1.2zM417.3 205.9h1.2v1.2h-1.2zM421.8 207.7h1.2v1.2h-1.2zM420.9 206.3h1.2v1.2h-1.2zM414.9 205.9h1.2v1.2h-1.2zM423.2 207.7h1.2v1.2h-1.2zM421.3 205.2h1.2v1.2h-1.2zM422.2 207.3h1.2v1.2h-1.2zM419.3 206.0h1.2v1.2h-1.2zM420.8 210.1h1.2v1.2h-1.2zM419.0 201.0h1.2v1.2h-1.2zM416.7 209.7h1.2v1.2h-1.2zM415.8 208.9h1.2v1.2h-1.2zM418.8 209.0h1.2v1.2h-1.2zM417.5 209.4h1.2v1.2h-1.2zM420.7 205.1h1.2v1.2h-1.2zM419.7 206.8h1.2v1.2h-1.2zM414.1 210.5h1.2v1.2h-1.2zM420.0 209.6h1.2v1.2h-1.2zM414.2 208.7h1.2v1.2h-1.2zM417.2 201.6h1.2v1.2h-1.2zM418.5 210.1h1.2v1.2h-1.2zM411.2 212.7h1.2v1.2h-1.2zM420.1 212.0h1.2v1.2h-1.2zM420.3 208.8h1.2v1.2h-1.2zM419.1 201.4h1.2v1.2h-1.2zM418.0 211.7h1.2v1.2h-1.2zM418.2 207.2h1.2v1.2h-1.2zM415.7 197.4h1.2v1.2h-1.2zM418.6 209.4h1.2v1.2h-1.2zM417.5 201.7h1.2v1.2h-1.2zM420.1 202.5h1.2v1.2h-1.2zM414.8 205.2h1.2v1.2h-1.2zM420.7 213.1h1.2v1.2h-1.2zM420.3 206.3h1.2v1.2h-1.2z"/>
<path fill="#7de09d" d="M443.1 218.4h1.2v1.2h-1.2zM447.7 218.5h1.2v1.2h-1.2zM440.1 216.2h1.2v1.2h-1.2zM442.4 223.1h1.2v1.2h-1.2zM444.0 218.5h1.2v1.2h-1.2zM444.8 222.4h1.2v1.2h-1.2zM441.5 220.1h1.2v1.2h-1.2zM443.6 215.5h1.2v1.2h-1.2zM441.9 216.3h1.2v1.2h-1.2zM443.0 218.6h1.2v1.2h-1.2zM442.3 217.6h1.2v1.2h-1.2zM439.5 217.5h1.2v1.2h-1.2zM442.6 216.6h1.2v1.2h-1.2zM445.2 212.3h1.2v1.2h-1.2zM440.0 216.8h1.2v1.2h-1.2zM442.0 211.1h1.2v1.2h-1.2zM444.6 218.5h1.2v1.2h-1.2zM439.7 215.3h1.2v1.2h-1.2zM443.2 215.4h1.2v1.2h-1.2zM439.7 216.8h1.2v1.2h-1.2zM445.9 218.2h1.2v1.2h-1.2zM449.2 213.3h1.2v1.2h-1.2zM448.4 212.4h1.2v1.2h-1.2zM442.1 214.4h1.2v1.2h-1.2zM444.8 211.6h1.2v1.2h-1.2zM443.0 214.7h1.2v1.2h-1.2zM443.0 221.9h1.2v1.2h-1.2zM447.1 214.4h1.2v1.2h-1.2zM439.0 219.2h1.2v1.2h-1.2zM445.7 213.5h1.2v1.2h-1.2zM442.6 218.2h1.2v1.2h-1.2zM446.7 216.5h1.2v1.2h-1.2zM443.2 217.2h1.2v1.2h-1.2zM440.8 219.0h1.2v1.2h-1.2zM443.5 222.4h1.2v1.2h-1.2zM444.8 218.0h1.2v1.2h-1.2zM442.8 217.8h1.2v1.2h-1.2zM444.1 214.6h1.2v1.2h-1.2zM441.2 219.1h1.2v1.2h-1.2zM436.7 216.7h1.2v1.2h-1.2zM445.2 219.8h1.2v1.2h-1.2zM444.7 217.3h1.2v1.2h-1.2zM443.1 222.3h1.2v1.2h-1.2zM442.9 211.8h1.2v1.2h-1.2zM445.6 216.6h1.2v1.2h-1.2zM441.4 219.9h1.2v1.2h-1.2zM440.7 216.4h1.2v1.2h-1.2zM442.2 215.2h1.2v1.2h-1.2zM446.1 216.6h1.2v1.2h-1.2zM438.8 213.5h1.2v1.2h-1.2zM446.1 217.7h1.2v1.2h-1.2zM440.9 224.3h1.2v1.2h-1.2zM439.6 220.7h1.2v1.2h-1.2zM446.3 214.3h1.2v1.2h-1.2zM442.4 214.9h1.2v1.2h-1.2zM439.0 216.3h1.2v1.2h-1.2zM441.7 220.3h1.2v1.2h-1.2zM445.3 215.1h1.2v1.2h-1.2zM446.1 215.4h1.2v1.2h-1.2zM441.5 219.9h1.2v1.2h-1.2zM443.8 219.9h1.2v1.2h-1.2zM444.7 216.3h1.2v1.2h-1.2zM440.9 214.2h1.2v1.2h-1.2zM443.7 213.0h1.2v1.2h-1.2zM442.6 215.4h1.2v1.2h-1.2zM441.2 211.1h1.2v1.2h-1.2zM441.3 219.5h1.2v1.2h-1.2zM442.9 215.6h1.2v1.2h-1.2zM442.8 218.8h1.2v1.2h-1.2zM441.1 222.7h1.2v1.2h-1.2zM441.5 220.7h1.2v1.2h-1.2zM445.8 214.1h1.2v1.2h-1.2zM443.3 219.9h1.2v1.2h-1.2zM445.2 220.7h1.2v1.2h-1.2zM446.1 215.3h1.2v1.2h-1.2zM444.4 214.7h1.2v1.2h-1.2zM449.1 217.1h1.2v1.2h-1.2zM440.4 212.9h1.2v1.2h-1.2zM445.0 221.6h1.2v1.2h-1.2zM441.8 210.6h1.2v1.2h-1.2zM447.9 214.3h1.2v1.2h-1.2zM447.5 216.6h1.2v1.2h-1.2zM437.2 216.8h1.2v1.2h-1.2zM440.0 217.9h1.2v1.2h-1.2zM444.6 218.2h1.2v1.2h-1.2zM444.9 216.8h1.2v1.2h-1.2zM444.8 220.6h1.2v1.2h-1.2zM442.5 211.3h1.2v1.2h-1.2zM444.0 217.4h1.2v1.2h-1.2zM444.5 215.4h1.2v1.2h-1.2zM442.5 217.8h1.2v1.2h-1.2zM445.6 218.0h1.2v1.2h-1.2zM436.3 214.8h1.2v1.2h-1.2zM444.5 215.6h1.2v1.2h-1.2zM439.8 219.7h1.2v1.2h-1.2zM445.4 218.4h1.2v1.2h-1.2zM442.1 215.5h1.2v1.2h-1.2zM440.2 223.2h1.2v1.2h-1.2zM443.8 224.0h1.2v1.2h-1.2zM440.1 213.2h1.2v1.2h-1.2zM440.1 218.3h1.2v1.2h-1.2zM438.3 224.5h1.2v1.2h-1.2zM442.6 219.6h1.2v1.2h-1.2zM444.1 218.0h1.2v1.2h-1.2zM445.6 216.8h1.2v1.2h-1.2zM442.3 215.9h1.2v1.2h-1.2zM445.7 216.8h1.2v1.2h-1.2zM442.8 215.8h1.2v1.2h-1.2zM442.4 219.5h1.2v1.2h-1.2zM444.3 216.3h1.2v1.2h-1.2zM445.7 216.1h1.2v1.2h-1.2zM441.7 214.0h1.2v1.2h-1.2zM442.0 217.3h1.2v1.2h-1.2zM442.2 214.9h1.2v1.2h-1.2zM442.9 216.9h1.2v1.2h-1.2zM440.2 220.4h1.2v1.2h-1.2zM445.6 218.4h1.2v1.2h-1.2zM441.6 218.8h1.2v1.2h-1.2zM444.0 218.4h1.2v1.2h-1.2zM440.4 217.6h1.2v1.2h-1.2zM442.1 214.6h1.2v1.2h-1.2zM441.3 212.6h1.2v1.2h-1.2zM446.1 217.6h1.2v1.2h-1.2zM437.8 213.1h1.2v1.2h-1.2zM448.8 217.1h1.2v1.2h-1.2zM442.9 217.8h1.2v1.2h-1.2zM439.3 228.0h1.2v1.2h-1.2zM440.5 213.5h1.2v1.2h-1.2zM439.6 216.8h1.2v1.2h-1.2zM443.4 216.7h1.2v1.2h-1.2zM439.5 219.4h1.2v1.2h-1.2zM447.9 222.2h1.2v1.2h-1.2zM439.2 215.2h1.2v1.2h-1.2zM432.4 213.7h1.2v1.2h-1.2zM439.4 209.9h1.2v1.2h-1.2zM433.6 213.2h1.2v1.2h-1.2zM442.5 219.8h1.2v1.2h-1.2zM447.5 217.6h1.2v1.2h-1.2zM445.6 212.8h1.2v1.2h-1.2zM436.7 215.7h1.2v1.2h-1.2zM439.3 217.5h1.2v1.2h-1.2zM450.7 219.7h1.2v1.2h-1.2zM444.1 214.7h1.2v1.2h-1.2zM442.7 216.3h1.2v1.2h-1.2zM447.5 209.1h1.2v1.2h-1.2zM453.8 212.2h1.2v1.2h-1.2zM448.6 224.8h1.2v1.2h-1.2zM443.3 207.5h1.2v1.2h-1.2zM444.3 215.9h1.2v1.2h-1.2zM445.5 218.4h1.2v1.2h-1.2z"/>
<path fill="#e64423" d="M407.5 206.3h1.2v1.2h-1.2zM408.3 204.6h1.2v1.2h-1.2zM406.8 205.7h1.2v1.2h-1.2zM405.2 201.1h1.2v1.2h-1.2zM406.4 203.3h1.2v1.2h-1.2zM405.0 206.9h1.2v1.2h-1.2zM407.7 200.8h1.2v1.2h-1.2zM411.0 208.1h1.2v1.2h-1.2zM406.3 201.8h1.2v1.2h-1.2zM405.9 207.9h1.2v1.2h-1.2zM408.8 204.0h1.2v1.2h-1.2zM408.5 208.0h1.2v1.2h-1.2zM407.8 206.4h1.2v1.2h-1.2zM405.1 202.3h1.2v1.2h-1.2zM407.5 209.1h1.2v1.2h-1.2zM409.3 209.6h1.2v1.2h-1.2zM404.1 205.9h1.2v1.2h-1.2zM406.4 205.4h1.2v1.2h-1.2zM402.7 205.6h1.2v1.2h-1.2zM404.2 203.6h1.2v1.2h-1.2zM402.8 208.7h1.2v1.2h-1.2zM406.9 204.7h1.2v1.2h-1.2zM404.3 205.9h1.2v1.2h-1.2zM408.2 204.1h1.2v1.2h-1.2zM407.9 204.5h1.2v1.2h-1.2zM407.1 202.9h1.2v1.2h-1.2zM401.1 209.1h1.2v1.2h-1.2zM406.2 205.7h1.2v1.2h-1.2zM407.4 208.4h1.2v1.2h-1.2zM407.8 206.1h1.2v1.2h-1.2zM403.6 204.3h1.2v1.2h-1.2zM406.3 205.2h1.2v1.2h-1.2zM405.0 204.7h1.2v1.2h-1.2zM405.5 206.1h1.2v1.2h-1.2zM410.3 205.1h1.2v1.2h-1.2zM405.5 205.3h1.2v1.2h-1.2zM407.5 202.7h1.2v1.2h-1.2zM409.8 204.1h1.2v1.2h-1.2zM406.0 210.1h1.2v1.2h-1.2zM407.2 204.4h1.2v1.2h-1.2zM407.8 203.5h1.2v1.2h-1.2zM407.7 206.9h1.2v1.2h-1.2zM404.4 209.5h1.2v1.2h-1.2zM407.7 202.5h1.2v1.2h-1.2zM411.0 205.5h1.2v1.2h-1.2zM403.6 204.5h1.2v1.2h-1.2zM409.7 201.7h1.2v1.2h-1.2zM407.8 207.8h1.2v1.2h-1.2zM405.9 206.0h1.2v1.2h-1.2zM412.7 206.2h1.2v1.2h-1.2zM409.5 204.2h1.2v1.2h-1.2zM404.5 207.2h1.2v1.2h-1.2zM407.7 204.7h1.2v1.2h-1.2zM409.0 205.7h1.2v1.2h-1.2zM407.1 203.3h1.2v1.2h-1.2zM409.3 203.1h1.2v1.2h-1.2zM407.4 209.3h1.2v1.2h-1.2zM409.2 204.8h1.2v1.2h-1.2zM411.2 206.8h1.2v1.2h-1.2zM405.8 206.0h1.2v1.2h-1.2zM408.1 205.0h1.2v1.2h-1.2zM406.3 204.8h1.2v1.2h-1.2zM407.9 207.6h1.2v1.2h-1.2zM404.5 205.3h1.2v1.2h-1.2zM406.0 205.7h1.2v1.2h-1.2zM407.0 206.1h1.2v1.2h-1.2zM409.8 208.9h1.2v1.2h-1.2zM410.5 207.7h1.2v1.2h-1.2zM404.1 207.0h1.2v1.2h-1.2zM405.5 204.7h1.2v1.2h-1.2zM409.2 202.7h1.2v1.2h-1.2zM402.4 208.4h1.2v1.2h-1.2zM406.3 208.4h1.2v1.2h-1.2zM407.3 205.7h1.2v1.2h-1.2zM410.8 207.4h1.2v1.2h-1.2zM409.3 208.0h1.2v1.2h-1.2zM406.7 208.1h1.2v1.2h-1.2zM406.6 208.3h1.2v1.2h-1.2zM406.9 204.9h1.2v1.2h-1.2zM411.4 209.8h1.2v1.2h-1.2zM406.4 203.0h1.2v1.2h-1.2zM406.8 208.2h1.2v1.2h-1.2zM408.4 207.3h1.2v1.2h-1.2zM407.2 208.2h1.2v1.2h-1.2zM407.0 210.6h1.2v1.2h-1.2zM404.7 209.7h1.2v1.2h-1.2zM407.5 203.2h1.2v1.2h-1.2zM406.4 201.9h1.2v1.2h-1.2zM410.5 208.0h1.2v1.2h-1.2zM409.2 203.6h1.2v1.2h-1.2zM407.5 206.0h1.2v1.2h-1.2zM409.3 208.1h1.2v1.2h-1.2zM406.7 202.0h1.2v1.2h-1.2zM410.2 200.9h1.2v1.2h-1.2zM407.5 206.7h1.2v1.2h-1.2zM409.0 206.1h1.2v1.2h-1.2zM404.2 205.4h1.2v1.2h-1.2zM408.4 206.1h1.2v1.2h-1.2zM403.2 203.9h1.2v1.2h-1.2zM402.3 202.3h1.2v1.2h-1.2zM406.8 205.6h1.2v1.2h-1.2zM405.2 203.7h1.2v1.2h-1.2zM408.0 202.0h1.2v1.2h-1.2zM413.3 207.3h1.2v1.2h-1.2zM405.4 205.9h1.2v1.2h-1.2zM405.9 207.0h1.2v1.2h-1.2zM408.1 203.6h1.2v1.2h-1.2zM408.8 204.4h1.2v1.2h-1.2zM407.1 203.6h1.2v1.2h-1.2zM407.0 203.9h1.2v1.2h-1.2zM409.3 206.5h1.2v1.2h-1.2zM408.9 204.1h1.2v1.2h-1.2zM404.9 206.9h1.2v1.2h-1.2zM407.3 206.9h1.2v1.2h-1.2zM407.6 211.0h1.2v1.2h-1.2zM404.8 202.6h1.2v1.2h-1.2zM408.2 208.2h1.2v1.2h-1.2zM405.3 205.8h1.2v1.2h-1.2zM410.0 206.0h1.2v1.2h-1.2zM408.0 202.5h1.2v1.2h-1.2zM405.6 206.0h1.2v1.2h-1.2zM410.6 200.8h1.2v1.2h-1.2zM407.2 212.8h1.2v1.2h-1.2zM407.9 211.8h1.2v1.2h-1.2zM406.3 204.2h1.2v1.2h-1.2zM412.3 209.1h1.2v1.2h-1.2zM407.4 207.5h1.2v1.2h-1.2zM398.5 195.8h1.2v1.2h-1.2zM404.7 207.0h1.2v1.2h-1.2zM399.4 205.8h1.2v1.2h-1.2zM394.2 206.4h1.2v1.2h-1.2zM405.4 201.8h1.2v1.2h-1.2zM413.0 205.0h1.2v1.2h-1.2zM407.7 205.3h1.2v1.2h-1.2zM402.7 210.7h1.2v1.2h-1.2zM403.7 207.4h1.2v1.2h-1.2zM412.2 206.0h1.2v1.2h-1.2zM408.2 212.0h1.2v1.2h-1.2zM407.7 203.9h1.2v1.2h-1.2zM407.3 204.5h1.2v1.2h-1.2zM407.7 198.9h1.2v1.2h-1.2zM410.8 212.2h1.2v1.2h-1.2zM409.8 209.8h1.2v1.2h-1.2zM408.4 209.6h1.2v1.2h-1.2zM403.3 208.7h1.2v1.2h-1.2zM409.6 206.5h1.2v1.2h-1.2zM404.7 206.9h1.2v1.2h-1.2zM412.0 205.1h1.2v1.2h-1.2zM402.3 205.2h1.2v1.2h-1.2zM407.0 206.3h1.2v1.2h-1.2zM444.2 203.1h1.2v1.2h-1.2zM448.4 202.8h1.2v1.2h-1.2zM448.0 206.8h1.2v1.2h-1.2zM443.2 205.0h1.2v1.2h-1.2zM442.8 205.4h1.2v1.2h-1.2zM439.9 202.4h1.2v1.2h-1.2zM441.5 208.7h1.2v1.2h-1.2zM444.7 208.1h1.2v1.2h-1.2zM444.6 205.2h1.2v1.2h-1.2zM443.8 205.5h1.2v1.2h-1.2zM446.3 198.5h1.2v1.2h-1.2zM441.3 205.4h1.2v1.2h-1.2zM443.3 203.2h1.2v1.2h-1.2zM445.5 204.8h1.2v1.2h-1.2zM445.1 205.5h1.2v1.2h-1.2zM446.5 202.8h1.2v1.2h-1.2zM444.6 199.4h1.2v1.2h-1.2zM442.6 204.7h1.2v1.2h-1.2zM444.5 201.8h1.2v1.2h-1.2zM440.6 202.9h1.2v1.2h-1.2zM438.8 202.2h1.2v1.2h-1.2zM445.1 202.8h1.2v1.2h-1.2zM443.3 197.8h1.2v1.2h-1.2zM444.3 206.9h1.2v1.2h-1.2zM438.7 204.4h1.2v1.2h-1.2zM442.4 206.6h1.2v1.2h-1.2zM441.8 208.8h1.2v1.2h-1.2zM441.0 203.8h1.2v1.2h-1.2zM437.1 199.1h1.2v1.2h-1.2zM442.5 201.4h1.2v1.2h-1.2zM446.0 200.6h1.2v1.2h-1.2zM444.5 202.4h1.2v1.2h-1.2zM441.8 203.9h1.2v1.2h-1.2zM443.4 198.5h1.2v1.2h-1.2zM445.6 204.6h1.2v1.2h-1.2zM435.7 199.8h1.2v1.2h-1.2zM443.1 204.5h1.2v1.2h-1.2zM445.0 203.4h1.2v1.2h-1.2zM445.4 202.9h1.2v1.2h-1.2zM448.3 203.5h1.2v1.2h-1.2zM446.7 202.3h1.2v1.2h-1.2zM444.4 202.1h1.2v1.2h-1.2zM444.3 199.4h1.2v1.2h-1.2zM445.7 203.6h1.2v1.2h-1.2zM441.9 208.5h1.2v1.2h-1.2zM443.4 208.8h1.2v1.2h-1.2zM446.0 207.1h1.2v1.2h-1.2zM449.0 205.5h1.2v1.2h-1.2zM443.0 202.0h1.2v1.2h-1.2zM443.3 207.4h1.2v1.2h-1.2zM444.0 203.6h1.2v1.2h-1.2zM447.3 203.5h1.2v1.2h-1.2zM443.4 203.0h1.2v1.2h-1.2zM447.6 204.0h1.2v1.2h-1.2zM440.7 202.6h1.2v1.2h-1.2zM442.9 203.5h1.2v1.2h-1.2zM442.9 200.9h1.2v1.2h-1.2zM445.7 202.8h1.2v1.2h-1.2zM446.4 209.6h1.2v1.2h-1.2zM439.2 203.5h1.2v1.2h-1.2zM440.9 203.1h1.2v1.2h-1.2zM444.4 205.1h1.2v1.2h-1.2zM441.6 205.5h1.2v1.2h-1.2zM439.2 200.8h1.2v1.2h-1.2zM446.4 203.2h1.2v1.2h-1.2zM444.9 206.1h1.2v1.2h-1.2zM444.9 204.4h1.2v1.2h-1.2zM442.1 204.0h1.2v1.2h-1.2zM446.4 207.7h1.2v1.2h-1.2zM442.8 202.0h1.2v1.2h-1.2zM446.6 203.9h1.2v1.2h-1.2zM440.9 202.4h1.2v1.2h-1.2zM441.1 207.6h1.2v1.2h-1.2zM444.0 198.7h1.2v1.2h-1.2zM441.5 202.0h1.2v1.2h-1.2zM445.4 202.4h1.2v1.2h-1.2zM444.2 205.4h1.2v1.2h-1.2zM440.9 205.3h1.2v1.2h-1.2zM443.7 207.3h1.2v1.2h-1.2zM442.5 199.7h1.2v1.2h-1.2zM446.1 205.7h1.2v1.2h-1.2zM441.7 203.0h1.2v1.2h-1.2zM442.2 202.0h1.2v1.2h-1.2zM446.9 205.1h1.2v1.2h-1.2zM449.8 201.3h1.2v1.2h-1.2zM449.1 198.4h1.2v1.2h-1.2zM443.7 202.8h1.2v1.2h-1.2zM444.1 199.8h1.2v1.2h-1.2zM447.8 202.0h1.2v1.2h-1.2zM443.1 204.7h1.2v1.2h-1.2zM440.7 204.5h1.2v1.2h-1.2zM443.8 207.8h1.2v1.2h-1.2zM444.7 203.2h1.2v1.2h-1.2zM441.1 199.8h1.2v1.2h-1.2zM438.8 201.8h1.2v1.2h-1.2zM439.4 201.3h1.2v1.2h-1.2zM445.4 200.6h1.2v1.2h-1.2zM441.3 204.8h1.2v1.2h-1.2zM443.1 202.1h1.2v1.2h-1.2zM444.1 198.6h1.2v1.2h-1.2zM445.2 205.5h1.2v1.2h-1.2zM442.5 203.4h1.2v1.2h-1.2zM444.9 204.6h1.2v1.2h-1.2zM441.0 204.0h1.2v1.2h-1.2zM442.5 205.3h1.2v1.2h-1.2zM440.6 203.8h1.2v1.2h-1.2zM446.7 206.9h1.2v1.2h-1.2zM443.4 204.8h1.2v1.2h-1.2zM441.4 204.7h1.2v1.2h-1.2zM442.5 204.8h1.2v1.2h-1.2zM442.8 200.0h1.2v1.2h-1.2zM445.4 203.3h1.2v1.2h-1.2zM439.0 203.0h1.2v1.2h-1.2zM440.5 204.3h1.2v1.2h-1.2zM442.4 200.2h1.2v1.2h-1.2zM450.6 207.9h1.2v1.2h-1.2zM446.2 204.0h1.2v1.2h-1.2zM443.2 200.6h1.2v1.2h-1.2zM445.5 199.3h1.2v1.2h-1.2zM449.3 203.0h1.2v1.2h-1.2zM443.1 206.3h1.2v1.2h-1.2zM440.2 201.3h1.2v1.2h-1.2zM443.9 198.9h1.2v1.2h-1.2zM440.6 200.4h1.2v1.2h-1.2zM446.0 209.7h1.2v1.2h-1.2zM440.2 204.6h1.2v1.2h-1.2zM443.3 208.5h1.2v1.2h-1.2zM447.9 201.7h1.2v1.2h-1.2zM455.1 207.6h1.2v1.2h-1.2zM438.9 201.2h1.2v1.2h-1.2zM441.4 203.1h1.2v1.2h-1.2zM439.7 214.0h1.2v1.2h-1.2zM447.0 206.9h1.2v1.2h-1.2zM438.3 201.6h1.2v1.2h-1.2zM441.3 203.4h1.2v1.2h-1.2zM443.3 205.1h1.2v1.2h-1.2zM439.1 208.7h1.2v1.2h-1.2zM439.1 201.7h1.2v1.2h-1.2zM441.3 196.5h1.2v1.2h-1.2zM434.0 202.6h1.2v1.2h-1.2zM436.9 203.8h1.2v1.2h-1.2zM441.6 204.2h1.2v1.2h-1.2zM444.1 209.2h1.2v1.2h-1.2zM442.6 205.0h1.2v1.2h-1.2zM435.5 207.1h1.2v1.2h-1.2zM441.4 199.2h1.2v1.2h-1.2zM447.1 207.3h1.2v1.2h-1.2zM446.0 212.4h1.2v1.2h-1.2zM443.1 206.9h1.2v1.2h-1.2zM439.5 204.8h1.2v1.2h-1.2z"/>
</g>
<rect x="402.90" y="196.00" width="66.50" height="66.20" fill="none" stroke="#2a2a2a" stroke-width="1.1"/>
<text x="382.89" y="189.00" font-size="17.48" font-weight="bold" stroke="#1c1c1c" stroke-width="0.55" textLength="13.23" lengthAdjust="spacingAndGlyphs">H</text>
<text x="436.15" y="275.00" font-size="11.08" text-anchor="middle" textLength="25.07" lengthAdjust="spacingAndGlyphs" stroke="#1c1c1c" stroke-width="0.2">i = 5</text>
<rect x="-75.00" y="313.20" width="186.50" height="119.30" fill="none" stroke="#151515" stroke-width="1.1"/>
<circle cx="-71.7" cy="426.3" r="3.5" fill="#1f77b4"/>
<circle cx="-52.2" cy="417.2" r="3.5" fill="#1f77b4"/>
<circle cx="-32.7" cy="403.7" r="3.5" fill="#1f77b4"/>
<circle cx="-13.2" cy="385.6" r="3.5" fill="#1f77b4"/>
<circle cx="6.6" cy="386.3" r="3.5" fill="#1f77b4"/>
<circle cx="26.9" cy="374.5" r="3.5" fill="#1f77b4"/>
<circle cx="46.5" cy="353.2" r="3.5" fill="#1f77b4"/>
<circle cx="66.7" cy="347.5" r="3.5" fill="#1f77b4"/>
<circle cx="85.6" cy="333.0" r="3.5" fill="#1f77b4"/>
<circle cx="103.5" cy="319.3" r="3.5" fill="#1f77b4"/>
<line x1="-37.00" y1="432.50" x2="-37.00" y2="436.20" stroke="#151515" stroke-width="1.1"/>
<text x="-37.00" y="448.90" font-size="11.08" text-anchor="middle" textLength="26.72" lengthAdjust="spacingAndGlyphs" stroke="#1c1c1c" stroke-width="0.2">2000</text>
<line x1="3.00" y1="432.50" x2="3.00" y2="436.20" stroke="#151515" stroke-width="1.1"/>
<text x="3.00" y="448.90" font-size="11.08" text-anchor="middle" textLength="26.72" lengthAdjust="spacingAndGlyphs" stroke="#1c1c1c" stroke-width="0.2">4000</text>
<line x1="43.00" y1="432.50" x2="43.00" y2="436.20" stroke="#151515" stroke-width="1.1"/>
<text x="43.00" y="448.90" font-size="11.08" text-anchor="middle" textLength="26.72" lengthAdjust="spacingAndGlyphs" stroke="#1c1c1c" stroke-width="0.2">6000</text>
<line x1="83.00" y1="432.50" x2="83.00" y2="436.20" stroke="#151515" stroke-width="1.1"/>
<text x="83.00" y="448.90" font-size="11.08" text-anchor="middle" textLength="26.72" lengthAdjust="spacingAndGlyphs" stroke="#1c1c1c" stroke-width="0.2">8000</text>
<text x="72.00" y="306.90" font-size="13.45" text-anchor="end" textLength="106.84" lengthAdjust="spacingAndGlyphs" stroke="#1c1c1c" stroke-width="0.2">Time per sample</text>
<text x="19.00" y="463.90" font-size="11.08" text-anchor="middle" textLength="91.22" lengthAdjust="spacingAndGlyphs" stroke="#1c1c1c" stroke-width="0.2">Number of points</text>
<rect x="164.20" y="313.20" width="186.50" height="119.30" fill="none" stroke="#151515" stroke-width="1.1"/>
<circle cx="173.2" cy="426.6" r="3.5" fill="#1f77b4"/>
<circle cx="192.0" cy="417.5" r="3.5" fill="#1f77b4"/>
<circle cx="210.8" cy="404.0" r="3.5" fill="#1f77b4"/>
<circle cx="229.6" cy="385.9" r="3.5" fill="#1f77b4"/>
<circle cx="248.4" cy="386.6" r="3.5" fill="#1f77b4"/>
<circle cx="267.2" cy="374.8" r="3.5" fill="#1f77b4"/>
<circle cx="286.0" cy="353.5" r="3.5" fill="#1f77b4"/>
<circle cx="304.8" cy="347.8" r="3.5" fill="#1f77b4"/>
<circle cx="323.6" cy="333.3" r="3.5" fill="#1f77b4"/>
<circle cx="342.4" cy="319.6" r="3.5" fill="#1f77b4"/>
<line x1="192.00" y1="432.50" x2="192.00" y2="436.20" stroke="#151515" stroke-width="1.1"/>
<text x="192.00" y="448.90" font-size="11.08" text-anchor="middle" textLength="13.36" lengthAdjust="spacingAndGlyphs" stroke="#1c1c1c" stroke-width="0.2">20</text>
<line x1="229.60" y1="432.50" x2="229.60" y2="436.20" stroke="#151515" stroke-width="1.1"/>
<text x="229.60" y="448.90" font-size="11.08" text-anchor="middle" textLength="13.36" lengthAdjust="spacingAndGlyphs" stroke="#1c1c1c" stroke-width="0.2">40</text>
<line x1="267.20" y1="432.50" x2="267.20" y2="436.20" stroke="#151515" stroke-width="1.1"/>
<text x="267.20" y="448.90" font-size="11.08" text-anchor="middle" textLength="13.36" lengthAdjust="spacingAndGlyphs" stroke="#1c1c1c" stroke-width="0.2">60</text>
<line x1="304.80" y1="432.50" x2="304.80" y2="436.20" stroke="#151515" stroke-width="1.1"/>
<text x="304.80" y="448.90" font-size="11.08" text-anchor="middle" textLength="13.36" lengthAdjust="spacingAndGlyphs" stroke="#1c1c1c" stroke-width="0.2">80</text>
<line x1="342.40" y1="432.50" x2="342.40" y2="436.20" stroke="#151515" stroke-width="1.1"/>
<text x="342.40" y="448.90" font-size="11.08" text-anchor="middle" textLength="20.04" lengthAdjust="spacingAndGlyphs" stroke="#1c1c1c" stroke-width="0.2">100</text>
<line x1="160.50" y1="390.00" x2="164.20" y2="390.00" stroke="#151515" stroke-width="1.1"/>
<text x="156.80" y="393.88" font-size="11.08" text-anchor="end" textLength="16.70" lengthAdjust="spacingAndGlyphs" stroke="#1c1c1c" stroke-width="0.2">0.5</text>
<line x1="160.50" y1="343.40" x2="164.20" y2="343.40" stroke="#151515" stroke-width="1.1"/>
<text x="156.80" y="347.28" font-size="11.08" text-anchor="end" textLength="16.70" lengthAdjust="spacingAndGlyphs" stroke="#1c1c1c" stroke-width="0.2">1.0</text>
<text x="142.90" y="307.90" font-size="17.48" font-weight="bold" stroke="#1c1c1c" stroke-width="0.55" textLength="13.17" lengthAdjust="spacingAndGlyphs">K</text>
<text x="257.45" y="306.90" font-size="13.45" text-anchor="middle" textLength="148.92" lengthAdjust="spacingAndGlyphs" stroke="#1c1c1c" stroke-width="0.2">Time per cluster center</text>
<text x="256.95" y="463.90" font-size="11.08" text-anchor="middle" textLength="138.92" lengthAdjust="spacingAndGlyphs" stroke="#1c1c1c" stroke-width="0.2">Number of cluster centers</text>
<text x="133.10" y="372.85" font-size="11.08" text-anchor="middle" textLength="40.72" lengthAdjust="spacingAndGlyphs" stroke="#1c1c1c" stroke-width="0.2" transform="rotate(-90 133.10 372.85)">time [s]</text>
<rect x="402.90" y="313.20" width="186.50" height="119.30" fill="none" stroke="#151515" stroke-width="1.1"/>
<circle cx="415.7" cy="419.5" r="3.5" fill="#1f77b4"/>
<circle cx="424.2" cy="418.0" r="3.5" fill="#1f77b4"/>
<circle cx="432.7" cy="412.8" r="3.5" fill="#1f77b4"/>
<circle cx="441.2" cy="410.7" r="3.5" fill="#1f77b4"/>
<circle cx="449.7" cy="406.5" r="3.5" fill="#1f77b4"/>
<circle cx="458.2" cy="403.4" r="3.5" fill="#1f77b4"/>
<circle cx="466.4" cy="400.4" r="3.5" fill="#1f77b4"/>
<circle cx="474.6" cy="390.7" r="3.5" fill="#1f77b4"/>
<line x1="399.20" y1="432.60" x2="402.90" y2="432.60" stroke="#151515" stroke-width="1.1"/>
<text x="395.50" y="436.48" font-size="11.08" text-anchor="end" textLength="23.38" lengthAdjust="spacingAndGlyphs" stroke="#1c1c1c" stroke-width="0.2">0.00</text>
<line x1="399.20" y1="392.20" x2="402.90" y2="392.20" stroke="#151515" stroke-width="1.1"/>
<text x="395.50" y="396.08" font-size="11.08" text-anchor="end" textLength="23.38" lengthAdjust="spacingAndGlyphs" stroke="#1c1c1c" stroke-width="0.2">0.05</text>
<line x1="399.20" y1="352.30" x2="402.90" y2="352.30" stroke="#151515" stroke-width="1.1"/>
<text x="395.50" y="356.18" font-size="11.08" text-anchor="end" textLength="23.38" lengthAdjust="spacingAndGlyphs" stroke="#1c1c1c" stroke-width="0.2">0.10</text>
<line x1="447.00" y1="432.50" x2="447.00" y2="436.20" stroke="#151515" stroke-width="1.1"/>
<text x="447.00" y="448.90" font-size="11.08" text-anchor="middle" textLength="16.70" lengthAdjust="spacingAndGlyphs" stroke="#1c1c1c" stroke-width="0.2">0.1</text>
<text x="383.91" y="307.90" font-size="17.48" font-weight="bold" stroke="#1c1c1c" stroke-width="0.55" textLength="10.18" lengthAdjust="spacingAndGlyphs">L</text>
<text x="428.50" y="306.90" font-size="13.45" text-anchor="start" textLength="120.82" lengthAdjust="spacingAndGlyphs" stroke="#1c1c1c" stroke-width="0.2">Time and accuracy</text>
<text x="455.00" y="463.90" font-size="11.08" text-anchor="start" textLength="76.39" lengthAdjust="spacingAndGlyphs" stroke="#1c1c1c" stroke-width="0.2">Cluster spread</text>
<text x="364.90" y="372.85" font-size="11.08" text-anchor="middle" textLength="40.72" lengthAdjust="spacingAndGlyphs" stroke="#1c1c1c" stroke-width="0.2" transform="rotate(-90 364.90 372.85)">time [s]</text>
</svg></body></html>
